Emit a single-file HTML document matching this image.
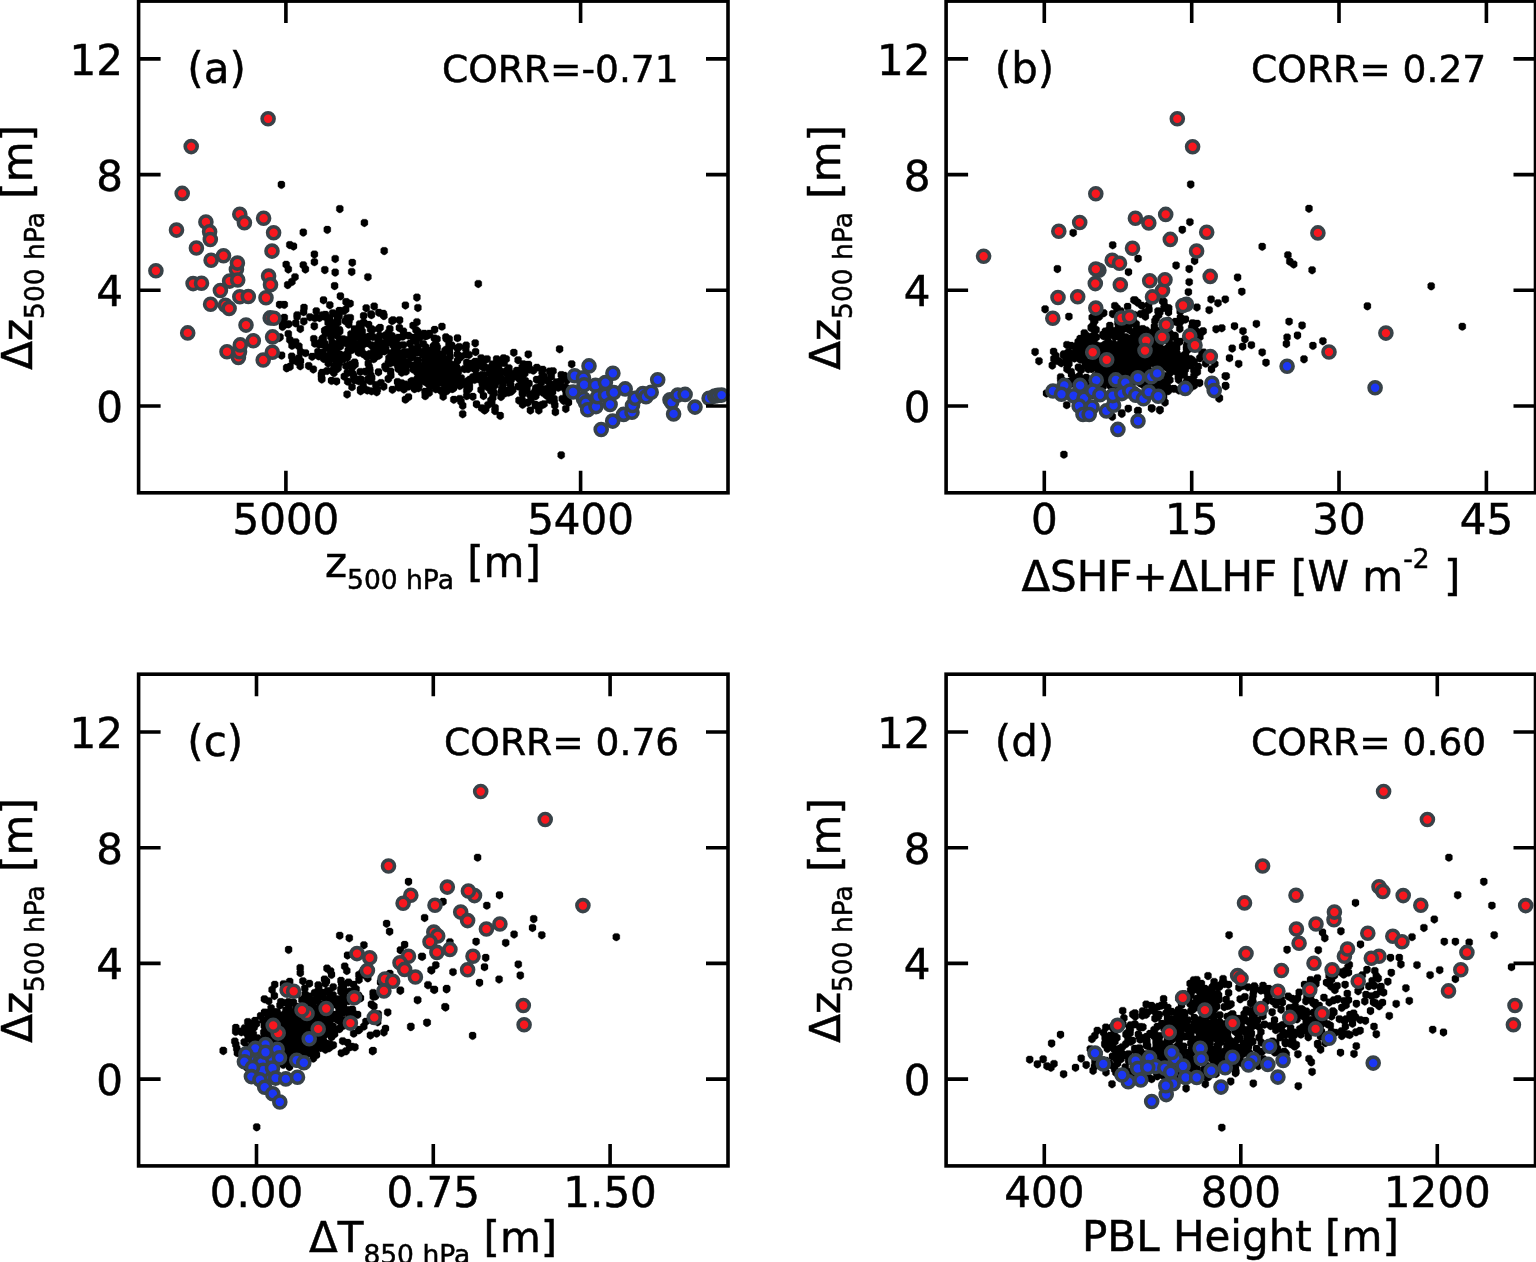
<!DOCTYPE html>
<html lang="en"><head><meta charset="utf-8"><title>Scatter panels</title>
<style>
html,body{margin:0;padding:0;background:#fff;}
body{width:1536px;height:1262px;overflow:hidden;}
svg{display:block;}
text{font-family:"DejaVu Sans","Liberation Sans",sans-serif;fill:#000;stroke:#000;stroke-width:0.5px;}
.t{font-size:42px;}
.s{font-size:26.5px;}
.c{font-size:37.6px;}
.k{fill:#000;stroke:#000;stroke-width:0.3;stroke-linejoin:round;}
.r circle{fill:#f8171e;stroke:#384248;stroke-width:3.6;}
.b circle{fill:#1b36f5;stroke:#384248;stroke-width:3.6;}
.ax{stroke:#000;stroke-width:3.6;fill:none;}
</style></head><body>
<svg width="1536" height="1262" viewBox="0 0 1536 1262">
<rect width="1536" height="1262" fill="#fff"/>

<g id="panel-a">
<path class="k" d="M333.3 325.4h3.6l1.7 1.5v4l-1.9 1.6-1.6.6-1.6-.6-1.9-1.6v-4zM444.1 333.6h3.6l1.7 1.5v4l-1.9 1.6-1.6.6-1.6-.6-1.9-1.6v-4zM383.9 345.5h3.6l1.7 1.5v4l-1.9 1.6-1.6.6-1.6-.6-1.9-1.6v-4zM347.2 316.9h3.6l1.7 1.5v4l-1.9 1.6-1.6.6-1.6-.6-1.9-1.6v-4zM396.7 381.9h3.6l1.7 1.5v4l-1.9 1.6-1.6.6-1.6-.6-1.9-1.6v-4zM344.9 298.9h3.6l1.7 1.5v4l-1.9 1.6-1.6.6-1.6-.6-1.9-1.6v-4zM494.8 355.5h3.6l1.7 1.5v4l-1.9 1.6-1.6.6-1.6-.6-1.9-1.6v-4zM431.7 368.6h3.6l1.7 1.5v4l-1.9 1.6-1.6.6-1.6-.6-1.9-1.6v-4zM493.3 404.2h3.6l1.7 1.5v4l-1.9 1.6-1.6.6-1.6-.6-1.9-1.6v-4zM346.5 347.3h3.6l1.7 1.5v4l-1.9 1.6-1.6.6-1.6-.6-1.9-1.6v-4zM424.3 332.3h3.6l1.7 1.5v4l-1.9 1.6-1.6.6-1.6-.6-1.9-1.6v-4zM449.7 342.6h3.6l1.7 1.5v4l-1.9 1.6-1.6.6-1.6-.6-1.9-1.6v-4zM322 355.2h3.6l1.7 1.5v4l-1.9 1.6-1.6.6-1.6-.6-1.9-1.6v-4zM414.2 326.4h3.6l1.7 1.5v4l-1.9 1.6-1.6.6-1.6-.6-1.9-1.6v-4zM535 384.3h3.6l1.7 1.5v4l-1.9 1.6-1.6.6-1.6-.6-1.9-1.6v-4zM521 388.7h3.6l1.7 1.5v4l-1.9 1.6-1.6.6-1.6-.6-1.9-1.6v-4zM433.7 364.2h3.6l1.7 1.5v4l-1.9 1.6-1.6.6-1.6-.6-1.9-1.6v-4zM395.6 349.3h3.6l1.7 1.5v4l-1.9 1.6-1.6.6-1.6-.6-1.9-1.6v-4zM456.4 374.3h3.6l1.7 1.5v4l-1.9 1.6-1.6.6-1.6-.6-1.9-1.6v-4zM358.7 385.7h3.6l1.7 1.5v4l-1.9 1.6-1.6.6-1.6-.6-1.9-1.6v-4zM346.9 320.8h3.6l1.7 1.5v4l-1.9 1.6-1.6.6-1.6-.6-1.9-1.6v-4zM423.4 392.4h3.6l1.7 1.5v4l-1.9 1.6-1.6.6-1.6-.6-1.9-1.6v-4zM479.8 360.9h3.6l1.7 1.5v4l-1.9 1.6-1.6.6-1.6-.6-1.9-1.6v-4zM417.6 362.3h3.6l1.7 1.5v4l-1.9 1.6-1.6.6-1.6-.6-1.9-1.6v-4zM282.5 301.1h3.6l1.7 1.5v4l-1.9 1.6-1.6.6-1.6-.6-1.9-1.6v-4zM433.3 383.4h3.6l1.7 1.5v4l-1.9 1.6-1.6.6-1.6-.6-1.9-1.6v-4zM355.3 329.9h3.6l1.7 1.5v4l-1.9 1.6-1.6.6-1.6-.6-1.9-1.6v-4zM490.9 360.7h3.6l1.7 1.5v4l-1.9 1.6-1.6.6-1.6-.6-1.9-1.6v-4zM423.3 355.8h3.6l1.7 1.5v4l-1.9 1.6-1.6.6-1.6-.6-1.9-1.6v-4zM427.4 389.1h3.6l1.7 1.5v4l-1.9 1.6-1.6.6-1.6-.6-1.9-1.6v-4zM332.3 362.2h3.6l1.7 1.5v4l-1.9 1.6-1.6.6-1.6-.6-1.9-1.6v-4zM520.2 370.4h3.6l1.7 1.5v4l-1.9 1.6-1.6.6-1.6-.6-1.9-1.6v-4zM533.6 401.1h3.6l1.7 1.5v4l-1.9 1.6-1.6.6-1.6-.6-1.9-1.6v-4zM540.3 373.5h3.6l1.7 1.5v4l-1.9 1.6-1.6.6-1.6-.6-1.9-1.6v-4zM332.2 347.7h3.6l1.7 1.5v4l-1.9 1.6-1.6.6-1.6-.6-1.9-1.6v-4zM502.3 359.2h3.6l1.7 1.5v4l-1.9 1.6-1.6.6-1.6-.6-1.9-1.6v-4zM293.9 319.6h3.6l1.7 1.5v4l-1.9 1.6-1.6.6-1.6-.6-1.9-1.6v-4zM317.2 340.8h3.6l1.7 1.5v4l-1.9 1.6-1.6.6-1.6-.6-1.9-1.6v-4zM403.2 380.7h3.6l1.7 1.5v4l-1.9 1.6-1.6.6-1.6-.6-1.9-1.6v-4zM313 314.4h3.6l1.7 1.5v4l-1.9 1.6-1.6.6-1.6-.6-1.9-1.6v-4zM322.9 326.9h3.6l1.7 1.5v4l-1.9 1.6-1.6.6-1.6-.6-1.9-1.6v-4zM277.2 334.2h3.6l1.7 1.5v4l-1.9 1.6-1.6.6-1.6-.6-1.9-1.6v-4zM428.4 374.6h3.6l1.7 1.5v4l-1.9 1.6-1.6.6-1.6-.6-1.9-1.6v-4zM546.8 389.3h3.6l1.7 1.5v4l-1.9 1.6-1.6.6-1.6-.6-1.9-1.6v-4zM359.5 345.2h3.6l1.7 1.5v4l-1.9 1.6-1.6.6-1.6-.6-1.9-1.6v-4zM454.7 363.7h3.6l1.7 1.5v4l-1.9 1.6-1.6.6-1.6-.6-1.9-1.6v-4zM421.5 340.2h3.6l1.7 1.5v4l-1.9 1.6-1.6.6-1.6-.6-1.9-1.6v-4zM337.3 312.6h3.6l1.7 1.5v4l-1.9 1.6-1.6.6-1.6-.6-1.9-1.6v-4zM338.5 354.4h3.6l1.7 1.5v4l-1.9 1.6-1.6.6-1.6-.6-1.9-1.6v-4zM298.5 325.2h3.6l1.7 1.5v4l-1.9 1.6-1.6.6-1.6-.6-1.9-1.6v-4zM568.2 385.3h3.6l1.7 1.5v4l-1.9 1.6-1.6.6-1.6-.6-1.9-1.6v-4zM437.8 379.2h3.6l1.7 1.5v4l-1.9 1.6-1.6.6-1.6-.6-1.9-1.6v-4zM409.5 381.6h3.6l1.7 1.5v4l-1.9 1.6-1.6.6-1.6-.6-1.9-1.6v-4zM350.2 383.4h3.6l1.7 1.5v4l-1.9 1.6-1.6.6-1.6-.6-1.9-1.6v-4zM408.2 340.1h3.6l1.7 1.5v4l-1.9 1.6-1.6.6-1.6-.6-1.9-1.6v-4zM446.8 344.8h3.6l1.7 1.5v4l-1.9 1.6-1.6.6-1.6-.6-1.9-1.6v-4zM349.2 330.6h3.6l1.7 1.5v4l-1.9 1.6-1.6.6-1.6-.6-1.9-1.6v-4zM434.1 376.5h3.6l1.7 1.5v4l-1.9 1.6-1.6.6-1.6-.6-1.9-1.6v-4zM335.9 316.9h3.6l1.7 1.5v4l-1.9 1.6-1.6.6-1.6-.6-1.9-1.6v-4zM321.7 296.5h3.6l1.7 1.5v4l-1.9 1.6-1.6.6-1.6-.6-1.9-1.6v-4zM335.6 315.5h3.6l1.7 1.5v4l-1.9 1.6-1.6.6-1.6-.6-1.9-1.6v-4zM444.3 346.2h3.6l1.7 1.5v4l-1.9 1.6-1.6.6-1.6-.6-1.9-1.6v-4zM345.5 369.3h3.6l1.7 1.5v4l-1.9 1.6-1.6.6-1.6-.6-1.9-1.6v-4zM282.5 313.9h3.6l1.7 1.5v4l-1.9 1.6-1.6.6-1.6-.6-1.9-1.6v-4zM431.6 342.7h3.6l1.7 1.5v4l-1.9 1.6-1.6.6-1.6-.6-1.9-1.6v-4zM417.4 366.4h3.6l1.7 1.5v4l-1.9 1.6-1.6.6-1.6-.6-1.9-1.6v-4zM433.9 356.2h3.6l1.7 1.5v4l-1.9 1.6-1.6.6-1.6-.6-1.9-1.6v-4zM501.1 368.5h3.6l1.7 1.5v4l-1.9 1.6-1.6.6-1.6-.6-1.9-1.6v-4zM509 381.9h3.6l1.7 1.5v4l-1.9 1.6-1.6.6-1.6-.6-1.9-1.6v-4zM302 317.7h3.6l1.7 1.5v4l-1.9 1.6-1.6.6-1.6-.6-1.9-1.6v-4zM290.8 356.9h3.6l1.7 1.5v4l-1.9 1.6-1.6.6-1.6-.6-1.9-1.6v-4zM330.4 367.2h3.6l1.7 1.5v4l-1.9 1.6-1.6.6-1.6-.6-1.9-1.6v-4zM336.7 343.7h3.6l1.7 1.5v4l-1.9 1.6-1.6.6-1.6-.6-1.9-1.6v-4zM494.6 361.8h3.6l1.7 1.5v4l-1.9 1.6-1.6.6-1.6-.6-1.9-1.6v-4zM467.2 351.2h3.6l1.7 1.5v4l-1.9 1.6-1.6.6-1.6-.6-1.9-1.6v-4zM508 380.5h3.6l1.7 1.5v4l-1.9 1.6-1.6.6-1.6-.6-1.9-1.6v-4zM455.4 370.1h3.6l1.7 1.5v4l-1.9 1.6-1.6.6-1.6-.6-1.9-1.6v-4zM420.4 350.6h3.6l1.7 1.5v4l-1.9 1.6-1.6.6-1.6-.6-1.9-1.6v-4zM308.1 313.5h3.6l1.7 1.5v4l-1.9 1.6-1.6.6-1.6-.6-1.9-1.6v-4zM316.1 348.3h3.6l1.7 1.5v4l-1.9 1.6-1.6.6-1.6-.6-1.9-1.6v-4zM326.3 319h3.6l1.7 1.5v4l-1.9 1.6-1.6.6-1.6-.6-1.9-1.6v-4zM520.4 363.7h3.6l1.7 1.5v4l-1.9 1.6-1.6.6-1.6-.6-1.9-1.6v-4zM422.4 329.9h3.6l1.7 1.5v4l-1.9 1.6-1.6.6-1.6-.6-1.9-1.6v-4zM377 340.4h3.6l1.7 1.5v4l-1.9 1.6-1.6.6-1.6-.6-1.9-1.6v-4zM540.3 368.6h3.6l1.7 1.5v4l-1.9 1.6-1.6.6-1.6-.6-1.9-1.6v-4zM464 345.5h3.6l1.7 1.5v4l-1.9 1.6-1.6.6-1.6-.6-1.9-1.6v-4zM520.8 401h3.6l1.7 1.5v4l-1.9 1.6-1.6.6-1.6-.6-1.9-1.6v-4zM434.1 362.5h3.6l1.7 1.5v4l-1.9 1.6-1.6.6-1.6-.6-1.9-1.6v-4zM416 328.3h3.6l1.7 1.5v4l-1.9 1.6-1.6.6-1.6-.6-1.9-1.6v-4zM562.4 371.9h3.6l1.7 1.5v4l-1.9 1.6-1.6.6-1.6-.6-1.9-1.6v-4zM459.2 398.1h3.6l1.7 1.5v4l-1.9 1.6-1.6.6-1.6-.6-1.9-1.6v-4zM551.2 367.5h3.6l1.7 1.5v4l-1.9 1.6-1.6.6-1.6-.6-1.9-1.6v-4zM358.5 368.2h3.6l1.7 1.5v4l-1.9 1.6-1.6.6-1.6-.6-1.9-1.6v-4zM527.2 379.9h3.6l1.7 1.5v4l-1.9 1.6-1.6.6-1.6-.6-1.9-1.6v-4zM456.4 375.5h3.6l1.7 1.5v4l-1.9 1.6-1.6.6-1.6-.6-1.9-1.6v-4zM369.9 374.1h3.6l1.7 1.5v4l-1.9 1.6-1.6.6-1.6-.6-1.9-1.6v-4zM396.9 383.9h3.6l1.7 1.5v4l-1.9 1.6-1.6.6-1.6-.6-1.9-1.6v-4zM325.7 343.8h3.6l1.7 1.5v4l-1.9 1.6-1.6.6-1.6-.6-1.9-1.6v-4zM396.7 381.8h3.6l1.7 1.5v4l-1.9 1.6-1.6.6-1.6-.6-1.9-1.6v-4zM566.7 398.9h3.6l1.7 1.5v4l-1.9 1.6-1.6.6-1.6-.6-1.9-1.6v-4zM395.2 358h3.6l1.7 1.5v4l-1.9 1.6-1.6.6-1.6-.6-1.9-1.6v-4zM466.8 385.6h3.6l1.7 1.5v4l-1.9 1.6-1.6.6-1.6-.6-1.9-1.6v-4zM486.1 401.4h3.6l1.7 1.5v4l-1.9 1.6-1.6.6-1.6-.6-1.9-1.6v-4zM290.2 342h3.6l1.7 1.5v4l-1.9 1.6-1.6.6-1.6-.6-1.9-1.6v-4zM286.5 330.3h3.6l1.7 1.5v4l-1.9 1.6-1.6.6-1.6-.6-1.9-1.6v-4zM343.6 317.5h3.6l1.7 1.5v4l-1.9 1.6-1.6.6-1.6-.6-1.9-1.6v-4zM496.7 363h3.6l1.7 1.5v4l-1.9 1.6-1.6.6-1.6-.6-1.9-1.6v-4zM377 336.4h3.6l1.7 1.5v4l-1.9 1.6-1.6.6-1.6-.6-1.9-1.6v-4zM429.1 378.4h3.6l1.7 1.5v4l-1.9 1.6-1.6.6-1.6-.6-1.9-1.6v-4zM432.9 341.4h3.6l1.7 1.5v4l-1.9 1.6-1.6.6-1.6-.6-1.9-1.6v-4zM527.9 365.8h3.6l1.7 1.5v4l-1.9 1.6-1.6.6-1.6-.6-1.9-1.6v-4zM355.9 333.1h3.6l1.7 1.5v4l-1.9 1.6-1.6.6-1.6-.6-1.9-1.6v-4zM297 354.5h3.6l1.7 1.5v4l-1.9 1.6-1.6.6-1.6-.6-1.9-1.6v-4zM483.9 405.6h3.6l1.7 1.5v4l-1.9 1.6-1.6.6-1.6-.6-1.9-1.6v-4zM395.7 378.2h3.6l1.7 1.5v4l-1.9 1.6-1.6.6-1.6-.6-1.9-1.6v-4zM343.9 305.9h3.6l1.7 1.5v4l-1.9 1.6-1.6.6-1.6-.6-1.9-1.6v-4zM327.2 352.5h3.6l1.7 1.5v4l-1.9 1.6-1.6.6-1.6-.6-1.9-1.6v-4zM346.7 346.6h3.6l1.7 1.5v4l-1.9 1.6-1.6.6-1.6-.6-1.9-1.6v-4zM436.3 371.6h3.6l1.7 1.5v4l-1.9 1.6-1.6.6-1.6-.6-1.9-1.6v-4zM323.6 313.3h3.6l1.7 1.5v4l-1.9 1.6-1.6.6-1.6-.6-1.9-1.6v-4zM337.5 359.4h3.6l1.7 1.5v4l-1.9 1.6-1.6.6-1.6-.6-1.9-1.6v-4zM449.8 341.7h3.6l1.7 1.5v4l-1.9 1.6-1.6.6-1.6-.6-1.9-1.6v-4zM399.5 363.4h3.6l1.7 1.5v4l-1.9 1.6-1.6.6-1.6-.6-1.9-1.6v-4zM344.7 336.3h3.6l1.7 1.5v4l-1.9 1.6-1.6.6-1.6-.6-1.9-1.6v-4zM441.7 379.1h3.6l1.7 1.5v4l-1.9 1.6-1.6.6-1.6-.6-1.9-1.6v-4zM427.6 329.9h3.6l1.7 1.5v4l-1.9 1.6-1.6.6-1.6-.6-1.9-1.6v-4zM298.7 357.5h3.6l1.7 1.5v4l-1.9 1.6-1.6.6-1.6-.6-1.9-1.6v-4zM301.8 308.4h3.6l1.7 1.5v4l-1.9 1.6-1.6.6-1.6-.6-1.9-1.6v-4zM376.7 368.5h3.6l1.7 1.5v4l-1.9 1.6-1.6.6-1.6-.6-1.9-1.6v-4zM352 375.8h3.6l1.7 1.5v4l-1.9 1.6-1.6.6-1.6-.6-1.9-1.6v-4zM474.7 400.6h3.6l1.7 1.5v4l-1.9 1.6-1.6.6-1.6-.6-1.9-1.6v-4zM503 389.7h3.6l1.7 1.5v4l-1.9 1.6-1.6.6-1.6-.6-1.9-1.6v-4zM472.8 376.1h3.6l1.7 1.5v4l-1.9 1.6-1.6.6-1.6-.6-1.9-1.6v-4zM534.8 376h3.6l1.7 1.5v4l-1.9 1.6-1.6.6-1.6-.6-1.9-1.6v-4zM479.4 354.4h3.6l1.7 1.5v4l-1.9 1.6-1.6.6-1.6-.6-1.9-1.6v-4zM378.3 324.1h3.6l1.7 1.5v4l-1.9 1.6-1.6.6-1.6-.6-1.9-1.6v-4zM542.7 388.9h3.6l1.7 1.5v4l-1.9 1.6-1.6.6-1.6-.6-1.9-1.6v-4zM319.6 371.1h3.6l1.7 1.5v4l-1.9 1.6-1.6.6-1.6-.6-1.9-1.6v-4zM348.3 299.9h3.6l1.7 1.5v4l-1.9 1.6-1.6.6-1.6-.6-1.9-1.6v-4zM360.4 331.6h3.6l1.7 1.5v4l-1.9 1.6-1.6.6-1.6-.6-1.9-1.6v-4zM429.8 381.7h3.6l1.7 1.5v4l-1.9 1.6-1.6.6-1.6-.6-1.9-1.6v-4zM459.5 352.7h3.6l1.7 1.5v4l-1.9 1.6-1.6.6-1.6-.6-1.9-1.6v-4zM328 301.5h3.6l1.7 1.5v4l-1.9 1.6-1.6.6-1.6-.6-1.9-1.6v-4zM387.6 331.8h3.6l1.7 1.5v4l-1.9 1.6-1.6.6-1.6-.6-1.9-1.6v-4zM312.5 322.6h3.6l1.7 1.5v4l-1.9 1.6-1.6.6-1.6-.6-1.9-1.6v-4zM313 339.9h3.6l1.7 1.5v4l-1.9 1.6-1.6.6-1.6-.6-1.9-1.6v-4zM421.1 348.3h3.6l1.7 1.5v4l-1.9 1.6-1.6.6-1.6-.6-1.9-1.6v-4zM406.8 382.8h3.6l1.7 1.5v4l-1.9 1.6-1.6.6-1.6-.6-1.9-1.6v-4zM491.2 361.3h3.6l1.7 1.5v4l-1.9 1.6-1.6.6-1.6-.6-1.9-1.6v-4zM559.2 376.9h3.6l1.7 1.5v4l-1.9 1.6-1.6.6-1.6-.6-1.9-1.6v-4zM471 393h3.6l1.7 1.5v4l-1.9 1.6-1.6.6-1.6-.6-1.9-1.6v-4zM443.4 363.9h3.6l1.7 1.5v4l-1.9 1.6-1.6.6-1.6-.6-1.9-1.6v-4zM337.9 338.5h3.6l1.7 1.5v4l-1.9 1.6-1.6.6-1.6-.6-1.9-1.6v-4zM485.3 355.4h3.6l1.7 1.5v4l-1.9 1.6-1.6.6-1.6-.6-1.9-1.6v-4zM381.5 309.9h3.6l1.7 1.5v4l-1.9 1.6-1.6.6-1.6-.6-1.9-1.6v-4zM525.1 385.6h3.6l1.7 1.5v4l-1.9 1.6-1.6.6-1.6-.6-1.9-1.6v-4zM526.1 399h3.6l1.7 1.5v4l-1.9 1.6-1.6.6-1.6-.6-1.9-1.6v-4zM535.5 387.6h3.6l1.7 1.5v4l-1.9 1.6-1.6.6-1.6-.6-1.9-1.6v-4zM334.7 377.7h3.6l1.7 1.5v4l-1.9 1.6-1.6.6-1.6-.6-1.9-1.6v-4zM500 385.7h3.6l1.7 1.5v4l-1.9 1.6-1.6.6-1.6-.6-1.9-1.6v-4zM411.3 322h3.6l1.7 1.5v4l-1.9 1.6-1.6.6-1.6-.6-1.9-1.6v-4zM280.7 319.6h3.6l1.7 1.5v4l-1.9 1.6-1.6.6-1.6-.6-1.9-1.6v-4zM390.6 386h3.6l1.7 1.5v4l-1.9 1.6-1.6.6-1.6-.6-1.9-1.6v-4zM338.6 292.6h3.6l1.7 1.5v4l-1.9 1.6-1.6.6-1.6-.6-1.9-1.6v-4zM457.4 343.3h3.6l1.7 1.5v4l-1.9 1.6-1.6.6-1.6-.6-1.9-1.6v-4zM332.1 369.3h3.6l1.7 1.5v4l-1.9 1.6-1.6.6-1.6-.6-1.9-1.6v-4zM421.5 375.2h3.6l1.7 1.5v4l-1.9 1.6-1.6.6-1.6-.6-1.9-1.6v-4zM426.5 380.3h3.6l1.7 1.5v4l-1.9 1.6-1.6.6-1.6-.6-1.9-1.6v-4zM402.1 385.7h3.6l1.7 1.5v4l-1.9 1.6-1.6.6-1.6-.6-1.9-1.6v-4zM448.1 360.2h3.6l1.7 1.5v4l-1.9 1.6-1.6.6-1.6-.6-1.9-1.6v-4zM319.7 339.6h3.6l1.7 1.5v4l-1.9 1.6-1.6.6-1.6-.6-1.9-1.6v-4zM375 346.9h3.6l1.7 1.5v4l-1.9 1.6-1.6.6-1.6-.6-1.9-1.6v-4zM492.5 389.4h3.6l1.7 1.5v4l-1.9 1.6-1.6.6-1.6-.6-1.9-1.6v-4zM436 363.4h3.6l1.7 1.5v4l-1.9 1.6-1.6.6-1.6-.6-1.9-1.6v-4zM401.5 341.4h3.6l1.7 1.5v4l-1.9 1.6-1.6.6-1.6-.6-1.9-1.6v-4zM475.9 358.3h3.6l1.7 1.5v4l-1.9 1.6-1.6.6-1.6-.6-1.9-1.6v-4zM489.4 363.6h3.6l1.7 1.5v4l-1.9 1.6-1.6.6-1.6-.6-1.9-1.6v-4zM537.1 384h3.6l1.7 1.5v4l-1.9 1.6-1.6.6-1.6-.6-1.9-1.6v-4zM554.8 378.6h3.6l1.7 1.5v4l-1.9 1.6-1.6.6-1.6-.6-1.9-1.6v-4zM515 369.6h3.6l1.7 1.5v4l-1.9 1.6-1.6.6-1.6-.6-1.9-1.6v-4zM381.4 311.3h3.6l1.7 1.5v4l-1.9 1.6-1.6.6-1.6-.6-1.9-1.6v-4zM433 362.6h3.6l1.7 1.5v4l-1.9 1.6-1.6.6-1.6-.6-1.9-1.6v-4zM397.3 341.8h3.6l1.7 1.5v4l-1.9 1.6-1.6.6-1.6-.6-1.9-1.6v-4zM361.8 312.3h3.6l1.7 1.5v4l-1.9 1.6-1.6.6-1.6-.6-1.9-1.6v-4zM398.9 361.3h3.6l1.7 1.5v4l-1.9 1.6-1.6.6-1.6-.6-1.9-1.6v-4zM465.7 377.8h3.6l1.7 1.5v4l-1.9 1.6-1.6.6-1.6-.6-1.9-1.6v-4zM397.8 316.6h3.6l1.7 1.5v4l-1.9 1.6-1.6.6-1.6-.6-1.9-1.6v-4zM446.2 373.7h3.6l1.7 1.5v4l-1.9 1.6-1.6.6-1.6-.6-1.9-1.6v-4zM370.5 326.3h3.6l1.7 1.5v4l-1.9 1.6-1.6.6-1.6-.6-1.9-1.6v-4zM472.7 364.6h3.6l1.7 1.5v4l-1.9 1.6-1.6.6-1.6-.6-1.9-1.6v-4zM362.8 385.4h3.6l1.7 1.5v4l-1.9 1.6-1.6.6-1.6-.6-1.9-1.6v-4zM425.6 362.3h3.6l1.7 1.5v4l-1.9 1.6-1.6.6-1.6-.6-1.9-1.6v-4zM455.4 371.1h3.6l1.7 1.5v4l-1.9 1.6-1.6.6-1.6-.6-1.9-1.6v-4zM365.3 353.4h3.6l1.7 1.5v4l-1.9 1.6-1.6.6-1.6-.6-1.9-1.6v-4zM452 396h3.6l1.7 1.5v4l-1.9 1.6-1.6.6-1.6-.6-1.9-1.6v-4zM483.1 363.5h3.6l1.7 1.5v4l-1.9 1.6-1.6.6-1.6-.6-1.9-1.6v-4zM429.8 354.8h3.6l1.7 1.5v4l-1.9 1.6-1.6.6-1.6-.6-1.9-1.6v-4zM443.8 383.3h3.6l1.7 1.5v4l-1.9 1.6-1.6.6-1.6-.6-1.9-1.6v-4zM505.1 376.2h3.6l1.7 1.5v4l-1.9 1.6-1.6.6-1.6-.6-1.9-1.6v-4zM292.3 340.5h3.6l1.7 1.5v4l-1.9 1.6-1.6.6-1.6-.6-1.9-1.6v-4zM327.8 314.6h3.6l1.7 1.5v4l-1.9 1.6-1.6.6-1.6-.6-1.9-1.6v-4zM370.4 351.5h3.6l1.7 1.5v4l-1.9 1.6-1.6.6-1.6-.6-1.9-1.6v-4zM401 332.9h3.6l1.7 1.5v4l-1.9 1.6-1.6.6-1.6-.6-1.9-1.6v-4zM474.4 371.5h3.6l1.7 1.5v4l-1.9 1.6-1.6.6-1.6-.6-1.9-1.6v-4zM361.8 318.8h3.6l1.7 1.5v4l-1.9 1.6-1.6.6-1.6-.6-1.9-1.6v-4zM320.3 369h3.6l1.7 1.5v4l-1.9 1.6-1.6.6-1.6-.6-1.9-1.6v-4zM417.7 362.8h3.6l1.7 1.5v4l-1.9 1.6-1.6.6-1.6-.6-1.9-1.6v-4zM516.3 356.5h3.6l1.7 1.5v4l-1.9 1.6-1.6.6-1.6-.6-1.9-1.6v-4zM326.4 359.6h3.6l1.7 1.5v4l-1.9 1.6-1.6.6-1.6-.6-1.9-1.6v-4zM377 309h3.6l1.7 1.5v4l-1.9 1.6-1.6.6-1.6-.6-1.9-1.6v-4zM277.8 301h3.6l1.7 1.5v4l-1.9 1.6-1.6.6-1.6-.6-1.9-1.6v-4zM391.3 316.6h3.6l1.7 1.5v4l-1.9 1.6-1.6.6-1.6-.6-1.9-1.6v-4zM479.8 404.4h3.6l1.7 1.5v4l-1.9 1.6-1.6.6-1.6-.6-1.9-1.6v-4zM371.1 333.2h3.6l1.7 1.5v4l-1.9 1.6-1.6.6-1.6-.6-1.9-1.6v-4zM375.5 386.3h3.6l1.7 1.5v4l-1.9 1.6-1.6.6-1.6-.6-1.9-1.6v-4zM402.8 367h3.6l1.7 1.5v4l-1.9 1.6-1.6.6-1.6-.6-1.9-1.6v-4zM295.2 358h3.6l1.7 1.5v4l-1.9 1.6-1.6.6-1.6-.6-1.9-1.6v-4zM423.6 378.3h3.6l1.7 1.5v4l-1.9 1.6-1.6.6-1.6-.6-1.9-1.6v-4zM366.5 375.5h3.6l1.7 1.5v4l-1.9 1.6-1.6.6-1.6-.6-1.9-1.6v-4zM376.3 338.2h3.6l1.7 1.5v4l-1.9 1.6-1.6.6-1.6-.6-1.9-1.6v-4zM540.9 365.9h3.6l1.7 1.5v4l-1.9 1.6-1.6.6-1.6-.6-1.9-1.6v-4zM455.7 344.7h3.6l1.7 1.5v4l-1.9 1.6-1.6.6-1.6-.6-1.9-1.6v-4zM381.8 339.5h3.6l1.7 1.5v4l-1.9 1.6-1.6.6-1.6-.6-1.9-1.6v-4zM521.4 360.5h3.6l1.7 1.5v4l-1.9 1.6-1.6.6-1.6-.6-1.9-1.6v-4zM351 370.3h3.6l1.7 1.5v4l-1.9 1.6-1.6.6-1.6-.6-1.9-1.6v-4zM509.7 370.9h3.6l1.7 1.5v4l-1.9 1.6-1.6.6-1.6-.6-1.9-1.6v-4zM380.4 340.1h3.6l1.7 1.5v4l-1.9 1.6-1.6.6-1.6-.6-1.9-1.6v-4zM280.7 323.1h3.6l1.7 1.5v4l-1.9 1.6-1.6.6-1.6-.6-1.9-1.6v-4zM418.1 333.7h3.6l1.7 1.5v4l-1.9 1.6-1.6.6-1.6-.6-1.9-1.6v-4zM546.6 378h3.6l1.7 1.5v4l-1.9 1.6-1.6.6-1.6-.6-1.9-1.6v-4zM342.2 307.2h3.6l1.7 1.5v4l-1.9 1.6-1.6.6-1.6-.6-1.9-1.6v-4zM489.6 380.9h3.6l1.7 1.5v4l-1.9 1.6-1.6.6-1.6-.6-1.9-1.6v-4zM559.5 371.3h3.6l1.7 1.5v4l-1.9 1.6-1.6.6-1.6-.6-1.9-1.6v-4zM434.5 341.9h3.6l1.7 1.5v4l-1.9 1.6-1.6.6-1.6-.6-1.9-1.6v-4zM411.3 365.7h3.6l1.7 1.5v4l-1.9 1.6-1.6.6-1.6-.6-1.9-1.6v-4zM439 387.1h3.6l1.7 1.5v4l-1.9 1.6-1.6.6-1.6-.6-1.9-1.6v-4zM322.8 339.9h3.6l1.7 1.5v4l-1.9 1.6-1.6.6-1.6-.6-1.9-1.6v-4zM423.2 332.3h3.6l1.7 1.5v4l-1.9 1.6-1.6.6-1.6-.6-1.9-1.6v-4zM523.9 379.9h3.6l1.7 1.5v4l-1.9 1.6-1.6.6-1.6-.6-1.9-1.6v-4zM424.6 374.7h3.6l1.7 1.5v4l-1.9 1.6-1.6.6-1.6-.6-1.9-1.6v-4zM480.5 380h3.6l1.7 1.5v4l-1.9 1.6-1.6.6-1.6-.6-1.9-1.6v-4zM501.8 354.6h3.6l1.7 1.5v4l-1.9 1.6-1.6.6-1.6-.6-1.9-1.6v-4zM417.2 381.8h3.6l1.7 1.5v4l-1.9 1.6-1.6.6-1.6-.6-1.9-1.6v-4zM374 381.2h3.6l1.7 1.5v4l-1.9 1.6-1.6.6-1.6-.6-1.9-1.6v-4zM317.7 314.2h3.6l1.7 1.5v4l-1.9 1.6-1.6.6-1.6-.6-1.9-1.6v-4zM390.2 317.2h3.6l1.7 1.5v4l-1.9 1.6-1.6.6-1.6-.6-1.9-1.6v-4zM284.7 320.4h3.6l1.7 1.5v4l-1.9 1.6-1.6.6-1.6-.6-1.9-1.6v-4zM311.5 365.7h3.6l1.7 1.5v4l-1.9 1.6-1.6.6-1.6-.6-1.9-1.6v-4zM420.8 375.4h3.6l1.7 1.5v4l-1.9 1.6-1.6.6-1.6-.6-1.9-1.6v-4zM278.2 333.6h3.6l1.7 1.5v4l-1.9 1.6-1.6.6-1.6-.6-1.9-1.6v-4zM382.1 312.3h3.6l1.7 1.5v4l-1.9 1.6-1.6.6-1.6-.6-1.9-1.6v-4zM326.1 327.2h3.6l1.7 1.5v4l-1.9 1.6-1.6.6-1.6-.6-1.9-1.6v-4zM473.8 348.3h3.6l1.7 1.5v4l-1.9 1.6-1.6.6-1.6-.6-1.9-1.6v-4zM435.1 345.2h3.6l1.7 1.5v4l-1.9 1.6-1.6.6-1.6-.6-1.9-1.6v-4zM411.4 333.9h3.6l1.7 1.5v4l-1.9 1.6-1.6.6-1.6-.6-1.9-1.6v-4zM411 379.7h3.6l1.7 1.5v4l-1.9 1.6-1.6.6-1.6-.6-1.9-1.6v-4zM336.6 310.3h3.6l1.7 1.5v4l-1.9 1.6-1.6.6-1.6-.6-1.9-1.6v-4zM369.6 311.4h3.6l1.7 1.5v4l-1.9 1.6-1.6.6-1.6-.6-1.9-1.6v-4zM399.7 379.4h3.6l1.7 1.5v4l-1.9 1.6-1.6.6-1.6-.6-1.9-1.6v-4zM344.6 351.1h3.6l1.7 1.5v4l-1.9 1.6-1.6.6-1.6-.6-1.9-1.6v-4zM384.2 339.8h3.6l1.7 1.5v4l-1.9 1.6-1.6.6-1.6-.6-1.9-1.6v-4zM326.4 326h3.6l1.7 1.5v4l-1.9 1.6-1.6.6-1.6-.6-1.9-1.6v-4zM481.3 357.7h3.6l1.7 1.5v4l-1.9 1.6-1.6.6-1.6-.6-1.9-1.6v-4zM359.6 347.7h3.6l1.7 1.5v4l-1.9 1.6-1.6.6-1.6-.6-1.9-1.6v-4zM344.3 298.3h3.6l1.7 1.5v4l-1.9 1.6-1.6.6-1.6-.6-1.9-1.6v-4zM455.6 350.8h3.6l1.7 1.5v4l-1.9 1.6-1.6.6-1.6-.6-1.9-1.6v-4zM488 369.8h3.6l1.7 1.5v4l-1.9 1.6-1.6.6-1.6-.6-1.9-1.6v-4zM433.9 350.8h3.6l1.7 1.5v4l-1.9 1.6-1.6.6-1.6-.6-1.9-1.6v-4zM416.6 384.5h3.6l1.7 1.5v4l-1.9 1.6-1.6.6-1.6-.6-1.9-1.6v-4zM288 336.3h3.6l1.7 1.5v4l-1.9 1.6-1.6.6-1.6-.6-1.9-1.6v-4zM375.6 341.1h3.6l1.7 1.5v4l-1.9 1.6-1.6.6-1.6-.6-1.9-1.6v-4zM549.5 372.9h3.6l1.7 1.5v4l-1.9 1.6-1.6.6-1.6-.6-1.9-1.6v-4zM441.4 393h3.6l1.7 1.5v4l-1.9 1.6-1.6.6-1.6-.6-1.9-1.6v-4zM302.2 303.9h3.6l1.7 1.5v4l-1.9 1.6-1.6.6-1.6-.6-1.9-1.6v-4zM451.8 361.9h3.6l1.7 1.5v4l-1.9 1.6-1.6.6-1.6-.6-1.9-1.6v-4zM286.8 320.6h3.6l1.7 1.5v4l-1.9 1.6-1.6.6-1.6-.6-1.9-1.6v-4zM441.2 360.6h3.6l1.7 1.5v4l-1.9 1.6-1.6.6-1.6-.6-1.9-1.6v-4zM288.2 363.1h3.6l1.7 1.5v4l-1.9 1.6-1.6.6-1.6-.6-1.9-1.6v-4zM425.6 331.8h3.6l1.7 1.5v4l-1.9 1.6-1.6.6-1.6-.6-1.9-1.6v-4zM444.5 335.1h3.6l1.7 1.5v4l-1.9 1.6-1.6.6-1.6-.6-1.9-1.6v-4zM391.5 335.5h3.6l1.7 1.5v4l-1.9 1.6-1.6.6-1.6-.6-1.9-1.6v-4zM430.8 369h3.6l1.7 1.5v4l-1.9 1.6-1.6.6-1.6-.6-1.9-1.6v-4zM310.3 353h3.6l1.7 1.5v4l-1.9 1.6-1.6.6-1.6-.6-1.9-1.6v-4zM498.7 359.6h3.6l1.7 1.5v4l-1.9 1.6-1.6.6-1.6-.6-1.9-1.6v-4zM390.9 337.6h3.6l1.7 1.5v4l-1.9 1.6-1.6.6-1.6-.6-1.9-1.6v-4zM397.6 324.3h3.6l1.7 1.5v4l-1.9 1.6-1.6.6-1.6-.6-1.9-1.6v-4zM410.5 361.8h3.6l1.7 1.5v4l-1.9 1.6-1.6.6-1.6-.6-1.9-1.6v-4zM457.9 395.2h3.6l1.7 1.5v4l-1.9 1.6-1.6.6-1.6-.6-1.9-1.6v-4zM497.5 366.8h3.6l1.7 1.5v4l-1.9 1.6-1.6.6-1.6-.6-1.9-1.6v-4zM383.2 332.2h3.6l1.7 1.5v4l-1.9 1.6-1.6.6-1.6-.6-1.9-1.6v-4zM333 341h3.6l1.7 1.5v4l-1.9 1.6-1.6.6-1.6-.6-1.9-1.6v-4zM511 386.3h3.6l1.7 1.5v4l-1.9 1.6-1.6.6-1.6-.6-1.9-1.6v-4zM369 371.9h3.6l1.7 1.5v4l-1.9 1.6-1.6.6-1.6-.6-1.9-1.6v-4zM547.9 367.8h3.6l1.7 1.5v4l-1.9 1.6-1.6.6-1.6-.6-1.9-1.6v-4zM295.3 313.1h3.6l1.7 1.5v4l-1.9 1.6-1.6.6-1.6-.6-1.9-1.6v-4zM324.8 325.9h3.6l1.7 1.5v4l-1.9 1.6-1.6.6-1.6-.6-1.9-1.6v-4zM335.9 312.8h3.6l1.7 1.5v4l-1.9 1.6-1.6.6-1.6-.6-1.9-1.6v-4zM535 363.9h3.6l1.7 1.5v4l-1.9 1.6-1.6.6-1.6-.6-1.9-1.6v-4zM434.4 363.5h3.6l1.7 1.5v4l-1.9 1.6-1.6.6-1.6-.6-1.9-1.6v-4zM279.8 351.8h3.6l1.7 1.5v4l-1.9 1.6-1.6.6-1.6-.6-1.9-1.6v-4zM368.2 377.4h3.6l1.7 1.5v4l-1.9 1.6-1.6.6-1.6-.6-1.9-1.6v-4zM417.3 378.4h3.6l1.7 1.5v4l-1.9 1.6-1.6.6-1.6-.6-1.9-1.6v-4zM448.1 364.7h3.6l1.7 1.5v4l-1.9 1.6-1.6.6-1.6-.6-1.9-1.6v-4zM427.7 372.1h3.6l1.7 1.5v4l-1.9 1.6-1.6.6-1.6-.6-1.9-1.6v-4zM515 366.9h3.6l1.7 1.5v4l-1.9 1.6-1.6.6-1.6-.6-1.9-1.6v-4zM431.7 381.8h3.6l1.7 1.5v4l-1.9 1.6-1.6.6-1.6-.6-1.9-1.6v-4zM541.6 385.8h3.6l1.7 1.5v4l-1.9 1.6-1.6.6-1.6-.6-1.9-1.6v-4zM379.2 379.3h3.6l1.7 1.5v4l-1.9 1.6-1.6.6-1.6-.6-1.9-1.6v-4zM401.6 327.7h3.6l1.7 1.5v4l-1.9 1.6-1.6.6-1.6-.6-1.9-1.6v-4zM491.1 385h3.6l1.7 1.5v4l-1.9 1.6-1.6.6-1.6-.6-1.9-1.6v-4zM352.7 325.5h3.6l1.7 1.5v4l-1.9 1.6-1.6.6-1.6-.6-1.9-1.6v-4zM303.7 349.4h3.6l1.7 1.5v4l-1.9 1.6-1.6.6-1.6-.6-1.9-1.6v-4zM369.5 377h3.6l1.7 1.5v4l-1.9 1.6-1.6.6-1.6-.6-1.9-1.6v-4zM414.4 347.2h3.6l1.7 1.5v4l-1.9 1.6-1.6.6-1.6-.6-1.9-1.6v-4zM405.1 348.6h3.6l1.7 1.5v4l-1.9 1.6-1.6.6-1.6-.6-1.9-1.6v-4zM506.7 388.9h3.6l1.7 1.5v4l-1.9 1.6-1.6.6-1.6-.6-1.9-1.6v-4zM489.1 397.1h3.6l1.7 1.5v4l-1.9 1.6-1.6.6-1.6-.6-1.9-1.6v-4zM452.2 372.8h3.6l1.7 1.5v4l-1.9 1.6-1.6.6-1.6-.6-1.9-1.6v-4zM435.4 343.7h3.6l1.7 1.5v4l-1.9 1.6-1.6.6-1.6-.6-1.9-1.6v-4zM388 325.3h3.6l1.7 1.5v4l-1.9 1.6-1.6.6-1.6-.6-1.9-1.6v-4zM295.4 311.4h3.6l1.7 1.5v4l-1.9 1.6-1.6.6-1.6-.6-1.9-1.6v-4zM319.1 338.8h3.6l1.7 1.5v4l-1.9 1.6-1.6.6-1.6-.6-1.9-1.6v-4zM353.2 361h3.6l1.7 1.5v4l-1.9 1.6-1.6.6-1.6-.6-1.9-1.6v-4zM312 335.3h3.6l1.7 1.5v4l-1.9 1.6-1.6.6-1.6-.6-1.9-1.6v-4zM359.4 376h3.6l1.7 1.5v4l-1.9 1.6-1.6.6-1.6-.6-1.9-1.6v-4zM306.9 362.3h3.6l1.7 1.5v4l-1.9 1.6-1.6.6-1.6-.6-1.9-1.6v-4zM450.5 378.2h3.6l1.7 1.5v4l-1.9 1.6-1.6.6-1.6-.6-1.9-1.6v-4zM342.5 372.9h3.6l1.7 1.5v4l-1.9 1.6-1.6.6-1.6-.6-1.9-1.6v-4zM447.2 341.1h3.6l1.7 1.5v4l-1.9 1.6-1.6.6-1.6-.6-1.9-1.6v-4zM410.7 353.4h3.6l1.7 1.5v4l-1.9 1.6-1.6.6-1.6-.6-1.9-1.6v-4zM498.9 377.6h3.6l1.7 1.5v4l-1.9 1.6-1.6.6-1.6-.6-1.9-1.6v-4zM540.2 401.3h3.6l1.7 1.5v4l-1.9 1.6-1.6.6-1.6-.6-1.9-1.6v-4zM441.6 357.9h3.6l1.7 1.5v4l-1.9 1.6-1.6.6-1.6-.6-1.9-1.6v-4zM509.4 370.4h3.6l1.7 1.5v4l-1.9 1.6-1.6.6-1.6-.6-1.9-1.6v-4zM316.9 352.6h3.6l1.7 1.5v4l-1.9 1.6-1.6.6-1.6-.6-1.9-1.6v-4zM504.4 355.5h3.6l1.7 1.5v4l-1.9 1.6-1.6.6-1.6-.6-1.9-1.6v-4zM297.1 342.7h3.6l1.7 1.5v4l-1.9 1.6-1.6.6-1.6-.6-1.9-1.6v-4zM523.5 377.2h3.6l1.7 1.5v4l-1.9 1.6-1.6.6-1.6-.6-1.9-1.6v-4zM365.5 386.7h3.6l1.7 1.5v4l-1.9 1.6-1.6.6-1.6-.6-1.9-1.6v-4zM368 367.3h3.6l1.7 1.5v4l-1.9 1.6-1.6.6-1.6-.6-1.9-1.6v-4zM435.2 335.6h3.6l1.7 1.5v4l-1.9 1.6-1.6.6-1.6-.6-1.9-1.6v-4zM389 372h3.6l1.7 1.5v4l-1.9 1.6-1.6.6-1.6-.6-1.9-1.6v-4zM542.9 375.7h3.6l1.7 1.5v4l-1.9 1.6-1.6.6-1.6-.6-1.9-1.6v-4zM374.9 388.5h3.6l1.7 1.5v4l-1.9 1.6-1.6.6-1.6-.6-1.9-1.6v-4zM463.4 379.4h3.6l1.7 1.5v4l-1.9 1.6-1.6.6-1.6-.6-1.9-1.6v-4zM542.2 400.5h3.6l1.7 1.5v4l-1.9 1.6-1.6.6-1.6-.6-1.9-1.6v-4zM494.6 377.4h3.6l1.7 1.5v4l-1.9 1.6-1.6.6-1.6-.6-1.9-1.6v-4zM293.9 338.4h3.6l1.7 1.5v4l-1.9 1.6-1.6.6-1.6-.6-1.9-1.6v-4zM432.6 334.7h3.6l1.7 1.5v4l-1.9 1.6-1.6.6-1.6-.6-1.9-1.6v-4zM289.9 352.8h3.6l1.7 1.5v4l-1.9 1.6-1.6.6-1.6-.6-1.9-1.6v-4zM431.7 367.7h3.6l1.7 1.5v4l-1.9 1.6-1.6.6-1.6-.6-1.9-1.6v-4zM406.6 331.9h3.6l1.7 1.5v4l-1.9 1.6-1.6.6-1.6-.6-1.9-1.6v-4zM467.6 380.7h3.6l1.7 1.5v4l-1.9 1.6-1.6.6-1.6-.6-1.9-1.6v-4zM337.5 307.1h3.6l1.7 1.5v4l-1.9 1.6-1.6.6-1.6-.6-1.9-1.6v-4zM516.7 382.8h3.6l1.7 1.5v4l-1.9 1.6-1.6.6-1.6-.6-1.9-1.6v-4zM531.5 366.9h3.6l1.7 1.5v4l-1.9 1.6-1.6.6-1.6-.6-1.9-1.6v-4zM391.1 341.5h3.6l1.7 1.5v4l-1.9 1.6-1.6.6-1.6-.6-1.9-1.6v-4zM441.9 375.4h3.6l1.7 1.5v4l-1.9 1.6-1.6.6-1.6-.6-1.9-1.6v-4zM393.3 359h3.6l1.7 1.5v4l-1.9 1.6-1.6.6-1.6-.6-1.9-1.6v-4zM298.8 348.3h3.6l1.7 1.5v4l-1.9 1.6-1.6.6-1.6-.6-1.9-1.6v-4zM535.7 402.9h3.6l1.7 1.5v4l-1.9 1.6-1.6.6-1.6-.6-1.9-1.6v-4zM526.7 360.9h3.6l1.7 1.5v4l-1.9 1.6-1.6.6-1.6-.6-1.9-1.6v-4zM381.9 383h3.6l1.7 1.5v4l-1.9 1.6-1.6.6-1.6-.6-1.9-1.6v-4zM527.2 364.7h3.6l1.7 1.5v4l-1.9 1.6-1.6.6-1.6-.6-1.9-1.6v-4zM314.5 307.6h3.6l1.7 1.5v4l-1.9 1.6-1.6.6-1.6-.6-1.9-1.6v-4zM397.7 355.6h3.6l1.7 1.5v4l-1.9 1.6-1.6.6-1.6-.6-1.9-1.6v-4zM542.3 373.3h3.6l1.7 1.5v4l-1.9 1.6-1.6.6-1.6-.6-1.9-1.6v-4zM330.9 309.6h3.6l1.7 1.5v4l-1.9 1.6-1.6.6-1.6-.6-1.9-1.6v-4zM336.3 364.5h3.6l1.7 1.5v4l-1.9 1.6-1.6.6-1.6-.6-1.9-1.6v-4zM388.8 367.8h3.6l1.7 1.5v4l-1.9 1.6-1.6.6-1.6-.6-1.9-1.6v-4zM416 378.3h3.6l1.7 1.5v4l-1.9 1.6-1.6.6-1.6-.6-1.9-1.6v-4zM320 375.7h3.6l1.7 1.5v4l-1.9 1.6-1.6.6-1.6-.6-1.9-1.6v-4zM469.5 359.9h3.6l1.7 1.5v4l-1.9 1.6-1.6.6-1.6-.6-1.9-1.6v-4zM426.9 373.9h3.6l1.7 1.5v4l-1.9 1.6-1.6.6-1.6-.6-1.9-1.6v-4zM443.2 347.2h3.6l1.7 1.5v4l-1.9 1.6-1.6.6-1.6-.6-1.9-1.6v-4zM369.2 310.4h3.6l1.7 1.5v4l-1.9 1.6-1.6.6-1.6-.6-1.9-1.6v-4zM364.4 304.5h3.6l1.7 1.5v4l-1.9 1.6-1.6.6-1.6-.6-1.9-1.6v-4zM323.6 329.6h3.6l1.7 1.5v4l-1.9 1.6-1.6.6-1.6-.6-1.9-1.6v-4zM450.4 385.3h3.6l1.7 1.5v4l-1.9 1.6-1.6.6-1.6-.6-1.9-1.6v-4zM565.3 376.6h3.6l1.7 1.5v4l-1.9 1.6-1.6.6-1.6-.6-1.9-1.6v-4zM563.8 386.3h3.6l1.7 1.5v4l-1.9 1.6-1.6.6-1.6-.6-1.9-1.6v-4zM347.7 338h3.6l1.7 1.5v4l-1.9 1.6-1.6.6-1.6-.6-1.9-1.6v-4zM330.5 329.1h3.6l1.7 1.5v4l-1.9 1.6-1.6.6-1.6-.6-1.9-1.6v-4zM377 325.3h3.6l1.7 1.5v4l-1.9 1.6-1.6.6-1.6-.6-1.9-1.6v-4zM563 383.2h3.6l1.7 1.5v4l-1.9 1.6-1.6.6-1.6-.6-1.9-1.6v-4zM538 384.6h3.6l1.7 1.5v4l-1.9 1.6-1.6.6-1.6-.6-1.9-1.6v-4zM386.9 328.7h3.6l1.7 1.5v4l-1.9 1.6-1.6.6-1.6-.6-1.9-1.6v-4zM450.5 365.9h3.6l1.7 1.5v4l-1.9 1.6-1.6.6-1.6-.6-1.9-1.6v-4zM387.8 358.2h3.6l1.7 1.5v4l-1.9 1.6-1.6.6-1.6-.6-1.9-1.6v-4zM519.9 379.6h3.6l1.7 1.5v4l-1.9 1.6-1.6.6-1.6-.6-1.9-1.6v-4zM418.2 366.1h3.6l1.7 1.5v4l-1.9 1.6-1.6.6-1.6-.6-1.9-1.6v-4zM396.1 361.9h3.6l1.7 1.5v4l-1.9 1.6-1.6.6-1.6-.6-1.9-1.6v-4zM554 380.6h3.6l1.7 1.5v4l-1.9 1.6-1.6.6-1.6-.6-1.9-1.6v-4zM386.5 375.3h3.6l1.7 1.5v4l-1.9 1.6-1.6.6-1.6-.6-1.9-1.6v-4zM320.5 335.5h3.6l1.7 1.5v4l-1.9 1.6-1.6.6-1.6-.6-1.9-1.6v-4zM491 394.2h3.6l1.7 1.5v4l-1.9 1.6-1.6.6-1.6-.6-1.9-1.6v-4zM421.6 362.7h3.6l1.7 1.5v4l-1.9 1.6-1.6.6-1.6-.6-1.9-1.6v-4zM399.9 369h3.6l1.7 1.5v4l-1.9 1.6-1.6.6-1.6-.6-1.9-1.6v-4zM366.8 321.1h3.6l1.7 1.5v4l-1.9 1.6-1.6.6-1.6-.6-1.9-1.6v-4zM509.1 376.6h3.6l1.7 1.5v4l-1.9 1.6-1.6.6-1.6-.6-1.9-1.6v-4zM359.3 328.9h3.6l1.7 1.5v4l-1.9 1.6-1.6.6-1.6-.6-1.9-1.6v-4zM353 341.8h3.6l1.7 1.5v4l-1.9 1.6-1.6.6-1.6-.6-1.9-1.6v-4zM448.2 368.6h3.6l1.7 1.5v4l-1.9 1.6-1.6.6-1.6-.6-1.9-1.6v-4zM416.3 364.6h3.6l1.7 1.5v4l-1.9 1.6-1.6.6-1.6-.6-1.9-1.6v-4zM350.6 363.4h3.6l1.7 1.5v4l-1.9 1.6-1.6.6-1.6-.6-1.9-1.6v-4zM544.8 385.3h3.6l1.7 1.5v4l-1.9 1.6-1.6.6-1.6-.6-1.9-1.6v-4zM445 387.3h3.6l1.7 1.5v4l-1.9 1.6-1.6.6-1.6-.6-1.9-1.6v-4zM463.6 381h3.6l1.7 1.5v4l-1.9 1.6-1.6.6-1.6-.6-1.9-1.6v-4zM321.4 335.8h3.6l1.7 1.5v4l-1.9 1.6-1.6.6-1.6-.6-1.9-1.6v-4zM552.2 395.2h3.6l1.7 1.5v4l-1.9 1.6-1.6.6-1.6-.6-1.9-1.6v-4zM369.5 341.6h3.6l1.7 1.5v4l-1.9 1.6-1.6.6-1.6-.6-1.9-1.6v-4zM328.2 345.7h3.6l1.7 1.5v4l-1.9 1.6-1.6.6-1.6-.6-1.9-1.6v-4zM432.8 367.3h3.6l1.7 1.5v4l-1.9 1.6-1.6.6-1.6-.6-1.9-1.6v-4zM417.4 364.9h3.6l1.7 1.5v4l-1.9 1.6-1.6.6-1.6-.6-1.9-1.6v-4zM395.3 357.7h3.6l1.7 1.5v4l-1.9 1.6-1.6.6-1.6-.6-1.9-1.6v-4zM348.5 314.2h3.6l1.7 1.5v4l-1.9 1.6-1.6.6-1.6-.6-1.9-1.6v-4zM490.8 374.4h3.6l1.7 1.5v4l-1.9 1.6-1.6.6-1.6-.6-1.9-1.6v-4zM452.6 379.5h3.6l1.7 1.5v4l-1.9 1.6-1.6.6-1.6-.6-1.9-1.6v-4zM442.1 369.3h3.6l1.7 1.5v4l-1.9 1.6-1.6.6-1.6-.6-1.9-1.6v-4zM346.4 338h3.6l1.7 1.5v4l-1.9 1.6-1.6.6-1.6-.6-1.9-1.6v-4zM534 384.8h3.6l1.7 1.5v4l-1.9 1.6-1.6.6-1.6-.6-1.9-1.6v-4zM415.1 349.1h3.6l1.7 1.5v4l-1.9 1.6-1.6.6-1.6-.6-1.9-1.6v-4zM334.1 318.8h3.6l1.7 1.5v4l-1.9 1.6-1.6.6-1.6-.6-1.9-1.6v-4zM406.5 359.1h3.6l1.7 1.5v4l-1.9 1.6-1.6.6-1.6-.6-1.9-1.6v-4zM399.6 353.9h3.6l1.7 1.5v4l-1.9 1.6-1.6.6-1.6-.6-1.9-1.6v-4zM493.3 366.4h3.6l1.7 1.5v4l-1.9 1.6-1.6.6-1.6-.6-1.9-1.6v-4zM443.7 357.9h3.6l1.7 1.5v4l-1.9 1.6-1.6.6-1.6-.6-1.9-1.6v-4zM356.6 348.7h3.6l1.7 1.5v4l-1.9 1.6-1.6.6-1.6-.6-1.9-1.6v-4zM356.7 347.8h3.6l1.7 1.5v4l-1.9 1.6-1.6.6-1.6-.6-1.9-1.6v-4zM366.8 352.5h3.6l1.7 1.5v4l-1.9 1.6-1.6.6-1.6-.6-1.9-1.6v-4zM539.4 379.1h3.6l1.7 1.5v4l-1.9 1.6-1.6.6-1.6-.6-1.9-1.6v-4zM392.9 349.7h3.6l1.7 1.5v4l-1.9 1.6-1.6.6-1.6-.6-1.9-1.6v-4zM424.1 346.8h3.6l1.7 1.5v4l-1.9 1.6-1.6.6-1.6-.6-1.9-1.6v-4zM491.1 380.2h3.6l1.7 1.5v4l-1.9 1.6-1.6.6-1.6-.6-1.9-1.6v-4zM464.9 392.3h3.6l1.7 1.5v4l-1.9 1.6-1.6.6-1.6-.6-1.9-1.6v-4zM352.4 343.7h3.6l1.7 1.5v4l-1.9 1.6-1.6.6-1.6-.6-1.9-1.6v-4zM439.6 366.2h3.6l1.7 1.5v4l-1.9 1.6-1.6.6-1.6-.6-1.9-1.6v-4zM455.6 365.3h3.6l1.7 1.5v4l-1.9 1.6-1.6.6-1.6-.6-1.9-1.6v-4zM563.9 384.3h3.6l1.7 1.5v4l-1.9 1.6-1.6.6-1.6-.6-1.9-1.6v-4zM538.2 402h3.6l1.7 1.5v4l-1.9 1.6-1.6.6-1.6-.6-1.9-1.6v-4zM338.4 336.1h3.6l1.7 1.5v4l-1.9 1.6-1.6.6-1.6-.6-1.9-1.6v-4zM510 374.4h3.6l1.7 1.5v4l-1.9 1.6-1.6.6-1.6-.6-1.9-1.6v-4zM336.8 327h3.6l1.7 1.5v4l-1.9 1.6-1.6.6-1.6-.6-1.9-1.6v-4zM362.4 339.9h3.6l1.7 1.5v4l-1.9 1.6-1.6.6-1.6-.6-1.9-1.6v-4zM374.8 344.6h3.6l1.7 1.5v4l-1.9 1.6-1.6.6-1.6-.6-1.9-1.6v-4zM341.9 355.2h3.6l1.7 1.5v4l-1.9 1.6-1.6.6-1.6-.6-1.9-1.6v-4zM462.7 365.3h3.6l1.7 1.5v4l-1.9 1.6-1.6.6-1.6-.6-1.9-1.6v-4zM328.7 355.3h3.6l1.7 1.5v4l-1.9 1.6-1.6.6-1.6-.6-1.9-1.6v-4zM451.3 362.9h3.6l1.7 1.5v4l-1.9 1.6-1.6.6-1.6-.6-1.9-1.6v-4zM474.1 365.6h3.6l1.7 1.5v4l-1.9 1.6-1.6.6-1.6-.6-1.9-1.6v-4zM368.2 350.2h3.6l1.7 1.5v4l-1.9 1.6-1.6.6-1.6-.6-1.9-1.6v-4zM335.5 332.1h3.6l1.7 1.5v4l-1.9 1.6-1.6.6-1.6-.6-1.9-1.6v-4zM371.9 355.4h3.6l1.7 1.5v4l-1.9 1.6-1.6.6-1.6-.6-1.9-1.6v-4zM357.9 320.4h3.6l1.7 1.5v4l-1.9 1.6-1.6.6-1.6-.6-1.9-1.6v-4zM424 369.8h3.6l1.7 1.5v4l-1.9 1.6-1.6.6-1.6-.6-1.9-1.6v-4zM377.3 351.7h3.6l1.7 1.5v4l-1.9 1.6-1.6.6-1.6-.6-1.9-1.6v-4zM415.2 361.3h3.6l1.7 1.5v4l-1.9 1.6-1.6.6-1.6-.6-1.9-1.6v-4zM480.3 371.3h3.6l1.7 1.5v4l-1.9 1.6-1.6.6-1.6-.6-1.9-1.6v-4zM344.2 362.5h3.6l1.7 1.5v4l-1.9 1.6-1.6.6-1.6-.6-1.9-1.6v-4zM338.5 342.7h3.6l1.7 1.5v4l-1.9 1.6-1.6.6-1.6-.6-1.9-1.6v-4zM377.9 332.2h3.6l1.7 1.5v4l-1.9 1.6-1.6.6-1.6-.6-1.9-1.6v-4zM499.2 393.2h3.6l1.7 1.5v4l-1.9 1.6-1.6.6-1.6-.6-1.9-1.6v-4zM408.7 350.7h3.6l1.7 1.5v4l-1.9 1.6-1.6.6-1.6-.6-1.9-1.6v-4zM434.1 373.5h3.6l1.7 1.5v4l-1.9 1.6-1.6.6-1.6-.6-1.9-1.6v-4zM341.3 335.4h3.6l1.7 1.5v4l-1.9 1.6-1.6.6-1.6-.6-1.9-1.6v-4zM521.3 384.1h3.6l1.7 1.5v4l-1.9 1.6-1.6.6-1.6-.6-1.9-1.6v-4zM439.1 367h3.6l1.7 1.5v4l-1.9 1.6-1.6.6-1.6-.6-1.9-1.6v-4zM419.2 367.4h3.6l1.7 1.5v4l-1.9 1.6-1.6.6-1.6-.6-1.9-1.6v-4zM436.8 366.7h3.6l1.7 1.5v4l-1.9 1.6-1.6.6-1.6-.6-1.9-1.6v-4zM435.3 351.4h3.6l1.7 1.5v4l-1.9 1.6-1.6.6-1.6-.6-1.9-1.6v-4zM320.9 311.4h3.6l1.7 1.5v4l-1.9 1.6-1.6.6-1.6-.6-1.9-1.6v-4zM393.7 344.8h3.6l1.7 1.5v4l-1.9 1.6-1.6.6-1.6-.6-1.9-1.6v-4zM534.8 389h3.6l1.7 1.5v4l-1.9 1.6-1.6.6-1.6-.6-1.9-1.6v-4zM367.8 365.4h3.6l1.7 1.5v4l-1.9 1.6-1.6.6-1.6-.6-1.9-1.6v-4zM498 376.3h3.6l1.7 1.5v4l-1.9 1.6-1.6.6-1.6-.6-1.9-1.6v-4zM357.7 323h3.6l1.7 1.5v4l-1.9 1.6-1.6.6-1.6-.6-1.9-1.6v-4zM394.7 340.8h3.6l1.7 1.5v4l-1.9 1.6-1.6.6-1.6-.6-1.9-1.6v-4zM365.2 351.3h3.6l1.7 1.5v4l-1.9 1.6-1.6.6-1.6-.6-1.9-1.6v-4zM490 398.8h3.6l1.7 1.5v4l-1.9 1.6-1.6.6-1.6-.6-1.9-1.6v-4zM336 318.9h3.6l1.7 1.5v4l-1.9 1.6-1.6.6-1.6-.6-1.9-1.6v-4zM413.4 366.6h3.6l1.7 1.5v4l-1.9 1.6-1.6.6-1.6-.6-1.9-1.6v-4zM532.2 389.4h3.6l1.7 1.5v4l-1.9 1.6-1.6.6-1.6-.6-1.9-1.6v-4zM520.3 396.4h3.6l1.7 1.5v4l-1.9 1.6-1.6.6-1.6-.6-1.9-1.6v-4zM396.6 333.9h3.6l1.7 1.5v4l-1.9 1.6-1.6.6-1.6-.6-1.9-1.6v-4zM395.8 343.1h3.6l1.7 1.5v4l-1.9 1.6-1.6.6-1.6-.6-1.9-1.6v-4zM512.2 370.2h3.6l1.7 1.5v4l-1.9 1.6-1.6.6-1.6-.6-1.9-1.6v-4zM446 381.6h3.6l1.7 1.5v4l-1.9 1.6-1.6.6-1.6-.6-1.9-1.6v-4zM349.4 368.6h3.6l1.7 1.5v4l-1.9 1.6-1.6.6-1.6-.6-1.9-1.6v-4zM337.9 337.1h3.6l1.7 1.5v4l-1.9 1.6-1.6.6-1.6-.6-1.9-1.6v-4zM440.7 354.1h3.6l1.7 1.5v4l-1.9 1.6-1.6.6-1.6-.6-1.9-1.6v-4zM383.2 362.7h3.6l1.7 1.5v4l-1.9 1.6-1.6.6-1.6-.6-1.9-1.6v-4zM413.1 379.1h3.6l1.7 1.5v4l-1.9 1.6-1.6.6-1.6-.6-1.9-1.6v-4zM446.1 355.7h3.6l1.7 1.5v4l-1.9 1.6-1.6.6-1.6-.6-1.9-1.6v-4zM490.1 372.7h3.6l1.7 1.5v4l-1.9 1.6-1.6.6-1.6-.6-1.9-1.6v-4zM372 346.6h3.6l1.7 1.5v4l-1.9 1.6-1.6.6-1.6-.6-1.9-1.6v-4zM343.9 339.4h3.6l1.7 1.5v4l-1.9 1.6-1.6.6-1.6-.6-1.9-1.6v-4zM433.7 356.6h3.6l1.7 1.5v4l-1.9 1.6-1.6.6-1.6-.6-1.9-1.6v-4zM481.8 371.3h3.6l1.7 1.5v4l-1.9 1.6-1.6.6-1.6-.6-1.9-1.6v-4zM505.7 369.7h3.6l1.7 1.5v4l-1.9 1.6-1.6.6-1.6-.6-1.9-1.6v-4zM471.6 364.7h3.6l1.7 1.5v4l-1.9 1.6-1.6.6-1.6-.6-1.9-1.6v-4zM493.4 381.5h3.6l1.7 1.5v4l-1.9 1.6-1.6.6-1.6-.6-1.9-1.6v-4zM350.1 335.5h3.6l1.7 1.5v4l-1.9 1.6-1.6.6-1.6-.6-1.9-1.6v-4zM451.7 384.6h3.6l1.7 1.5v4l-1.9 1.6-1.6.6-1.6-.6-1.9-1.6v-4zM415.8 374.8h3.6l1.7 1.5v4l-1.9 1.6-1.6.6-1.6-.6-1.9-1.6v-4zM390.1 332.3h3.6l1.7 1.5v4l-1.9 1.6-1.6.6-1.6-.6-1.9-1.6v-4zM410.4 345.5h3.6l1.7 1.5v4l-1.9 1.6-1.6.6-1.6-.6-1.9-1.6v-4zM333.6 327.8h3.6l1.7 1.5v4l-1.9 1.6-1.6.6-1.6-.6-1.9-1.6v-4zM438.4 350.8h3.6l1.7 1.5v4l-1.9 1.6-1.6.6-1.6-.6-1.9-1.6v-4zM509.6 385.9h3.6l1.7 1.5v4l-1.9 1.6-1.6.6-1.6-.6-1.9-1.6v-4zM416.3 356.9h3.6l1.7 1.5v4l-1.9 1.6-1.6.6-1.6-.6-1.9-1.6v-4zM394.1 337.1h3.6l1.7 1.5v4l-1.9 1.6-1.6.6-1.6-.6-1.9-1.6v-4zM464.9 359.1h3.6l1.7 1.5v4l-1.9 1.6-1.6.6-1.6-.6-1.9-1.6v-4zM567.6 389.5h3.6l1.7 1.5v4l-1.9 1.6-1.6.6-1.6-.6-1.9-1.6v-4zM550.8 388.3h3.6l1.7 1.5v4l-1.9 1.6-1.6.6-1.6-.6-1.9-1.6v-4zM403.6 360.2h3.6l1.7 1.5v4l-1.9 1.6-1.6.6-1.6-.6-1.9-1.6v-4zM349.9 340h3.6l1.7 1.5v4l-1.9 1.6-1.6.6-1.6-.6-1.9-1.6v-4zM541.7 389.4h3.6l1.7 1.5v4l-1.9 1.6-1.6.6-1.6-.6-1.9-1.6v-4zM479.3 386.3h3.6l1.7 1.5v4l-1.9 1.6-1.6.6-1.6-.6-1.9-1.6v-4zM442.9 382.5h3.6l1.7 1.5v4l-1.9 1.6-1.6.6-1.6-.6-1.9-1.6v-4zM323.3 327.2h3.6l1.7 1.5v4l-1.9 1.6-1.6.6-1.6-.6-1.9-1.6v-4zM505.1 387h3.6l1.7 1.5v4l-1.9 1.6-1.6.6-1.6-.6-1.9-1.6v-4zM455.7 357.3h3.6l1.7 1.5v4l-1.9 1.6-1.6.6-1.6-.6-1.9-1.6v-4zM345.3 354h3.6l1.7 1.5v4l-1.9 1.6-1.6.6-1.6-.6-1.9-1.6v-4zM436.4 362.2h3.6l1.7 1.5v4l-1.9 1.6-1.6.6-1.6-.6-1.9-1.6v-4zM415.7 378.9h3.6l1.7 1.5v4l-1.9 1.6-1.6.6-1.6-.6-1.9-1.6v-4zM564.4 389.8h3.6l1.7 1.5v4l-1.9 1.6-1.6.6-1.6-.6-1.9-1.6v-4zM352.8 358.7h3.6l1.7 1.5v4l-1.9 1.6-1.6.6-1.6-.6-1.9-1.6v-4zM349.8 343.3h3.6l1.7 1.5v4l-1.9 1.6-1.6.6-1.6-.6-1.9-1.6v-4zM341 351.8h3.6l1.7 1.5v4l-1.9 1.6-1.6.6-1.6-.6-1.9-1.6v-4zM458 382.2h3.6l1.7 1.5v4l-1.9 1.6-1.6.6-1.6-.6-1.9-1.6v-4zM553 401.8h3.6l1.7 1.5v4l-1.9 1.6-1.6.6-1.6-.6-1.9-1.6v-4zM447.3 368h3.6l1.7 1.5v4l-1.9 1.6-1.6.6-1.6-.6-1.9-1.6v-4zM537.8 385.4h3.6l1.7 1.5v4l-1.9 1.6-1.6.6-1.6-.6-1.9-1.6v-4zM510.2 370.3h3.6l1.7 1.5v4l-1.9 1.6-1.6.6-1.6-.6-1.9-1.6v-4zM384 364.6h3.6l1.7 1.5v4l-1.9 1.6-1.6.6-1.6-.6-1.9-1.6v-4zM481.7 392.2h3.6l1.7 1.5v4l-1.9 1.6-1.6.6-1.6-.6-1.9-1.6v-4zM384.2 331.6h3.6l1.7 1.5v4l-1.9 1.6-1.6.6-1.6-.6-1.9-1.6v-4zM348.3 340.7h3.6l1.7 1.5v4l-1.9 1.6-1.6.6-1.6-.6-1.9-1.6v-4zM541.7 387.4h3.6l1.7 1.5v4l-1.9 1.6-1.6.6-1.6-.6-1.9-1.6v-4zM347.2 361.4h3.6l1.7 1.5v4l-1.9 1.6-1.6.6-1.6-.6-1.9-1.6v-4zM430.7 368.7h3.6l1.7 1.5v4l-1.9 1.6-1.6.6-1.6-.6-1.9-1.6v-4zM436.4 363.3h3.6l1.7 1.5v4l-1.9 1.6-1.6.6-1.6-.6-1.9-1.6v-4zM467.6 384.3h3.6l1.7 1.5v4l-1.9 1.6-1.6.6-1.6-.6-1.9-1.6v-4zM414.4 337.9h3.6l1.7 1.5v4l-1.9 1.6-1.6.6-1.6-.6-1.9-1.6v-4zM331.3 350.8h3.6l1.7 1.5v4l-1.9 1.6-1.6.6-1.6-.6-1.9-1.6v-4zM384.4 339.9h3.6l1.7 1.5v4l-1.9 1.6-1.6.6-1.6-.6-1.9-1.6v-4zM361.3 381h3.6l1.7 1.5v4l-1.9 1.6-1.6.6-1.6-.6-1.9-1.6v-4zM364.3 335.3h3.6l1.7 1.5v4l-1.9 1.6-1.6.6-1.6-.6-1.9-1.6v-4zM335.1 365.5h3.6l1.7 1.5v4l-1.9 1.6-1.6.6-1.6-.6-1.9-1.6v-4zM367 333.1h3.6l1.7 1.5v4l-1.9 1.6-1.6.6-1.6-.6-1.9-1.6v-4zM437 373.3h3.6l1.7 1.5v4l-1.9 1.6-1.6.6-1.6-.6-1.9-1.6v-4zM403.1 351.3h3.6l1.7 1.5v4l-1.9 1.6-1.6.6-1.6-.6-1.9-1.6v-4zM448.4 377.2h3.6l1.7 1.5v4l-1.9 1.6-1.6.6-1.6-.6-1.9-1.6v-4zM450.6 380h3.6l1.7 1.5v4l-1.9 1.6-1.6.6-1.6-.6-1.9-1.6v-4zM322.7 352.9h3.6l1.7 1.5v4l-1.9 1.6-1.6.6-1.6-.6-1.9-1.6v-4zM439.7 376.2h3.6l1.7 1.5v4l-1.9 1.6-1.6.6-1.6-.6-1.9-1.6v-4zM356.7 377.4h3.6l1.7 1.5v4l-1.9 1.6-1.6.6-1.6-.6-1.9-1.6v-4zM500.8 388.4h3.6l1.7 1.5v4l-1.9 1.6-1.6.6-1.6-.6-1.9-1.6v-4zM439.1 368.7h3.6l1.7 1.5v4l-1.9 1.6-1.6.6-1.6-.6-1.9-1.6v-4zM505.8 372.8h3.6l1.7 1.5v4l-1.9 1.6-1.6.6-1.6-.6-1.9-1.6v-4zM559.6 382.8h3.6l1.7 1.5v4l-1.9 1.6-1.6.6-1.6-.6-1.9-1.6v-4zM334.5 356.5h3.6l1.7 1.5v4l-1.9 1.6-1.6.6-1.6-.6-1.9-1.6v-4zM567.2 390.2h3.6l1.7 1.5v4l-1.9 1.6-1.6.6-1.6-.6-1.9-1.6v-4zM442.5 364.7h3.6l1.7 1.5v4l-1.9 1.6-1.6.6-1.6-.6-1.9-1.6v-4zM443 380.5h3.6l1.7 1.5v4l-1.9 1.6-1.6.6-1.6-.6-1.9-1.6v-4zM562 397.2h3.6l1.7 1.5v4l-1.9 1.6-1.6.6-1.6-.6-1.9-1.6v-4zM567 391.8h3.6l1.7 1.5v4l-1.9 1.6-1.6.6-1.6-.6-1.9-1.6v-4zM552.5 398.9h3.6l1.7 1.5v4l-1.9 1.6-1.6.6-1.6-.6-1.9-1.6v-4zM327.9 322.4h3.6l1.7 1.5v4l-1.9 1.6-1.6.6-1.6-.6-1.9-1.6v-4zM364.5 336h3.6l1.7 1.5v4l-1.9 1.6-1.6.6-1.6-.6-1.9-1.6v-4zM470.5 362h3.6l1.7 1.5v4l-1.9 1.6-1.6.6-1.6-.6-1.9-1.6v-4zM432.1 374.6h3.6l1.7 1.5v4l-1.9 1.6-1.6.6-1.6-.6-1.9-1.6v-4zM350.2 346.2h3.6l1.7 1.5v4l-1.9 1.6-1.6.6-1.6-.6-1.9-1.6v-4zM517 374.8h3.6l1.7 1.5v4l-1.9 1.6-1.6.6-1.6-.6-1.9-1.6v-4zM509.4 387.8h3.6l1.7 1.5v4l-1.9 1.6-1.6.6-1.6-.6-1.9-1.6v-4zM500.8 382.3h3.6l1.7 1.5v4l-1.9 1.6-1.6.6-1.6-.6-1.9-1.6v-4zM357.3 348.9h3.6l1.7 1.5v4l-1.9 1.6-1.6.6-1.6-.6-1.9-1.6v-4zM489.2 387.5h3.6l1.7 1.5v4l-1.9 1.6-1.6.6-1.6-.6-1.9-1.6v-4zM487.1 384.4h3.6l1.7 1.5v4l-1.9 1.6-1.6.6-1.6-.6-1.9-1.6v-4zM477.2 372.7h3.6l1.7 1.5v4l-1.9 1.6-1.6.6-1.6-.6-1.9-1.6v-4zM359.3 323.2h3.6l1.7 1.5v4l-1.9 1.6-1.6.6-1.6-.6-1.9-1.6v-4zM357.7 376h3.6l1.7 1.5v4l-1.9 1.6-1.6.6-1.6-.6-1.9-1.6v-4zM407.9 351.9h3.6l1.7 1.5v4l-1.9 1.6-1.6.6-1.6-.6-1.9-1.6v-4zM338.2 351h3.6l1.7 1.5v4l-1.9 1.6-1.6.6-1.6-.6-1.9-1.6v-4zM332.6 349.5h3.6l1.7 1.5v4l-1.9 1.6-1.6.6-1.6-.6-1.9-1.6v-4zM471.1 373.4h3.6l1.7 1.5v4l-1.9 1.6-1.6.6-1.6-.6-1.9-1.6v-4zM401.4 362.5h3.6l1.7 1.5v4l-1.9 1.6-1.6.6-1.6-.6-1.9-1.6v-4zM427.1 347.1h3.6l1.7 1.5v4l-1.9 1.6-1.6.6-1.6-.6-1.9-1.6v-4zM321.7 341.4h3.6l1.7 1.5v4l-1.9 1.6-1.6.6-1.6-.6-1.9-1.6v-4zM519.4 377h3.6l1.7 1.5v4l-1.9 1.6-1.6.6-1.6-.6-1.9-1.6v-4zM389.3 354.6h3.6l1.7 1.5v4l-1.9 1.6-1.6.6-1.6-.6-1.9-1.6v-4zM321 334.8h3.6l1.7 1.5v4l-1.9 1.6-1.6.6-1.6-.6-1.9-1.6v-4zM357.1 329.5h3.6l1.7 1.5v4l-1.9 1.6-1.6.6-1.6-.6-1.9-1.6v-4zM496.9 367.9h3.6l1.7 1.5v4l-1.9 1.6-1.6.6-1.6-.6-1.9-1.6v-4zM360.4 327.9h3.6l1.7 1.5v4l-1.9 1.6-1.6.6-1.6-.6-1.9-1.6v-4zM368.8 325.8h3.6l1.7 1.5v4l-1.9 1.6-1.6.6-1.6-.6-1.9-1.6v-4zM426.6 356.5h3.6l1.7 1.5v4l-1.9 1.6-1.6.6-1.6-.6-1.9-1.6v-4zM331.4 331.3h3.6l1.7 1.5v4l-1.9 1.6-1.6.6-1.6-.6-1.9-1.6v-4zM523 369.8h3.6l1.7 1.5v4l-1.9 1.6-1.6.6-1.6-.6-1.9-1.6v-4zM330.3 338.8h3.6l1.7 1.5v4l-1.9 1.6-1.6.6-1.6-.6-1.9-1.6v-4zM396.9 353.2h3.6l1.7 1.5v4l-1.9 1.6-1.6.6-1.6-.6-1.9-1.6v-4zM481 363.5h3.6l1.7 1.5v4l-1.9 1.6-1.6.6-1.6-.6-1.9-1.6v-4zM549.8 384.2h3.6l1.7 1.5v4l-1.9 1.6-1.6.6-1.6-.6-1.9-1.6v-4zM391.5 353.2h3.6l1.7 1.5v4l-1.9 1.6-1.6.6-1.6-.6-1.9-1.6v-4zM426 354.3h3.6l1.7 1.5v4l-1.9 1.6-1.6.6-1.6-.6-1.9-1.6v-4zM438.6 377.6h3.6l1.7 1.5v4l-1.9 1.6-1.6.6-1.6-.6-1.9-1.6v-4zM361.7 350.6h3.6l1.7 1.5v4l-1.9 1.6-1.6.6-1.6-.6-1.9-1.6v-4zM351.9 372.5h3.6l1.7 1.5v4l-1.9 1.6-1.6.6-1.6-.6-1.9-1.6v-4zM401.6 350.4h3.6l1.7 1.5v4l-1.9 1.6-1.6.6-1.6-.6-1.9-1.6v-4zM415.4 357.9h3.6l1.7 1.5v4l-1.9 1.6-1.6.6-1.6-.6-1.9-1.6v-4zM447.7 348.7h3.6l1.7 1.5v4l-1.9 1.6-1.6.6-1.6-.6-1.9-1.6v-4zM375.9 352.2h3.6l1.7 1.5v4l-1.9 1.6-1.6.6-1.6-.6-1.9-1.6v-4zM467.9 375.9h3.6l1.7 1.5v4l-1.9 1.6-1.6.6-1.6-.6-1.9-1.6v-4zM466.3 365.3h3.6l1.7 1.5v4l-1.9 1.6-1.6.6-1.6-.6-1.9-1.6v-4zM448.9 360.9h3.6l1.7 1.5v4l-1.9 1.6-1.6.6-1.6-.6-1.9-1.6v-4zM495.9 376.9h3.6l1.7 1.5v4l-1.9 1.6-1.6.6-1.6-.6-1.9-1.6v-4zM482 374.2h3.6l1.7 1.5v4l-1.9 1.6-1.6.6-1.6-.6-1.9-1.6v-4zM547.9 396.2h3.6l1.7 1.5v4l-1.9 1.6-1.6.6-1.6-.6-1.9-1.6v-4zM473.4 358h3.6l1.7 1.5v4l-1.9 1.6-1.6.6-1.6-.6-1.9-1.6v-4zM345.9 377.9h3.6l1.7 1.5v4l-1.9 1.6-1.6.6-1.6-.6-1.9-1.6v-4zM435 353.4h3.6l1.7 1.5v4l-1.9 1.6-1.6.6-1.6-.6-1.9-1.6v-4zM448.2 353.1h3.6l1.7 1.5v4l-1.9 1.6-1.6.6-1.6-.6-1.9-1.6v-4zM418.9 371.5h3.6l1.7 1.5v4l-1.9 1.6-1.6.6-1.6-.6-1.9-1.6v-4zM423.7 358.3h3.6l1.7 1.5v4l-1.9 1.6-1.6.6-1.6-.6-1.9-1.6v-4zM528 390.9h3.6l1.7 1.5v4l-1.9 1.6-1.6.6-1.6-.6-1.9-1.6v-4zM382.6 347.6h3.6l1.7 1.5v4l-1.9 1.6-1.6.6-1.6-.6-1.9-1.6v-4zM350.7 343.4h3.6l1.7 1.5v4l-1.9 1.6-1.6.6-1.6-.6-1.9-1.6v-4zM430.7 349.5h3.6l1.7 1.5v4l-1.9 1.6-1.6.6-1.6-.6-1.9-1.6v-4zM330.9 350.4h3.6l1.7 1.5v4l-1.9 1.6-1.6.6-1.6-.6-1.9-1.6v-4zM366.5 359.9h3.6l1.7 1.5v4l-1.9 1.6-1.6.6-1.6-.6-1.9-1.6v-4zM409.4 378.1h3.6l1.7 1.5v4l-1.9 1.6-1.6.6-1.6-.6-1.9-1.6v-4zM445.3 379.5h3.6l1.7 1.5v4l-1.9 1.6-1.6.6-1.6-.6-1.9-1.6v-4zM487.8 367.3h3.6l1.7 1.5v4l-1.9 1.6-1.6.6-1.6-.6-1.9-1.6v-4zM365.7 339.2h3.6l1.7 1.5v4l-1.9 1.6-1.6.6-1.6-.6-1.9-1.6v-4zM327.9 318.2h3.6l1.7 1.5v4l-1.9 1.6-1.6.6-1.6-.6-1.9-1.6v-4zM456.5 367.9h3.6l1.7 1.5v4l-1.9 1.6-1.6.6-1.6-.6-1.9-1.6v-4zM328.5 350.9h3.6l1.7 1.5v4l-1.9 1.6-1.6.6-1.6-.6-1.9-1.6v-4zM546.5 390h3.6l1.7 1.5v4l-1.9 1.6-1.6.6-1.6-.6-1.9-1.6v-4zM378.9 348.1h3.6l1.7 1.5v4l-1.9 1.6-1.6.6-1.6-.6-1.9-1.6v-4zM548 383.1h3.6l1.7 1.5v4l-1.9 1.6-1.6.6-1.6-.6-1.9-1.6v-4zM492.9 378.1h3.6l1.7 1.5v4l-1.9 1.6-1.6.6-1.6-.6-1.9-1.6v-4zM401.2 355.4h3.6l1.7 1.5v4l-1.9 1.6-1.6.6-1.6-.6-1.9-1.6v-4zM419.5 368.9h3.6l1.7 1.5v4l-1.9 1.6-1.6.6-1.6-.6-1.9-1.6v-4zM509.1 374.6h3.6l1.7 1.5v4l-1.9 1.6-1.6.6-1.6-.6-1.9-1.6v-4zM441 367.9h3.6l1.7 1.5v4l-1.9 1.6-1.6.6-1.6-.6-1.9-1.6v-4zM437 361.8h3.6l1.7 1.5v4l-1.9 1.6-1.6.6-1.6-.6-1.9-1.6v-4zM410.8 377.2h3.6l1.7 1.5v4l-1.9 1.6-1.6.6-1.6-.6-1.9-1.6v-4zM498.7 374.4h3.6l1.7 1.5v4l-1.9 1.6-1.6.6-1.6-.6-1.9-1.6v-4zM387.2 334.6h3.6l1.7 1.5v4l-1.9 1.6-1.6.6-1.6-.6-1.9-1.6v-4zM416 343.8h3.6l1.7 1.5v4l-1.9 1.6-1.6.6-1.6-.6-1.9-1.6v-4zM392.8 346.9h3.6l1.7 1.5v4l-1.9 1.6-1.6.6-1.6-.6-1.9-1.6v-4zM457.9 354.2h3.6l1.7 1.5v4l-1.9 1.6-1.6.6-1.6-.6-1.9-1.6v-4zM387.2 354.4h3.6l1.7 1.5v4l-1.9 1.6-1.6.6-1.6-.6-1.9-1.6v-4zM372.9 346.8h3.6l1.7 1.5v4l-1.9 1.6-1.6.6-1.6-.6-1.9-1.6v-4zM396.7 365.4h3.6l1.7 1.5v4l-1.9 1.6-1.6.6-1.6-.6-1.9-1.6v-4zM346.1 352.2h3.6l1.7 1.5v4l-1.9 1.6-1.6.6-1.6-.6-1.9-1.6v-4zM452.2 361.2h3.6l1.7 1.5v4l-1.9 1.6-1.6.6-1.6-.6-1.9-1.6v-4zM352.6 376.3h3.6l1.7 1.5v4l-1.9 1.6-1.6.6-1.6-.6-1.9-1.6v-4zM480.7 372.9h3.6l1.7 1.5v4l-1.9 1.6-1.6.6-1.6-.6-1.9-1.6v-4zM431.5 375.9h3.6l1.7 1.5v4l-1.9 1.6-1.6.6-1.6-.6-1.9-1.6v-4zM465 387h3.6l1.7 1.5v4l-1.9 1.6-1.6.6-1.6-.6-1.9-1.6v-4zM549.1 381.1h3.6l1.7 1.5v4l-1.9 1.6-1.6.6-1.6-.6-1.9-1.6v-4zM424.5 372.7h3.6l1.7 1.5v4l-1.9 1.6-1.6.6-1.6-.6-1.9-1.6v-4zM321.3 349.1h3.6l1.7 1.5v4l-1.9 1.6-1.6.6-1.6-.6-1.9-1.6v-4zM428.2 353.6h3.6l1.7 1.5v4l-1.9 1.6-1.6.6-1.6-.6-1.9-1.6v-4zM493.9 375.2h3.6l1.7 1.5v4l-1.9 1.6-1.6.6-1.6-.6-1.9-1.6v-4zM425.8 353.7h3.6l1.7 1.5v4l-1.9 1.6-1.6.6-1.6-.6-1.9-1.6v-4zM431.5 361.8h3.6l1.7 1.5v4l-1.9 1.6-1.6.6-1.6-.6-1.9-1.6v-4zM337.9 327.8h3.6l1.7 1.5v4l-1.9 1.6-1.6.6-1.6-.6-1.9-1.6v-4zM459.4 374.4h3.6l1.7 1.5v4l-1.9 1.6-1.6.6-1.6-.6-1.9-1.6v-4zM369.7 325.4h3.6l1.7 1.5v4l-1.9 1.6-1.6.6-1.6-.6-1.9-1.6v-4zM507.1 364.4h3.6l1.7 1.5v4l-1.9 1.6-1.6.6-1.6-.6-1.9-1.6v-4zM499.7 388h3.6l1.7 1.5v4l-1.9 1.6-1.6.6-1.6-.6-1.9-1.6v-4zM345.2 314.4h3.6l1.7 1.5v4l-1.9 1.6-1.6.6-1.6-.6-1.9-1.6v-4zM428.2 383h3.6l1.7 1.5v4l-1.9 1.6-1.6.6-1.6-.6-1.9-1.6v-4zM564.4 384.5h3.6l1.7 1.5v4l-1.9 1.6-1.6.6-1.6-.6-1.9-1.6v-4zM433.7 350.6h3.6l1.7 1.5v4l-1.9 1.6-1.6.6-1.6-.6-1.9-1.6v-4zM427.2 371.6h3.6l1.7 1.5v4l-1.9 1.6-1.6.6-1.6-.6-1.9-1.6v-4zM386.5 359.3h3.6l1.7 1.5v4l-1.9 1.6-1.6.6-1.6-.6-1.9-1.6v-4zM424 343.7h3.6l1.7 1.5v4l-1.9 1.6-1.6.6-1.6-.6-1.9-1.6v-4zM337.6 326.3h3.6l1.7 1.5v4l-1.9 1.6-1.6.6-1.6-.6-1.9-1.6v-4zM423.6 349.6h3.6l1.7 1.5v4l-1.9 1.6-1.6.6-1.6-.6-1.9-1.6v-4zM517.2 396.8h3.6l1.7 1.5v4l-1.9 1.6-1.6.6-1.6-.6-1.9-1.6v-4zM505.1 367.1h3.6l1.7 1.5v4l-1.9 1.6-1.6.6-1.6-.6-1.9-1.6v-4zM448.5 373.1h3.6l1.7 1.5v4l-1.9 1.6-1.6.6-1.6-.6-1.9-1.6v-4zM349.6 360.7h3.6l1.7 1.5v4l-1.9 1.6-1.6.6-1.6-.6-1.9-1.6v-4zM417.3 376.4h3.6l1.7 1.5v4l-1.9 1.6-1.6.6-1.6-.6-1.9-1.6v-4zM516.5 370.7h3.6l1.7 1.5v4l-1.9 1.6-1.6.6-1.6-.6-1.9-1.6v-4zM440.3 360.4h3.6l1.7 1.5v4l-1.9 1.6-1.6.6-1.6-.6-1.9-1.6v-4zM452.2 381.3h3.6l1.7 1.5v4l-1.9 1.6-1.6.6-1.6-.6-1.9-1.6v-4zM457.9 378.5h3.6l1.7 1.5v4l-1.9 1.6-1.6.6-1.6-.6-1.9-1.6v-4zM490.1 370.8h3.6l1.7 1.5v4l-1.9 1.6-1.6.6-1.6-.6-1.9-1.6v-4zM481.4 378.4h3.6l1.7 1.5v4l-1.9 1.6-1.6.6-1.6-.6-1.9-1.6v-4zM404.2 367.8h3.6l1.7 1.5v4l-1.9 1.6-1.6.6-1.6-.6-1.9-1.6v-4zM323.6 311h3.6l1.7 1.5v4l-1.9 1.6-1.6.6-1.6-.6-1.9-1.6v-4zM484 382.2h3.6l1.7 1.5v4l-1.9 1.6-1.6.6-1.6-.6-1.9-1.6v-4zM329 323.9h3.6l1.7 1.5v4l-1.9 1.6-1.6.6-1.6-.6-1.9-1.6v-4zM351.5 336.1h3.6l1.7 1.5v4l-1.9 1.6-1.6.6-1.6-.6-1.9-1.6v-4zM396.5 364.8h3.6l1.7 1.5v4l-1.9 1.6-1.6.6-1.6-.6-1.9-1.6v-4zM352 334.1h3.6l1.7 1.5v4l-1.9 1.6-1.6.6-1.6-.6-1.9-1.6v-4zM419.9 362.6h3.6l1.7 1.5v4l-1.9 1.6-1.6.6-1.6-.6-1.9-1.6v-4zM440.8 352.9h3.6l1.7 1.5v4l-1.9 1.6-1.6.6-1.6-.6-1.9-1.6v-4zM556.5 384h3.6l1.7 1.5v4l-1.9 1.6-1.6.6-1.6-.6-1.9-1.6v-4zM329 333.3h3.6l1.7 1.5v4l-1.9 1.6-1.6.6-1.6-.6-1.9-1.6v-4zM328.3 344.9h3.6l1.7 1.5v4l-1.9 1.6-1.6.6-1.6-.6-1.9-1.6v-4zM325.3 367.2h3.6l1.7 1.5v4l-1.9 1.6-1.6.6-1.6-.6-1.9-1.6v-4zM445.3 356.3h3.6l1.7 1.5v4l-1.9 1.6-1.6.6-1.6-.6-1.9-1.6v-4zM453 363.4h3.6l1.7 1.5v4l-1.9 1.6-1.6.6-1.6-.6-1.9-1.6v-4zM403.9 363.5h3.6l1.7 1.5v4l-1.9 1.6-1.6.6-1.6-.6-1.9-1.6v-4zM492.9 372.7h3.6l1.7 1.5v4l-1.9 1.6-1.6.6-1.6-.6-1.9-1.6v-4zM533.9 392.5h3.6l1.7 1.5v4l-1.9 1.6-1.6.6-1.6-.6-1.9-1.6v-4zM355.9 340.7h3.6l1.7 1.5v4l-1.9 1.6-1.6.6-1.6-.6-1.9-1.6v-4zM402.1 349h3.6l1.7 1.5v4l-1.9 1.6-1.6.6-1.6-.6-1.9-1.6v-4zM533.6 387.3h3.6l1.7 1.5v4l-1.9 1.6-1.6.6-1.6-.6-1.9-1.6v-4zM434 385.5h3.6l1.7 1.5v4l-1.9 1.6-1.6.6-1.6-.6-1.9-1.6v-4zM379.6 342.3h3.6l1.7 1.5v4l-1.9 1.6-1.6.6-1.6-.6-1.9-1.6v-4zM406.8 351.6h3.6l1.7 1.5v4l-1.9 1.6-1.6.6-1.6-.6-1.9-1.6v-4zM382.1 340.1h3.6l1.7 1.5v4l-1.9 1.6-1.6.6-1.6-.6-1.9-1.6v-4zM397.9 349.5h3.6l1.7 1.5v4l-1.9 1.6-1.6.6-1.6-.6-1.9-1.6v-4zM367.4 363.3h3.6l1.7 1.5v4l-1.9 1.6-1.6.6-1.6-.6-1.9-1.6v-4zM567.2 393h3.6l1.7 1.5v4l-1.9 1.6-1.6.6-1.6-.6-1.9-1.6v-4zM476.8 375.5h3.6l1.7 1.5v4l-1.9 1.6-1.6.6-1.6-.6-1.9-1.6v-4zM529.2 396h3.6l1.7 1.5v4l-1.9 1.6-1.6.6-1.6-.6-1.9-1.6v-4zM363.5 368h3.6l1.7 1.5v4l-1.9 1.6-1.6.6-1.6-.6-1.9-1.6v-4zM544.9 392h3.6l1.7 1.5v4l-1.9 1.6-1.6.6-1.6-.6-1.9-1.6v-4zM435.4 355.4h3.6l1.7 1.5v4l-1.9 1.6-1.6.6-1.6-.6-1.9-1.6v-4zM520.6 389.5h3.6l1.7 1.5v4l-1.9 1.6-1.6.6-1.6-.6-1.9-1.6v-4zM421.1 365.3h3.6l1.7 1.5v4l-1.9 1.6-1.6.6-1.6-.6-1.9-1.6v-4zM388.8 359.3h3.6l1.7 1.5v4l-1.9 1.6-1.6.6-1.6-.6-1.9-1.6v-4zM427.7 369.6h3.6l1.7 1.5v4l-1.9 1.6-1.6.6-1.6-.6-1.9-1.6v-4zM520.9 390.6h3.6l1.7 1.5v4l-1.9 1.6-1.6.6-1.6-.6-1.9-1.6v-4zM381.2 341.7h3.6l1.7 1.5v4l-1.9 1.6-1.6.6-1.6-.6-1.9-1.6v-4zM439.1 363.5h3.6l1.7 1.5v4l-1.9 1.6-1.6.6-1.6-.6-1.9-1.6v-4zM404.8 348.6h3.6l1.7 1.5v4l-1.9 1.6-1.6.6-1.6-.6-1.9-1.6v-4zM487.3 381.1h3.6l1.7 1.5v4l-1.9 1.6-1.6.6-1.6-.6-1.9-1.6v-4zM493.2 380.3h3.6l1.7 1.5v4l-1.9 1.6-1.6.6-1.6-.6-1.9-1.6v-4zM485 379.7h3.6l1.7 1.5v4l-1.9 1.6-1.6.6-1.6-.6-1.9-1.6v-4zM523.6 364.7h3.6l1.7 1.5v4l-1.9 1.6-1.6.6-1.6-.6-1.9-1.6v-4zM508.9 387.9h3.6l1.7 1.5v4l-1.9 1.6-1.6.6-1.6-.6-1.9-1.6v-4zM415.5 369.1h3.6l1.7 1.5v4l-1.9 1.6-1.6.6-1.6-.6-1.9-1.6v-4zM367 374.9h3.6l1.7 1.5v4l-1.9 1.6-1.6.6-1.6-.6-1.9-1.6v-4zM335.7 340.7h3.6l1.7 1.5v4l-1.9 1.6-1.6.6-1.6-.6-1.9-1.6v-4zM534.4 390.2h3.6l1.7 1.5v4l-1.9 1.6-1.6.6-1.6-.6-1.9-1.6v-4zM429 363.9h3.6l1.7 1.5v4l-1.9 1.6-1.6.6-1.6-.6-1.9-1.6v-4zM390.8 351.1h3.6l1.7 1.5v4l-1.9 1.6-1.6.6-1.6-.6-1.9-1.6v-4zM487.8 376.4h3.6l1.7 1.5v4l-1.9 1.6-1.6.6-1.6-.6-1.9-1.6v-4zM548.4 393.6h3.6l1.7 1.5v4l-1.9 1.6-1.6.6-1.6-.6-1.9-1.6v-4zM560.4 395.2h3.6l1.7 1.5v4l-1.9 1.6-1.6.6-1.6-.6-1.9-1.6v-4zM442.9 362.6h3.6l1.7 1.5v4l-1.9 1.6-1.6.6-1.6-.6-1.9-1.6v-4zM548.6 387.7h3.6l1.7 1.5v4l-1.9 1.6-1.6.6-1.6-.6-1.9-1.6v-4zM423.2 387.9h3.6l1.7 1.5v4l-1.9 1.6-1.6.6-1.6-.6-1.9-1.6v-4zM336.3 361.1h3.6l1.7 1.5v4l-1.9 1.6-1.6.6-1.6-.6-1.9-1.6v-4zM331.8 330h3.6l1.7 1.5v4l-1.9 1.6-1.6.6-1.6-.6-1.9-1.6v-4zM358.9 339.1h3.6l1.7 1.5v4l-1.9 1.6-1.6.6-1.6-.6-1.9-1.6v-4zM396.3 352.7h3.6l1.7 1.5v4l-1.9 1.6-1.6.6-1.6-.6-1.9-1.6v-4zM354.8 376h3.6l1.7 1.5v4l-1.9 1.6-1.6.6-1.6-.6-1.9-1.6v-4zM412.7 385.3h3.6l1.7 1.5v4l-1.9 1.6-1.6.6-1.6-.6-1.9-1.6v-4zM389.1 349.4h3.6l1.7 1.5v4l-1.9 1.6-1.6.6-1.6-.6-1.9-1.6v-4zM363.4 339.7h3.6l1.7 1.5v4l-1.9 1.6-1.6.6-1.6-.6-1.9-1.6v-4zM414.2 364.9h3.6l1.7 1.5v4l-1.9 1.6-1.6.6-1.6-.6-1.9-1.6v-4zM279.6 181.1h3.6l1.7 1.5v4l-1.9 1.6-1.6.6-1.6-.6-1.9-1.6v-4zM285.1 364h3.6l1.7 1.5v4l-1.9 1.6-1.6.6-1.6-.6-1.9-1.6v-4zM362.6 219.2h3.6l1.7 1.5v4l-1.9 1.6-1.6.6-1.6-.6-1.9-1.6v-4zM301.5 228.8h3.6l1.7 1.5v4l-1.9 1.6-1.6.6-1.6-.6-1.9-1.6v-4zM325.5 226.1h3.6l1.7 1.5v4l-1.9 1.6-1.6.6-1.6-.6-1.9-1.6v-4zM288 241.3h3.6l1.7 1.5v4l-1.9 1.6-1.6.6-1.6-.6-1.9-1.6v-4zM291.7 242.7h3.6l1.7 1.5v4l-1.9 1.6-1.6.6-1.6-.6-1.9-1.6v-4zM382.4 247.3h3.6l1.7 1.5v4l-1.9 1.6-1.6.6-1.6-.6-1.9-1.6v-4zM312.6 250.7h3.6l1.7 1.5v4l-1.9 1.6-1.6.6-1.6-.6-1.9-1.6v-4zM312.6 258.4h3.6l1.7 1.5v4l-1.9 1.6-1.6.6-1.6-.6-1.9-1.6v-4zM333.4 255.2h3.6l1.7 1.5v4l-1.9 1.6-1.6.6-1.6-.6-1.9-1.6v-4zM350.5 259h3.6l1.7 1.5v4l-1.9 1.6-1.6.6-1.6-.6-1.9-1.6v-4zM284.4 260.9h3.6l1.7 1.5v4l-1.9 1.6-1.6.6-1.6-.6-1.9-1.6v-4zM286.5 265.7h3.6l1.7 1.5v4l-1.9 1.6-1.6.6-1.6-.6-1.9-1.6v-4zM301.5 261.5h3.6l1.7 1.5v4l-1.9 1.6-1.6.6-1.6-.6-1.9-1.6v-4zM303.6 265.7h3.6l1.7 1.5v4l-1.9 1.6-1.6.6-1.6-.6-1.9-1.6v-4zM323 266.3h3.6l1.7 1.5v4l-1.9 1.6-1.6.6-1.6-.6-1.9-1.6v-4zM333.4 268.8h3.6l1.7 1.5v4l-1.9 1.6-1.6.6-1.6-.6-1.9-1.6v-4zM349.9 268.2h3.6l1.7 1.5v4l-1.9 1.6-1.6.6-1.6-.6-1.9-1.6v-4zM366.1 273.4h3.6l1.7 1.5v4l-1.9 1.6-1.6.6-1.6-.6-1.9-1.6v-4zM293.2 273.4h3.6l1.7 1.5v4l-1.9 1.6-1.6.6-1.6-.6-1.9-1.6v-4zM290.1 278.2h3.6l1.7 1.5v4l-1.9 1.6-1.6.6-1.6-.6-1.9-1.6v-4zM285.9 281.3h3.6l1.7 1.5v4l-1.9 1.6-1.6.6-1.6-.6-1.9-1.6v-4zM332.8 282.3h3.6l1.7 1.5v4l-1.9 1.6-1.6.6-1.6-.6-1.9-1.6v-4zM476.5 280.2h3.6l1.7 1.5v4l-1.9 1.6-1.6.6-1.6-.6-1.9-1.6v-4zM415.1 293.8h3.6l1.7 1.5v4l-1.9 1.6-1.6.6-1.6-.6-1.9-1.6v-4zM416.1 304.2h3.6l1.7 1.5v4l-1.9 1.6-1.6.6-1.6-.6-1.9-1.6v-4zM403.6 301.7h3.6l1.7 1.5v4l-1.9 1.6-1.6.6-1.6-.6-1.9-1.6v-4zM372.4 302.7h3.6l1.7 1.5v4l-1.9 1.6-1.6.6-1.6-.6-1.9-1.6v-4zM557.8 345.5h3.6l1.7 1.5v4l-1.9 1.6-1.6.6-1.6-.6-1.9-1.6v-4zM526.5 350.7h3.6l1.7 1.5v4l-1.9 1.6-1.6.6-1.6-.6-1.9-1.6v-4zM512 349h3.6l1.7 1.5v4l-1.9 1.6-1.6.6-1.6-.6-1.9-1.6v-4zM569.9 360.5h3.6l1.7 1.5v4l-1.9 1.6-1.6.6-1.6-.6-1.9-1.6v-4zM473.4 339.6h3.6l1.7 1.5v4l-1.9 1.6-1.6.6-1.6-.6-1.9-1.6v-4zM464.4 341.7h3.6l1.7 1.5v4l-1.9 1.6-1.6.6-1.6-.6-1.9-1.6v-4zM464.4 350.7h3.6l1.7 1.5v4l-1.9 1.6-1.6.6-1.6-.6-1.9-1.6v-4zM455.7 334.4h3.6l1.7 1.5v4l-1.9 1.6-1.6.6-1.6-.6-1.9-1.6v-4zM447.4 335.5h3.6l1.7 1.5v4l-1.9 1.6-1.6.6-1.6-.6-1.9-1.6v-4zM440.1 322.9h3.6l1.7 1.5v4l-1.9 1.6-1.6.6-1.6-.6-1.9-1.6v-4zM432.8 326.1h3.6l1.7 1.5v4l-1.9 1.6-1.6.6-1.6-.6-1.9-1.6v-4zM427.6 330.9h3.6l1.7 1.5v4l-1.9 1.6-1.6.6-1.6-.6-1.9-1.6v-4zM415.1 318.4h3.6l1.7 1.5v4l-1.9 1.6-1.6.6-1.6-.6-1.9-1.6v-4zM284.9 364.6h3.6l1.7 1.5v4l-1.9 1.6-1.6.6-1.6-.6-1.9-1.6v-4zM298.4 362.5h3.6l1.7 1.5v4l-1.9 1.6-1.6.6-1.6-.6-1.9-1.6v-4zM319.7 374.4h3.6l1.7 1.5v4l-1.9 1.6-1.6.6-1.6-.6-1.9-1.6v-4zM329.7 377.1h3.6l1.7 1.5v4l-1.9 1.6-1.6.6-1.6-.6-1.9-1.6v-4zM345.3 390.7h3.6l1.7 1.5v4l-1.9 1.6-1.6.6-1.6-.6-1.9-1.6v-4zM358.8 387.5h3.6l1.7 1.5v4l-1.9 1.6-1.6.6-1.6-.6-1.9-1.6v-4zM369.7 387.5h3.6l1.7 1.5v4l-1.9 1.6-1.6.6-1.6-.6-1.9-1.6v-4zM403.6 395.9h3.6l1.7 1.5v4l-1.9 1.6-1.6.6-1.6-.6-1.9-1.6v-4zM406.7 393.4h3.6l1.7 1.5v4l-1.9 1.6-1.6.6-1.6-.6-1.9-1.6v-4zM460.9 402.1h3.6l1.7 1.5v4l-1.9 1.6-1.6.6-1.6-.6-1.9-1.6v-4zM460.9 410.5h3.6l1.7 1.5v4l-1.9 1.6-1.6.6-1.6-.6-1.9-1.6v-4zM498.4 412.1h3.6l1.7 1.5v4l-1.9 1.6-1.6.6-1.6-.6-1.9-1.6v-4zM493.2 407.3h3.6l1.7 1.5v4l-1.9 1.6-1.6.6-1.6-.6-1.9-1.6v-4zM482.8 406.7h3.6l1.7 1.5v4l-1.9 1.6-1.6.6-1.6-.6-1.9-1.6v-4zM528.6 406.7h3.6l1.7 1.5v4l-1.9 1.6-1.6.6-1.6-.6-1.9-1.6v-4zM537 406.7h3.6l1.7 1.5v4l-1.9 1.6-1.6.6-1.6-.6-1.9-1.6v-4zM553.6 408.4h3.6l1.7 1.5v4l-1.9 1.6-1.6.6-1.6-.6-1.9-1.6v-4zM564 405.2h3.6l1.7 1.5v4l-1.9 1.6-1.6.6-1.6-.6-1.9-1.6v-4zM559.4 451.5h3.6l1.7 1.5v4l-1.9 1.6-1.6.6-1.6-.6-1.9-1.6v-4zM338 205.3h3.6l1.7 1.5v4l-1.9 1.6-1.6.6-1.6-.6-1.9-1.6v-4z"/>
<g class="r"><circle cx="155.9" cy="270.7" r="6"/><circle cx="176.5" cy="230.1" r="6"/><circle cx="182.2" cy="193.4" r="6"/><circle cx="187.7" cy="332.9" r="6"/><circle cx="191.2" cy="146.6" r="6"/><circle cx="193.1" cy="283.6" r="6"/><circle cx="196.4" cy="248" r="6"/><circle cx="201.5" cy="283.2" r="6"/><circle cx="205.9" cy="222" r="6"/><circle cx="209.6" cy="231.7" r="6"/><circle cx="210.3" cy="239.5" r="6"/><circle cx="210.6" cy="304.3" r="6"/><circle cx="211.1" cy="260.3" r="6"/><circle cx="220.4" cy="290.5" r="6"/><circle cx="223.5" cy="255.8" r="6"/><circle cx="225.4" cy="305.3" r="6"/><circle cx="227" cy="351.7" r="6"/><circle cx="229.1" cy="308.4" r="6"/><circle cx="229.6" cy="281.1" r="6"/><circle cx="236.4" cy="269.4" r="6"/><circle cx="237.4" cy="263.1" r="6"/><circle cx="237.7" cy="280" r="6"/><circle cx="238.4" cy="357.4" r="6"/><circle cx="239.5" cy="351.7" r="6"/><circle cx="239.8" cy="214.2" r="6"/><circle cx="239.8" cy="296.8" r="6"/><circle cx="240.3" cy="344.9" r="6"/><circle cx="244.4" cy="222.8" r="6"/><circle cx="246" cy="325.1" r="6"/><circle cx="248.3" cy="296.5" r="6"/><circle cx="253.3" cy="340.7" r="6"/><circle cx="263.2" cy="360" r="6"/><circle cx="263.6" cy="218.3" r="6"/><circle cx="266" cy="297.8" r="6"/><circle cx="268.1" cy="118.8" r="6"/><circle cx="268.6" cy="276.1" r="6"/><circle cx="270.2" cy="317.9" r="6"/><circle cx="270.5" cy="284.8" r="6"/><circle cx="272" cy="251.1" r="6"/><circle cx="272.3" cy="352.2" r="6"/><circle cx="272.6" cy="336.9" r="6"/><circle cx="273.6" cy="232.7" r="6"/><circle cx="273.9" cy="318.3" r="6"/></g>
<g class="b"><circle cx="573.1" cy="392" r="6"/><circle cx="574.7" cy="375.8" r="6"/><circle cx="583.5" cy="377.9" r="6"/><circle cx="583.5" cy="398.8" r="6"/><circle cx="584.1" cy="384.7" r="6"/><circle cx="585.6" cy="402.9" r="6"/><circle cx="587.7" cy="409.7" r="6"/><circle cx="589" cy="365.9" r="6"/><circle cx="595.5" cy="385.2" r="6"/><circle cx="596" cy="406.6" r="6"/><circle cx="597.6" cy="396.7" r="6"/><circle cx="601.2" cy="429.5" r="6"/><circle cx="605.4" cy="382.6" r="6"/><circle cx="605.4" cy="395.1" r="6"/><circle cx="610.1" cy="404.5" r="6"/><circle cx="612.7" cy="421.1" r="6"/><circle cx="612.9" cy="373.2" r="6"/><circle cx="613.8" cy="392.5" r="6"/><circle cx="623.6" cy="414.4" r="6"/><circle cx="625.2" cy="388.9" r="6"/><circle cx="632" cy="412.3" r="6"/><circle cx="632.5" cy="405.5" r="6"/><circle cx="635.1" cy="398.2" r="6"/><circle cx="642.9" cy="393.5" r="6"/><circle cx="646" cy="396.7" r="6"/><circle cx="651.2" cy="392.3" r="6"/><circle cx="657.7" cy="379.8" r="6"/><circle cx="670" cy="399.8" r="6"/><circle cx="671.6" cy="402.4" r="6"/><circle cx="673.6" cy="413.9" r="6"/><circle cx="677.8" cy="395.1" r="6"/><circle cx="685.1" cy="394.4" r="6"/><circle cx="695" cy="407.1" r="6"/><circle cx="709.1" cy="398.2" r="6"/><circle cx="714.8" cy="396.1" r="6"/><circle cx="717.9" cy="395.4" r="6"/><circle cx="721.6" cy="395.1" r="6"/></g>
<path class="ax" d="M285.9 492.8V470.8M285.9 1.1V23.1M580.6 492.8V470.8M580.6 1.1V23.1M138.6 406H160.6M728 406H706M138.6 290.3H160.6M728 290.3H706M138.6 174.6H160.6M728 174.6H706M138.6 58.9H160.6M728 58.9H706"/>
<rect class="ax" x="138.6" y="1.1" width="589.4" height="491.7"/>
<text class="t" text-anchor="end" x="123" y="422">0</text>
<text class="t" text-anchor="end" x="123" y="306.3">4</text>
<text class="t" text-anchor="end" x="123" y="190.6">8</text>
<text class="t" text-anchor="end" x="123" y="74.9">12</text>
<text class="t" text-anchor="middle" x="285.9" y="533.7">5000</text>
<text class="t" text-anchor="middle" x="580.6" y="533.7">5400</text>
<text class="t" x="187.3" y="83.1">(a)</text>
<text class="c" x="441.9" y="81.8" xml:space="preserve">CORR=-0.71</text>
<text class="t" transform="translate(32 369.7) rotate(-90)" xml:space="preserve">Δz<tspan class="s" dy="12">500 hPa</tspan><tspan dy="-12"> [m]</tspan></text>
</g>
<g id="panel-b">
<path class="k" d="M1153.9 342.9h3.6l1.7 1.5v4l-1.9 1.6-1.6.6-1.6-.6-1.9-1.6v-4zM1174.3 368h3.6l1.7 1.5v4l-1.9 1.6-1.6.6-1.6-.6-1.9-1.6v-4zM1123.8 337.1h3.6l1.7 1.5v4l-1.9 1.6-1.6.6-1.6-.6-1.9-1.6v-4zM1192.1 372.2h3.6l1.7 1.5v4l-1.9 1.6-1.6.6-1.6-.6-1.9-1.6v-4zM1149.8 383.8h3.6l1.7 1.5v4l-1.9 1.6-1.6.6-1.6-.6-1.9-1.6v-4zM1144 360h3.6l1.7 1.5v4l-1.9 1.6-1.6.6-1.6-.6-1.9-1.6v-4zM1087.8 383.5h3.6l1.7 1.5v4l-1.9 1.6-1.6.6-1.6-.6-1.9-1.6v-4zM1149.4 330.4h3.6l1.7 1.5v4l-1.9 1.6-1.6.6-1.6-.6-1.9-1.6v-4zM1127.1 362.3h3.6l1.7 1.5v4l-1.9 1.6-1.6.6-1.6-.6-1.9-1.6v-4zM1172.1 366.1h3.6l1.7 1.5v4l-1.9 1.6-1.6.6-1.6-.6-1.9-1.6v-4zM1178.1 338h3.6l1.7 1.5v4l-1.9 1.6-1.6.6-1.6-.6-1.9-1.6v-4zM1158.1 339.6h3.6l1.7 1.5v4l-1.9 1.6-1.6.6-1.6-.6-1.9-1.6v-4zM1083.3 375.4h3.6l1.7 1.5v4l-1.9 1.6-1.6.6-1.6-.6-1.9-1.6v-4zM1154.4 336.3h3.6l1.7 1.5v4l-1.9 1.6-1.6.6-1.6-.6-1.9-1.6v-4zM1091.5 359.3h3.6l1.7 1.5v4l-1.9 1.6-1.6.6-1.6-.6-1.9-1.6v-4zM1105.9 357.8h3.6l1.7 1.5v4l-1.9 1.6-1.6.6-1.6-.6-1.9-1.6v-4zM1074.6 376.4h3.6l1.7 1.5v4l-1.9 1.6-1.6.6-1.6-.6-1.9-1.6v-4zM1148.4 353.7h3.6l1.7 1.5v4l-1.9 1.6-1.6.6-1.6-.6-1.9-1.6v-4zM1164.1 333h3.6l1.7 1.5v4l-1.9 1.6-1.6.6-1.6-.6-1.9-1.6v-4zM1160.9 360.6h3.6l1.7 1.5v4l-1.9 1.6-1.6.6-1.6-.6-1.9-1.6v-4zM1155.5 382.7h3.6l1.7 1.5v4l-1.9 1.6-1.6.6-1.6-.6-1.9-1.6v-4zM1168.3 369.3h3.6l1.7 1.5v4l-1.9 1.6-1.6.6-1.6-.6-1.9-1.6v-4zM1200.1 350.2h3.6l1.7 1.5v4l-1.9 1.6-1.6.6-1.6-.6-1.9-1.6v-4zM1114.1 327.4h3.6l1.7 1.5v4l-1.9 1.6-1.6.6-1.6-.6-1.9-1.6v-4zM1091.1 378.9h3.6l1.7 1.5v4l-1.9 1.6-1.6.6-1.6-.6-1.9-1.6v-4zM1196.5 363h3.6l1.7 1.5v4l-1.9 1.6-1.6.6-1.6-.6-1.9-1.6v-4zM1114 359.1h3.6l1.7 1.5v4l-1.9 1.6-1.6.6-1.6-.6-1.9-1.6v-4zM1175.5 359.5h3.6l1.7 1.5v4l-1.9 1.6-1.6.6-1.6-.6-1.9-1.6v-4zM1195.5 368.5h3.6l1.7 1.5v4l-1.9 1.6-1.6.6-1.6-.6-1.9-1.6v-4zM1192 366.7h3.6l1.7 1.5v4l-1.9 1.6-1.6.6-1.6-.6-1.9-1.6v-4zM1103.6 327.7h3.6l1.7 1.5v4l-1.9 1.6-1.6.6-1.6-.6-1.9-1.6v-4zM1085.8 385.1h3.6l1.7 1.5v4l-1.9 1.6-1.6.6-1.6-.6-1.9-1.6v-4zM1130 355.3h3.6l1.7 1.5v4l-1.9 1.6-1.6.6-1.6-.6-1.9-1.6v-4zM1096.8 385.7h3.6l1.7 1.5v4l-1.9 1.6-1.6.6-1.6-.6-1.9-1.6v-4zM1152.8 349h3.6l1.7 1.5v4l-1.9 1.6-1.6.6-1.6-.6-1.9-1.6v-4zM1115 342.5h3.6l1.7 1.5v4l-1.9 1.6-1.6.6-1.6-.6-1.9-1.6v-4zM1092.2 331.6h3.6l1.7 1.5v4l-1.9 1.6-1.6.6-1.6-.6-1.9-1.6v-4zM1147.4 351.8h3.6l1.7 1.5v4l-1.9 1.6-1.6.6-1.6-.6-1.9-1.6v-4zM1184.1 333.9h3.6l1.7 1.5v4l-1.9 1.6-1.6.6-1.6-.6-1.9-1.6v-4zM1185.3 377.5h3.6l1.7 1.5v4l-1.9 1.6-1.6.6-1.6-.6-1.9-1.6v-4zM1134.3 351.3h3.6l1.7 1.5v4l-1.9 1.6-1.6.6-1.6-.6-1.9-1.6v-4zM1148.3 352.8h3.6l1.7 1.5v4l-1.9 1.6-1.6.6-1.6-.6-1.9-1.6v-4zM1096.8 365.1h3.6l1.7 1.5v4l-1.9 1.6-1.6.6-1.6-.6-1.9-1.6v-4zM1113 347.2h3.6l1.7 1.5v4l-1.9 1.6-1.6.6-1.6-.6-1.9-1.6v-4zM1115.6 388.6h3.6l1.7 1.5v4l-1.9 1.6-1.6.6-1.6-.6-1.9-1.6v-4zM1076.6 363.8h3.6l1.7 1.5v4l-1.9 1.6-1.6.6-1.6-.6-1.9-1.6v-4zM1184.7 345.1h3.6l1.7 1.5v4l-1.9 1.6-1.6.6-1.6-.6-1.9-1.6v-4zM1181.9 364h3.6l1.7 1.5v4l-1.9 1.6-1.6.6-1.6-.6-1.9-1.6v-4zM1113.2 327.3h3.6l1.7 1.5v4l-1.9 1.6-1.6.6-1.6-.6-1.9-1.6v-4zM1115.2 348.9h3.6l1.7 1.5v4l-1.9 1.6-1.6.6-1.6-.6-1.9-1.6v-4zM1146.6 360.4h3.6l1.7 1.5v4l-1.9 1.6-1.6.6-1.6-.6-1.9-1.6v-4zM1129.9 343.7h3.6l1.7 1.5v4l-1.9 1.6-1.6.6-1.6-.6-1.9-1.6v-4zM1094.9 347.9h3.6l1.7 1.5v4l-1.9 1.6-1.6.6-1.6-.6-1.9-1.6v-4zM1189.7 357h3.6l1.7 1.5v4l-1.9 1.6-1.6.6-1.6-.6-1.9-1.6v-4zM1154.9 339.2h3.6l1.7 1.5v4l-1.9 1.6-1.6.6-1.6-.6-1.9-1.6v-4zM1098.9 380.9h3.6l1.7 1.5v4l-1.9 1.6-1.6.6-1.6-.6-1.9-1.6v-4zM1184.2 383h3.6l1.7 1.5v4l-1.9 1.6-1.6.6-1.6-.6-1.9-1.6v-4zM1118.7 373.5h3.6l1.7 1.5v4l-1.9 1.6-1.6.6-1.6-.6-1.9-1.6v-4zM1081 349h3.6l1.7 1.5v4l-1.9 1.6-1.6.6-1.6-.6-1.9-1.6v-4zM1164.4 361.3h3.6l1.7 1.5v4l-1.9 1.6-1.6.6-1.6-.6-1.9-1.6v-4zM1180.1 370.6h3.6l1.7 1.5v4l-1.9 1.6-1.6.6-1.6-.6-1.9-1.6v-4zM1188.3 355.3h3.6l1.7 1.5v4l-1.9 1.6-1.6.6-1.6-.6-1.9-1.6v-4zM1184.1 383h3.6l1.7 1.5v4l-1.9 1.6-1.6.6-1.6-.6-1.9-1.6v-4zM1099.7 384.7h3.6l1.7 1.5v4l-1.9 1.6-1.6.6-1.6-.6-1.9-1.6v-4zM1076.6 340h3.6l1.7 1.5v4l-1.9 1.6-1.6.6-1.6-.6-1.9-1.6v-4zM1117.4 381.4h3.6l1.7 1.5v4l-1.9 1.6-1.6.6-1.6-.6-1.9-1.6v-4zM1112.1 351.2h3.6l1.7 1.5v4l-1.9 1.6-1.6.6-1.6-.6-1.9-1.6v-4zM1113.5 346.4h3.6l1.7 1.5v4l-1.9 1.6-1.6.6-1.6-.6-1.9-1.6v-4zM1090.9 391h3.6l1.7 1.5v4l-1.9 1.6-1.6.6-1.6-.6-1.9-1.6v-4zM1112.8 333.1h3.6l1.7 1.5v4l-1.9 1.6-1.6.6-1.6-.6-1.9-1.6v-4zM1188.8 358.3h3.6l1.7 1.5v4l-1.9 1.6-1.6.6-1.6-.6-1.9-1.6v-4zM1122.4 362.3h3.6l1.7 1.5v4l-1.9 1.6-1.6.6-1.6-.6-1.9-1.6v-4zM1145 349.3h3.6l1.7 1.5v4l-1.9 1.6-1.6.6-1.6-.6-1.9-1.6v-4zM1135.8 331.2h3.6l1.7 1.5v4l-1.9 1.6-1.6.6-1.6-.6-1.9-1.6v-4zM1189.2 361.1h3.6l1.7 1.5v4l-1.9 1.6-1.6.6-1.6-.6-1.9-1.6v-4zM1114.2 364.6h3.6l1.7 1.5v4l-1.9 1.6-1.6.6-1.6-.6-1.9-1.6v-4zM1188 384.9h3.6l1.7 1.5v4l-1.9 1.6-1.6.6-1.6-.6-1.9-1.6v-4zM1162.5 357.8h3.6l1.7 1.5v4l-1.9 1.6-1.6.6-1.6-.6-1.9-1.6v-4zM1103.7 340.7h3.6l1.7 1.5v4l-1.9 1.6-1.6.6-1.6-.6-1.9-1.6v-4zM1184.8 342.8h3.6l1.7 1.5v4l-1.9 1.6-1.6.6-1.6-.6-1.9-1.6v-4zM1185.7 340.1h3.6l1.7 1.5v4l-1.9 1.6-1.6.6-1.6-.6-1.9-1.6v-4zM1177.6 359.6h3.6l1.7 1.5v4l-1.9 1.6-1.6.6-1.6-.6-1.9-1.6v-4zM1069 380.1h3.6l1.7 1.5v4l-1.9 1.6-1.6.6-1.6-.6-1.9-1.6v-4zM1153 372.6h3.6l1.7 1.5v4l-1.9 1.6-1.6.6-1.6-.6-1.9-1.6v-4zM1120.5 372.4h3.6l1.7 1.5v4l-1.9 1.6-1.6.6-1.6-.6-1.9-1.6v-4zM1101.5 365.7h3.6l1.7 1.5v4l-1.9 1.6-1.6.6-1.6-.6-1.9-1.6v-4zM1119 339.7h3.6l1.7 1.5v4l-1.9 1.6-1.6.6-1.6-.6-1.9-1.6v-4zM1184.6 379.1h3.6l1.7 1.5v4l-1.9 1.6-1.6.6-1.6-.6-1.9-1.6v-4zM1117.4 355h3.6l1.7 1.5v4l-1.9 1.6-1.6.6-1.6-.6-1.9-1.6v-4zM1167.5 336.7h3.6l1.7 1.5v4l-1.9 1.6-1.6.6-1.6-.6-1.9-1.6v-4zM1166.7 337.9h3.6l1.7 1.5v4l-1.9 1.6-1.6.6-1.6-.6-1.9-1.6v-4zM1140 351.9h3.6l1.7 1.5v4l-1.9 1.6-1.6.6-1.6-.6-1.9-1.6v-4zM1209.7 365.6h3.6l1.7 1.5v4l-1.9 1.6-1.6.6-1.6-.6-1.9-1.6v-4zM1166.3 354.4h3.6l1.7 1.5v4l-1.9 1.6-1.6.6-1.6-.6-1.9-1.6v-4zM1101.5 353.7h3.6l1.7 1.5v4l-1.9 1.6-1.6.6-1.6-.6-1.9-1.6v-4zM1137.8 366.7h3.6l1.7 1.5v4l-1.9 1.6-1.6.6-1.6-.6-1.9-1.6v-4zM1163 348.2h3.6l1.7 1.5v4l-1.9 1.6-1.6.6-1.6-.6-1.9-1.6v-4zM1096.9 360h3.6l1.7 1.5v4l-1.9 1.6-1.6.6-1.6-.6-1.9-1.6v-4zM1058.9 375.9h3.6l1.7 1.5v4l-1.9 1.6-1.6.6-1.6-.6-1.9-1.6v-4zM1154.9 358.3h3.6l1.7 1.5v4l-1.9 1.6-1.6.6-1.6-.6-1.9-1.6v-4zM1176.5 374h3.6l1.7 1.5v4l-1.9 1.6-1.6.6-1.6-.6-1.9-1.6v-4zM1145.3 361.7h3.6l1.7 1.5v4l-1.9 1.6-1.6.6-1.6-.6-1.9-1.6v-4zM1176.9 376.2h3.6l1.7 1.5v4l-1.9 1.6-1.6.6-1.6-.6-1.9-1.6v-4zM1083.3 352.6h3.6l1.7 1.5v4l-1.9 1.6-1.6.6-1.6-.6-1.9-1.6v-4zM1163.4 335.7h3.6l1.7 1.5v4l-1.9 1.6-1.6.6-1.6-.6-1.9-1.6v-4zM1105.7 368.3h3.6l1.7 1.5v4l-1.9 1.6-1.6.6-1.6-.6-1.9-1.6v-4zM1141.6 381.4h3.6l1.7 1.5v4l-1.9 1.6-1.6.6-1.6-.6-1.9-1.6v-4zM1084.5 373.9h3.6l1.7 1.5v4l-1.9 1.6-1.6.6-1.6-.6-1.9-1.6v-4zM1056.7 357.5h3.6l1.7 1.5v4l-1.9 1.6-1.6.6-1.6-.6-1.9-1.6v-4zM1150.9 348.3h3.6l1.7 1.5v4l-1.9 1.6-1.6.6-1.6-.6-1.9-1.6v-4zM1066.7 348.7h3.6l1.7 1.5v4l-1.9 1.6-1.6.6-1.6-.6-1.9-1.6v-4zM1144.3 326.7h3.6l1.7 1.5v4l-1.9 1.6-1.6.6-1.6-.6-1.9-1.6v-4zM1163.7 347.5h3.6l1.7 1.5v4l-1.9 1.6-1.6.6-1.6-.6-1.9-1.6v-4zM1144.7 370.3h3.6l1.7 1.5v4l-1.9 1.6-1.6.6-1.6-.6-1.9-1.6v-4zM1123.3 333.6h3.6l1.7 1.5v4l-1.9 1.6-1.6.6-1.6-.6-1.9-1.6v-4zM1175.2 339.2h3.6l1.7 1.5v4l-1.9 1.6-1.6.6-1.6-.6-1.9-1.6v-4zM1069.7 370.9h3.6l1.7 1.5v4l-1.9 1.6-1.6.6-1.6-.6-1.9-1.6v-4zM1126.9 325.7h3.6l1.7 1.5v4l-1.9 1.6-1.6.6-1.6-.6-1.9-1.6v-4zM1072.2 374.2h3.6l1.7 1.5v4l-1.9 1.6-1.6.6-1.6-.6-1.9-1.6v-4zM1150 346.9h3.6l1.7 1.5v4l-1.9 1.6-1.6.6-1.6-.6-1.9-1.6v-4zM1119.9 334h3.6l1.7 1.5v4l-1.9 1.6-1.6.6-1.6-.6-1.9-1.6v-4zM1120 357.4h3.6l1.7 1.5v4l-1.9 1.6-1.6.6-1.6-.6-1.9-1.6v-4zM1088.3 383.6h3.6l1.7 1.5v4l-1.9 1.6-1.6.6-1.6-.6-1.9-1.6v-4zM1169.4 341.7h3.6l1.7 1.5v4l-1.9 1.6-1.6.6-1.6-.6-1.9-1.6v-4zM1151.4 334.7h3.6l1.7 1.5v4l-1.9 1.6-1.6.6-1.6-.6-1.9-1.6v-4zM1142.2 344.9h3.6l1.7 1.5v4l-1.9 1.6-1.6.6-1.6-.6-1.9-1.6v-4zM1138.4 355h3.6l1.7 1.5v4l-1.9 1.6-1.6.6-1.6-.6-1.9-1.6v-4zM1110.9 374h3.6l1.7 1.5v4l-1.9 1.6-1.6.6-1.6-.6-1.9-1.6v-4zM1143.5 347.1h3.6l1.7 1.5v4l-1.9 1.6-1.6.6-1.6-.6-1.9-1.6v-4zM1154.7 327h3.6l1.7 1.5v4l-1.9 1.6-1.6.6-1.6-.6-1.9-1.6v-4zM1107.7 367.5h3.6l1.7 1.5v4l-1.9 1.6-1.6.6-1.6-.6-1.9-1.6v-4zM1102.1 351.4h3.6l1.7 1.5v4l-1.9 1.6-1.6.6-1.6-.6-1.9-1.6v-4zM1106.7 348h3.6l1.7 1.5v4l-1.9 1.6-1.6.6-1.6-.6-1.9-1.6v-4zM1126.5 345.5h3.6l1.7 1.5v4l-1.9 1.6-1.6.6-1.6-.6-1.9-1.6v-4zM1135 333.9h3.6l1.7 1.5v4l-1.9 1.6-1.6.6-1.6-.6-1.9-1.6v-4zM1186.6 361.8h3.6l1.7 1.5v4l-1.9 1.6-1.6.6-1.6-.6-1.9-1.6v-4zM1130.8 378.2h3.6l1.7 1.5v4l-1.9 1.6-1.6.6-1.6-.6-1.9-1.6v-4zM1066.4 349h3.6l1.7 1.5v4l-1.9 1.6-1.6.6-1.6-.6-1.9-1.6v-4zM1102.2 375.3h3.6l1.7 1.5v4l-1.9 1.6-1.6.6-1.6-.6-1.9-1.6v-4zM1165.3 376.9h3.6l1.7 1.5v4l-1.9 1.6-1.6.6-1.6-.6-1.9-1.6v-4zM1141 325.3h3.6l1.7 1.5v4l-1.9 1.6-1.6.6-1.6-.6-1.9-1.6v-4zM1190.7 380.8h3.6l1.7 1.5v4l-1.9 1.6-1.6.6-1.6-.6-1.9-1.6v-4zM1156.9 374.9h3.6l1.7 1.5v4l-1.9 1.6-1.6.6-1.6-.6-1.9-1.6v-4zM1069.3 368.2h3.6l1.7 1.5v4l-1.9 1.6-1.6.6-1.6-.6-1.9-1.6v-4zM1076.8 353.2h3.6l1.7 1.5v4l-1.9 1.6-1.6.6-1.6-.6-1.9-1.6v-4zM1136.9 363.6h3.6l1.7 1.5v4l-1.9 1.6-1.6.6-1.6-.6-1.9-1.6v-4zM1121.9 368.5h3.6l1.7 1.5v4l-1.9 1.6-1.6.6-1.6-.6-1.9-1.6v-4zM1159.4 331.1h3.6l1.7 1.5v4l-1.9 1.6-1.6.6-1.6-.6-1.9-1.6v-4zM1139.3 364.3h3.6l1.7 1.5v4l-1.9 1.6-1.6.6-1.6-.6-1.9-1.6v-4zM1088.5 359.1h3.6l1.7 1.5v4l-1.9 1.6-1.6.6-1.6-.6-1.9-1.6v-4zM1143.1 347h3.6l1.7 1.5v4l-1.9 1.6-1.6.6-1.6-.6-1.9-1.6v-4zM1071.8 379.8h3.6l1.7 1.5v4l-1.9 1.6-1.6.6-1.6-.6-1.9-1.6v-4zM1098.4 342.6h3.6l1.7 1.5v4l-1.9 1.6-1.6.6-1.6-.6-1.9-1.6v-4zM1149.3 370.1h3.6l1.7 1.5v4l-1.9 1.6-1.6.6-1.6-.6-1.9-1.6v-4zM1126.3 353.7h3.6l1.7 1.5v4l-1.9 1.6-1.6.6-1.6-.6-1.9-1.6v-4zM1158.3 386.4h3.6l1.7 1.5v4l-1.9 1.6-1.6.6-1.6-.6-1.9-1.6v-4zM1192.3 382h3.6l1.7 1.5v4l-1.9 1.6-1.6.6-1.6-.6-1.9-1.6v-4zM1142.4 330.3h3.6l1.7 1.5v4l-1.9 1.6-1.6.6-1.6-.6-1.9-1.6v-4zM1119 354.4h3.6l1.7 1.5v4l-1.9 1.6-1.6.6-1.6-.6-1.9-1.6v-4zM1146.3 361.3h3.6l1.7 1.5v4l-1.9 1.6-1.6.6-1.6-.6-1.9-1.6v-4zM1149.7 351h3.6l1.7 1.5v4l-1.9 1.6-1.6.6-1.6-.6-1.9-1.6v-4zM1106.9 376h3.6l1.7 1.5v4l-1.9 1.6-1.6.6-1.6-.6-1.9-1.6v-4zM1078.5 355.9h3.6l1.7 1.5v4l-1.9 1.6-1.6.6-1.6-.6-1.9-1.6v-4zM1094.5 333.7h3.6l1.7 1.5v4l-1.9 1.6-1.6.6-1.6-.6-1.9-1.6v-4zM1121.7 349.8h3.6l1.7 1.5v4l-1.9 1.6-1.6.6-1.6-.6-1.9-1.6v-4zM1130.5 366.1h3.6l1.7 1.5v4l-1.9 1.6-1.6.6-1.6-.6-1.9-1.6v-4zM1084.3 347.2h3.6l1.7 1.5v4l-1.9 1.6-1.6.6-1.6-.6-1.9-1.6v-4zM1154.4 386.8h3.6l1.7 1.5v4l-1.9 1.6-1.6.6-1.6-.6-1.9-1.6v-4zM1115.5 368.5h3.6l1.7 1.5v4l-1.9 1.6-1.6.6-1.6-.6-1.9-1.6v-4zM1138.6 354h3.6l1.7 1.5v4l-1.9 1.6-1.6.6-1.6-.6-1.9-1.6v-4zM1160.8 389h3.6l1.7 1.5v4l-1.9 1.6-1.6.6-1.6-.6-1.9-1.6v-4zM1182.2 381.7h3.6l1.7 1.5v4l-1.9 1.6-1.6.6-1.6-.6-1.9-1.6v-4zM1128.8 385.2h3.6l1.7 1.5v4l-1.9 1.6-1.6.6-1.6-.6-1.9-1.6v-4zM1112.7 363h3.6l1.7 1.5v4l-1.9 1.6-1.6.6-1.6-.6-1.9-1.6v-4zM1173.9 345.4h3.6l1.7 1.5v4l-1.9 1.6-1.6.6-1.6-.6-1.9-1.6v-4zM1099 370.6h3.6l1.7 1.5v4l-1.9 1.6-1.6.6-1.6-.6-1.9-1.6v-4zM1142.4 349.9h3.6l1.7 1.5v4l-1.9 1.6-1.6.6-1.6-.6-1.9-1.6v-4zM1121.9 386.1h3.6l1.7 1.5v4l-1.9 1.6-1.6.6-1.6-.6-1.9-1.6v-4zM1076.4 338.3h3.6l1.7 1.5v4l-1.9 1.6-1.6.6-1.6-.6-1.9-1.6v-4zM1062 350.6h3.6l1.7 1.5v4l-1.9 1.6-1.6.6-1.6-.6-1.9-1.6v-4zM1134.2 346.2h3.6l1.7 1.5v4l-1.9 1.6-1.6.6-1.6-.6-1.9-1.6v-4zM1157.8 370.5h3.6l1.7 1.5v4l-1.9 1.6-1.6.6-1.6-.6-1.9-1.6v-4zM1151 367.7h3.6l1.7 1.5v4l-1.9 1.6-1.6.6-1.6-.6-1.9-1.6v-4zM1122.1 368.9h3.6l1.7 1.5v4l-1.9 1.6-1.6.6-1.6-.6-1.9-1.6v-4zM1182.9 352.7h3.6l1.7 1.5v4l-1.9 1.6-1.6.6-1.6-.6-1.9-1.6v-4zM1133.8 345.6h3.6l1.7 1.5v4l-1.9 1.6-1.6.6-1.6-.6-1.9-1.6v-4zM1192.5 378.3h3.6l1.7 1.5v4l-1.9 1.6-1.6.6-1.6-.6-1.9-1.6v-4zM1140.4 372h3.6l1.7 1.5v4l-1.9 1.6-1.6.6-1.6-.6-1.9-1.6v-4zM1112.7 352.2h3.6l1.7 1.5v4l-1.9 1.6-1.6.6-1.6-.6-1.9-1.6v-4zM1095.4 365.1h3.6l1.7 1.5v4l-1.9 1.6-1.6.6-1.6-.6-1.9-1.6v-4zM1136.3 353.8h3.6l1.7 1.5v4l-1.9 1.6-1.6.6-1.6-.6-1.9-1.6v-4zM1206.6 354.7h3.6l1.7 1.5v4l-1.9 1.6-1.6.6-1.6-.6-1.9-1.6v-4zM1133.2 386.7h3.6l1.7 1.5v4l-1.9 1.6-1.6.6-1.6-.6-1.9-1.6v-4zM1133.6 359.4h3.6l1.7 1.5v4l-1.9 1.6-1.6.6-1.6-.6-1.9-1.6v-4zM1147.9 330.3h3.6l1.7 1.5v4l-1.9 1.6-1.6.6-1.6-.6-1.9-1.6v-4zM1126.2 345.3h3.6l1.7 1.5v4l-1.9 1.6-1.6.6-1.6-.6-1.9-1.6v-4zM1160.5 381.5h3.6l1.7 1.5v4l-1.9 1.6-1.6.6-1.6-.6-1.9-1.6v-4zM1077.5 372.6h3.6l1.7 1.5v4l-1.9 1.6-1.6.6-1.6-.6-1.9-1.6v-4zM1156.2 353.8h3.6l1.7 1.5v4l-1.9 1.6-1.6.6-1.6-.6-1.9-1.6v-4zM1111.8 384.7h3.6l1.7 1.5v4l-1.9 1.6-1.6.6-1.6-.6-1.9-1.6v-4zM1109.7 369.8h3.6l1.7 1.5v4l-1.9 1.6-1.6.6-1.6-.6-1.9-1.6v-4zM1129.9 379.4h3.6l1.7 1.5v4l-1.9 1.6-1.6.6-1.6-.6-1.9-1.6v-4zM1131 367h3.6l1.7 1.5v4l-1.9 1.6-1.6.6-1.6-.6-1.9-1.6v-4zM1180.5 353.7h3.6l1.7 1.5v4l-1.9 1.6-1.6.6-1.6-.6-1.9-1.6v-4zM1125.9 381.1h3.6l1.7 1.5v4l-1.9 1.6-1.6.6-1.6-.6-1.9-1.6v-4zM1128.7 362h3.6l1.7 1.5v4l-1.9 1.6-1.6.6-1.6-.6-1.9-1.6v-4zM1124.1 333.7h3.6l1.7 1.5v4l-1.9 1.6-1.6.6-1.6-.6-1.9-1.6v-4zM1089.2 361.6h3.6l1.7 1.5v4l-1.9 1.6-1.6.6-1.6-.6-1.9-1.6v-4zM1131.9 355.3h3.6l1.7 1.5v4l-1.9 1.6-1.6.6-1.6-.6-1.9-1.6v-4zM1203.8 359.9h3.6l1.7 1.5v4l-1.9 1.6-1.6.6-1.6-.6-1.9-1.6v-4zM1067.1 360.2h3.6l1.7 1.5v4l-1.9 1.6-1.6.6-1.6-.6-1.9-1.6v-4zM1181.6 358.7h3.6l1.7 1.5v4l-1.9 1.6-1.6.6-1.6-.6-1.9-1.6v-4zM1127.5 361.2h3.6l1.7 1.5v4l-1.9 1.6-1.6.6-1.6-.6-1.9-1.6v-4zM1052.1 355.2h3.6l1.7 1.5v4l-1.9 1.6-1.6.6-1.6-.6-1.9-1.6v-4zM1054 352.2h3.6l1.7 1.5v4l-1.9 1.6-1.6.6-1.6-.6-1.9-1.6v-4zM1138.3 367.3h3.6l1.7 1.5v4l-1.9 1.6-1.6.6-1.6-.6-1.9-1.6v-4zM1105.1 351.5h3.6l1.7 1.5v4l-1.9 1.6-1.6.6-1.6-.6-1.9-1.6v-4zM1138.7 352.7h3.6l1.7 1.5v4l-1.9 1.6-1.6.6-1.6-.6-1.9-1.6v-4zM1086.4 365.5h3.6l1.7 1.5v4l-1.9 1.6-1.6.6-1.6-.6-1.9-1.6v-4zM1165.1 357.7h3.6l1.7 1.5v4l-1.9 1.6-1.6.6-1.6-.6-1.9-1.6v-4zM1157.8 339.5h3.6l1.7 1.5v4l-1.9 1.6-1.6.6-1.6-.6-1.9-1.6v-4zM1101.9 362.6h3.6l1.7 1.5v4l-1.9 1.6-1.6.6-1.6-.6-1.9-1.6v-4zM1160.8 333.9h3.6l1.7 1.5v4l-1.9 1.6-1.6.6-1.6-.6-1.9-1.6v-4zM1144.9 330.8h3.6l1.7 1.5v4l-1.9 1.6-1.6.6-1.6-.6-1.9-1.6v-4zM1138.8 375.4h3.6l1.7 1.5v4l-1.9 1.6-1.6.6-1.6-.6-1.9-1.6v-4zM1121.7 374h3.6l1.7 1.5v4l-1.9 1.6-1.6.6-1.6-.6-1.9-1.6v-4zM1122 325.2h3.6l1.7 1.5v4l-1.9 1.6-1.6.6-1.6-.6-1.9-1.6v-4zM1153 360.5h3.6l1.7 1.5v4l-1.9 1.6-1.6.6-1.6-.6-1.9-1.6v-4zM1125.3 381.8h3.6l1.7 1.5v4l-1.9 1.6-1.6.6-1.6-.6-1.9-1.6v-4zM1188.7 344.3h3.6l1.7 1.5v4l-1.9 1.6-1.6.6-1.6-.6-1.9-1.6v-4zM1138.5 361.9h3.6l1.7 1.5v4l-1.9 1.6-1.6.6-1.6-.6-1.9-1.6v-4zM1151.4 381.7h3.6l1.7 1.5v4l-1.9 1.6-1.6.6-1.6-.6-1.9-1.6v-4zM1108.5 382.3h3.6l1.7 1.5v4l-1.9 1.6-1.6.6-1.6-.6-1.9-1.6v-4zM1137.3 391.5h3.6l1.7 1.5v4l-1.9 1.6-1.6.6-1.6-.6-1.9-1.6v-4zM1174.3 344.7h3.6l1.7 1.5v4l-1.9 1.6-1.6.6-1.6-.6-1.9-1.6v-4zM1167.9 332.1h3.6l1.7 1.5v4l-1.9 1.6-1.6.6-1.6-.6-1.9-1.6v-4zM1151.3 336.9h3.6l1.7 1.5v4l-1.9 1.6-1.6.6-1.6-.6-1.9-1.6v-4zM1090.9 382.3h3.6l1.7 1.5v4l-1.9 1.6-1.6.6-1.6-.6-1.9-1.6v-4zM1112.1 344.7h3.6l1.7 1.5v4l-1.9 1.6-1.6.6-1.6-.6-1.9-1.6v-4zM1053.3 357.4h3.6l1.7 1.5v4l-1.9 1.6-1.6.6-1.6-.6-1.9-1.6v-4zM1157.2 332h3.6l1.7 1.5v4l-1.9 1.6-1.6.6-1.6-.6-1.9-1.6v-4zM1194.5 366.8h3.6l1.7 1.5v4l-1.9 1.6-1.6.6-1.6-.6-1.9-1.6v-4zM1093.7 372.3h3.6l1.7 1.5v4l-1.9 1.6-1.6.6-1.6-.6-1.9-1.6v-4zM1119.3 339.9h3.6l1.7 1.5v4l-1.9 1.6-1.6.6-1.6-.6-1.9-1.6v-4zM1207.3 352.7h3.6l1.7 1.5v4l-1.9 1.6-1.6.6-1.6-.6-1.9-1.6v-4zM1137.2 326.5h3.6l1.7 1.5v4l-1.9 1.6-1.6.6-1.6-.6-1.9-1.6v-4zM1106.2 338.3h3.6l1.7 1.5v4l-1.9 1.6-1.6.6-1.6-.6-1.9-1.6v-4zM1126.7 363.3h3.6l1.7 1.5v4l-1.9 1.6-1.6.6-1.6-.6-1.9-1.6v-4zM1155.6 341.8h3.6l1.7 1.5v4l-1.9 1.6-1.6.6-1.6-.6-1.9-1.6v-4zM1184.5 386.3h3.6l1.7 1.5v4l-1.9 1.6-1.6.6-1.6-.6-1.9-1.6v-4zM1141.2 352h3.6l1.7 1.5v4l-1.9 1.6-1.6.6-1.6-.6-1.9-1.6v-4zM1078.2 354.7h3.6l1.7 1.5v4l-1.9 1.6-1.6.6-1.6-.6-1.9-1.6v-4zM1167.5 385.1h3.6l1.7 1.5v4l-1.9 1.6-1.6.6-1.6-.6-1.9-1.6v-4zM1089.1 338.5h3.6l1.7 1.5v4l-1.9 1.6-1.6.6-1.6-.6-1.9-1.6v-4zM1108.4 343.6h3.6l1.7 1.5v4l-1.9 1.6-1.6.6-1.6-.6-1.9-1.6v-4zM1168.1 376.4h3.6l1.7 1.5v4l-1.9 1.6-1.6.6-1.6-.6-1.9-1.6v-4zM1177.1 386.7h3.6l1.7 1.5v4l-1.9 1.6-1.6.6-1.6-.6-1.9-1.6v-4zM1105.6 333.7h3.6l1.7 1.5v4l-1.9 1.6-1.6.6-1.6-.6-1.9-1.6v-4zM1089.8 365.2h3.6l1.7 1.5v4l-1.9 1.6-1.6.6-1.6-.6-1.9-1.6v-4zM1096.7 366h3.6l1.7 1.5v4l-1.9 1.6-1.6.6-1.6-.6-1.9-1.6v-4zM1120.2 362.1h3.6l1.7 1.5v4l-1.9 1.6-1.6.6-1.6-.6-1.9-1.6v-4zM1164.6 331.6h3.6l1.7 1.5v4l-1.9 1.6-1.6.6-1.6-.6-1.9-1.6v-4zM1154.4 374.3h3.6l1.7 1.5v4l-1.9 1.6-1.6.6-1.6-.6-1.9-1.6v-4zM1116 345.2h3.6l1.7 1.5v4l-1.9 1.6-1.6.6-1.6-.6-1.9-1.6v-4zM1155.3 354.1h3.6l1.7 1.5v4l-1.9 1.6-1.6.6-1.6-.6-1.9-1.6v-4zM1135.7 375.7h3.6l1.7 1.5v4l-1.9 1.6-1.6.6-1.6-.6-1.9-1.6v-4zM1190.2 356.4h3.6l1.7 1.5v4l-1.9 1.6-1.6.6-1.6-.6-1.9-1.6v-4zM1123.4 341.3h3.6l1.7 1.5v4l-1.9 1.6-1.6.6-1.6-.6-1.9-1.6v-4zM1172.4 331.9h3.6l1.7 1.5v4l-1.9 1.6-1.6.6-1.6-.6-1.9-1.6v-4zM1087.2 389.7h3.6l1.7 1.5v4l-1.9 1.6-1.6.6-1.6-.6-1.9-1.6v-4zM1119.4 380.1h3.6l1.7 1.5v4l-1.9 1.6-1.6.6-1.6-.6-1.9-1.6v-4zM1118.9 371.6h3.6l1.7 1.5v4l-1.9 1.6-1.6.6-1.6-.6-1.9-1.6v-4zM1074.9 342.3h3.6l1.7 1.5v4l-1.9 1.6-1.6.6-1.6-.6-1.9-1.6v-4zM1158.4 383.3h3.6l1.7 1.5v4l-1.9 1.6-1.6.6-1.6-.6-1.9-1.6v-4zM1123 360.3h3.6l1.7 1.5v4l-1.9 1.6-1.6.6-1.6-.6-1.9-1.6v-4zM1164 353.8h3.6l1.7 1.5v4l-1.9 1.6-1.6.6-1.6-.6-1.9-1.6v-4zM1064 352.1h3.6l1.7 1.5v4l-1.9 1.6-1.6.6-1.6-.6-1.9-1.6v-4zM1152.6 359.1h3.6l1.7 1.5v4l-1.9 1.6-1.6.6-1.6-.6-1.9-1.6v-4zM1213 360.4h3.6l1.7 1.5v4l-1.9 1.6-1.6.6-1.6-.6-1.9-1.6v-4zM1050.5 361.8h3.6l1.7 1.5v4l-1.9 1.6-1.6.6-1.6-.6-1.9-1.6v-4zM1083 348.8h3.6l1.7 1.5v4l-1.9 1.6-1.6.6-1.6-.6-1.9-1.6v-4zM1104.7 378.8h3.6l1.7 1.5v4l-1.9 1.6-1.6.6-1.6-.6-1.9-1.6v-4zM1182.1 351.9h3.6l1.7 1.5v4l-1.9 1.6-1.6.6-1.6-.6-1.9-1.6v-4zM1077.6 351.4h3.6l1.7 1.5v4l-1.9 1.6-1.6.6-1.6-.6-1.9-1.6v-4zM1147.1 342.3h3.6l1.7 1.5v4l-1.9 1.6-1.6.6-1.6-.6-1.9-1.6v-4zM1158.6 358.6h3.6l1.7 1.5v4l-1.9 1.6-1.6.6-1.6-.6-1.9-1.6v-4zM1114.8 353.7h3.6l1.7 1.5v4l-1.9 1.6-1.6.6-1.6-.6-1.9-1.6v-4zM1140.3 347.3h3.6l1.7 1.5v4l-1.9 1.6-1.6.6-1.6-.6-1.9-1.6v-4zM1162.9 362.5h3.6l1.7 1.5v4l-1.9 1.6-1.6.6-1.6-.6-1.9-1.6v-4zM1084.4 387.8h3.6l1.7 1.5v4l-1.9 1.6-1.6.6-1.6-.6-1.9-1.6v-4zM1172.1 385.1h3.6l1.7 1.5v4l-1.9 1.6-1.6.6-1.6-.6-1.9-1.6v-4zM1164.4 329.9h3.6l1.7 1.5v4l-1.9 1.6-1.6.6-1.6-.6-1.9-1.6v-4zM1164.4 350.6h3.6l1.7 1.5v4l-1.9 1.6-1.6.6-1.6-.6-1.9-1.6v-4zM1166.2 344.3h3.6l1.7 1.5v4l-1.9 1.6-1.6.6-1.6-.6-1.9-1.6v-4zM1081 356h3.6l1.7 1.5v4l-1.9 1.6-1.6.6-1.6-.6-1.9-1.6v-4zM1143.9 394h3.6l1.7 1.5v4l-1.9 1.6-1.6.6-1.6-.6-1.9-1.6v-4zM1150.4 378h3.6l1.7 1.5v4l-1.9 1.6-1.6.6-1.6-.6-1.9-1.6v-4zM1187.5 342.2h3.6l1.7 1.5v4l-1.9 1.6-1.6.6-1.6-.6-1.9-1.6v-4zM1166.4 361.2h3.6l1.7 1.5v4l-1.9 1.6-1.6.6-1.6-.6-1.9-1.6v-4zM1119.1 343.6h3.6l1.7 1.5v4l-1.9 1.6-1.6.6-1.6-.6-1.9-1.6v-4zM1067.5 378.1h3.6l1.7 1.5v4l-1.9 1.6-1.6.6-1.6-.6-1.9-1.6v-4zM1116.2 359.8h3.6l1.7 1.5v4l-1.9 1.6-1.6.6-1.6-.6-1.9-1.6v-4zM1134.2 341.8h3.6l1.7 1.5v4l-1.9 1.6-1.6.6-1.6-.6-1.9-1.6v-4zM1073.5 349.9h3.6l1.7 1.5v4l-1.9 1.6-1.6.6-1.6-.6-1.9-1.6v-4zM1170.9 359.9h3.6l1.7 1.5v4l-1.9 1.6-1.6.6-1.6-.6-1.9-1.6v-4zM1134.8 369.1h3.6l1.7 1.5v4l-1.9 1.6-1.6.6-1.6-.6-1.9-1.6v-4zM1187.1 376.1h3.6l1.7 1.5v4l-1.9 1.6-1.6.6-1.6-.6-1.9-1.6v-4zM1137 351.6h3.6l1.7 1.5v4l-1.9 1.6-1.6.6-1.6-.6-1.9-1.6v-4zM1120.7 376.2h3.6l1.7 1.5v4l-1.9 1.6-1.6.6-1.6-.6-1.9-1.6v-4zM1108.1 346.5h3.6l1.7 1.5v4l-1.9 1.6-1.6.6-1.6-.6-1.9-1.6v-4zM1127.6 346.2h3.6l1.7 1.5v4l-1.9 1.6-1.6.6-1.6-.6-1.9-1.6v-4zM1197.8 379.3h3.6l1.7 1.5v4l-1.9 1.6-1.6.6-1.6-.6-1.9-1.6v-4zM1072.5 343h3.6l1.7 1.5v4l-1.9 1.6-1.6.6-1.6-.6-1.9-1.6v-4zM1139.6 395.2h3.6l1.7 1.5v4l-1.9 1.6-1.6.6-1.6-.6-1.9-1.6v-4zM1154 327.8h3.6l1.7 1.5v4l-1.9 1.6-1.6.6-1.6-.6-1.9-1.6v-4zM1138.3 379.6h3.6l1.7 1.5v4l-1.9 1.6-1.6.6-1.6-.6-1.9-1.6v-4zM1164.6 382h3.6l1.7 1.5v4l-1.9 1.6-1.6.6-1.6-.6-1.9-1.6v-4zM1133 371.8h3.6l1.7 1.5v4l-1.9 1.6-1.6.6-1.6-.6-1.9-1.6v-4zM1139.5 368h3.6l1.7 1.5v4l-1.9 1.6-1.6.6-1.6-.6-1.9-1.6v-4zM1185.3 378.7h3.6l1.7 1.5v4l-1.9 1.6-1.6.6-1.6-.6-1.9-1.6v-4zM1145.7 343.5h3.6l1.7 1.5v4l-1.9 1.6-1.6.6-1.6-.6-1.9-1.6v-4zM1080.1 340.9h3.6l1.7 1.5v4l-1.9 1.6-1.6.6-1.6-.6-1.9-1.6v-4zM1101.1 330.9h3.6l1.7 1.5v4l-1.9 1.6-1.6.6-1.6-.6-1.9-1.6v-4zM1145.8 359h3.6l1.7 1.5v4l-1.9 1.6-1.6.6-1.6-.6-1.9-1.6v-4zM1161.9 389.7h3.6l1.7 1.5v4l-1.9 1.6-1.6.6-1.6-.6-1.9-1.6v-4zM1091.3 391.4h3.6l1.7 1.5v4l-1.9 1.6-1.6.6-1.6-.6-1.9-1.6v-4zM1160.1 387.7h3.6l1.7 1.5v4l-1.9 1.6-1.6.6-1.6-.6-1.9-1.6v-4zM1111.4 331.7h3.6l1.7 1.5v4l-1.9 1.6-1.6.6-1.6-.6-1.9-1.6v-4zM1175.1 350.1h3.6l1.7 1.5v4l-1.9 1.6-1.6.6-1.6-.6-1.9-1.6v-4zM1094.5 341.7h3.6l1.7 1.5v4l-1.9 1.6-1.6.6-1.6-.6-1.9-1.6v-4zM1168.3 349.8h3.6l1.7 1.5v4l-1.9 1.6-1.6.6-1.6-.6-1.9-1.6v-4zM1060.5 377.1h3.6l1.7 1.5v4l-1.9 1.6-1.6.6-1.6-.6-1.9-1.6v-4zM1137.3 326.1h3.6l1.7 1.5v4l-1.9 1.6-1.6.6-1.6-.6-1.9-1.6v-4zM1099.9 344.5h3.6l1.7 1.5v4l-1.9 1.6-1.6.6-1.6-.6-1.9-1.6v-4zM1134.7 335h3.6l1.7 1.5v4l-1.9 1.6-1.6.6-1.6-.6-1.9-1.6v-4zM1072.9 349.4h3.6l1.7 1.5v4l-1.9 1.6-1.6.6-1.6-.6-1.9-1.6v-4zM1101 350.8h3.6l1.7 1.5v4l-1.9 1.6-1.6.6-1.6-.6-1.9-1.6v-4zM1070.9 350.9h3.6l1.7 1.5v4l-1.9 1.6-1.6.6-1.6-.6-1.9-1.6v-4zM1101.8 365h3.6l1.7 1.5v4l-1.9 1.6-1.6.6-1.6-.6-1.9-1.6v-4zM1165.3 379.3h3.6l1.7 1.5v4l-1.9 1.6-1.6.6-1.6-.6-1.9-1.6v-4zM1174.6 365.4h3.6l1.7 1.5v4l-1.9 1.6-1.6.6-1.6-.6-1.9-1.6v-4zM1135.7 342h3.6l1.7 1.5v4l-1.9 1.6-1.6.6-1.6-.6-1.9-1.6v-4zM1095.1 377h3.6l1.7 1.5v4l-1.9 1.6-1.6.6-1.6-.6-1.9-1.6v-4zM1065.2 365.5h3.6l1.7 1.5v4l-1.9 1.6-1.6.6-1.6-.6-1.9-1.6v-4zM1164.8 372.2h3.6l1.7 1.5v4l-1.9 1.6-1.6.6-1.6-.6-1.9-1.6v-4zM1106.5 339.4h3.6l1.7 1.5v4l-1.9 1.6-1.6.6-1.6-.6-1.9-1.6v-4zM1091.2 356.9h3.6l1.7 1.5v4l-1.9 1.6-1.6.6-1.6-.6-1.9-1.6v-4zM1106.8 352.5h3.6l1.7 1.5v4l-1.9 1.6-1.6.6-1.6-.6-1.9-1.6v-4zM1106 391.5h3.6l1.7 1.5v4l-1.9 1.6-1.6.6-1.6-.6-1.9-1.6v-4zM1152.8 333.3h3.6l1.7 1.5v4l-1.9 1.6-1.6.6-1.6-.6-1.9-1.6v-4zM1123.2 362.2h3.6l1.7 1.5v4l-1.9 1.6-1.6.6-1.6-.6-1.9-1.6v-4zM1094.4 390.8h3.6l1.7 1.5v4l-1.9 1.6-1.6.6-1.6-.6-1.9-1.6v-4zM1161.8 393.1h3.6l1.7 1.5v4l-1.9 1.6-1.6.6-1.6-.6-1.9-1.6v-4zM1117.9 359.7h3.6l1.7 1.5v4l-1.9 1.6-1.6.6-1.6-.6-1.9-1.6v-4zM1172.1 354h3.6l1.7 1.5v4l-1.9 1.6-1.6.6-1.6-.6-1.9-1.6v-4zM1131.2 388h3.6l1.7 1.5v4l-1.9 1.6-1.6.6-1.6-.6-1.9-1.6v-4zM1176.2 365.4h3.6l1.7 1.5v4l-1.9 1.6-1.6.6-1.6-.6-1.9-1.6v-4zM1189.9 359.4h3.6l1.7 1.5v4l-1.9 1.6-1.6.6-1.6-.6-1.9-1.6v-4zM1173.9 347.2h3.6l1.7 1.5v4l-1.9 1.6-1.6.6-1.6-.6-1.9-1.6v-4zM1188.3 344.2h3.6l1.7 1.5v4l-1.9 1.6-1.6.6-1.6-.6-1.9-1.6v-4zM1192.4 358.8h3.6l1.7 1.5v4l-1.9 1.6-1.6.6-1.6-.6-1.9-1.6v-4zM1064.1 357.7h3.6l1.7 1.5v4l-1.9 1.6-1.6.6-1.6-.6-1.9-1.6v-4zM1114.5 344.8h3.6l1.7 1.5v4l-1.9 1.6-1.6.6-1.6-.6-1.9-1.6v-4zM1101.2 382.9h3.6l1.7 1.5v4l-1.9 1.6-1.6.6-1.6-.6-1.9-1.6v-4zM1076 349.2h3.6l1.7 1.5v4l-1.9 1.6-1.6.6-1.6-.6-1.9-1.6v-4zM1142.2 375h3.6l1.7 1.5v4l-1.9 1.6-1.6.6-1.6-.6-1.9-1.6v-4zM1065.7 362.2h3.6l1.7 1.5v4l-1.9 1.6-1.6.6-1.6-.6-1.9-1.6v-4zM1186.9 359.2h3.6l1.7 1.5v4l-1.9 1.6-1.6.6-1.6-.6-1.9-1.6v-4zM1142 342.6h3.6l1.7 1.5v4l-1.9 1.6-1.6.6-1.6-.6-1.9-1.6v-4zM1147.1 329.9h3.6l1.7 1.5v4l-1.9 1.6-1.6.6-1.6-.6-1.9-1.6v-4zM1145.8 364.2h3.6l1.7 1.5v4l-1.9 1.6-1.6.6-1.6-.6-1.9-1.6v-4zM1154.4 330h3.6l1.7 1.5v4l-1.9 1.6-1.6.6-1.6-.6-1.9-1.6v-4zM1103.6 330h3.6l1.7 1.5v4l-1.9 1.6-1.6.6-1.6-.6-1.9-1.6v-4zM1169.8 354.4h3.6l1.7 1.5v4l-1.9 1.6-1.6.6-1.6-.6-1.9-1.6v-4zM1085.3 346.9h3.6l1.7 1.5v4l-1.9 1.6-1.6.6-1.6-.6-1.9-1.6v-4zM1079.3 366.4h3.6l1.7 1.5v4l-1.9 1.6-1.6.6-1.6-.6-1.9-1.6v-4zM1093.4 355.9h3.6l1.7 1.5v4l-1.9 1.6-1.6.6-1.6-.6-1.9-1.6v-4zM1109.9 352.5h3.6l1.7 1.5v4l-1.9 1.6-1.6.6-1.6-.6-1.9-1.6v-4zM1171.2 357.7h3.6l1.7 1.5v4l-1.9 1.6-1.6.6-1.6-.6-1.9-1.6v-4zM1121 368.2h3.6l1.7 1.5v4l-1.9 1.6-1.6.6-1.6-.6-1.9-1.6v-4zM1116 369.8h3.6l1.7 1.5v4l-1.9 1.6-1.6.6-1.6-.6-1.9-1.6v-4zM1058.9 373.4h3.6l1.7 1.5v4l-1.9 1.6-1.6.6-1.6-.6-1.9-1.6v-4zM1072.7 354.7h3.6l1.7 1.5v4l-1.9 1.6-1.6.6-1.6-.6-1.9-1.6v-4zM1129.7 369.3h3.6l1.7 1.5v4l-1.9 1.6-1.6.6-1.6-.6-1.9-1.6v-4zM1111.8 340.3h3.6l1.7 1.5v4l-1.9 1.6-1.6.6-1.6-.6-1.9-1.6v-4zM1138.7 334h3.6l1.7 1.5v4l-1.9 1.6-1.6.6-1.6-.6-1.9-1.6v-4zM1143.4 341.6h3.6l1.7 1.5v4l-1.9 1.6-1.6.6-1.6-.6-1.9-1.6v-4zM1182.5 371.1h3.6l1.7 1.5v4l-1.9 1.6-1.6.6-1.6-.6-1.9-1.6v-4zM1083.5 361.7h3.6l1.7 1.5v4l-1.9 1.6-1.6.6-1.6-.6-1.9-1.6v-4zM1136.2 345.5h3.6l1.7 1.5v4l-1.9 1.6-1.6.6-1.6-.6-1.9-1.6v-4zM1125.3 353.8h3.6l1.7 1.5v4l-1.9 1.6-1.6.6-1.6-.6-1.9-1.6v-4zM1065.1 341.2h3.6l1.7 1.5v4l-1.9 1.6-1.6.6-1.6-.6-1.9-1.6v-4zM1104.9 373.1h3.6l1.7 1.5v4l-1.9 1.6-1.6.6-1.6-.6-1.9-1.6v-4zM1061.8 351.6h3.6l1.7 1.5v4l-1.9 1.6-1.6.6-1.6-.6-1.9-1.6v-4zM1069.1 342.1h3.6l1.7 1.5v4l-1.9 1.6-1.6.6-1.6-.6-1.9-1.6v-4zM1059.5 359.5h3.6l1.7 1.5v4l-1.9 1.6-1.6.6-1.6-.6-1.9-1.6v-4zM1068.8 354.3h3.6l1.7 1.5v4l-1.9 1.6-1.6.6-1.6-.6-1.9-1.6v-4zM1158.2 384.1h3.6l1.7 1.5v4l-1.9 1.6-1.6.6-1.6-.6-1.9-1.6v-4zM1157.1 345.2h3.6l1.7 1.5v4l-1.9 1.6-1.6.6-1.6-.6-1.9-1.6v-4zM1086.1 381h3.6l1.7 1.5v4l-1.9 1.6-1.6.6-1.6-.6-1.9-1.6v-4zM1117.9 312.3h3.6l1.7 1.5v4l-1.9 1.6-1.6.6-1.6-.6-1.9-1.6v-4zM1189.9 323.9h3.6l1.7 1.5v4l-1.9 1.6-1.6.6-1.6-.6-1.9-1.6v-4zM1155.5 349.5h3.6l1.7 1.5v4l-1.9 1.6-1.6.6-1.6-.6-1.9-1.6v-4zM1163.5 321.9h3.6l1.7 1.5v4l-1.9 1.6-1.6.6-1.6-.6-1.9-1.6v-4zM1105.5 357.9h3.6l1.7 1.5v4l-1.9 1.6-1.6.6-1.6-.6-1.9-1.6v-4zM1174.8 344.5h3.6l1.7 1.5v4l-1.9 1.6-1.6.6-1.6-.6-1.9-1.6v-4zM1144.5 350.3h3.6l1.7 1.5v4l-1.9 1.6-1.6.6-1.6-.6-1.9-1.6v-4zM1147 357.7h3.6l1.7 1.5v4l-1.9 1.6-1.6.6-1.6-.6-1.9-1.6v-4zM1177.6 319.5h3.6l1.7 1.5v4l-1.9 1.6-1.6.6-1.6-.6-1.9-1.6v-4zM1131.3 362.2h3.6l1.7 1.5v4l-1.9 1.6-1.6.6-1.6-.6-1.9-1.6v-4zM1152.6 323.1h3.6l1.7 1.5v4l-1.9 1.6-1.6.6-1.6-.6-1.9-1.6v-4zM1125.7 347.6h3.6l1.7 1.5v4l-1.9 1.6-1.6.6-1.6-.6-1.9-1.6v-4zM1164.5 359.1h3.6l1.7 1.5v4l-1.9 1.6-1.6.6-1.6-.6-1.9-1.6v-4zM1152.7 379.8h3.6l1.7 1.5v4l-1.9 1.6-1.6.6-1.6-.6-1.9-1.6v-4zM1078.4 335.1h3.6l1.7 1.5v4l-1.9 1.6-1.6.6-1.6-.6-1.9-1.6v-4zM1115.3 304.7h3.6l1.7 1.5v4l-1.9 1.6-1.6.6-1.6-.6-1.9-1.6v-4zM1110.8 362.9h3.6l1.7 1.5v4l-1.9 1.6-1.6.6-1.6-.6-1.9-1.6v-4zM1155.5 346.7h3.6l1.7 1.5v4l-1.9 1.6-1.6.6-1.6-.6-1.9-1.6v-4zM1195.3 319.9h3.6l1.7 1.5v4l-1.9 1.6-1.6.6-1.6-.6-1.9-1.6v-4zM1121.1 362.6h3.6l1.7 1.5v4l-1.9 1.6-1.6.6-1.6-.6-1.9-1.6v-4zM1146.3 342.3h3.6l1.7 1.5v4l-1.9 1.6-1.6.6-1.6-.6-1.9-1.6v-4zM1162.2 353.3h3.6l1.7 1.5v4l-1.9 1.6-1.6.6-1.6-.6-1.9-1.6v-4zM1134.8 325.2h3.6l1.7 1.5v4l-1.9 1.6-1.6.6-1.6-.6-1.9-1.6v-4zM1201.8 349.8h3.6l1.7 1.5v4l-1.9 1.6-1.6.6-1.6-.6-1.9-1.6v-4zM1131.5 334.8h3.6l1.7 1.5v4l-1.9 1.6-1.6.6-1.6-.6-1.9-1.6v-4zM1125.8 303.1h3.6l1.7 1.5v4l-1.9 1.6-1.6.6-1.6-.6-1.9-1.6v-4zM1164.6 324h3.6l1.7 1.5v4l-1.9 1.6-1.6.6-1.6-.6-1.9-1.6v-4zM1142.2 357.5h3.6l1.7 1.5v4l-1.9 1.6-1.6.6-1.6-.6-1.9-1.6v-4zM1101 351.9h3.6l1.7 1.5v4l-1.9 1.6-1.6.6-1.6-.6-1.9-1.6v-4zM1108.4 362.3h3.6l1.7 1.5v4l-1.9 1.6-1.6.6-1.6-.6-1.9-1.6v-4zM1151.1 369.8h3.6l1.7 1.5v4l-1.9 1.6-1.6.6-1.6-.6-1.9-1.6v-4zM1154.2 355.2h3.6l1.7 1.5v4l-1.9 1.6-1.6.6-1.6-.6-1.9-1.6v-4zM1116.1 319.6h3.6l1.7 1.5v4l-1.9 1.6-1.6.6-1.6-.6-1.9-1.6v-4zM1128.2 314.1h3.6l1.7 1.5v4l-1.9 1.6-1.6.6-1.6-.6-1.9-1.6v-4zM1096.9 312.3h3.6l1.7 1.5v4l-1.9 1.6-1.6.6-1.6-.6-1.9-1.6v-4zM1131.7 317.7h3.6l1.7 1.5v4l-1.9 1.6-1.6.6-1.6-.6-1.9-1.6v-4zM1110.9 310.3h3.6l1.7 1.5v4l-1.9 1.6-1.6.6-1.6-.6-1.9-1.6v-4zM1201.3 327.6h3.6l1.7 1.5v4l-1.9 1.6-1.6.6-1.6-.6-1.9-1.6v-4zM1091.5 322h3.6l1.7 1.5v4l-1.9 1.6-1.6.6-1.6-.6-1.9-1.6v-4zM1109.5 355.6h3.6l1.7 1.5v4l-1.9 1.6-1.6.6-1.6-.6-1.9-1.6v-4zM1156.8 311.5h3.6l1.7 1.5v4l-1.9 1.6-1.6.6-1.6-.6-1.9-1.6v-4zM1178.8 367.2h3.6l1.7 1.5v4l-1.9 1.6-1.6.6-1.6-.6-1.9-1.6v-4zM1168.1 322h3.6l1.7 1.5v4l-1.9 1.6-1.6.6-1.6-.6-1.9-1.6v-4zM1132.1 296.5h3.6l1.7 1.5v4l-1.9 1.6-1.6.6-1.6-.6-1.9-1.6v-4zM1117 325.7h3.6l1.7 1.5v4l-1.9 1.6-1.6.6-1.6-.6-1.9-1.6v-4zM1113.4 342.7h3.6l1.7 1.5v4l-1.9 1.6-1.6.6-1.6-.6-1.9-1.6v-4zM1089.5 324.4h3.6l1.7 1.5v4l-1.9 1.6-1.6.6-1.6-.6-1.9-1.6v-4zM1137 357.5h3.6l1.7 1.5v4l-1.9 1.6-1.6.6-1.6-.6-1.9-1.6v-4zM1111.6 343.1h3.6l1.7 1.5v4l-1.9 1.6-1.6.6-1.6-.6-1.9-1.6v-4zM1201.7 348.7h3.6l1.7 1.5v4l-1.9 1.6-1.6.6-1.6-.6-1.9-1.6v-4zM1135.3 336.4h3.6l1.7 1.5v4l-1.9 1.6-1.6.6-1.6-.6-1.9-1.6v-4zM1154.3 343.7h3.6l1.7 1.5v4l-1.9 1.6-1.6.6-1.6-.6-1.9-1.6v-4zM1144.9 345.5h3.6l1.7 1.5v4l-1.9 1.6-1.6.6-1.6-.6-1.9-1.6v-4zM1165.6 363.8h3.6l1.7 1.5v4l-1.9 1.6-1.6.6-1.6-.6-1.9-1.6v-4zM1117.4 368.4h3.6l1.7 1.5v4l-1.9 1.6-1.6.6-1.6-.6-1.9-1.6v-4zM1161.7 353.5h3.6l1.7 1.5v4l-1.9 1.6-1.6.6-1.6-.6-1.9-1.6v-4zM1101.6 355.7h3.6l1.7 1.5v4l-1.9 1.6-1.6.6-1.6-.6-1.9-1.6v-4zM1158 348.4h3.6l1.7 1.5v4l-1.9 1.6-1.6.6-1.6-.6-1.9-1.6v-4zM1163.1 361.9h3.6l1.7 1.5v4l-1.9 1.6-1.6.6-1.6-.6-1.9-1.6v-4zM1143.5 308.4h3.6l1.7 1.5v4l-1.9 1.6-1.6.6-1.6-.6-1.9-1.6v-4zM1148.7 338.5h3.6l1.7 1.5v4l-1.9 1.6-1.6.6-1.6-.6-1.9-1.6v-4zM1081.7 354.7h3.6l1.7 1.5v4l-1.9 1.6-1.6.6-1.6-.6-1.9-1.6v-4zM1092.6 363.1h3.6l1.7 1.5v4l-1.9 1.6-1.6.6-1.6-.6-1.9-1.6v-4zM1168.2 355.4h3.6l1.7 1.5v4l-1.9 1.6-1.6.6-1.6-.6-1.9-1.6v-4zM1178 325.2h3.6l1.7 1.5v4l-1.9 1.6-1.6.6-1.6-.6-1.9-1.6v-4zM1114.6 357.2h3.6l1.7 1.5v4l-1.9 1.6-1.6.6-1.6-.6-1.9-1.6v-4zM1166.8 344.7h3.6l1.7 1.5v4l-1.9 1.6-1.6.6-1.6-.6-1.9-1.6v-4zM1143.9 365.7h3.6l1.7 1.5v4l-1.9 1.6-1.6.6-1.6-.6-1.9-1.6v-4zM1114.1 354.6h3.6l1.7 1.5v4l-1.9 1.6-1.6.6-1.6-.6-1.9-1.6v-4zM1132.8 369.7h3.6l1.7 1.5v4l-1.9 1.6-1.6.6-1.6-.6-1.9-1.6v-4zM1196.1 332.9h3.6l1.7 1.5v4l-1.9 1.6-1.6.6-1.6-.6-1.9-1.6v-4zM1131.9 365.7h3.6l1.7 1.5v4l-1.9 1.6-1.6.6-1.6-.6-1.9-1.6v-4zM1166.6 317.2h3.6l1.7 1.5v4l-1.9 1.6-1.6.6-1.6-.6-1.9-1.6v-4zM1136 299.1h3.6l1.7 1.5v4l-1.9 1.6-1.6.6-1.6-.6-1.9-1.6v-4zM1153.1 317.4h3.6l1.7 1.5v4l-1.9 1.6-1.6.6-1.6-.6-1.9-1.6v-4zM1089.9 364.6h3.6l1.7 1.5v4l-1.9 1.6-1.6.6-1.6-.6-1.9-1.6v-4zM1198.1 333.5h3.6l1.7 1.5v4l-1.9 1.6-1.6.6-1.6-.6-1.9-1.6v-4zM1175.1 339.9h3.6l1.7 1.5v4l-1.9 1.6-1.6.6-1.6-.6-1.9-1.6v-4zM1166.7 308.7h3.6l1.7 1.5v4l-1.9 1.6-1.6.6-1.6-.6-1.9-1.6v-4zM1180 370.5h3.6l1.7 1.5v4l-1.9 1.6-1.6.6-1.6-.6-1.9-1.6v-4zM1185 347h3.6l1.7 1.5v4l-1.9 1.6-1.6.6-1.6-.6-1.9-1.6v-4zM1132.3 311.2h3.6l1.7 1.5v4l-1.9 1.6-1.6.6-1.6-.6-1.9-1.6v-4zM1190.7 319.5h3.6l1.7 1.5v4l-1.9 1.6-1.6.6-1.6-.6-1.9-1.6v-4zM1172.7 349.2h3.6l1.7 1.5v4l-1.9 1.6-1.6.6-1.6-.6-1.9-1.6v-4zM1144.2 379.8h3.6l1.7 1.5v4l-1.9 1.6-1.6.6-1.6-.6-1.9-1.6v-4zM1155.3 353.9h3.6l1.7 1.5v4l-1.9 1.6-1.6.6-1.6-.6-1.9-1.6v-4zM1144.3 348.2h3.6l1.7 1.5v4l-1.9 1.6-1.6.6-1.6-.6-1.9-1.6v-4zM1194.8 328.1h3.6l1.7 1.5v4l-1.9 1.6-1.6.6-1.6-.6-1.9-1.6v-4zM1135.6 361.5h3.6l1.7 1.5v4l-1.9 1.6-1.6.6-1.6-.6-1.9-1.6v-4zM1152.5 342.4h3.6l1.7 1.5v4l-1.9 1.6-1.6.6-1.6-.6-1.9-1.6v-4zM1147.2 306.1h3.6l1.7 1.5v4l-1.9 1.6-1.6.6-1.6-.6-1.9-1.6v-4zM1118.3 356.2h3.6l1.7 1.5v4l-1.9 1.6-1.6.6-1.6-.6-1.9-1.6v-4zM1121.3 369.3h3.6l1.7 1.5v4l-1.9 1.6-1.6.6-1.6-.6-1.9-1.6v-4zM1153.5 356.4h3.6l1.7 1.5v4l-1.9 1.6-1.6.6-1.6-.6-1.9-1.6v-4zM1180.4 316.6h3.6l1.7 1.5v4l-1.9 1.6-1.6.6-1.6-.6-1.9-1.6v-4zM1090.4 313.9h3.6l1.7 1.5v4l-1.9 1.6-1.6.6-1.6-.6-1.9-1.6v-4zM1089 348.6h3.6l1.7 1.5v4l-1.9 1.6-1.6.6-1.6-.6-1.9-1.6v-4zM1156.2 307.5h3.6l1.7 1.5v4l-1.9 1.6-1.6.6-1.6-.6-1.9-1.6v-4zM1127.7 357.9h3.6l1.7 1.5v4l-1.9 1.6-1.6.6-1.6-.6-1.9-1.6v-4zM1088.9 351.4h3.6l1.7 1.5v4l-1.9 1.6-1.6.6-1.6-.6-1.9-1.6v-4zM1116.1 332.7h3.6l1.7 1.5v4l-1.9 1.6-1.6.6-1.6-.6-1.9-1.6v-4zM1136.5 358.3h3.6l1.7 1.5v4l-1.9 1.6-1.6.6-1.6-.6-1.9-1.6v-4zM1146.8 301.3h3.6l1.7 1.5v4l-1.9 1.6-1.6.6-1.6-.6-1.9-1.6v-4zM1191.7 321.2h3.6l1.7 1.5v4l-1.9 1.6-1.6.6-1.6-.6-1.9-1.6v-4zM1139.9 301.9h3.6l1.7 1.5v4l-1.9 1.6-1.6.6-1.6-.6-1.9-1.6v-4zM1127.6 320.1h3.6l1.7 1.5v4l-1.9 1.6-1.6.6-1.6-.6-1.9-1.6v-4zM1129.2 342.5h3.6l1.7 1.5v4l-1.9 1.6-1.6.6-1.6-.6-1.9-1.6v-4zM1178.6 314h3.6l1.7 1.5v4l-1.9 1.6-1.6.6-1.6-.6-1.9-1.6v-4zM1128.5 365.1h3.6l1.7 1.5v4l-1.9 1.6-1.6.6-1.6-.6-1.9-1.6v-4zM1139 310.3h3.6l1.7 1.5v4l-1.9 1.6-1.6.6-1.6-.6-1.9-1.6v-4zM1133.5 377.7h3.6l1.7 1.5v4l-1.9 1.6-1.6.6-1.6-.6-1.9-1.6v-4zM1154.4 314.9h3.6l1.7 1.5v4l-1.9 1.6-1.6.6-1.6-.6-1.9-1.6v-4zM1122.1 312.9h3.6l1.7 1.5v4l-1.9 1.6-1.6.6-1.6-.6-1.9-1.6v-4zM1080.5 341.7h3.6l1.7 1.5v4l-1.9 1.6-1.6.6-1.6-.6-1.9-1.6v-4zM1084 333.9h3.6l1.7 1.5v4l-1.9 1.6-1.6.6-1.6-.6-1.9-1.6v-4zM1116.7 324.1h3.6l1.7 1.5v4l-1.9 1.6-1.6.6-1.6-.6-1.9-1.6v-4zM1084.8 332.2h3.6l1.7 1.5v4l-1.9 1.6-1.6.6-1.6-.6-1.9-1.6v-4zM1183.7 315.7h3.6l1.7 1.5v4l-1.9 1.6-1.6.6-1.6-.6-1.9-1.6v-4zM1101.6 332.3h3.6l1.7 1.5v4l-1.9 1.6-1.6.6-1.6-.6-1.9-1.6v-4zM1135.6 325.9h3.6l1.7 1.5v4l-1.9 1.6-1.6.6-1.6-.6-1.9-1.6v-4zM1087.6 336.4h3.6l1.7 1.5v4l-1.9 1.6-1.6.6-1.6-.6-1.9-1.6v-4zM1183.4 350.9h3.6l1.7 1.5v4l-1.9 1.6-1.6.6-1.6-.6-1.9-1.6v-4zM1173.1 332.2h3.6l1.7 1.5v4l-1.9 1.6-1.6.6-1.6-.6-1.9-1.6v-4zM1093 317.2h3.6l1.7 1.5v4l-1.9 1.6-1.6.6-1.6-.6-1.9-1.6v-4zM1132 367.1h3.6l1.7 1.5v4l-1.9 1.6-1.6.6-1.6-.6-1.9-1.6v-4zM1183.7 351.6h3.6l1.7 1.5v4l-1.9 1.6-1.6.6-1.6-.6-1.9-1.6v-4zM1097.4 313.1h3.6l1.7 1.5v4l-1.9 1.6-1.6.6-1.6-.6-1.9-1.6v-4zM1150.2 372.4h3.6l1.7 1.5v4l-1.9 1.6-1.6.6-1.6-.6-1.9-1.6v-4zM1107.8 359.1h3.6l1.7 1.5v4l-1.9 1.6-1.6.6-1.6-.6-1.9-1.6v-4zM1123.5 320.5h3.6l1.7 1.5v4l-1.9 1.6-1.6.6-1.6-.6-1.9-1.6v-4zM1141.5 339h3.6l1.7 1.5v4l-1.9 1.6-1.6.6-1.6-.6-1.9-1.6v-4zM1119.2 329.5h3.6l1.7 1.5v4l-1.9 1.6-1.6.6-1.6-.6-1.9-1.6v-4zM1200.8 327.7h3.6l1.7 1.5v4l-1.9 1.6-1.6.6-1.6-.6-1.9-1.6v-4zM1129.6 319.7h3.6l1.7 1.5v4l-1.9 1.6-1.6.6-1.6-.6-1.9-1.6v-4zM1132 334.8h3.6l1.7 1.5v4l-1.9 1.6-1.6.6-1.6-.6-1.9-1.6v-4zM1124.9 346.1h3.6l1.7 1.5v4l-1.9 1.6-1.6.6-1.6-.6-1.9-1.6v-4zM1165.7 304.6h3.6l1.7 1.5v4l-1.9 1.6-1.6.6-1.6-.6-1.9-1.6v-4zM1160.8 297.7h3.6l1.7 1.5v4l-1.9 1.6-1.6.6-1.6-.6-1.9-1.6v-4zM1119.7 323.5h3.6l1.7 1.5v4l-1.9 1.6-1.6.6-1.6-.6-1.9-1.6v-4zM1130.6 328.2h3.6l1.7 1.5v4l-1.9 1.6-1.6.6-1.6-.6-1.9-1.6v-4zM1166.9 304.5h3.6l1.7 1.5v4l-1.9 1.6-1.6.6-1.6-.6-1.9-1.6v-4zM1114.9 366.7h3.6l1.7 1.5v4l-1.9 1.6-1.6.6-1.6-.6-1.9-1.6v-4zM1094.3 326.3h3.6l1.7 1.5v4l-1.9 1.6-1.6.6-1.6-.6-1.9-1.6v-4zM1177.4 319.8h3.6l1.7 1.5v4l-1.9 1.6-1.6.6-1.6-.6-1.9-1.6v-4zM1154.3 342.3h3.6l1.7 1.5v4l-1.9 1.6-1.6.6-1.6-.6-1.9-1.6v-4zM1130.1 366h3.6l1.7 1.5v4l-1.9 1.6-1.6.6-1.6-.6-1.9-1.6v-4zM1154 341.1h3.6l1.7 1.5v4l-1.9 1.6-1.6.6-1.6-.6-1.9-1.6v-4zM1082.5 329.4h3.6l1.7 1.5v4l-1.9 1.6-1.6.6-1.6-.6-1.9-1.6v-4zM1173.7 318h3.6l1.7 1.5v4l-1.9 1.6-1.6.6-1.6-.6-1.9-1.6v-4zM1170.5 362.3h3.6l1.7 1.5v4l-1.9 1.6-1.6.6-1.6-.6-1.9-1.6v-4zM1174.1 357.1h3.6l1.7 1.5v4l-1.9 1.6-1.6.6-1.6-.6-1.9-1.6v-4zM1091.8 338.3h3.6l1.7 1.5v4l-1.9 1.6-1.6.6-1.6-.6-1.9-1.6v-4zM1153.3 360.5h3.6l1.7 1.5v4l-1.9 1.6-1.6.6-1.6-.6-1.9-1.6v-4zM1195.5 332.3h3.6l1.7 1.5v4l-1.9 1.6-1.6.6-1.6-.6-1.9-1.6v-4zM1183.4 365.9h3.6l1.7 1.5v4l-1.9 1.6-1.6.6-1.6-.6-1.9-1.6v-4zM1140.9 332.1h3.6l1.7 1.5v4l-1.9 1.6-1.6.6-1.6-.6-1.9-1.6v-4zM1109.5 349.7h3.6l1.7 1.5v4l-1.9 1.6-1.6.6-1.6-.6-1.9-1.6v-4zM1159.7 378.3h3.6l1.7 1.5v4l-1.9 1.6-1.6.6-1.6-.6-1.9-1.6v-4zM1105.3 374.7h3.6l1.7 1.5v4l-1.9 1.6-1.6.6-1.6-.6-1.9-1.6v-4zM1178.4 307.9h3.6l1.7 1.5v4l-1.9 1.6-1.6.6-1.6-.6-1.9-1.6v-4zM1182 360.2h3.6l1.7 1.5v4l-1.9 1.6-1.6.6-1.6-.6-1.9-1.6v-4zM1087.3 359.1h3.6l1.7 1.5v4l-1.9 1.6-1.6.6-1.6-.6-1.9-1.6v-4zM1143.6 313h3.6l1.7 1.5v4l-1.9 1.6-1.6.6-1.6-.6-1.9-1.6v-4zM1158.1 353.9h3.6l1.7 1.5v4l-1.9 1.6-1.6.6-1.6-.6-1.9-1.6v-4zM1165.9 364.6h3.6l1.7 1.5v4l-1.9 1.6-1.6.6-1.6-.6-1.9-1.6v-4zM1118.8 354h3.6l1.7 1.5v4l-1.9 1.6-1.6.6-1.6-.6-1.9-1.6v-4zM1181.4 355.1h3.6l1.7 1.5v4l-1.9 1.6-1.6.6-1.6-.6-1.9-1.6v-4zM1172.4 355.1h3.6l1.7 1.5v4l-1.9 1.6-1.6.6-1.6-.6-1.9-1.6v-4zM1148.9 381.1h3.6l1.7 1.5v4l-1.9 1.6-1.6.6-1.6-.6-1.9-1.6v-4zM1085.7 359.2h3.6l1.7 1.5v4l-1.9 1.6-1.6.6-1.6-.6-1.9-1.6v-4zM1078.7 345.7h3.6l1.7 1.5v4l-1.9 1.6-1.6.6-1.6-.6-1.9-1.6v-4zM1169 332.5h3.6l1.7 1.5v4l-1.9 1.6-1.6.6-1.6-.6-1.9-1.6v-4zM1107.1 368.7h3.6l1.7 1.5v4l-1.9 1.6-1.6.6-1.6-.6-1.9-1.6v-4zM1123.4 336.9h3.6l1.7 1.5v4l-1.9 1.6-1.6.6-1.6-.6-1.9-1.6v-4zM1088.7 333.3h3.6l1.7 1.5v4l-1.9 1.6-1.6.6-1.6-.6-1.9-1.6v-4zM1159.7 356h3.6l1.7 1.5v4l-1.9 1.6-1.6.6-1.6-.6-1.9-1.6v-4zM1151.1 328.4h3.6l1.7 1.5v4l-1.9 1.6-1.6.6-1.6-.6-1.9-1.6v-4zM1127 381.7h3.6l1.7 1.5v4l-1.9 1.6-1.6.6-1.6-.6-1.9-1.6v-4zM1134.4 320.6h3.6l1.7 1.5v4l-1.9 1.6-1.6.6-1.6-.6-1.9-1.6v-4zM1140 377.5h3.6l1.7 1.5v4l-1.9 1.6-1.6.6-1.6-.6-1.9-1.6v-4zM1162 298.7h3.6l1.7 1.5v4l-1.9 1.6-1.6.6-1.6-.6-1.9-1.6v-4zM1183.3 365.8h3.6l1.7 1.5v4l-1.9 1.6-1.6.6-1.6-.6-1.9-1.6v-4zM1109.2 342.8h3.6l1.7 1.5v4l-1.9 1.6-1.6.6-1.6-.6-1.9-1.6v-4zM1123.2 351.9h3.6l1.7 1.5v4l-1.9 1.6-1.6.6-1.6-.6-1.9-1.6v-4zM1175.6 361.5h3.6l1.7 1.5v4l-1.9 1.6-1.6.6-1.6-.6-1.9-1.6v-4zM1089.5 323.7h3.6l1.7 1.5v4l-1.9 1.6-1.6.6-1.6-.6-1.9-1.6v-4zM1161.9 297.9h3.6l1.7 1.5v4l-1.9 1.6-1.6.6-1.6-.6-1.9-1.6v-4zM1133.2 296.6h3.6l1.7 1.5v4l-1.9 1.6-1.6.6-1.6-.6-1.9-1.6v-4zM1113 302.2h3.6l1.7 1.5v4l-1.9 1.6-1.6.6-1.6-.6-1.9-1.6v-4zM1137.4 369.2h3.6l1.7 1.5v4l-1.9 1.6-1.6.6-1.6-.6-1.9-1.6v-4zM1163.1 302.9h3.6l1.7 1.5v4l-1.9 1.6-1.6.6-1.6-.6-1.9-1.6v-4zM1101.2 309.4h3.6l1.7 1.5v4l-1.9 1.6-1.6.6-1.6-.6-1.9-1.6v-4zM1082.8 342.4h3.6l1.7 1.5v4l-1.9 1.6-1.6.6-1.6-.6-1.9-1.6v-4zM1118.9 307.5h3.6l1.7 1.5v4l-1.9 1.6-1.6.6-1.6-.6-1.9-1.6v-4zM1149.9 345.2h3.6l1.7 1.5v4l-1.9 1.6-1.6.6-1.6-.6-1.9-1.6v-4zM1101.9 309.5h3.6l1.7 1.5v4l-1.9 1.6-1.6.6-1.6-.6-1.9-1.6v-4zM1128 349.4h3.6l1.7 1.5v4l-1.9 1.6-1.6.6-1.6-.6-1.9-1.6v-4zM1170.3 359h3.6l1.7 1.5v4l-1.9 1.6-1.6.6-1.6-.6-1.9-1.6v-4zM1134.7 371.3h3.6l1.7 1.5v4l-1.9 1.6-1.6.6-1.6-.6-1.9-1.6v-4zM1158 308.7h3.6l1.7 1.5v4l-1.9 1.6-1.6.6-1.6-.6-1.9-1.6v-4zM1162 345.8h3.6l1.7 1.5v4l-1.9 1.6-1.6.6-1.6-.6-1.9-1.6v-4zM1092 318.5h3.6l1.7 1.5v4l-1.9 1.6-1.6.6-1.6-.6-1.9-1.6v-4zM1104.5 341.2h3.6l1.7 1.5v4l-1.9 1.6-1.6.6-1.6-.6-1.9-1.6v-4zM1191.3 343.7h3.6l1.7 1.5v4l-1.9 1.6-1.6.6-1.6-.6-1.9-1.6v-4zM1132.4 347.4h3.6l1.7 1.5v4l-1.9 1.6-1.6.6-1.6-.6-1.9-1.6v-4zM1201.6 350.6h3.6l1.7 1.5v4l-1.9 1.6-1.6.6-1.6-.6-1.9-1.6v-4zM1108 329.9h3.6l1.7 1.5v4l-1.9 1.6-1.6.6-1.6-.6-1.9-1.6v-4zM1139.3 352.7h3.6l1.7 1.5v4l-1.9 1.6-1.6.6-1.6-.6-1.9-1.6v-4zM1173.2 333.3h3.6l1.7 1.5v4l-1.9 1.6-1.6.6-1.6-.6-1.9-1.6v-4zM1118.6 368.3h3.6l1.7 1.5v4l-1.9 1.6-1.6.6-1.6-.6-1.9-1.6v-4zM1144.5 380.5h3.6l1.7 1.5v4l-1.9 1.6-1.6.6-1.6-.6-1.9-1.6v-4zM1168 333.8h3.6l1.7 1.5v4l-1.9 1.6-1.6.6-1.6-.6-1.9-1.6v-4zM1084.7 339.2h3.6l1.7 1.5v4l-1.9 1.6-1.6.6-1.6-.6-1.9-1.6v-4zM1091.8 336.5h3.6l1.7 1.5v4l-1.9 1.6-1.6.6-1.6-.6-1.9-1.6v-4zM1105.5 369.9h3.6l1.7 1.5v4l-1.9 1.6-1.6.6-1.6-.6-1.9-1.6v-4zM1115.9 358.5h3.6l1.7 1.5v4l-1.9 1.6-1.6.6-1.6-.6-1.9-1.6v-4zM1198 354.6h3.6l1.7 1.5v4l-1.9 1.6-1.6.6-1.6-.6-1.9-1.6v-4zM1106.9 326.6h3.6l1.7 1.5v4l-1.9 1.6-1.6.6-1.6-.6-1.9-1.6v-4zM1108 322h3.6l1.7 1.5v4l-1.9 1.6-1.6.6-1.6-.6-1.9-1.6v-4zM1149.5 340.2h3.6l1.7 1.5v4l-1.9 1.6-1.6.6-1.6-.6-1.9-1.6v-4zM1192.7 322.6h3.6l1.7 1.5v4l-1.9 1.6-1.6.6-1.6-.6-1.9-1.6v-4zM1167.9 329.5h3.6l1.7 1.5v4l-1.9 1.6-1.6.6-1.6-.6-1.9-1.6v-4zM1162.2 304.2h3.6l1.7 1.5v4l-1.9 1.6-1.6.6-1.6-.6-1.9-1.6v-4zM1145.4 331.8h3.6l1.7 1.5v4l-1.9 1.6-1.6.6-1.6-.6-1.9-1.6v-4zM1153.5 380.5h3.6l1.7 1.5v4l-1.9 1.6-1.6.6-1.6-.6-1.9-1.6v-4zM1177.2 352.8h3.6l1.7 1.5v4l-1.9 1.6-1.6.6-1.6-.6-1.9-1.6v-4zM1112.5 349.6h3.6l1.7 1.5v4l-1.9 1.6-1.6.6-1.6-.6-1.9-1.6v-4zM1149.5 355.2h3.6l1.7 1.5v4l-1.9 1.6-1.6.6-1.6-.6-1.9-1.6v-4zM1142.1 338.6h3.6l1.7 1.5v4l-1.9 1.6-1.6.6-1.6-.6-1.9-1.6v-4zM1127.8 341.8h3.6l1.7 1.5v4l-1.9 1.6-1.6.6-1.6-.6-1.9-1.6v-4zM1110.7 361.8h3.6l1.7 1.5v4l-1.9 1.6-1.6.6-1.6-.6-1.9-1.6v-4zM1127 373h3.6l1.7 1.5v4l-1.9 1.6-1.6.6-1.6-.6-1.9-1.6v-4zM1144.7 353.7h3.6l1.7 1.5v4l-1.9 1.6-1.6.6-1.6-.6-1.9-1.6v-4zM1148.9 355.6h3.6l1.7 1.5v4l-1.9 1.6-1.6.6-1.6-.6-1.9-1.6v-4zM1124.4 362.4h3.6l1.7 1.5v4l-1.9 1.6-1.6.6-1.6-.6-1.9-1.6v-4zM1142.6 352.8h3.6l1.7 1.5v4l-1.9 1.6-1.6.6-1.6-.6-1.9-1.6v-4zM1108.2 350.1h3.6l1.7 1.5v4l-1.9 1.6-1.6.6-1.6-.6-1.9-1.6v-4zM1165.7 353.8h3.6l1.7 1.5v4l-1.9 1.6-1.6.6-1.6-.6-1.9-1.6v-4zM1150.8 356.1h3.6l1.7 1.5v4l-1.9 1.6-1.6.6-1.6-.6-1.9-1.6v-4zM1123 338.3h3.6l1.7 1.5v4l-1.9 1.6-1.6.6-1.6-.6-1.9-1.6v-4zM1119.5 335.6h3.6l1.7 1.5v4l-1.9 1.6-1.6.6-1.6-.6-1.9-1.6v-4zM1142.5 360.8h3.6l1.7 1.5v4l-1.9 1.6-1.6.6-1.6-.6-1.9-1.6v-4zM1126.9 359.8h3.6l1.7 1.5v4l-1.9 1.6-1.6.6-1.6-.6-1.9-1.6v-4zM1113.7 373.1h3.6l1.7 1.5v4l-1.9 1.6-1.6.6-1.6-.6-1.9-1.6v-4zM1102.2 341.8h3.6l1.7 1.5v4l-1.9 1.6-1.6.6-1.6-.6-1.9-1.6v-4zM1112 367.7h3.6l1.7 1.5v4l-1.9 1.6-1.6.6-1.6-.6-1.9-1.6v-4zM1127 373.3h3.6l1.7 1.5v4l-1.9 1.6-1.6.6-1.6-.6-1.9-1.6v-4zM1121.9 362.2h3.6l1.7 1.5v4l-1.9 1.6-1.6.6-1.6-.6-1.9-1.6v-4zM1128.9 372.8h3.6l1.7 1.5v4l-1.9 1.6-1.6.6-1.6-.6-1.9-1.6v-4zM1142.1 360.7h3.6l1.7 1.5v4l-1.9 1.6-1.6.6-1.6-.6-1.9-1.6v-4zM1104.5 362h3.6l1.7 1.5v4l-1.9 1.6-1.6.6-1.6-.6-1.9-1.6v-4zM1147 359.2h3.6l1.7 1.5v4l-1.9 1.6-1.6.6-1.6-.6-1.9-1.6v-4zM1160.1 357.9h3.6l1.7 1.5v4l-1.9 1.6-1.6.6-1.6-.6-1.9-1.6v-4zM1132.7 372.1h3.6l1.7 1.5v4l-1.9 1.6-1.6.6-1.6-.6-1.9-1.6v-4zM1099.6 345.3h3.6l1.7 1.5v4l-1.9 1.6-1.6.6-1.6-.6-1.9-1.6v-4zM1156.2 348.2h3.6l1.7 1.5v4l-1.9 1.6-1.6.6-1.6-.6-1.9-1.6v-4zM1163.1 361.1h3.6l1.7 1.5v4l-1.9 1.6-1.6.6-1.6-.6-1.9-1.6v-4zM1108.2 348.5h3.6l1.7 1.5v4l-1.9 1.6-1.6.6-1.6-.6-1.9-1.6v-4zM1141.2 353.2h3.6l1.7 1.5v4l-1.9 1.6-1.6.6-1.6-.6-1.9-1.6v-4zM1136.5 343.9h3.6l1.7 1.5v4l-1.9 1.6-1.6.6-1.6-.6-1.9-1.6v-4zM1157.5 357.1h3.6l1.7 1.5v4l-1.9 1.6-1.6.6-1.6-.6-1.9-1.6v-4zM1130 355.9h3.6l1.7 1.5v4l-1.9 1.6-1.6.6-1.6-.6-1.9-1.6v-4zM1158.3 368.1h3.6l1.7 1.5v4l-1.9 1.6-1.6.6-1.6-.6-1.9-1.6v-4zM1164.9 353.8h3.6l1.7 1.5v4l-1.9 1.6-1.6.6-1.6-.6-1.9-1.6v-4zM1096.2 356.7h3.6l1.7 1.5v4l-1.9 1.6-1.6.6-1.6-.6-1.9-1.6v-4zM1128.5 374.8h3.6l1.7 1.5v4l-1.9 1.6-1.6.6-1.6-.6-1.9-1.6v-4zM1147 355.5h3.6l1.7 1.5v4l-1.9 1.6-1.6.6-1.6-.6-1.9-1.6v-4zM1106.7 343.3h3.6l1.7 1.5v4l-1.9 1.6-1.6.6-1.6-.6-1.9-1.6v-4zM1143.3 351.8h3.6l1.7 1.5v4l-1.9 1.6-1.6.6-1.6-.6-1.9-1.6v-4zM1104.9 367.9h3.6l1.7 1.5v4l-1.9 1.6-1.6.6-1.6-.6-1.9-1.6v-4zM1112.2 353.9h3.6l1.7 1.5v4l-1.9 1.6-1.6.6-1.6-.6-1.9-1.6v-4zM1141.3 365.6h3.6l1.7 1.5v4l-1.9 1.6-1.6.6-1.6-.6-1.9-1.6v-4zM1125 348.8h3.6l1.7 1.5v4l-1.9 1.6-1.6.6-1.6-.6-1.9-1.6v-4zM1140.3 346.7h3.6l1.7 1.5v4l-1.9 1.6-1.6.6-1.6-.6-1.9-1.6v-4zM1166.6 352.9h3.6l1.7 1.5v4l-1.9 1.6-1.6.6-1.6-.6-1.9-1.6v-4zM1137.4 357.2h3.6l1.7 1.5v4l-1.9 1.6-1.6.6-1.6-.6-1.9-1.6v-4zM1141.1 342.4h3.6l1.7 1.5v4l-1.9 1.6-1.6.6-1.6-.6-1.9-1.6v-4zM1140.3 339.4h3.6l1.7 1.5v4l-1.9 1.6-1.6.6-1.6-.6-1.9-1.6v-4zM1137.6 368.5h3.6l1.7 1.5v4l-1.9 1.6-1.6.6-1.6-.6-1.9-1.6v-4zM1105.4 358h3.6l1.7 1.5v4l-1.9 1.6-1.6.6-1.6-.6-1.9-1.6v-4zM1127.2 349h3.6l1.7 1.5v4l-1.9 1.6-1.6.6-1.6-.6-1.9-1.6v-4zM1148.2 352.9h3.6l1.7 1.5v4l-1.9 1.6-1.6.6-1.6-.6-1.9-1.6v-4zM1151 339.8h3.6l1.7 1.5v4l-1.9 1.6-1.6.6-1.6-.6-1.9-1.6v-4zM1147.4 358.1h3.6l1.7 1.5v4l-1.9 1.6-1.6.6-1.6-.6-1.9-1.6v-4zM1139.8 356.6h3.6l1.7 1.5v4l-1.9 1.6-1.6.6-1.6-.6-1.9-1.6v-4zM1145.8 348.8h3.6l1.7 1.5v4l-1.9 1.6-1.6.6-1.6-.6-1.9-1.6v-4zM1098.3 349.6h3.6l1.7 1.5v4l-1.9 1.6-1.6.6-1.6-.6-1.9-1.6v-4zM1107.5 346.4h3.6l1.7 1.5v4l-1.9 1.6-1.6.6-1.6-.6-1.9-1.6v-4zM1113 353.2h3.6l1.7 1.5v4l-1.9 1.6-1.6.6-1.6-.6-1.9-1.6v-4zM1141.9 359.5h3.6l1.7 1.5v4l-1.9 1.6-1.6.6-1.6-.6-1.9-1.6v-4zM1106.2 345.1h3.6l1.7 1.5v4l-1.9 1.6-1.6.6-1.6-.6-1.9-1.6v-4zM1124.4 340.5h3.6l1.7 1.5v4l-1.9 1.6-1.6.6-1.6-.6-1.9-1.6v-4zM1137.5 364.1h3.6l1.7 1.5v4l-1.9 1.6-1.6.6-1.6-.6-1.9-1.6v-4zM1152.4 346.1h3.6l1.7 1.5v4l-1.9 1.6-1.6.6-1.6-.6-1.9-1.6v-4zM1123.7 371.2h3.6l1.7 1.5v4l-1.9 1.6-1.6.6-1.6-.6-1.9-1.6v-4zM1142.5 351.4h3.6l1.7 1.5v4l-1.9 1.6-1.6.6-1.6-.6-1.9-1.6v-4zM1126.1 341.3h3.6l1.7 1.5v4l-1.9 1.6-1.6.6-1.6-.6-1.9-1.6v-4zM1160.3 351h3.6l1.7 1.5v4l-1.9 1.6-1.6.6-1.6-.6-1.9-1.6v-4zM1102.9 367.8h3.6l1.7 1.5v4l-1.9 1.6-1.6.6-1.6-.6-1.9-1.6v-4zM1133.2 338.2h3.6l1.7 1.5v4l-1.9 1.6-1.6.6-1.6-.6-1.9-1.6v-4zM1111.7 341.8h3.6l1.7 1.5v4l-1.9 1.6-1.6.6-1.6-.6-1.9-1.6v-4zM1164.6 350.7h3.6l1.7 1.5v4l-1.9 1.6-1.6.6-1.6-.6-1.9-1.6v-4zM1125.1 338.5h3.6l1.7 1.5v4l-1.9 1.6-1.6.6-1.6-.6-1.9-1.6v-4zM1150.6 357.1h3.6l1.7 1.5v4l-1.9 1.6-1.6.6-1.6-.6-1.9-1.6v-4zM1142.2 355.9h3.6l1.7 1.5v4l-1.9 1.6-1.6.6-1.6-.6-1.9-1.6v-4zM1123 372.3h3.6l1.7 1.5v4l-1.9 1.6-1.6.6-1.6-.6-1.9-1.6v-4zM1137.2 370.7h3.6l1.7 1.5v4l-1.9 1.6-1.6.6-1.6-.6-1.9-1.6v-4zM1127.6 351.5h3.6l1.7 1.5v4l-1.9 1.6-1.6.6-1.6-.6-1.9-1.6v-4zM1119.5 339.5h3.6l1.7 1.5v4l-1.9 1.6-1.6.6-1.6-.6-1.9-1.6v-4zM1098.9 361.3h3.6l1.7 1.5v4l-1.9 1.6-1.6.6-1.6-.6-1.9-1.6v-4zM1121.9 361.3h3.6l1.7 1.5v4l-1.9 1.6-1.6.6-1.6-.6-1.9-1.6v-4zM1107.2 370.2h3.6l1.7 1.5v4l-1.9 1.6-1.6.6-1.6-.6-1.9-1.6v-4zM1147 368h3.6l1.7 1.5v4l-1.9 1.6-1.6.6-1.6-.6-1.9-1.6v-4zM1128.5 334.9h3.6l1.7 1.5v4l-1.9 1.6-1.6.6-1.6-.6-1.9-1.6v-4zM1122.5 362.1h3.6l1.7 1.5v4l-1.9 1.6-1.6.6-1.6-.6-1.9-1.6v-4zM1144.9 369.8h3.6l1.7 1.5v4l-1.9 1.6-1.6.6-1.6-.6-1.9-1.6v-4zM1135.9 348.4h3.6l1.7 1.5v4l-1.9 1.6-1.6.6-1.6-.6-1.9-1.6v-4zM1113.9 363.4h3.6l1.7 1.5v4l-1.9 1.6-1.6.6-1.6-.6-1.9-1.6v-4zM1147.3 336.8h3.6l1.7 1.5v4l-1.9 1.6-1.6.6-1.6-.6-1.9-1.6v-4zM1102.8 353.7h3.6l1.7 1.5v4l-1.9 1.6-1.6.6-1.6-.6-1.9-1.6v-4zM1146.5 348.5h3.6l1.7 1.5v4l-1.9 1.6-1.6.6-1.6-.6-1.9-1.6v-4zM1126.1 365.9h3.6l1.7 1.5v4l-1.9 1.6-1.6.6-1.6-.6-1.9-1.6v-4zM1128.2 360.9h3.6l1.7 1.5v4l-1.9 1.6-1.6.6-1.6-.6-1.9-1.6v-4zM1146 369.2h3.6l1.7 1.5v4l-1.9 1.6-1.6.6-1.6-.6-1.9-1.6v-4zM1166.2 352.5h3.6l1.7 1.5v4l-1.9 1.6-1.6.6-1.6-.6-1.9-1.6v-4zM1131.6 367.4h3.6l1.7 1.5v4l-1.9 1.6-1.6.6-1.6-.6-1.9-1.6v-4zM1146 352.6h3.6l1.7 1.5v4l-1.9 1.6-1.6.6-1.6-.6-1.9-1.6v-4zM1140.5 358.8h3.6l1.7 1.5v4l-1.9 1.6-1.6.6-1.6-.6-1.9-1.6v-4zM1117.4 342h3.6l1.7 1.5v4l-1.9 1.6-1.6.6-1.6-.6-1.9-1.6v-4zM1096 358.6h3.6l1.7 1.5v4l-1.9 1.6-1.6.6-1.6-.6-1.9-1.6v-4zM1139.9 372.1h3.6l1.7 1.5v4l-1.9 1.6-1.6.6-1.6-.6-1.9-1.6v-4zM1129.3 342.8h3.6l1.7 1.5v4l-1.9 1.6-1.6.6-1.6-.6-1.9-1.6v-4zM1125.7 340.7h3.6l1.7 1.5v4l-1.9 1.6-1.6.6-1.6-.6-1.9-1.6v-4zM1165.4 348.9h3.6l1.7 1.5v4l-1.9 1.6-1.6.6-1.6-.6-1.9-1.6v-4zM1164.6 348.9h3.6l1.7 1.5v4l-1.9 1.6-1.6.6-1.6-.6-1.9-1.6v-4zM1142.3 350.6h3.6l1.7 1.5v4l-1.9 1.6-1.6.6-1.6-.6-1.9-1.6v-4zM1128.9 376.2h3.6l1.7 1.5v4l-1.9 1.6-1.6.6-1.6-.6-1.9-1.6v-4zM1137.9 359.7h3.6l1.7 1.5v4l-1.9 1.6-1.6.6-1.6-.6-1.9-1.6v-4zM1140.5 346.8h3.6l1.7 1.5v4l-1.9 1.6-1.6.6-1.6-.6-1.9-1.6v-4zM1123.7 349.6h3.6l1.7 1.5v4l-1.9 1.6-1.6.6-1.6-.6-1.9-1.6v-4zM1188.9 180.8h3.6l1.7 1.5v4l-1.9 1.6-1.6.6-1.6-.6-1.9-1.6v-4zM1307.2 205h3.6l1.7 1.5v4l-1.9 1.6-1.6.6-1.6-.6-1.9-1.6v-4zM1188.1 218.4h3.6l1.7 1.5v4l-1.9 1.6-1.6.6-1.6-.6-1.9-1.6v-4zM1180.5 226.1h3.6l1.7 1.5v4l-1.9 1.6-1.6.6-1.6-.6-1.9-1.6v-4zM1071.4 229.2h3.6l1.7 1.5v4l-1.9 1.6-1.6.6-1.6-.6-1.9-1.6v-4zM1110.9 241.5h3.6l1.7 1.5v4l-1.9 1.6-1.6.6-1.6-.6-1.9-1.6v-4zM1260.4 243h3.6l1.7 1.5v4l-1.9 1.6-1.6.6-1.6-.6-1.9-1.6v-4zM1136.3 254.9h3.6l1.7 1.5v4l-1.9 1.6-1.6.6-1.6-.6-1.9-1.6v-4zM1286.1 251.5h3.6l1.7 1.5v4l-1.9 1.6-1.6.6-1.6-.6-1.9-1.6v-4zM1288 258h3.6l1.7 1.5v4l-1.9 1.6-1.6.6-1.6-.6-1.9-1.6v-4zM1291.9 260.7h3.6l1.7 1.5v4l-1.9 1.6-1.6.6-1.6-.6-1.9-1.6v-4zM1174.3 261.8h3.6l1.7 1.5v4l-1.9 1.6-1.6.6-1.6-.6-1.9-1.6v-4zM1192.8 257.2h3.6l1.7 1.5v4l-1.9 1.6-1.6.6-1.6-.6-1.9-1.6v-4zM1055.6 265.3h3.6l1.7 1.5v4l-1.9 1.6-1.6.6-1.6-.6-1.9-1.6v-4zM1187.4 265.3h3.6l1.7 1.5v4l-1.9 1.6-1.6.6-1.6-.6-1.9-1.6v-4zM1310.3 266.5h3.6l1.7 1.5v4l-1.9 1.6-1.6.6-1.6-.6-1.9-1.6v-4zM1126.7 268.4h3.6l1.7 1.5v4l-1.9 1.6-1.6.6-1.6-.6-1.9-1.6v-4zM1235.8 273.8h3.6l1.7 1.5v4l-1.9 1.6-1.6.6-1.6-.6-1.9-1.6v-4zM1187.4 278.4h3.6l1.7 1.5v4l-1.9 1.6-1.6.6-1.6-.6-1.9-1.6v-4zM1429.4 282.6h3.6l1.7 1.5v4l-1.9 1.6-1.6.6-1.6-.6-1.9-1.6v-4zM1240 288h3.6l1.7 1.5v4l-1.9 1.6-1.6.6-1.6-.6-1.9-1.6v-4zM1186.6 288.4h3.6l1.7 1.5v4l-1.9 1.6-1.6.6-1.6-.6-1.9-1.6v-4zM1209.3 295.7h3.6l1.7 1.5v4l-1.9 1.6-1.6.6-1.6-.6-1.9-1.6v-4zM1216.2 299.5h3.6l1.7 1.5v4l-1.9 1.6-1.6.6-1.6-.6-1.9-1.6v-4zM1223.5 295.7h3.6l1.7 1.5v4l-1.9 1.6-1.6.6-1.6-.6-1.9-1.6v-4zM1365.6 302.6h3.6l1.7 1.5v4l-1.9 1.6-1.6.6-1.6-.6-1.9-1.6v-4zM1043.3 305.6h3.6l1.7 1.5v4l-1.9 1.6-1.6.6-1.6-.6-1.9-1.6v-4zM1067.1 312.9h3.6l1.7 1.5v4l-1.9 1.6-1.6.6-1.6-.6-1.9-1.6v-4zM1207.4 306.4h3.6l1.7 1.5v4l-1.9 1.6-1.6.6-1.6-.6-1.9-1.6v-4zM1195.1 303.7h3.6l1.7 1.5v4l-1.9 1.6-1.6.6-1.6-.6-1.9-1.6v-4zM1287.3 317.9h3.6l1.7 1.5v4l-1.9 1.6-1.6.6-1.6-.6-1.9-1.6v-4zM1300.3 321.8h3.6l1.7 1.5v4l-1.9 1.6-1.6.6-1.6-.6-1.9-1.6v-4zM1254.6 320.2h3.6l1.7 1.5v4l-1.9 1.6-1.6.6-1.6-.6-1.9-1.6v-4zM1232.7 322.5h3.6l1.7 1.5v4l-1.9 1.6-1.6.6-1.6-.6-1.9-1.6v-4zM1460.5 322.9h3.6l1.7 1.5v4l-1.9 1.6-1.6.6-1.6-.6-1.9-1.6v-4zM1241.2 327.5h3.6l1.7 1.5v4l-1.9 1.6-1.6.6-1.6-.6-1.9-1.6v-4zM1214.3 325.6h3.6l1.7 1.5v4l-1.9 1.6-1.6.6-1.6-.6-1.9-1.6v-4zM1220 324.5h3.6l1.7 1.5v4l-1.9 1.6-1.6.6-1.6-.6-1.9-1.6v-4zM1295.7 331.8h3.6l1.7 1.5v4l-1.9 1.6-1.6.6-1.6-.6-1.9-1.6v-4zM1285.3 333.7h3.6l1.7 1.5v4l-1.9 1.6-1.6.6-1.6-.6-1.9-1.6v-4zM1243.1 335.6h3.6l1.7 1.5v4l-1.9 1.6-1.6.6-1.6-.6-1.9-1.6v-4zM1321.1 337.5h3.6l1.7 1.5v4l-1.9 1.6-1.6.6-1.6-.6-1.9-1.6v-4zM1284.6 340.2h3.6l1.7 1.5v4l-1.9 1.6-1.6.6-1.6-.6-1.9-1.6v-4zM1311.1 342.1h3.6l1.7 1.5v4l-1.9 1.6-1.6.6-1.6-.6-1.9-1.6v-4zM1249.6 341.4h3.6l1.7 1.5v4l-1.9 1.6-1.6.6-1.6-.6-1.9-1.6v-4zM1240.8 342.9h3.6l1.7 1.5v4l-1.9 1.6-1.6.6-1.6-.6-1.9-1.6v-4zM1230.4 344.8h3.6l1.7 1.5v4l-1.9 1.6-1.6.6-1.6-.6-1.9-1.6v-4zM1033.3 348.3h3.6l1.7 1.5v4l-1.9 1.6-1.6.6-1.6-.6-1.9-1.6v-4zM1051.8 347.9h3.6l1.7 1.5v4l-1.9 1.6-1.6.6-1.6-.6-1.9-1.6v-4zM1260.4 348.7h3.6l1.7 1.5v4l-1.9 1.6-1.6.6-1.6-.6-1.9-1.6v-4zM1037.2 357.5h3.6l1.7 1.5v4l-1.9 1.6-1.6.6-1.6-.6-1.9-1.6v-4zM1302.2 355.6h3.6l1.7 1.5v4l-1.9 1.6-1.6.6-1.6-.6-1.9-1.6v-4zM1264.2 359h3.6l1.7 1.5v4l-1.9 1.6-1.6.6-1.6-.6-1.9-1.6v-4zM1236.9 360.2h3.6l1.7 1.5v4l-1.9 1.6-1.6.6-1.6-.6-1.9-1.6v-4zM1227.7 354.4h3.6l1.7 1.5v4l-1.9 1.6-1.6.6-1.6-.6-1.9-1.6v-4zM1223.5 372.5h3.6l1.7 1.5v4l-1.9 1.6-1.6.6-1.6-.6-1.9-1.6v-4zM1223.9 382.5h3.6l1.7 1.5v4l-1.9 1.6-1.6.6-1.6-.6-1.9-1.6v-4zM1217.3 394.8h3.6l1.7 1.5v4l-1.9 1.6-1.6.6-1.6-.6-1.9-1.6v-4zM1158.2 406.3h3.6l1.7 1.5v4l-1.9 1.6-1.6.6-1.6-.6-1.9-1.6v-4zM1150.1 404.8h3.6l1.7 1.5v4l-1.9 1.6-1.6.6-1.6-.6-1.9-1.6v-4zM1136.3 407.1h3.6l1.7 1.5v4l-1.9 1.6-1.6.6-1.6-.6-1.9-1.6v-4zM1119.8 409.4h3.6l1.7 1.5v4l-1.9 1.6-1.6.6-1.6-.6-1.9-1.6v-4zM1062.1 450.9h3.6l1.7 1.5v4l-1.9 1.6-1.6.6-1.6-.6-1.9-1.6v-4zM1126.5 404.9h3.6l1.7 1.5v4l-1.9 1.6-1.6.6-1.6-.6-1.9-1.6v-4zM1120 410.1h3.6l1.7 1.5v4l-1.9 1.6-1.6.6-1.6-.6-1.9-1.6v-4zM1135.9 407.2h3.6l1.7 1.5v4l-1.9 1.6-1.6.6-1.6-.6-1.9-1.6v-4zM1149.7 404.6h3.6l1.7 1.5v4l-1.9 1.6-1.6.6-1.6-.6-1.9-1.6v-4zM1158 406.6h3.6l1.7 1.5v4l-1.9 1.6-1.6.6-1.6-.6-1.9-1.6v-4zM1110.5 413.1h3.6l1.7 1.5v4l-1.9 1.6-1.6.6-1.6-.6-1.9-1.6v-4zM1064.9 401.4h3.6l1.7 1.5v4l-1.9 1.6-1.6.6-1.6-.6-1.9-1.6v-4zM1163.2 398.8h3.6l1.7 1.5v4l-1.9 1.6-1.6.6-1.6-.6-1.9-1.6v-4zM1166.5 387.3h3.6l1.7 1.5v4l-1.9 1.6-1.6.6-1.6-.6-1.9-1.6v-4zM1217.6 394.6h3.6l1.7 1.5v4l-1.9 1.6-1.6.6-1.6-.6-1.9-1.6v-4zM1223.7 382.1h3.6l1.7 1.5v4l-1.9 1.6-1.6.6-1.6-.6-1.9-1.6v-4zM1224.4 372.5h3.6l1.7 1.5v4l-1.9 1.6-1.6.6-1.6-.6-1.9-1.6v-4zM1044.7 389.7h3.6l1.7 1.5v4l-1.9 1.6-1.6.6-1.6-.6-1.9-1.6v-4z"/>
<g class="r"><circle cx="1058.8" cy="231.2" r="6"/><circle cx="1170.3" cy="239.4" r="6"/><circle cx="1206.7" cy="232.3" r="6"/><circle cx="1132.5" cy="248.3" r="6"/><circle cx="1196.6" cy="251.1" r="6"/><circle cx="1112.2" cy="260.2" r="6"/><circle cx="1119.5" cy="263.3" r="6"/><circle cx="1098.9" cy="270.2" r="6"/><circle cx="1095.8" cy="269.1" r="6"/><circle cx="1210.2" cy="276.4" r="6"/><circle cx="1095.3" cy="283.6" r="6"/><circle cx="1120.3" cy="284.7" r="6"/><circle cx="1149.7" cy="280.8" r="6"/><circle cx="1162.5" cy="290.6" r="6"/><circle cx="1165" cy="279.7" r="6"/><circle cx="1152.5" cy="296.9" r="6"/><circle cx="1058" cy="297.5" r="6"/><circle cx="1077.7" cy="296.7" r="6"/><circle cx="1186.4" cy="304.2" r="6"/><circle cx="1183" cy="305.5" r="6"/><circle cx="1095.8" cy="308.1" r="6"/><circle cx="1052.8" cy="318.3" r="6"/><circle cx="1121.6" cy="318" r="6"/><circle cx="1129.4" cy="316.7" r="6"/><circle cx="1166.1" cy="324.8" r="6"/><circle cx="1162.2" cy="337" r="6"/><circle cx="1146.2" cy="340.6" r="6"/><circle cx="1189.8" cy="335.9" r="6"/><circle cx="1195" cy="345.2" r="6"/><circle cx="1145" cy="350.6" r="6"/><circle cx="1092.7" cy="352.3" r="6"/><circle cx="1106.7" cy="359.7" r="6"/><circle cx="1210.3" cy="356.6" r="6"/><circle cx="1177.3" cy="118.8" r="6"/><circle cx="1192.6" cy="146.8" r="6"/><circle cx="1095.8" cy="193.7" r="6"/><circle cx="1165.7" cy="214.4" r="6"/><circle cx="1135.4" cy="218.3" r="6"/><circle cx="1148.8" cy="222.9" r="6"/><circle cx="1079.7" cy="222.5" r="6"/><circle cx="1317.9" cy="232.9" r="6"/><circle cx="983.6" cy="256.3" r="6"/><circle cx="1385.9" cy="333.1" r="6"/><circle cx="1329" cy="352" r="6"/></g>
<g class="b"><circle cx="1287.1" cy="366.2" r="6"/><circle cx="1375.1" cy="387.7" r="6"/><circle cx="1053" cy="391" r="6"/><circle cx="1064.3" cy="385.4" r="6"/><circle cx="1061.5" cy="394.3" r="6"/><circle cx="1073.6" cy="395.8" r="6"/><circle cx="1080.1" cy="385.4" r="6"/><circle cx="1084" cy="398.2" r="6"/><circle cx="1096.2" cy="380.3" r="6"/><circle cx="1092.7" cy="391" r="6"/><circle cx="1099.9" cy="394.7" r="6"/><circle cx="1079.1" cy="406" r="6"/><circle cx="1092.1" cy="407" r="6"/><circle cx="1083" cy="414.5" r="6"/><circle cx="1089.2" cy="414.5" r="6"/><circle cx="1106.4" cy="410.9" r="6"/><circle cx="1113.6" cy="405.3" r="6"/><circle cx="1112.7" cy="395.6" r="6"/><circle cx="1115.8" cy="379.9" r="6"/><circle cx="1125.3" cy="382.6" r="6"/><circle cx="1121.8" cy="393.6" r="6"/><circle cx="1129.8" cy="391" r="6"/><circle cx="1135.7" cy="395.2" r="6"/><circle cx="1137.9" cy="377.7" r="6"/><circle cx="1143.5" cy="398.8" r="6"/><circle cx="1148.7" cy="392.1" r="6"/><circle cx="1151.3" cy="376.7" r="6"/><circle cx="1157.2" cy="373.4" r="6"/><circle cx="1158.2" cy="396.2" r="6"/><circle cx="1185.2" cy="388.4" r="6"/><circle cx="1211.9" cy="383.2" r="6"/><circle cx="1214.2" cy="390.6" r="6"/><circle cx="1138" cy="421" r="6"/><circle cx="1117.9" cy="429.4" r="6"/></g>
<path class="ax" d="M1044.3 492.8V470.8M1044.3 1.1V23.1M1191.7 492.8V470.8M1191.7 1.1V23.1M1339 492.8V470.8M1339 1.1V23.1M1486.4 492.8V470.8M1486.4 1.1V23.1M946.1 406H968.1M1535.5 406H1513.5M946.1 290.3H968.1M1535.5 290.3H1513.5M946.1 174.6H968.1M1535.5 174.6H1513.5M946.1 58.9H968.1M1535.5 58.9H1513.5"/>
<rect class="ax" x="946.1" y="1.1" width="589.4" height="491.7"/>
<text class="t" text-anchor="end" x="930.5" y="422">0</text>
<text class="t" text-anchor="end" x="930.5" y="306.3">4</text>
<text class="t" text-anchor="end" x="930.5" y="190.6">8</text>
<text class="t" text-anchor="end" x="930.5" y="74.9">12</text>
<text class="t" text-anchor="middle" x="1044.3" y="533.7">0</text>
<text class="t" text-anchor="middle" x="1191.7" y="533.7">15</text>
<text class="t" text-anchor="middle" x="1339" y="533.7">30</text>
<text class="t" text-anchor="middle" x="1486.4" y="533.7">45</text>
<text class="t" x="994.8" y="83.1">(b)</text>
<text class="c" x="1251.1" y="81.8" xml:space="preserve">CORR= 0.27</text>
<text class="t" transform="translate(839.5 369.7) rotate(-90)" xml:space="preserve">Δz<tspan class="s" dy="12">500 hPa</tspan><tspan dy="-12"> [m]</tspan></text>
</g>
<g id="panel-c">
<path class="k" d="M281.3 1037.8h3.6l1.7 1.5v4l-1.9 1.6-1.6.6-1.6-.6-1.9-1.6v-4zM297.1 1036.4h3.6l1.7 1.5v4l-1.9 1.6-1.6.6-1.6-.6-1.9-1.6v-4zM292 1022.1h3.6l1.7 1.5v4l-1.9 1.6-1.6.6-1.6-.6-1.9-1.6v-4zM270.9 1048h3.6l1.7 1.5v4l-1.9 1.6-1.6.6-1.6-.6-1.9-1.6v-4zM250 1036.8h3.6l1.7 1.5v4l-1.9 1.6-1.6.6-1.6-.6-1.9-1.6v-4zM272.4 1037.1h3.6l1.7 1.5v4l-1.9 1.6-1.6.6-1.6-.6-1.9-1.6v-4zM281.7 1028.5h3.6l1.7 1.5v4l-1.9 1.6-1.6.6-1.6-.6-1.9-1.6v-4zM305.4 1020.3h3.6l1.7 1.5v4l-1.9 1.6-1.6.6-1.6-.6-1.9-1.6v-4zM270.4 1047.7h3.6l1.7 1.5v4l-1.9 1.6-1.6.6-1.6-.6-1.9-1.6v-4zM306.4 1039.3h3.6l1.7 1.5v4l-1.9 1.6-1.6.6-1.6-.6-1.9-1.6v-4zM300.8 1019.7h3.6l1.7 1.5v4l-1.9 1.6-1.6.6-1.6-.6-1.9-1.6v-4zM312.1 1020h3.6l1.7 1.5v4l-1.9 1.6-1.6.6-1.6-.6-1.9-1.6v-4zM294.3 1017.5h3.6l1.7 1.5v4l-1.9 1.6-1.6.6-1.6-.6-1.9-1.6v-4zM279.5 1039.2h3.6l1.7 1.5v4l-1.9 1.6-1.6.6-1.6-.6-1.9-1.6v-4zM303.3 1027.4h3.6l1.7 1.5v4l-1.9 1.6-1.6.6-1.6-.6-1.9-1.6v-4zM313.4 1023.1h3.6l1.7 1.5v4l-1.9 1.6-1.6.6-1.6-.6-1.9-1.6v-4zM253.6 1047.5h3.6l1.7 1.5v4l-1.9 1.6-1.6.6-1.6-.6-1.9-1.6v-4zM252.3 1023.8h3.6l1.7 1.5v4l-1.9 1.6-1.6.6-1.6-.6-1.9-1.6v-4zM283.4 1039h3.6l1.7 1.5v4l-1.9 1.6-1.6.6-1.6-.6-1.9-1.6v-4zM300.6 1024.8h3.6l1.7 1.5v4l-1.9 1.6-1.6.6-1.6-.6-1.9-1.6v-4zM297.5 1014.5h3.6l1.7 1.5v4l-1.9 1.6-1.6.6-1.6-.6-1.9-1.6v-4zM334.2 1015h3.6l1.7 1.5v4l-1.9 1.6-1.6.6-1.6-.6-1.9-1.6v-4zM288.6 1028.9h3.6l1.7 1.5v4l-1.9 1.6-1.6.6-1.6-.6-1.9-1.6v-4zM311.4 1026.5h3.6l1.7 1.5v4l-1.9 1.6-1.6.6-1.6-.6-1.9-1.6v-4zM294.3 1025.7h3.6l1.7 1.5v4l-1.9 1.6-1.6.6-1.6-.6-1.9-1.6v-4zM284.4 1034.9h3.6l1.7 1.5v4l-1.9 1.6-1.6.6-1.6-.6-1.9-1.6v-4zM290.5 1032h3.6l1.7 1.5v4l-1.9 1.6-1.6.6-1.6-.6-1.9-1.6v-4zM280.7 1045.6h3.6l1.7 1.5v4l-1.9 1.6-1.6.6-1.6-.6-1.9-1.6v-4zM300.8 1046.2h3.6l1.7 1.5v4l-1.9 1.6-1.6.6-1.6-.6-1.9-1.6v-4zM302.9 1029.8h3.6l1.7 1.5v4l-1.9 1.6-1.6.6-1.6-.6-1.9-1.6v-4zM290.3 1042.1h3.6l1.7 1.5v4l-1.9 1.6-1.6.6-1.6-.6-1.9-1.6v-4zM292.7 1020h3.6l1.7 1.5v4l-1.9 1.6-1.6.6-1.6-.6-1.9-1.6v-4zM277.4 1011.4h3.6l1.7 1.5v4l-1.9 1.6-1.6.6-1.6-.6-1.9-1.6v-4zM315.7 1039.5h3.6l1.7 1.5v4l-1.9 1.6-1.6.6-1.6-.6-1.9-1.6v-4zM267 1027.3h3.6l1.7 1.5v4l-1.9 1.6-1.6.6-1.6-.6-1.9-1.6v-4zM276.8 1027.9h3.6l1.7 1.5v4l-1.9 1.6-1.6.6-1.6-.6-1.9-1.6v-4zM299.4 1031.7h3.6l1.7 1.5v4l-1.9 1.6-1.6.6-1.6-.6-1.9-1.6v-4zM296.4 1035.3h3.6l1.7 1.5v4l-1.9 1.6-1.6.6-1.6-.6-1.9-1.6v-4zM298.7 1034.4h3.6l1.7 1.5v4l-1.9 1.6-1.6.6-1.6-.6-1.9-1.6v-4zM262.6 1032.2h3.6l1.7 1.5v4l-1.9 1.6-1.6.6-1.6-.6-1.9-1.6v-4zM301.5 1007.3h3.6l1.7 1.5v4l-1.9 1.6-1.6.6-1.6-.6-1.9-1.6v-4zM316 1037h3.6l1.7 1.5v4l-1.9 1.6-1.6.6-1.6-.6-1.9-1.6v-4zM293.9 1033.8h3.6l1.7 1.5v4l-1.9 1.6-1.6.6-1.6-.6-1.9-1.6v-4zM285.6 1046.6h3.6l1.7 1.5v4l-1.9 1.6-1.6.6-1.6-.6-1.9-1.6v-4zM303.2 1029.4h3.6l1.7 1.5v4l-1.9 1.6-1.6.6-1.6-.6-1.9-1.6v-4zM264.2 1050.9h3.6l1.7 1.5v4l-1.9 1.6-1.6.6-1.6-.6-1.9-1.6v-4zM276.2 1041.9h3.6l1.7 1.5v4l-1.9 1.6-1.6.6-1.6-.6-1.9-1.6v-4zM285.7 1035.9h3.6l1.7 1.5v4l-1.9 1.6-1.6.6-1.6-.6-1.9-1.6v-4zM320.8 1004.7h3.6l1.7 1.5v4l-1.9 1.6-1.6.6-1.6-.6-1.9-1.6v-4zM288 1020.7h3.6l1.7 1.5v4l-1.9 1.6-1.6.6-1.6-.6-1.9-1.6v-4zM276.6 1038.4h3.6l1.7 1.5v4l-1.9 1.6-1.6.6-1.6-.6-1.9-1.6v-4zM276.4 1021.9h3.6l1.7 1.5v4l-1.9 1.6-1.6.6-1.6-.6-1.9-1.6v-4zM277.6 1055.6h3.6l1.7 1.5v4l-1.9 1.6-1.6.6-1.6-.6-1.9-1.6v-4zM288.9 1023.8h3.6l1.7 1.5v4l-1.9 1.6-1.6.6-1.6-.6-1.9-1.6v-4zM301 1012.4h3.6l1.7 1.5v4l-1.9 1.6-1.6.6-1.6-.6-1.9-1.6v-4zM291.2 1039.9h3.6l1.7 1.5v4l-1.9 1.6-1.6.6-1.6-.6-1.9-1.6v-4zM291.3 1026.2h3.6l1.7 1.5v4l-1.9 1.6-1.6.6-1.6-.6-1.9-1.6v-4zM248.3 1054.4h3.6l1.7 1.5v4l-1.9 1.6-1.6.6-1.6-.6-1.9-1.6v-4zM290.4 1043.9h3.6l1.7 1.5v4l-1.9 1.6-1.6.6-1.6-.6-1.9-1.6v-4zM321.8 1009.2h3.6l1.7 1.5v4l-1.9 1.6-1.6.6-1.6-.6-1.9-1.6v-4zM296.5 1015.9h3.6l1.7 1.5v4l-1.9 1.6-1.6.6-1.6-.6-1.9-1.6v-4zM303.7 1023.3h3.6l1.7 1.5v4l-1.9 1.6-1.6.6-1.6-.6-1.9-1.6v-4zM304.8 1019h3.6l1.7 1.5v4l-1.9 1.6-1.6.6-1.6-.6-1.9-1.6v-4zM277.7 1022.1h3.6l1.7 1.5v4l-1.9 1.6-1.6.6-1.6-.6-1.9-1.6v-4zM285.7 1048.6h3.6l1.7 1.5v4l-1.9 1.6-1.6.6-1.6-.6-1.9-1.6v-4zM249 1023.5h3.6l1.7 1.5v4l-1.9 1.6-1.6.6-1.6-.6-1.9-1.6v-4zM281.5 1023.3h3.6l1.7 1.5v4l-1.9 1.6-1.6.6-1.6-.6-1.9-1.6v-4zM263.8 1054.7h3.6l1.7 1.5v4l-1.9 1.6-1.6.6-1.6-.6-1.9-1.6v-4zM276.1 1048.7h3.6l1.7 1.5v4l-1.9 1.6-1.6.6-1.6-.6-1.9-1.6v-4zM275.3 1008.8h3.6l1.7 1.5v4l-1.9 1.6-1.6.6-1.6-.6-1.9-1.6v-4zM300.5 1043.2h3.6l1.7 1.5v4l-1.9 1.6-1.6.6-1.6-.6-1.9-1.6v-4zM303.4 1040.9h3.6l1.7 1.5v4l-1.9 1.6-1.6.6-1.6-.6-1.9-1.6v-4zM274.9 1020.5h3.6l1.7 1.5v4l-1.9 1.6-1.6.6-1.6-.6-1.9-1.6v-4zM299.9 1022.1h3.6l1.7 1.5v4l-1.9 1.6-1.6.6-1.6-.6-1.9-1.6v-4zM301.8 1019.7h3.6l1.7 1.5v4l-1.9 1.6-1.6.6-1.6-.6-1.9-1.6v-4zM284.1 1036h3.6l1.7 1.5v4l-1.9 1.6-1.6.6-1.6-.6-1.9-1.6v-4zM290.3 1030.9h3.6l1.7 1.5v4l-1.9 1.6-1.6.6-1.6-.6-1.9-1.6v-4zM281.2 1049h3.6l1.7 1.5v4l-1.9 1.6-1.6.6-1.6-.6-1.9-1.6v-4zM291 1024.1h3.6l1.7 1.5v4l-1.9 1.6-1.6.6-1.6-.6-1.9-1.6v-4zM295.4 1017.8h3.6l1.7 1.5v4l-1.9 1.6-1.6.6-1.6-.6-1.9-1.6v-4zM299.5 1045.8h3.6l1.7 1.5v4l-1.9 1.6-1.6.6-1.6-.6-1.9-1.6v-4zM289.8 1018.8h3.6l1.7 1.5v4l-1.9 1.6-1.6.6-1.6-.6-1.9-1.6v-4zM266.6 1035.1h3.6l1.7 1.5v4l-1.9 1.6-1.6.6-1.6-.6-1.9-1.6v-4zM270.5 1023.1h3.6l1.7 1.5v4l-1.9 1.6-1.6.6-1.6-.6-1.9-1.6v-4zM292.6 1023h3.6l1.7 1.5v4l-1.9 1.6-1.6.6-1.6-.6-1.9-1.6v-4zM299.6 1028.8h3.6l1.7 1.5v4l-1.9 1.6-1.6.6-1.6-.6-1.9-1.6v-4zM282.8 1046.8h3.6l1.7 1.5v4l-1.9 1.6-1.6.6-1.6-.6-1.9-1.6v-4zM309.3 1022.5h3.6l1.7 1.5v4l-1.9 1.6-1.6.6-1.6-.6-1.9-1.6v-4zM275.6 1045.7h3.6l1.7 1.5v4l-1.9 1.6-1.6.6-1.6-.6-1.9-1.6v-4zM313.9 1019.2h3.6l1.7 1.5v4l-1.9 1.6-1.6.6-1.6-.6-1.9-1.6v-4zM282.7 1051h3.6l1.7 1.5v4l-1.9 1.6-1.6.6-1.6-.6-1.9-1.6v-4zM323.1 1020.1h3.6l1.7 1.5v4l-1.9 1.6-1.6.6-1.6-.6-1.9-1.6v-4zM282.3 1037.4h3.6l1.7 1.5v4l-1.9 1.6-1.6.6-1.6-.6-1.9-1.6v-4zM282 1034.9h3.6l1.7 1.5v4l-1.9 1.6-1.6.6-1.6-.6-1.9-1.6v-4zM304.5 1035.5h3.6l1.7 1.5v4l-1.9 1.6-1.6.6-1.6-.6-1.9-1.6v-4zM307.7 1011.9h3.6l1.7 1.5v4l-1.9 1.6-1.6.6-1.6-.6-1.9-1.6v-4zM252.3 1055.8h3.6l1.7 1.5v4l-1.9 1.6-1.6.6-1.6-.6-1.9-1.6v-4zM297.1 1036.5h3.6l1.7 1.5v4l-1.9 1.6-1.6.6-1.6-.6-1.9-1.6v-4zM287.7 1045.9h3.6l1.7 1.5v4l-1.9 1.6-1.6.6-1.6-.6-1.9-1.6v-4zM304.8 1019.7h3.6l1.7 1.5v4l-1.9 1.6-1.6.6-1.6-.6-1.9-1.6v-4zM310.8 1001.9h3.6l1.7 1.5v4l-1.9 1.6-1.6.6-1.6-.6-1.9-1.6v-4zM253.5 1045.1h3.6l1.7 1.5v4l-1.9 1.6-1.6.6-1.6-.6-1.9-1.6v-4zM306.9 1018h3.6l1.7 1.5v4l-1.9 1.6-1.6.6-1.6-.6-1.9-1.6v-4zM294.6 1033.5h3.6l1.7 1.5v4l-1.9 1.6-1.6.6-1.6-.6-1.9-1.6v-4zM292.5 1042.5h3.6l1.7 1.5v4l-1.9 1.6-1.6.6-1.6-.6-1.9-1.6v-4zM307.2 1026.8h3.6l1.7 1.5v4l-1.9 1.6-1.6.6-1.6-.6-1.9-1.6v-4zM274.9 1035.9h3.6l1.7 1.5v4l-1.9 1.6-1.6.6-1.6-.6-1.9-1.6v-4zM288.8 1017.2h3.6l1.7 1.5v4l-1.9 1.6-1.6.6-1.6-.6-1.9-1.6v-4zM266.2 1035h3.6l1.7 1.5v4l-1.9 1.6-1.6.6-1.6-.6-1.9-1.6v-4zM275.1 1029.9h3.6l1.7 1.5v4l-1.9 1.6-1.6.6-1.6-.6-1.9-1.6v-4zM303.3 1039.7h3.6l1.7 1.5v4l-1.9 1.6-1.6.6-1.6-.6-1.9-1.6v-4zM295.9 1030.2h3.6l1.7 1.5v4l-1.9 1.6-1.6.6-1.6-.6-1.9-1.6v-4zM284.1 1039.5h3.6l1.7 1.5v4l-1.9 1.6-1.6.6-1.6-.6-1.9-1.6v-4zM291.6 1024.1h3.6l1.7 1.5v4l-1.9 1.6-1.6.6-1.6-.6-1.9-1.6v-4zM265.4 1044.8h3.6l1.7 1.5v4l-1.9 1.6-1.6.6-1.6-.6-1.9-1.6v-4zM262.9 1049h3.6l1.7 1.5v4l-1.9 1.6-1.6.6-1.6-.6-1.9-1.6v-4zM299.4 1032.8h3.6l1.7 1.5v4l-1.9 1.6-1.6.6-1.6-.6-1.9-1.6v-4zM288.5 1041.9h3.6l1.7 1.5v4l-1.9 1.6-1.6.6-1.6-.6-1.9-1.6v-4zM280.1 1031.4h3.6l1.7 1.5v4l-1.9 1.6-1.6.6-1.6-.6-1.9-1.6v-4zM265.1 1032.3h3.6l1.7 1.5v4l-1.9 1.6-1.6.6-1.6-.6-1.9-1.6v-4zM272.2 1019.9h3.6l1.7 1.5v4l-1.9 1.6-1.6.6-1.6-.6-1.9-1.6v-4zM314.8 1031.7h3.6l1.7 1.5v4l-1.9 1.6-1.6.6-1.6-.6-1.9-1.6v-4zM285.9 1012h3.6l1.7 1.5v4l-1.9 1.6-1.6.6-1.6-.6-1.9-1.6v-4zM295.7 1033.1h3.6l1.7 1.5v4l-1.9 1.6-1.6.6-1.6-.6-1.9-1.6v-4zM292.7 1014.4h3.6l1.7 1.5v4l-1.9 1.6-1.6.6-1.6-.6-1.9-1.6v-4zM309.4 1044.5h3.6l1.7 1.5v4l-1.9 1.6-1.6.6-1.6-.6-1.9-1.6v-4zM286.1 1017.4h3.6l1.7 1.5v4l-1.9 1.6-1.6.6-1.6-.6-1.9-1.6v-4zM292.8 1015.1h3.6l1.7 1.5v4l-1.9 1.6-1.6.6-1.6-.6-1.9-1.6v-4zM288 1034.7h3.6l1.7 1.5v4l-1.9 1.6-1.6.6-1.6-.6-1.9-1.6v-4zM277.4 1047.7h3.6l1.7 1.5v4l-1.9 1.6-1.6.6-1.6-.6-1.9-1.6v-4zM295.5 1035.8h3.6l1.7 1.5v4l-1.9 1.6-1.6.6-1.6-.6-1.9-1.6v-4zM307.4 1034.1h3.6l1.7 1.5v4l-1.9 1.6-1.6.6-1.6-.6-1.9-1.6v-4zM319.7 1018.4h3.6l1.7 1.5v4l-1.9 1.6-1.6.6-1.6-.6-1.9-1.6v-4zM308.7 1026.3h3.6l1.7 1.5v4l-1.9 1.6-1.6.6-1.6-.6-1.9-1.6v-4zM287.8 1027.2h3.6l1.7 1.5v4l-1.9 1.6-1.6.6-1.6-.6-1.9-1.6v-4zM294.9 1021.9h3.6l1.7 1.5v4l-1.9 1.6-1.6.6-1.6-.6-1.9-1.6v-4zM261.2 1046.4h3.6l1.7 1.5v4l-1.9 1.6-1.6.6-1.6-.6-1.9-1.6v-4zM296.4 1026h3.6l1.7 1.5v4l-1.9 1.6-1.6.6-1.6-.6-1.9-1.6v-4zM306.3 1005.7h3.6l1.7 1.5v4l-1.9 1.6-1.6.6-1.6-.6-1.9-1.6v-4zM307.6 1009.7h3.6l1.7 1.5v4l-1.9 1.6-1.6.6-1.6-.6-1.9-1.6v-4zM280.3 1040.8h3.6l1.7 1.5v4l-1.9 1.6-1.6.6-1.6-.6-1.9-1.6v-4zM308.6 1028.6h3.6l1.7 1.5v4l-1.9 1.6-1.6.6-1.6-.6-1.9-1.6v-4zM287.9 1037.8h3.6l1.7 1.5v4l-1.9 1.6-1.6.6-1.6-.6-1.9-1.6v-4zM326 1012.4h3.6l1.7 1.5v4l-1.9 1.6-1.6.6-1.6-.6-1.9-1.6v-4zM296.7 1020.5h3.6l1.7 1.5v4l-1.9 1.6-1.6.6-1.6-.6-1.9-1.6v-4zM304.8 1034.8h3.6l1.7 1.5v4l-1.9 1.6-1.6.6-1.6-.6-1.9-1.6v-4zM306.3 1030.7h3.6l1.7 1.5v4l-1.9 1.6-1.6.6-1.6-.6-1.9-1.6v-4zM278.9 1028.4h3.6l1.7 1.5v4l-1.9 1.6-1.6.6-1.6-.6-1.9-1.6v-4zM283.1 1041.6h3.6l1.7 1.5v4l-1.9 1.6-1.6.6-1.6-.6-1.9-1.6v-4zM293.5 1027.5h3.6l1.7 1.5v4l-1.9 1.6-1.6.6-1.6-.6-1.9-1.6v-4zM300.9 1013.9h3.6l1.7 1.5v4l-1.9 1.6-1.6.6-1.6-.6-1.9-1.6v-4zM264.8 1033.6h3.6l1.7 1.5v4l-1.9 1.6-1.6.6-1.6-.6-1.9-1.6v-4zM326.9 1022.6h3.6l1.7 1.5v4l-1.9 1.6-1.6.6-1.6-.6-1.9-1.6v-4zM286.8 1042.8h3.6l1.7 1.5v4l-1.9 1.6-1.6.6-1.6-.6-1.9-1.6v-4zM252.6 1040.5h3.6l1.7 1.5v4l-1.9 1.6-1.6.6-1.6-.6-1.9-1.6v-4zM294.2 1043.1h3.6l1.7 1.5v4l-1.9 1.6-1.6.6-1.6-.6-1.9-1.6v-4zM303.6 1026.6h3.6l1.7 1.5v4l-1.9 1.6-1.6.6-1.6-.6-1.9-1.6v-4zM284.8 1027.4h3.6l1.7 1.5v4l-1.9 1.6-1.6.6-1.6-.6-1.9-1.6v-4zM273.7 1031.1h3.6l1.7 1.5v4l-1.9 1.6-1.6.6-1.6-.6-1.9-1.6v-4zM287.2 1030.8h3.6l1.7 1.5v4l-1.9 1.6-1.6.6-1.6-.6-1.9-1.6v-4zM302.7 1049.8h3.6l1.7 1.5v4l-1.9 1.6-1.6.6-1.6-.6-1.9-1.6v-4zM297.7 1037.2h3.6l1.7 1.5v4l-1.9 1.6-1.6.6-1.6-.6-1.9-1.6v-4zM305 1026h3.6l1.7 1.5v4l-1.9 1.6-1.6.6-1.6-.6-1.9-1.6v-4zM274.4 1030.1h3.6l1.7 1.5v4l-1.9 1.6-1.6.6-1.6-.6-1.9-1.6v-4zM317 1023.3h3.6l1.7 1.5v4l-1.9 1.6-1.6.6-1.6-.6-1.9-1.6v-4zM248.9 1042.9h3.6l1.7 1.5v4l-1.9 1.6-1.6.6-1.6-.6-1.9-1.6v-4zM298.2 1028h3.6l1.7 1.5v4l-1.9 1.6-1.6.6-1.6-.6-1.9-1.6v-4zM277.2 1029.6h3.6l1.7 1.5v4l-1.9 1.6-1.6.6-1.6-.6-1.9-1.6v-4zM318.3 1040.7h3.6l1.7 1.5v4l-1.9 1.6-1.6.6-1.6-.6-1.9-1.6v-4zM309.1 1032.4h3.6l1.7 1.5v4l-1.9 1.6-1.6.6-1.6-.6-1.9-1.6v-4zM293.8 1044.2h3.6l1.7 1.5v4l-1.9 1.6-1.6.6-1.6-.6-1.9-1.6v-4zM300.3 1048.8h3.6l1.7 1.5v4l-1.9 1.6-1.6.6-1.6-.6-1.9-1.6v-4zM280.1 1036.9h3.6l1.7 1.5v4l-1.9 1.6-1.6.6-1.6-.6-1.9-1.6v-4zM294.2 1024.2h3.6l1.7 1.5v4l-1.9 1.6-1.6.6-1.6-.6-1.9-1.6v-4zM290.2 1022.7h3.6l1.7 1.5v4l-1.9 1.6-1.6.6-1.6-.6-1.9-1.6v-4zM298.7 1021.3h3.6l1.7 1.5v4l-1.9 1.6-1.6.6-1.6-.6-1.9-1.6v-4zM275.6 1022h3.6l1.7 1.5v4l-1.9 1.6-1.6.6-1.6-.6-1.9-1.6v-4zM254.8 1041h3.6l1.7 1.5v4l-1.9 1.6-1.6.6-1.6-.6-1.9-1.6v-4zM278.5 1032.3h3.6l1.7 1.5v4l-1.9 1.6-1.6.6-1.6-.6-1.9-1.6v-4zM264.1 1036.3h3.6l1.7 1.5v4l-1.9 1.6-1.6.6-1.6-.6-1.9-1.6v-4zM271.9 1042.9h3.6l1.7 1.5v4l-1.9 1.6-1.6.6-1.6-.6-1.9-1.6v-4zM303.5 1030.7h3.6l1.7 1.5v4l-1.9 1.6-1.6.6-1.6-.6-1.9-1.6v-4zM292.9 1020.3h3.6l1.7 1.5v4l-1.9 1.6-1.6.6-1.6-.6-1.9-1.6v-4zM303.1 1045.2h3.6l1.7 1.5v4l-1.9 1.6-1.6.6-1.6-.6-1.9-1.6v-4zM296.1 1029.8h3.6l1.7 1.5v4l-1.9 1.6-1.6.6-1.6-.6-1.9-1.6v-4zM302 1030.2h3.6l1.7 1.5v4l-1.9 1.6-1.6.6-1.6-.6-1.9-1.6v-4zM305.5 1029.3h3.6l1.7 1.5v4l-1.9 1.6-1.6.6-1.6-.6-1.9-1.6v-4zM286.5 1056.9h3.6l1.7 1.5v4l-1.9 1.6-1.6.6-1.6-.6-1.9-1.6v-4zM290.5 1045.3h3.6l1.7 1.5v4l-1.9 1.6-1.6.6-1.6-.6-1.9-1.6v-4zM283.1 1050.1h3.6l1.7 1.5v4l-1.9 1.6-1.6.6-1.6-.6-1.9-1.6v-4zM303.7 1033.6h3.6l1.7 1.5v4l-1.9 1.6-1.6.6-1.6-.6-1.9-1.6v-4zM300.8 1035.1h3.6l1.7 1.5v4l-1.9 1.6-1.6.6-1.6-.6-1.9-1.6v-4zM289.9 1043.1h3.6l1.7 1.5v4l-1.9 1.6-1.6.6-1.6-.6-1.9-1.6v-4zM295.2 1028.6h3.6l1.7 1.5v4l-1.9 1.6-1.6.6-1.6-.6-1.9-1.6v-4zM294 1044.8h3.6l1.7 1.5v4l-1.9 1.6-1.6.6-1.6-.6-1.9-1.6v-4zM300.1 1018.8h3.6l1.7 1.5v4l-1.9 1.6-1.6.6-1.6-.6-1.9-1.6v-4zM281.3 1041.1h3.6l1.7 1.5v4l-1.9 1.6-1.6.6-1.6-.6-1.9-1.6v-4zM275.3 1045.1h3.6l1.7 1.5v4l-1.9 1.6-1.6.6-1.6-.6-1.9-1.6v-4zM291.9 1028.2h3.6l1.7 1.5v4l-1.9 1.6-1.6.6-1.6-.6-1.9-1.6v-4zM296.9 1036h3.6l1.7 1.5v4l-1.9 1.6-1.6.6-1.6-.6-1.9-1.6v-4zM269.1 1024.5h3.6l1.7 1.5v4l-1.9 1.6-1.6.6-1.6-.6-1.9-1.6v-4zM291.8 1030.7h3.6l1.7 1.5v4l-1.9 1.6-1.6.6-1.6-.6-1.9-1.6v-4zM305.7 1034.1h3.6l1.7 1.5v4l-1.9 1.6-1.6.6-1.6-.6-1.9-1.6v-4zM274 1008.3h3.6l1.7 1.5v4l-1.9 1.6-1.6.6-1.6-.6-1.9-1.6v-4zM278.3 1043h3.6l1.7 1.5v4l-1.9 1.6-1.6.6-1.6-.6-1.9-1.6v-4zM313.1 1010.9h3.6l1.7 1.5v4l-1.9 1.6-1.6.6-1.6-.6-1.9-1.6v-4zM302.8 1022.4h3.6l1.7 1.5v4l-1.9 1.6-1.6.6-1.6-.6-1.9-1.6v-4zM283.5 1013.6h3.6l1.7 1.5v4l-1.9 1.6-1.6.6-1.6-.6-1.9-1.6v-4zM289.2 1039.4h3.6l1.7 1.5v4l-1.9 1.6-1.6.6-1.6-.6-1.9-1.6v-4zM302.7 1024h3.6l1.7 1.5v4l-1.9 1.6-1.6.6-1.6-.6-1.9-1.6v-4zM287.4 1036.4h3.6l1.7 1.5v4l-1.9 1.6-1.6.6-1.6-.6-1.9-1.6v-4zM309.1 1014.6h3.6l1.7 1.5v4l-1.9 1.6-1.6.6-1.6-.6-1.9-1.6v-4zM292 1042.3h3.6l1.7 1.5v4l-1.9 1.6-1.6.6-1.6-.6-1.9-1.6v-4zM288.1 1032.3h3.6l1.7 1.5v4l-1.9 1.6-1.6.6-1.6-.6-1.9-1.6v-4zM290.9 1026.4h3.6l1.7 1.5v4l-1.9 1.6-1.6.6-1.6-.6-1.9-1.6v-4zM269.3 1049.3h3.6l1.7 1.5v4l-1.9 1.6-1.6.6-1.6-.6-1.9-1.6v-4zM285 1050.9h3.6l1.7 1.5v4l-1.9 1.6-1.6.6-1.6-.6-1.9-1.6v-4zM314.1 1013.9h3.6l1.7 1.5v4l-1.9 1.6-1.6.6-1.6-.6-1.9-1.6v-4zM254.2 1053.2h3.6l1.7 1.5v4l-1.9 1.6-1.6.6-1.6-.6-1.9-1.6v-4zM273.6 1027.6h3.6l1.7 1.5v4l-1.9 1.6-1.6.6-1.6-.6-1.9-1.6v-4zM297.1 1025.2h3.6l1.7 1.5v4l-1.9 1.6-1.6.6-1.6-.6-1.9-1.6v-4zM284.1 1051.3h3.6l1.7 1.5v4l-1.9 1.6-1.6.6-1.6-.6-1.9-1.6v-4zM328.5 1029.9h3.6l1.7 1.5v4l-1.9 1.6-1.6.6-1.6-.6-1.9-1.6v-4zM271.2 1040.4h3.6l1.7 1.5v4l-1.9 1.6-1.6.6-1.6-.6-1.9-1.6v-4zM298.8 1028.3h3.6l1.7 1.5v4l-1.9 1.6-1.6.6-1.6-.6-1.9-1.6v-4zM314.2 1025.6h3.6l1.7 1.5v4l-1.9 1.6-1.6.6-1.6-.6-1.9-1.6v-4zM267.4 1021.5h3.6l1.7 1.5v4l-1.9 1.6-1.6.6-1.6-.6-1.9-1.6v-4zM304.4 1048.1h3.6l1.7 1.5v4l-1.9 1.6-1.6.6-1.6-.6-1.9-1.6v-4zM278.2 1022.5h3.6l1.7 1.5v4l-1.9 1.6-1.6.6-1.6-.6-1.9-1.6v-4zM323.2 1023.5h3.6l1.7 1.5v4l-1.9 1.6-1.6.6-1.6-.6-1.9-1.6v-4zM296.5 1045.1h3.6l1.7 1.5v4l-1.9 1.6-1.6.6-1.6-.6-1.9-1.6v-4zM294.1 1029.8h3.6l1.7 1.5v4l-1.9 1.6-1.6.6-1.6-.6-1.9-1.6v-4zM252.8 1053.3h3.6l1.7 1.5v4l-1.9 1.6-1.6.6-1.6-.6-1.9-1.6v-4zM283.3 1053.5h3.6l1.7 1.5v4l-1.9 1.6-1.6.6-1.6-.6-1.9-1.6v-4zM302.8 1011.9h3.6l1.7 1.5v4l-1.9 1.6-1.6.6-1.6-.6-1.9-1.6v-4zM319.4 1022.1h3.6l1.7 1.5v4l-1.9 1.6-1.6.6-1.6-.6-1.9-1.6v-4zM318.6 1035.4h3.6l1.7 1.5v4l-1.9 1.6-1.6.6-1.6-.6-1.9-1.6v-4zM291.4 1019.8h3.6l1.7 1.5v4l-1.9 1.6-1.6.6-1.6-.6-1.9-1.6v-4zM302.9 1032.1h3.6l1.7 1.5v4l-1.9 1.6-1.6.6-1.6-.6-1.9-1.6v-4zM277.7 1033.4h3.6l1.7 1.5v4l-1.9 1.6-1.6.6-1.6-.6-1.9-1.6v-4zM301.7 1027h3.6l1.7 1.5v4l-1.9 1.6-1.6.6-1.6-.6-1.9-1.6v-4zM289.8 1036.7h3.6l1.7 1.5v4l-1.9 1.6-1.6.6-1.6-.6-1.9-1.6v-4zM290.9 1010.1h3.6l1.7 1.5v4l-1.9 1.6-1.6.6-1.6-.6-1.9-1.6v-4zM291.1 1041.7h3.6l1.7 1.5v4l-1.9 1.6-1.6.6-1.6-.6-1.9-1.6v-4zM309.8 1015.6h3.6l1.7 1.5v4l-1.9 1.6-1.6.6-1.6-.6-1.9-1.6v-4zM293.1 1020.8h3.6l1.7 1.5v4l-1.9 1.6-1.6.6-1.6-.6-1.9-1.6v-4zM271.1 1040.9h3.6l1.7 1.5v4l-1.9 1.6-1.6.6-1.6-.6-1.9-1.6v-4zM278 1025.5h3.6l1.7 1.5v4l-1.9 1.6-1.6.6-1.6-.6-1.9-1.6v-4zM300.7 1035.8h3.6l1.7 1.5v4l-1.9 1.6-1.6.6-1.6-.6-1.9-1.6v-4zM305.9 1035.7h3.6l1.7 1.5v4l-1.9 1.6-1.6.6-1.6-.6-1.9-1.6v-4zM272.7 1026.5h3.6l1.7 1.5v4l-1.9 1.6-1.6.6-1.6-.6-1.9-1.6v-4zM311.9 1030.5h3.6l1.7 1.5v4l-1.9 1.6-1.6.6-1.6-.6-1.9-1.6v-4zM295.8 1015.3h3.6l1.7 1.5v4l-1.9 1.6-1.6.6-1.6-.6-1.9-1.6v-4zM274.7 1052.1h3.6l1.7 1.5v4l-1.9 1.6-1.6.6-1.6-.6-1.9-1.6v-4zM265.4 1050h3.6l1.7 1.5v4l-1.9 1.6-1.6.6-1.6-.6-1.9-1.6v-4zM298.9 1028.7h3.6l1.7 1.5v4l-1.9 1.6-1.6.6-1.6-.6-1.9-1.6v-4zM283.9 1034.1h3.6l1.7 1.5v4l-1.9 1.6-1.6.6-1.6-.6-1.9-1.6v-4zM305.4 1050.5h3.6l1.7 1.5v4l-1.9 1.6-1.6.6-1.6-.6-1.9-1.6v-4zM293.7 1020.8h3.6l1.7 1.5v4l-1.9 1.6-1.6.6-1.6-.6-1.9-1.6v-4zM313.1 1035.9h3.6l1.7 1.5v4l-1.9 1.6-1.6.6-1.6-.6-1.9-1.6v-4zM288.3 1025h3.6l1.7 1.5v4l-1.9 1.6-1.6.6-1.6-.6-1.9-1.6v-4zM267 1032.6h3.6l1.7 1.5v4l-1.9 1.6-1.6.6-1.6-.6-1.9-1.6v-4zM298.6 1031.3h3.6l1.7 1.5v4l-1.9 1.6-1.6.6-1.6-.6-1.9-1.6v-4zM325.1 1023.8h3.6l1.7 1.5v4l-1.9 1.6-1.6.6-1.6-.6-1.9-1.6v-4zM286.4 1041.6h3.6l1.7 1.5v4l-1.9 1.6-1.6.6-1.6-.6-1.9-1.6v-4zM316.3 1027.4h3.6l1.7 1.5v4l-1.9 1.6-1.6.6-1.6-.6-1.9-1.6v-4zM291.2 1044.5h3.6l1.7 1.5v4l-1.9 1.6-1.6.6-1.6-.6-1.9-1.6v-4zM281.5 1041.9h3.6l1.7 1.5v4l-1.9 1.6-1.6.6-1.6-.6-1.9-1.6v-4zM306.6 1028.7h3.6l1.7 1.5v4l-1.9 1.6-1.6.6-1.6-.6-1.9-1.6v-4zM328 1005.9h3.6l1.7 1.5v4l-1.9 1.6-1.6.6-1.6-.6-1.9-1.6v-4zM321.3 1010.6h3.6l1.7 1.5v4l-1.9 1.6-1.6.6-1.6-.6-1.9-1.6v-4zM300.7 1013.5h3.6l1.7 1.5v4l-1.9 1.6-1.6.6-1.6-.6-1.9-1.6v-4zM268.5 1026.8h3.6l1.7 1.5v4l-1.9 1.6-1.6.6-1.6-.6-1.9-1.6v-4zM314.9 1019.9h3.6l1.7 1.5v4l-1.9 1.6-1.6.6-1.6-.6-1.9-1.6v-4zM264 1032.6h3.6l1.7 1.5v4l-1.9 1.6-1.6.6-1.6-.6-1.9-1.6v-4zM303.7 1015.7h3.6l1.7 1.5v4l-1.9 1.6-1.6.6-1.6-.6-1.9-1.6v-4zM315.6 1025.3h3.6l1.7 1.5v4l-1.9 1.6-1.6.6-1.6-.6-1.9-1.6v-4zM285.9 1037.1h3.6l1.7 1.5v4l-1.9 1.6-1.6.6-1.6-.6-1.9-1.6v-4zM312.5 1028.2h3.6l1.7 1.5v4l-1.9 1.6-1.6.6-1.6-.6-1.9-1.6v-4zM313.3 1020.2h3.6l1.7 1.5v4l-1.9 1.6-1.6.6-1.6-.6-1.9-1.6v-4zM296.8 1023.2h3.6l1.7 1.5v4l-1.9 1.6-1.6.6-1.6-.6-1.9-1.6v-4zM269.9 1061.2h3.6l1.7 1.5v4l-1.9 1.6-1.6.6-1.6-.6-1.9-1.6v-4zM280.3 1017.5h3.6l1.7 1.5v4l-1.9 1.6-1.6.6-1.6-.6-1.9-1.6v-4zM283.6 1048.6h3.6l1.7 1.5v4l-1.9 1.6-1.6.6-1.6-.6-1.9-1.6v-4zM284.6 1038.8h3.6l1.7 1.5v4l-1.9 1.6-1.6.6-1.6-.6-1.9-1.6v-4zM297.3 1034.6h3.6l1.7 1.5v4l-1.9 1.6-1.6.6-1.6-.6-1.9-1.6v-4zM306.2 1032.2h3.6l1.7 1.5v4l-1.9 1.6-1.6.6-1.6-.6-1.9-1.6v-4zM306.4 1015.9h3.6l1.7 1.5v4l-1.9 1.6-1.6.6-1.6-.6-1.9-1.6v-4zM273.2 1047.4h3.6l1.7 1.5v4l-1.9 1.6-1.6.6-1.6-.6-1.9-1.6v-4zM303.5 1023h3.6l1.7 1.5v4l-1.9 1.6-1.6.6-1.6-.6-1.9-1.6v-4zM335.6 1002.1h3.6l1.7 1.5v4l-1.9 1.6-1.6.6-1.6-.6-1.9-1.6v-4zM287.3 1035.1h3.6l1.7 1.5v4l-1.9 1.6-1.6.6-1.6-.6-1.9-1.6v-4zM274.3 1013.4h3.6l1.7 1.5v4l-1.9 1.6-1.6.6-1.6-.6-1.9-1.6v-4zM280.7 1040.9h3.6l1.7 1.5v4l-1.9 1.6-1.6.6-1.6-.6-1.9-1.6v-4zM292 1036.1h3.6l1.7 1.5v4l-1.9 1.6-1.6.6-1.6-.6-1.9-1.6v-4zM283.6 1025.2h3.6l1.7 1.5v4l-1.9 1.6-1.6.6-1.6-.6-1.9-1.6v-4zM308 1021.1h3.6l1.7 1.5v4l-1.9 1.6-1.6.6-1.6-.6-1.9-1.6v-4zM309.6 1037h3.6l1.7 1.5v4l-1.9 1.6-1.6.6-1.6-.6-1.9-1.6v-4zM300.6 1027.2h3.6l1.7 1.5v4l-1.9 1.6-1.6.6-1.6-.6-1.9-1.6v-4zM317.2 1019.9h3.6l1.7 1.5v4l-1.9 1.6-1.6.6-1.6-.6-1.9-1.6v-4zM296 1002.9h3.6l1.7 1.5v4l-1.9 1.6-1.6.6-1.6-.6-1.9-1.6v-4zM269.9 1033h3.6l1.7 1.5v4l-1.9 1.6-1.6.6-1.6-.6-1.9-1.6v-4zM302.8 1036.1h3.6l1.7 1.5v4l-1.9 1.6-1.6.6-1.6-.6-1.9-1.6v-4zM277.8 1031.9h3.6l1.7 1.5v4l-1.9 1.6-1.6.6-1.6-.6-1.9-1.6v-4zM275 1039.9h3.6l1.7 1.5v4l-1.9 1.6-1.6.6-1.6-.6-1.9-1.6v-4zM299.9 1019.5h3.6l1.7 1.5v4l-1.9 1.6-1.6.6-1.6-.6-1.9-1.6v-4zM301.5 1022.8h3.6l1.7 1.5v4l-1.9 1.6-1.6.6-1.6-.6-1.9-1.6v-4zM278.9 1023.9h3.6l1.7 1.5v4l-1.9 1.6-1.6.6-1.6-.6-1.9-1.6v-4zM281.2 1051.8h3.6l1.7 1.5v4l-1.9 1.6-1.6.6-1.6-.6-1.9-1.6v-4zM300.6 1027.5h3.6l1.7 1.5v4l-1.9 1.6-1.6.6-1.6-.6-1.9-1.6v-4zM293.8 1026h3.6l1.7 1.5v4l-1.9 1.6-1.6.6-1.6-.6-1.9-1.6v-4zM263.5 1060.8h3.6l1.7 1.5v4l-1.9 1.6-1.6.6-1.6-.6-1.9-1.6v-4zM331.4 1013.2h3.6l1.7 1.5v4l-1.9 1.6-1.6.6-1.6-.6-1.9-1.6v-4zM273 1050.4h3.6l1.7 1.5v4l-1.9 1.6-1.6.6-1.6-.6-1.9-1.6v-4zM297.7 1028.2h3.6l1.7 1.5v4l-1.9 1.6-1.6.6-1.6-.6-1.9-1.6v-4zM304.8 1011h3.6l1.7 1.5v4l-1.9 1.6-1.6.6-1.6-.6-1.9-1.6v-4zM309.1 1020.3h3.6l1.7 1.5v4l-1.9 1.6-1.6.6-1.6-.6-1.9-1.6v-4zM272.2 1021.8h3.6l1.7 1.5v4l-1.9 1.6-1.6.6-1.6-.6-1.9-1.6v-4zM262.6 1039.7h3.6l1.7 1.5v4l-1.9 1.6-1.6.6-1.6-.6-1.9-1.6v-4zM292.3 1033.6h3.6l1.7 1.5v4l-1.9 1.6-1.6.6-1.6-.6-1.9-1.6v-4zM300.9 1059.2h3.6l1.7 1.5v4l-1.9 1.6-1.6.6-1.6-.6-1.9-1.6v-4zM257 1050.6h3.6l1.7 1.5v4l-1.9 1.6-1.6.6-1.6-.6-1.9-1.6v-4zM330.6 1014.3h3.6l1.7 1.5v4l-1.9 1.6-1.6.6-1.6-.6-1.9-1.6v-4zM277.1 1032.2h3.6l1.7 1.5v4l-1.9 1.6-1.6.6-1.6-.6-1.9-1.6v-4zM267.3 1026h3.6l1.7 1.5v4l-1.9 1.6-1.6.6-1.6-.6-1.9-1.6v-4zM290.4 1028.2h3.6l1.7 1.5v4l-1.9 1.6-1.6.6-1.6-.6-1.9-1.6v-4zM295.5 1030.4h3.6l1.7 1.5v4l-1.9 1.6-1.6.6-1.6-.6-1.9-1.6v-4zM291.3 1041.7h3.6l1.7 1.5v4l-1.9 1.6-1.6.6-1.6-.6-1.9-1.6v-4zM270.2 1050.4h3.6l1.7 1.5v4l-1.9 1.6-1.6.6-1.6-.6-1.9-1.6v-4zM292.5 1021.3h3.6l1.7 1.5v4l-1.9 1.6-1.6.6-1.6-.6-1.9-1.6v-4zM269.2 1056.2h3.6l1.7 1.5v4l-1.9 1.6-1.6.6-1.6-.6-1.9-1.6v-4zM289.5 1028.6h3.6l1.7 1.5v4l-1.9 1.6-1.6.6-1.6-.6-1.9-1.6v-4zM275.1 1053.5h3.6l1.7 1.5v4l-1.9 1.6-1.6.6-1.6-.6-1.9-1.6v-4zM279.5 1032.6h3.6l1.7 1.5v4l-1.9 1.6-1.6.6-1.6-.6-1.9-1.6v-4zM267.9 1046.1h3.6l1.7 1.5v4l-1.9 1.6-1.6.6-1.6-.6-1.9-1.6v-4zM297.3 1036.4h3.6l1.7 1.5v4l-1.9 1.6-1.6.6-1.6-.6-1.9-1.6v-4zM300.9 1018.6h3.6l1.7 1.5v4l-1.9 1.6-1.6.6-1.6-.6-1.9-1.6v-4zM244.8 1062h3.6l1.7 1.5v4l-1.9 1.6-1.6.6-1.6-.6-1.9-1.6v-4zM306 1023.8h3.6l1.7 1.5v4l-1.9 1.6-1.6.6-1.6-.6-1.9-1.6v-4zM302.3 1027.4h3.6l1.7 1.5v4l-1.9 1.6-1.6.6-1.6-.6-1.9-1.6v-4zM318.9 1019.8h3.6l1.7 1.5v4l-1.9 1.6-1.6.6-1.6-.6-1.9-1.6v-4zM295.7 1053h3.6l1.7 1.5v4l-1.9 1.6-1.6.6-1.6-.6-1.9-1.6v-4zM311.5 1012.5h3.6l1.7 1.5v4l-1.9 1.6-1.6.6-1.6-.6-1.9-1.6v-4zM313.1 1025.6h3.6l1.7 1.5v4l-1.9 1.6-1.6.6-1.6-.6-1.9-1.6v-4zM293.6 1038.3h3.6l1.7 1.5v4l-1.9 1.6-1.6.6-1.6-.6-1.9-1.6v-4zM276.9 1041.9h3.6l1.7 1.5v4l-1.9 1.6-1.6.6-1.6-.6-1.9-1.6v-4zM304.2 1019.7h3.6l1.7 1.5v4l-1.9 1.6-1.6.6-1.6-.6-1.9-1.6v-4zM296.5 1034.6h3.6l1.7 1.5v4l-1.9 1.6-1.6.6-1.6-.6-1.9-1.6v-4zM277.1 1037h3.6l1.7 1.5v4l-1.9 1.6-1.6.6-1.6-.6-1.9-1.6v-4zM304.7 1013.5h3.6l1.7 1.5v4l-1.9 1.6-1.6.6-1.6-.6-1.9-1.6v-4zM289.9 1024.3h3.6l1.7 1.5v4l-1.9 1.6-1.6.6-1.6-.6-1.9-1.6v-4zM266 1031.4h3.6l1.7 1.5v4l-1.9 1.6-1.6.6-1.6-.6-1.9-1.6v-4zM308.5 1028.8h3.6l1.7 1.5v4l-1.9 1.6-1.6.6-1.6-.6-1.9-1.6v-4zM286.1 1026.7h3.6l1.7 1.5v4l-1.9 1.6-1.6.6-1.6-.6-1.9-1.6v-4zM303.2 1025.1h3.6l1.7 1.5v4l-1.9 1.6-1.6.6-1.6-.6-1.9-1.6v-4zM311.5 1035.9h3.6l1.7 1.5v4l-1.9 1.6-1.6.6-1.6-.6-1.9-1.6v-4zM322.1 1019.7h3.6l1.7 1.5v4l-1.9 1.6-1.6.6-1.6-.6-1.9-1.6v-4zM275.5 1033.5h3.6l1.7 1.5v4l-1.9 1.6-1.6.6-1.6-.6-1.9-1.6v-4zM292.6 1034.2h3.6l1.7 1.5v4l-1.9 1.6-1.6.6-1.6-.6-1.9-1.6v-4zM295.3 1044.7h3.6l1.7 1.5v4l-1.9 1.6-1.6.6-1.6-.6-1.9-1.6v-4zM298.7 1035.3h3.6l1.7 1.5v4l-1.9 1.6-1.6.6-1.6-.6-1.9-1.6v-4zM253.9 1056.9h3.6l1.7 1.5v4l-1.9 1.6-1.6.6-1.6-.6-1.9-1.6v-4zM285 1038.5h3.6l1.7 1.5v4l-1.9 1.6-1.6.6-1.6-.6-1.9-1.6v-4zM290 1026.5h3.6l1.7 1.5v4l-1.9 1.6-1.6.6-1.6-.6-1.9-1.6v-4zM278.9 1035.8h3.6l1.7 1.5v4l-1.9 1.6-1.6.6-1.6-.6-1.9-1.6v-4zM310.3 1023.2h3.6l1.7 1.5v4l-1.9 1.6-1.6.6-1.6-.6-1.9-1.6v-4zM246.2 1043.2h3.6l1.7 1.5v4l-1.9 1.6-1.6.6-1.6-.6-1.9-1.6v-4zM258.8 1012.3h3.6l1.7 1.5v4l-1.9 1.6-1.6.6-1.6-.6-1.9-1.6v-4zM258.3 1050.2h3.6l1.7 1.5v4l-1.9 1.6-1.6.6-1.6-.6-1.9-1.6v-4zM277.9 1038.2h3.6l1.7 1.5v4l-1.9 1.6-1.6.6-1.6-.6-1.9-1.6v-4zM315.6 1019.6h3.6l1.7 1.5v4l-1.9 1.6-1.6.6-1.6-.6-1.9-1.6v-4zM305.7 1037.5h3.6l1.7 1.5v4l-1.9 1.6-1.6.6-1.6-.6-1.9-1.6v-4zM287.7 1026.2h3.6l1.7 1.5v4l-1.9 1.6-1.6.6-1.6-.6-1.9-1.6v-4zM271.8 1037.8h3.6l1.7 1.5v4l-1.9 1.6-1.6.6-1.6-.6-1.9-1.6v-4zM302.4 1042.7h3.6l1.7 1.5v4l-1.9 1.6-1.6.6-1.6-.6-1.9-1.6v-4zM267.1 1039.1h3.6l1.7 1.5v4l-1.9 1.6-1.6.6-1.6-.6-1.9-1.6v-4zM267 1034.6h3.6l1.7 1.5v4l-1.9 1.6-1.6.6-1.6-.6-1.9-1.6v-4zM295 1017.1h3.6l1.7 1.5v4l-1.9 1.6-1.6.6-1.6-.6-1.9-1.6v-4zM329.1 1014.2h3.6l1.7 1.5v4l-1.9 1.6-1.6.6-1.6-.6-1.9-1.6v-4zM282.4 1034.9h3.6l1.7 1.5v4l-1.9 1.6-1.6.6-1.6-.6-1.9-1.6v-4zM273.6 1036.7h3.6l1.7 1.5v4l-1.9 1.6-1.6.6-1.6-.6-1.9-1.6v-4zM303.2 1021h3.6l1.7 1.5v4l-1.9 1.6-1.6.6-1.6-.6-1.9-1.6v-4zM302.2 1030.1h3.6l1.7 1.5v4l-1.9 1.6-1.6.6-1.6-.6-1.9-1.6v-4zM297.8 1024.8h3.6l1.7 1.5v4l-1.9 1.6-1.6.6-1.6-.6-1.9-1.6v-4zM307.3 1019.6h3.6l1.7 1.5v4l-1.9 1.6-1.6.6-1.6-.6-1.9-1.6v-4zM262 1034.8h3.6l1.7 1.5v4l-1.9 1.6-1.6.6-1.6-.6-1.9-1.6v-4zM297.1 1024.9h3.6l1.7 1.5v4l-1.9 1.6-1.6.6-1.6-.6-1.9-1.6v-4zM281.3 1029.9h3.6l1.7 1.5v4l-1.9 1.6-1.6.6-1.6-.6-1.9-1.6v-4zM320.9 1016.5h3.6l1.7 1.5v4l-1.9 1.6-1.6.6-1.6-.6-1.9-1.6v-4zM290.8 1041h3.6l1.7 1.5v4l-1.9 1.6-1.6.6-1.6-.6-1.9-1.6v-4zM336 1013.1h3.6l1.7 1.5v4l-1.9 1.6-1.6.6-1.6-.6-1.9-1.6v-4zM291.7 1027.5h3.6l1.7 1.5v4l-1.9 1.6-1.6.6-1.6-.6-1.9-1.6v-4zM295.8 1044h3.6l1.7 1.5v4l-1.9 1.6-1.6.6-1.6-.6-1.9-1.6v-4zM297 1041.7h3.6l1.7 1.5v4l-1.9 1.6-1.6.6-1.6-.6-1.9-1.6v-4zM311.2 1025.2h3.6l1.7 1.5v4l-1.9 1.6-1.6.6-1.6-.6-1.9-1.6v-4zM257.8 1043.8h3.6l1.7 1.5v4l-1.9 1.6-1.6.6-1.6-.6-1.9-1.6v-4zM269.1 1056.7h3.6l1.7 1.5v4l-1.9 1.6-1.6.6-1.6-.6-1.9-1.6v-4zM291.3 1032.7h3.6l1.7 1.5v4l-1.9 1.6-1.6.6-1.6-.6-1.9-1.6v-4zM280.8 1035.8h3.6l1.7 1.5v4l-1.9 1.6-1.6.6-1.6-.6-1.9-1.6v-4zM323.3 1015.4h3.6l1.7 1.5v4l-1.9 1.6-1.6.6-1.6-.6-1.9-1.6v-4zM326.4 1007.2h3.6l1.7 1.5v4l-1.9 1.6-1.6.6-1.6-.6-1.9-1.6v-4zM361.7 966.4h3.6l1.7 1.5v4l-1.9 1.6-1.6.6-1.6-.6-1.9-1.6v-4zM285.6 1037.9h3.6l1.7 1.5v4l-1.9 1.6-1.6.6-1.6-.6-1.9-1.6v-4zM286.9 1009.3h3.6l1.7 1.5v4l-1.9 1.6-1.6.6-1.6-.6-1.9-1.6v-4zM284.8 1057.8h3.6l1.7 1.5v4l-1.9 1.6-1.6.6-1.6-.6-1.9-1.6v-4zM298.3 1020h3.6l1.7 1.5v4l-1.9 1.6-1.6.6-1.6-.6-1.9-1.6v-4zM348.5 1010.4h3.6l1.7 1.5v4l-1.9 1.6-1.6.6-1.6-.6-1.9-1.6v-4zM317.5 1022h3.6l1.7 1.5v4l-1.9 1.6-1.6.6-1.6-.6-1.9-1.6v-4zM388 970h3.6l1.7 1.5v4l-1.9 1.6-1.6.6-1.6-.6-1.9-1.6v-4zM281.7 980.4h3.6l1.7 1.5v4l-1.9 1.6-1.6.6-1.6-.6-1.9-1.6v-4zM270.3 986.2h3.6l1.7 1.5v4l-1.9 1.6-1.6.6-1.6-.6-1.9-1.6v-4zM338.9 1009.3h3.6l1.7 1.5v4l-1.9 1.6-1.6.6-1.6-.6-1.9-1.6v-4zM279.3 1044.7h3.6l1.7 1.5v4l-1.9 1.6-1.6.6-1.6-.6-1.9-1.6v-4zM298.1 1042.3h3.6l1.7 1.5v4l-1.9 1.6-1.6.6-1.6-.6-1.9-1.6v-4zM298.5 969.3h3.6l1.7 1.5v4l-1.9 1.6-1.6.6-1.6-.6-1.9-1.6v-4zM335.5 999.7h3.6l1.7 1.5v4l-1.9 1.6-1.6.6-1.6-.6-1.9-1.6v-4zM280.2 1019.8h3.6l1.7 1.5v4l-1.9 1.6-1.6.6-1.6-.6-1.9-1.6v-4zM286.4 1025h3.6l1.7 1.5v4l-1.9 1.6-1.6.6-1.6-.6-1.9-1.6v-4zM235.6 1049.4h3.6l1.7 1.5v4l-1.9 1.6-1.6.6-1.6-.6-1.9-1.6v-4zM294.4 1014.7h3.6l1.7 1.5v4l-1.9 1.6-1.6.6-1.6-.6-1.9-1.6v-4zM276.6 1043.1h3.6l1.7 1.5v4l-1.9 1.6-1.6.6-1.6-.6-1.9-1.6v-4zM307.4 1036.1h3.6l1.7 1.5v4l-1.9 1.6-1.6.6-1.6-.6-1.9-1.6v-4zM327.5 989.1h3.6l1.7 1.5v4l-1.9 1.6-1.6.6-1.6-.6-1.9-1.6v-4zM314.7 996.4h3.6l1.7 1.5v4l-1.9 1.6-1.6.6-1.6-.6-1.9-1.6v-4zM304.7 1018.6h3.6l1.7 1.5v4l-1.9 1.6-1.6.6-1.6-.6-1.9-1.6v-4zM288.8 1038.4h3.6l1.7 1.5v4l-1.9 1.6-1.6.6-1.6-.6-1.9-1.6v-4zM295 1059.8h3.6l1.7 1.5v4l-1.9 1.6-1.6.6-1.6-.6-1.9-1.6v-4zM234 1024.1h3.6l1.7 1.5v4l-1.9 1.6-1.6.6-1.6-.6-1.9-1.6v-4zM315.6 1018.1h3.6l1.7 1.5v4l-1.9 1.6-1.6.6-1.6-.6-1.9-1.6v-4zM289.1 1027.8h3.6l1.7 1.5v4l-1.9 1.6-1.6.6-1.6-.6-1.9-1.6v-4zM293.9 1044.6h3.6l1.7 1.5v4l-1.9 1.6-1.6.6-1.6-.6-1.9-1.6v-4zM300.4 1041.5h3.6l1.7 1.5v4l-1.9 1.6-1.6.6-1.6-.6-1.9-1.6v-4zM304.2 1037.6h3.6l1.7 1.5v4l-1.9 1.6-1.6.6-1.6-.6-1.9-1.6v-4zM285.3 1032.1h3.6l1.7 1.5v4l-1.9 1.6-1.6.6-1.6-.6-1.9-1.6v-4zM246 1018.3h3.6l1.7 1.5v4l-1.9 1.6-1.6.6-1.6-.6-1.9-1.6v-4zM326.5 1041.2h3.6l1.7 1.5v4l-1.9 1.6-1.6.6-1.6-.6-1.9-1.6v-4zM289.2 1008.6h3.6l1.7 1.5v4l-1.9 1.6-1.6.6-1.6-.6-1.9-1.6v-4zM286.6 1035.2h3.6l1.7 1.5v4l-1.9 1.6-1.6.6-1.6-.6-1.9-1.6v-4zM306.6 1005.1h3.6l1.7 1.5v4l-1.9 1.6-1.6.6-1.6-.6-1.9-1.6v-4zM261.4 1047.4h3.6l1.7 1.5v4l-1.9 1.6-1.6.6-1.6-.6-1.9-1.6v-4zM332 994.7h3.6l1.7 1.5v4l-1.9 1.6-1.6.6-1.6-.6-1.9-1.6v-4zM311.5 1054.8h3.6l1.7 1.5v4l-1.9 1.6-1.6.6-1.6-.6-1.9-1.6v-4zM242.4 1038.6h3.6l1.7 1.5v4l-1.9 1.6-1.6.6-1.6-.6-1.9-1.6v-4zM307.8 1005.2h3.6l1.7 1.5v4l-1.9 1.6-1.6.6-1.6-.6-1.9-1.6v-4zM245.2 1030.1h3.6l1.7 1.5v4l-1.9 1.6-1.6.6-1.6-.6-1.9-1.6v-4zM318.4 1016.9h3.6l1.7 1.5v4l-1.9 1.6-1.6.6-1.6-.6-1.9-1.6v-4zM318.4 1017h3.6l1.7 1.5v4l-1.9 1.6-1.6.6-1.6-.6-1.9-1.6v-4zM316 1020.9h3.6l1.7 1.5v4l-1.9 1.6-1.6.6-1.6-.6-1.9-1.6v-4zM287.9 977.9h3.6l1.7 1.5v4l-1.9 1.6-1.6.6-1.6-.6-1.9-1.6v-4zM322.7 975.7h3.6l1.7 1.5v4l-1.9 1.6-1.6.6-1.6-.6-1.9-1.6v-4zM306.5 1006.8h3.6l1.7 1.5v4l-1.9 1.6-1.6.6-1.6-.6-1.9-1.6v-4zM293.3 1029.3h3.6l1.7 1.5v4l-1.9 1.6-1.6.6-1.6-.6-1.9-1.6v-4zM312.9 1031.1h3.6l1.7 1.5v4l-1.9 1.6-1.6.6-1.6-.6-1.9-1.6v-4zM266.8 1060.7h3.6l1.7 1.5v4l-1.9 1.6-1.6.6-1.6-.6-1.9-1.6v-4zM284.6 1012h3.6l1.7 1.5v4l-1.9 1.6-1.6.6-1.6-.6-1.9-1.6v-4zM327.8 1016.8h3.6l1.7 1.5v4l-1.9 1.6-1.6.6-1.6-.6-1.9-1.6v-4zM316.2 1042h3.6l1.7 1.5v4l-1.9 1.6-1.6.6-1.6-.6-1.9-1.6v-4zM279.9 1058.7h3.6l1.7 1.5v4l-1.9 1.6-1.6.6-1.6-.6-1.9-1.6v-4zM288.2 1019.7h3.6l1.7 1.5v4l-1.9 1.6-1.6.6-1.6-.6-1.9-1.6v-4zM327.3 995.3h3.6l1.7 1.5v4l-1.9 1.6-1.6.6-1.6-.6-1.9-1.6v-4zM304.6 1026.5h3.6l1.7 1.5v4l-1.9 1.6-1.6.6-1.6-.6-1.9-1.6v-4zM283.2 1029.7h3.6l1.7 1.5v4l-1.9 1.6-1.6.6-1.6-.6-1.9-1.6v-4zM302.7 1006.8h3.6l1.7 1.5v4l-1.9 1.6-1.6.6-1.6-.6-1.9-1.6v-4zM321.2 1035.4h3.6l1.7 1.5v4l-1.9 1.6-1.6.6-1.6-.6-1.9-1.6v-4zM375.9 1018.5h3.6l1.7 1.5v4l-1.9 1.6-1.6.6-1.6-.6-1.9-1.6v-4zM311.8 1011.3h3.6l1.7 1.5v4l-1.9 1.6-1.6.6-1.6-.6-1.9-1.6v-4zM307.5 992.8h3.6l1.7 1.5v4l-1.9 1.6-1.6.6-1.6-.6-1.9-1.6v-4zM284.1 1006.8h3.6l1.7 1.5v4l-1.9 1.6-1.6.6-1.6-.6-1.9-1.6v-4zM261.1 1016.8h3.6l1.7 1.5v4l-1.9 1.6-1.6.6-1.6-.6-1.9-1.6v-4zM298.4 964.3h3.6l1.7 1.5v4l-1.9 1.6-1.6.6-1.6-.6-1.9-1.6v-4zM282.3 1027.3h3.6l1.7 1.5v4l-1.9 1.6-1.6.6-1.6-.6-1.9-1.6v-4zM303 984.8h3.6l1.7 1.5v4l-1.9 1.6-1.6.6-1.6-.6-1.9-1.6v-4zM316 987.8h3.6l1.7 1.5v4l-1.9 1.6-1.6.6-1.6-.6-1.9-1.6v-4zM318.1 1023.6h3.6l1.7 1.5v4l-1.9 1.6-1.6.6-1.6-.6-1.9-1.6v-4zM339.1 985.6h3.6l1.7 1.5v4l-1.9 1.6-1.6.6-1.6-.6-1.9-1.6v-4zM315.4 1031.3h3.6l1.7 1.5v4l-1.9 1.6-1.6.6-1.6-.6-1.9-1.6v-4zM316.1 1008.8h3.6l1.7 1.5v4l-1.9 1.6-1.6.6-1.6-.6-1.9-1.6v-4zM247 1022h3.6l1.7 1.5v4l-1.9 1.6-1.6.6-1.6-.6-1.9-1.6v-4zM300.4 1026.2h3.6l1.7 1.5v4l-1.9 1.6-1.6.6-1.6-.6-1.9-1.6v-4zM259.7 1058.3h3.6l1.7 1.5v4l-1.9 1.6-1.6.6-1.6-.6-1.9-1.6v-4zM339.2 988.2h3.6l1.7 1.5v4l-1.9 1.6-1.6.6-1.6-.6-1.9-1.6v-4zM324.9 1020.2h3.6l1.7 1.5v4l-1.9 1.6-1.6.6-1.6-.6-1.9-1.6v-4zM273.3 1030.9h3.6l1.7 1.5v4l-1.9 1.6-1.6.6-1.6-.6-1.9-1.6v-4zM317 1026h3.6l1.7 1.5v4l-1.9 1.6-1.6.6-1.6-.6-1.9-1.6v-4zM308.9 999.3h3.6l1.7 1.5v4l-1.9 1.6-1.6.6-1.6-.6-1.9-1.6v-4zM270.7 1060.1h3.6l1.7 1.5v4l-1.9 1.6-1.6.6-1.6-.6-1.9-1.6v-4zM309.9 1036.2h3.6l1.7 1.5v4l-1.9 1.6-1.6.6-1.6-.6-1.9-1.6v-4zM310.1 1044.7h3.6l1.7 1.5v4l-1.9 1.6-1.6.6-1.6-.6-1.9-1.6v-4zM357.5 1026.1h3.6l1.7 1.5v4l-1.9 1.6-1.6.6-1.6-.6-1.9-1.6v-4zM295.9 1013.1h3.6l1.7 1.5v4l-1.9 1.6-1.6.6-1.6-.6-1.9-1.6v-4zM297 1040.2h3.6l1.7 1.5v4l-1.9 1.6-1.6.6-1.6-.6-1.9-1.6v-4zM378.7 978.7h3.6l1.7 1.5v4l-1.9 1.6-1.6.6-1.6-.6-1.9-1.6v-4zM313.8 1047.6h3.6l1.7 1.5v4l-1.9 1.6-1.6.6-1.6-.6-1.9-1.6v-4zM302.6 994.8h3.6l1.7 1.5v4l-1.9 1.6-1.6.6-1.6-.6-1.9-1.6v-4zM303.3 990.6h3.6l1.7 1.5v4l-1.9 1.6-1.6.6-1.6-.6-1.9-1.6v-4zM299.9 1032h3.6l1.7 1.5v4l-1.9 1.6-1.6.6-1.6-.6-1.9-1.6v-4zM267.2 1050.9h3.6l1.7 1.5v4l-1.9 1.6-1.6.6-1.6-.6-1.9-1.6v-4zM280.6 1023.1h3.6l1.7 1.5v4l-1.9 1.6-1.6.6-1.6-.6-1.9-1.6v-4zM286.8 1036.3h3.6l1.7 1.5v4l-1.9 1.6-1.6.6-1.6-.6-1.9-1.6v-4zM347.2 1010h3.6l1.7 1.5v4l-1.9 1.6-1.6.6-1.6-.6-1.9-1.6v-4zM250.7 1043.2h3.6l1.7 1.5v4l-1.9 1.6-1.6.6-1.6-.6-1.9-1.6v-4zM250.8 1052.8h3.6l1.7 1.5v4l-1.9 1.6-1.6.6-1.6-.6-1.9-1.6v-4zM338.1 1001.3h3.6l1.7 1.5v4l-1.9 1.6-1.6.6-1.6-.6-1.9-1.6v-4zM262.5 1022.2h3.6l1.7 1.5v4l-1.9 1.6-1.6.6-1.6-.6-1.9-1.6v-4zM299.3 1022.9h3.6l1.7 1.5v4l-1.9 1.6-1.6.6-1.6-.6-1.9-1.6v-4zM345.4 1021.1h3.6l1.7 1.5v4l-1.9 1.6-1.6.6-1.6-.6-1.9-1.6v-4zM271.2 1021.5h3.6l1.7 1.5v4l-1.9 1.6-1.6.6-1.6-.6-1.9-1.6v-4zM292.3 1033.7h3.6l1.7 1.5v4l-1.9 1.6-1.6.6-1.6-.6-1.9-1.6v-4zM278.2 1001.7h3.6l1.7 1.5v4l-1.9 1.6-1.6.6-1.6-.6-1.9-1.6v-4zM318.7 1024.8h3.6l1.7 1.5v4l-1.9 1.6-1.6.6-1.6-.6-1.9-1.6v-4zM303.4 1039.3h3.6l1.7 1.5v4l-1.9 1.6-1.6.6-1.6-.6-1.9-1.6v-4zM239.5 1028.5h3.6l1.7 1.5v4l-1.9 1.6-1.6.6-1.6-.6-1.9-1.6v-4zM240.8 1027.5h3.6l1.7 1.5v4l-1.9 1.6-1.6.6-1.6-.6-1.9-1.6v-4zM288.7 1046.6h3.6l1.7 1.5v4l-1.9 1.6-1.6.6-1.6-.6-1.9-1.6v-4zM266.9 997.4h3.6l1.7 1.5v4l-1.9 1.6-1.6.6-1.6-.6-1.9-1.6v-4zM354.3 985.5h3.6l1.7 1.5v4l-1.9 1.6-1.6.6-1.6-.6-1.9-1.6v-4zM324.8 1040.1h3.6l1.7 1.5v4l-1.9 1.6-1.6.6-1.6-.6-1.9-1.6v-4zM323.2 1021.4h3.6l1.7 1.5v4l-1.9 1.6-1.6.6-1.6-.6-1.9-1.6v-4zM253.2 1050.7h3.6l1.7 1.5v4l-1.9 1.6-1.6.6-1.6-.6-1.9-1.6v-4zM312.4 1040.6h3.6l1.7 1.5v4l-1.9 1.6-1.6.6-1.6-.6-1.9-1.6v-4zM296.8 1033.5h3.6l1.7 1.5v4l-1.9 1.6-1.6.6-1.6-.6-1.9-1.6v-4zM357.2 976.2h3.6l1.7 1.5v4l-1.9 1.6-1.6.6-1.6-.6-1.9-1.6v-4zM306.8 1008.1h3.6l1.7 1.5v4l-1.9 1.6-1.6.6-1.6-.6-1.9-1.6v-4zM342.9 962.7h3.6l1.7 1.5v4l-1.9 1.6-1.6.6-1.6-.6-1.9-1.6v-4zM328.2 1019.6h3.6l1.7 1.5v4l-1.9 1.6-1.6.6-1.6-.6-1.9-1.6v-4zM295.5 1038.2h3.6l1.7 1.5v4l-1.9 1.6-1.6.6-1.6-.6-1.9-1.6v-4zM244.9 1028.6h3.6l1.7 1.5v4l-1.9 1.6-1.6.6-1.6-.6-1.9-1.6v-4zM253.2 1017.1h3.6l1.7 1.5v4l-1.9 1.6-1.6.6-1.6-.6-1.9-1.6v-4zM242.8 1054h3.6l1.7 1.5v4l-1.9 1.6-1.6.6-1.6-.6-1.9-1.6v-4zM328.9 1031.5h3.6l1.7 1.5v4l-1.9 1.6-1.6.6-1.6-.6-1.9-1.6v-4zM301.6 1043.2h3.6l1.7 1.5v4l-1.9 1.6-1.6.6-1.6-.6-1.9-1.6v-4zM291.3 1031.5h3.6l1.7 1.5v4l-1.9 1.6-1.6.6-1.6-.6-1.9-1.6v-4zM276 1029.5h3.6l1.7 1.5v4l-1.9 1.6-1.6.6-1.6-.6-1.9-1.6v-4zM255.6 1034.6h3.6l1.7 1.5v4l-1.9 1.6-1.6.6-1.6-.6-1.9-1.6v-4zM246.4 1034.8h3.6l1.7 1.5v4l-1.9 1.6-1.6.6-1.6-.6-1.9-1.6v-4zM340 999.2h3.6l1.7 1.5v4l-1.9 1.6-1.6.6-1.6-.6-1.9-1.6v-4zM327.7 995.7h3.6l1.7 1.5v4l-1.9 1.6-1.6.6-1.6-.6-1.9-1.6v-4zM329.1 1014.1h3.6l1.7 1.5v4l-1.9 1.6-1.6.6-1.6-.6-1.9-1.6v-4zM302.8 1053.3h3.6l1.7 1.5v4l-1.9 1.6-1.6.6-1.6-.6-1.9-1.6v-4zM328.3 1040.6h3.6l1.7 1.5v4l-1.9 1.6-1.6.6-1.6-.6-1.9-1.6v-4zM280.9 1058.6h3.6l1.7 1.5v4l-1.9 1.6-1.6.6-1.6-.6-1.9-1.6v-4zM348.6 987.7h3.6l1.7 1.5v4l-1.9 1.6-1.6.6-1.6-.6-1.9-1.6v-4zM285.7 999.9h3.6l1.7 1.5v4l-1.9 1.6-1.6.6-1.6-.6-1.9-1.6v-4zM263.2 1024.3h3.6l1.7 1.5v4l-1.9 1.6-1.6.6-1.6-.6-1.9-1.6v-4zM303.3 998.6h3.6l1.7 1.5v4l-1.9 1.6-1.6.6-1.6-.6-1.9-1.6v-4zM245.4 1064.2h3.6l1.7 1.5v4l-1.9 1.6-1.6.6-1.6-.6-1.9-1.6v-4zM302.1 1018.6h3.6l1.7 1.5v4l-1.9 1.6-1.6.6-1.6-.6-1.9-1.6v-4zM288.9 1044.1h3.6l1.7 1.5v4l-1.9 1.6-1.6.6-1.6-.6-1.9-1.6v-4zM299.8 1033.7h3.6l1.7 1.5v4l-1.9 1.6-1.6.6-1.6-.6-1.9-1.6v-4zM260.7 1040.4h3.6l1.7 1.5v4l-1.9 1.6-1.6.6-1.6-.6-1.9-1.6v-4zM275.3 1015.7h3.6l1.7 1.5v4l-1.9 1.6-1.6.6-1.6-.6-1.9-1.6v-4zM316.4 981.5h3.6l1.7 1.5v4l-1.9 1.6-1.6.6-1.6-.6-1.9-1.6v-4zM310.5 1016.7h3.6l1.7 1.5v4l-1.9 1.6-1.6.6-1.6-.6-1.9-1.6v-4zM256.1 1035.7h3.6l1.7 1.5v4l-1.9 1.6-1.6.6-1.6-.6-1.9-1.6v-4zM329.9 1001.4h3.6l1.7 1.5v4l-1.9 1.6-1.6.6-1.6-.6-1.9-1.6v-4zM320.3 993.2h3.6l1.7 1.5v4l-1.9 1.6-1.6.6-1.6-.6-1.9-1.6v-4zM339.7 979.8h3.6l1.7 1.5v4l-1.9 1.6-1.6.6-1.6-.6-1.9-1.6v-4zM280.3 1031.5h3.6l1.7 1.5v4l-1.9 1.6-1.6.6-1.6-.6-1.9-1.6v-4zM289.5 1056.4h3.6l1.7 1.5v4l-1.9 1.6-1.6.6-1.6-.6-1.9-1.6v-4zM290.4 1038.5h3.6l1.7 1.5v4l-1.9 1.6-1.6.6-1.6-.6-1.9-1.6v-4zM297 1048.5h3.6l1.7 1.5v4l-1.9 1.6-1.6.6-1.6-.6-1.9-1.6v-4zM248.3 1023.4h3.6l1.7 1.5v4l-1.9 1.6-1.6.6-1.6-.6-1.9-1.6v-4zM352.3 1010.4h3.6l1.7 1.5v4l-1.9 1.6-1.6.6-1.6-.6-1.9-1.6v-4zM342.1 1021.8h3.6l1.7 1.5v4l-1.9 1.6-1.6.6-1.6-.6-1.9-1.6v-4zM314.7 1051.4h3.6l1.7 1.5v4l-1.9 1.6-1.6.6-1.6-.6-1.9-1.6v-4zM283.4 1030h3.6l1.7 1.5v4l-1.9 1.6-1.6.6-1.6-.6-1.9-1.6v-4zM260.5 1036.3h3.6l1.7 1.5v4l-1.9 1.6-1.6.6-1.6-.6-1.9-1.6v-4zM283 982.6h3.6l1.7 1.5v4l-1.9 1.6-1.6.6-1.6-.6-1.9-1.6v-4zM345.7 1016.2h3.6l1.7 1.5v4l-1.9 1.6-1.6.6-1.6-.6-1.9-1.6v-4zM316 1026.1h3.6l1.7 1.5v4l-1.9 1.6-1.6.6-1.6-.6-1.9-1.6v-4zM300.6 1042.6h3.6l1.7 1.5v4l-1.9 1.6-1.6.6-1.6-.6-1.9-1.6v-4zM315.6 996.9h3.6l1.7 1.5v4l-1.9 1.6-1.6.6-1.6-.6-1.9-1.6v-4zM233.9 1028.1h3.6l1.7 1.5v4l-1.9 1.6-1.6.6-1.6-.6-1.9-1.6v-4zM339 1023.5h3.6l1.7 1.5v4l-1.9 1.6-1.6.6-1.6-.6-1.9-1.6v-4zM262.7 1008.8h3.6l1.7 1.5v4l-1.9 1.6-1.6.6-1.6-.6-1.9-1.6v-4zM336.7 1016.5h3.6l1.7 1.5v4l-1.9 1.6-1.6.6-1.6-.6-1.9-1.6v-4zM290.1 1016.8h3.6l1.7 1.5v4l-1.9 1.6-1.6.6-1.6-.6-1.9-1.6v-4zM369.6 1000.8h3.6l1.7 1.5v4l-1.9 1.6-1.6.6-1.6-.6-1.9-1.6v-4zM332.8 1030.5h3.6l1.7 1.5v4l-1.9 1.6-1.6.6-1.6-.6-1.9-1.6v-4zM280 1049.2h3.6l1.7 1.5v4l-1.9 1.6-1.6.6-1.6-.6-1.9-1.6v-4zM339.2 977h3.6l1.7 1.5v4l-1.9 1.6-1.6.6-1.6-.6-1.9-1.6v-4zM288 985h3.6l1.7 1.5v4l-1.9 1.6-1.6.6-1.6-.6-1.9-1.6v-4zM346.7 978.7h3.6l1.7 1.5v4l-1.9 1.6-1.6.6-1.6-.6-1.9-1.6v-4zM347.7 1017.6h3.6l1.7 1.5v4l-1.9 1.6-1.6.6-1.6-.6-1.9-1.6v-4zM344.2 1047.6h3.6l1.7 1.5v4l-1.9 1.6-1.6.6-1.6-.6-1.9-1.6v-4zM307.6 979.9h3.6l1.7 1.5v4l-1.9 1.6-1.6.6-1.6-.6-1.9-1.6v-4zM265.3 1028.3h3.6l1.7 1.5v4l-1.9 1.6-1.6.6-1.6-.6-1.9-1.6v-4zM318.5 1007.9h3.6l1.7 1.5v4l-1.9 1.6-1.6.6-1.6-.6-1.9-1.6v-4zM351.2 1019.7h3.6l1.7 1.5v4l-1.9 1.6-1.6.6-1.6-.6-1.9-1.6v-4zM291.6 1051.8h3.6l1.7 1.5v4l-1.9 1.6-1.6.6-1.6-.6-1.9-1.6v-4zM271.6 1016.9h3.6l1.7 1.5v4l-1.9 1.6-1.6.6-1.6-.6-1.9-1.6v-4zM337.7 1025.3h3.6l1.7 1.5v4l-1.9 1.6-1.6.6-1.6-.6-1.9-1.6v-4zM337 995.6h3.6l1.7 1.5v4l-1.9 1.6-1.6.6-1.6-.6-1.9-1.6v-4zM313.7 1027.5h3.6l1.7 1.5v4l-1.9 1.6-1.6.6-1.6-.6-1.9-1.6v-4zM358.7 994.6h3.6l1.7 1.5v4l-1.9 1.6-1.6.6-1.6-.6-1.9-1.6v-4zM281.4 1052.3h3.6l1.7 1.5v4l-1.9 1.6-1.6.6-1.6-.6-1.9-1.6v-4zM332.2 995.6h3.6l1.7 1.5v4l-1.9 1.6-1.6.6-1.6-.6-1.9-1.6v-4zM264.8 1021.2h3.6l1.7 1.5v4l-1.9 1.6-1.6.6-1.6-.6-1.9-1.6v-4zM323.2 1043.5h3.6l1.7 1.5v4l-1.9 1.6-1.6.6-1.6-.6-1.9-1.6v-4zM273.1 1027.3h3.6l1.7 1.5v4l-1.9 1.6-1.6.6-1.6-.6-1.9-1.6v-4zM346 1006.3h3.6l1.7 1.5v4l-1.9 1.6-1.6.6-1.6-.6-1.9-1.6v-4zM266.8 1012.4h3.6l1.7 1.5v4l-1.9 1.6-1.6.6-1.6-.6-1.9-1.6v-4zM307.9 1025h3.6l1.7 1.5v4l-1.9 1.6-1.6.6-1.6-.6-1.9-1.6v-4zM327.1 998.8h3.6l1.7 1.5v4l-1.9 1.6-1.6.6-1.6-.6-1.9-1.6v-4zM277 1035.5h3.6l1.7 1.5v4l-1.9 1.6-1.6.6-1.6-.6-1.9-1.6v-4zM249.1 1020.8h3.6l1.7 1.5v4l-1.9 1.6-1.6.6-1.6-.6-1.9-1.6v-4zM271.5 1048.4h3.6l1.7 1.5v4l-1.9 1.6-1.6.6-1.6-.6-1.9-1.6v-4zM318.9 1044.2h3.6l1.7 1.5v4l-1.9 1.6-1.6.6-1.6-.6-1.9-1.6v-4zM303.3 1020.6h3.6l1.7 1.5v4l-1.9 1.6-1.6.6-1.6-.6-1.9-1.6v-4zM272.9 1021.4h3.6l1.7 1.5v4l-1.9 1.6-1.6.6-1.6-.6-1.9-1.6v-4zM301.6 1038.2h3.6l1.7 1.5v4l-1.9 1.6-1.6.6-1.6-.6-1.9-1.6v-4zM296.7 1032.7h3.6l1.7 1.5v4l-1.9 1.6-1.6.6-1.6-.6-1.9-1.6v-4zM310.7 1023.9h3.6l1.7 1.5v4l-1.9 1.6-1.6.6-1.6-.6-1.9-1.6v-4zM327.2 1044.5h3.6l1.7 1.5v4l-1.9 1.6-1.6.6-1.6-.6-1.9-1.6v-4zM327.2 1008.6h3.6l1.7 1.5v4l-1.9 1.6-1.6.6-1.6-.6-1.9-1.6v-4zM249.4 1022.3h3.6l1.7 1.5v4l-1.9 1.6-1.6.6-1.6-.6-1.9-1.6v-4zM311.6 1018.5h3.6l1.7 1.5v4l-1.9 1.6-1.6.6-1.6-.6-1.9-1.6v-4zM275.5 1038.2h3.6l1.7 1.5v4l-1.9 1.6-1.6.6-1.6-.6-1.9-1.6v-4zM269.7 1052.8h3.6l1.7 1.5v4l-1.9 1.6-1.6.6-1.6-.6-1.9-1.6v-4zM307.2 1003.6h3.6l1.7 1.5v4l-1.9 1.6-1.6.6-1.6-.6-1.9-1.6v-4zM318.6 1001.1h3.6l1.7 1.5v4l-1.9 1.6-1.6.6-1.6-.6-1.9-1.6v-4zM262.6 995.5h3.6l1.7 1.5v4l-1.9 1.6-1.6.6-1.6-.6-1.9-1.6v-4zM374.8 1029.8h3.6l1.7 1.5v4l-1.9 1.6-1.6.6-1.6-.6-1.9-1.6v-4zM317.9 1016.3h3.6l1.7 1.5v4l-1.9 1.6-1.6.6-1.6-.6-1.9-1.6v-4zM262 1016.8h3.6l1.7 1.5v4l-1.9 1.6-1.6.6-1.6-.6-1.9-1.6v-4zM350.8 988.5h3.6l1.7 1.5v4l-1.9 1.6-1.6.6-1.6-.6-1.9-1.6v-4zM321.8 1039.8h3.6l1.7 1.5v4l-1.9 1.6-1.6.6-1.6-.6-1.9-1.6v-4zM371.3 989.2h3.6l1.7 1.5v4l-1.9 1.6-1.6.6-1.6-.6-1.9-1.6v-4zM295.9 1007.6h3.6l1.7 1.5v4l-1.9 1.6-1.6.6-1.6-.6-1.9-1.6v-4zM255.4 1048.5h3.6l1.7 1.5v4l-1.9 1.6-1.6.6-1.6-.6-1.9-1.6v-4zM329.4 1028h3.6l1.7 1.5v4l-1.9 1.6-1.6.6-1.6-.6-1.9-1.6v-4zM266.8 1041h3.6l1.7 1.5v4l-1.9 1.6-1.6.6-1.6-.6-1.9-1.6v-4zM306.4 1003.3h3.6l1.7 1.5v4l-1.9 1.6-1.6.6-1.6-.6-1.9-1.6v-4zM265.3 1018.7h3.6l1.7 1.5v4l-1.9 1.6-1.6.6-1.6-.6-1.9-1.6v-4zM295.2 990.3h3.6l1.7 1.5v4l-1.9 1.6-1.6.6-1.6-.6-1.9-1.6v-4zM267.4 1027.2h3.6l1.7 1.5v4l-1.9 1.6-1.6.6-1.6-.6-1.9-1.6v-4zM253.4 1054.8h3.6l1.7 1.5v4l-1.9 1.6-1.6.6-1.6-.6-1.9-1.6v-4zM298 1049.8h3.6l1.7 1.5v4l-1.9 1.6-1.6.6-1.6-.6-1.9-1.6v-4zM292.1 1043.1h3.6l1.7 1.5v4l-1.9 1.6-1.6.6-1.6-.6-1.9-1.6v-4zM309 1032.3h3.6l1.7 1.5v4l-1.9 1.6-1.6.6-1.6-.6-1.9-1.6v-4zM312.2 1022.2h3.6l1.7 1.5v4l-1.9 1.6-1.6.6-1.6-.6-1.9-1.6v-4zM356.9 993.6h3.6l1.7 1.5v4l-1.9 1.6-1.6.6-1.6-.6-1.9-1.6v-4zM316.6 1039.2h3.6l1.7 1.5v4l-1.9 1.6-1.6.6-1.6-.6-1.9-1.6v-4zM312.8 1008.6h3.6l1.7 1.5v4l-1.9 1.6-1.6.6-1.6-.6-1.9-1.6v-4zM309.9 1027.9h3.6l1.7 1.5v4l-1.9 1.6-1.6.6-1.6-.6-1.9-1.6v-4zM261.2 1041.9h3.6l1.7 1.5v4l-1.9 1.6-1.6.6-1.6-.6-1.9-1.6v-4zM348.3 1014.9h3.6l1.7 1.5v4l-1.9 1.6-1.6.6-1.6-.6-1.9-1.6v-4zM252.3 1022.4h3.6l1.7 1.5v4l-1.9 1.6-1.6.6-1.6-.6-1.9-1.6v-4zM294.3 1020.8h3.6l1.7 1.5v4l-1.9 1.6-1.6.6-1.6-.6-1.9-1.6v-4zM343.5 1016.5h3.6l1.7 1.5v4l-1.9 1.6-1.6.6-1.6-.6-1.9-1.6v-4zM306 1039.1h3.6l1.7 1.5v4l-1.9 1.6-1.6.6-1.6-.6-1.9-1.6v-4zM279 998.3h3.6l1.7 1.5v4l-1.9 1.6-1.6.6-1.6-.6-1.9-1.6v-4zM316.3 1024.4h3.6l1.7 1.5v4l-1.9 1.6-1.6.6-1.6-.6-1.9-1.6v-4zM339.6 1049.4h3.6l1.7 1.5v4l-1.9 1.6-1.6.6-1.6-.6-1.9-1.6v-4zM249.8 1029.3h3.6l1.7 1.5v4l-1.9 1.6-1.6.6-1.6-.6-1.9-1.6v-4zM350.5 1005.8h3.6l1.7 1.5v4l-1.9 1.6-1.6.6-1.6-.6-1.9-1.6v-4zM331.3 991.5h3.6l1.7 1.5v4l-1.9 1.6-1.6.6-1.6-.6-1.9-1.6v-4zM294.1 1004.9h3.6l1.7 1.5v4l-1.9 1.6-1.6.6-1.6-.6-1.9-1.6v-4zM303 1016.4h3.6l1.7 1.5v4l-1.9 1.6-1.6.6-1.6-.6-1.9-1.6v-4zM292.3 1034.4h3.6l1.7 1.5v4l-1.9 1.6-1.6.6-1.6-.6-1.9-1.6v-4zM314.6 1037h3.6l1.7 1.5v4l-1.9 1.6-1.6.6-1.6-.6-1.9-1.6v-4zM343.1 987.6h3.6l1.7 1.5v4l-1.9 1.6-1.6.6-1.6-.6-1.9-1.6v-4zM285.4 1046.9h3.6l1.7 1.5v4l-1.9 1.6-1.6.6-1.6-.6-1.9-1.6v-4zM314.3 1011.3h3.6l1.7 1.5v4l-1.9 1.6-1.6.6-1.6-.6-1.9-1.6v-4zM288.3 1032.2h3.6l1.7 1.5v4l-1.9 1.6-1.6.6-1.6-.6-1.9-1.6v-4zM269.1 1015.9h3.6l1.7 1.5v4l-1.9 1.6-1.6.6-1.6-.6-1.9-1.6v-4zM285.5 1023.8h3.6l1.7 1.5v4l-1.9 1.6-1.6.6-1.6-.6-1.9-1.6v-4zM287.4 1038h3.6l1.7 1.5v4l-1.9 1.6-1.6.6-1.6-.6-1.9-1.6v-4zM341.5 998.5h3.6l1.7 1.5v4l-1.9 1.6-1.6.6-1.6-.6-1.9-1.6v-4zM324.5 1019.6h3.6l1.7 1.5v4l-1.9 1.6-1.6.6-1.6-.6-1.9-1.6v-4zM269.3 1036.5h3.6l1.7 1.5v4l-1.9 1.6-1.6.6-1.6-.6-1.9-1.6v-4zM255.6 1049.4h3.6l1.7 1.5v4l-1.9 1.6-1.6.6-1.6-.6-1.9-1.6v-4zM283.7 1025.6h3.6l1.7 1.5v4l-1.9 1.6-1.6.6-1.6-.6-1.9-1.6v-4zM275.4 1020.3h3.6l1.7 1.5v4l-1.9 1.6-1.6.6-1.6-.6-1.9-1.6v-4zM316.4 1016.7h3.6l1.7 1.5v4l-1.9 1.6-1.6.6-1.6-.6-1.9-1.6v-4zM342.2 1008.7h3.6l1.7 1.5v4l-1.9 1.6-1.6.6-1.6-.6-1.9-1.6v-4zM325.9 987.2h3.6l1.7 1.5v4l-1.9 1.6-1.6.6-1.6-.6-1.9-1.6v-4zM291.6 1016h3.6l1.7 1.5v4l-1.9 1.6-1.6.6-1.6-.6-1.9-1.6v-4zM274.7 1013.8h3.6l1.7 1.5v4l-1.9 1.6-1.6.6-1.6-.6-1.9-1.6v-4zM331.7 1028.4h3.6l1.7 1.5v4l-1.9 1.6-1.6.6-1.6-.6-1.9-1.6v-4zM331.4 983.4h3.6l1.7 1.5v4l-1.9 1.6-1.6.6-1.6-.6-1.9-1.6v-4zM302.6 1020.7h3.6l1.7 1.5v4l-1.9 1.6-1.6.6-1.6-.6-1.9-1.6v-4zM324.7 1017.9h3.6l1.7 1.5v4l-1.9 1.6-1.6.6-1.6-.6-1.9-1.6v-4zM290.9 1030.5h3.6l1.7 1.5v4l-1.9 1.6-1.6.6-1.6-.6-1.9-1.6v-4zM266.9 1008.9h3.6l1.7 1.5v4l-1.9 1.6-1.6.6-1.6-.6-1.9-1.6v-4zM301.1 977.5h3.6l1.7 1.5v4l-1.9 1.6-1.6.6-1.6-.6-1.9-1.6v-4zM323.4 1025.9h3.6l1.7 1.5v4l-1.9 1.6-1.6.6-1.6-.6-1.9-1.6v-4zM336.4 1011.8h3.6l1.7 1.5v4l-1.9 1.6-1.6.6-1.6-.6-1.9-1.6v-4zM284.9 1009.6h3.6l1.7 1.5v4l-1.9 1.6-1.6.6-1.6-.6-1.9-1.6v-4zM254.4 1048h3.6l1.7 1.5v4l-1.9 1.6-1.6.6-1.6-.6-1.9-1.6v-4zM262 1028.8h3.6l1.7 1.5v4l-1.9 1.6-1.6.6-1.6-.6-1.9-1.6v-4zM331.2 1025.7h3.6l1.7 1.5v4l-1.9 1.6-1.6.6-1.6-.6-1.9-1.6v-4zM323.5 980h3.6l1.7 1.5v4l-1.9 1.6-1.6.6-1.6-.6-1.9-1.6v-4zM360.3 968.7h3.6l1.7 1.5v4l-1.9 1.6-1.6.6-1.6-.6-1.9-1.6v-4zM324.5 996.2h3.6l1.7 1.5v4l-1.9 1.6-1.6.6-1.6-.6-1.9-1.6v-4zM337.3 1007.4h3.6l1.7 1.5v4l-1.9 1.6-1.6.6-1.6-.6-1.9-1.6v-4zM291.6 1037.3h3.6l1.7 1.5v4l-1.9 1.6-1.6.6-1.6-.6-1.9-1.6v-4zM302.8 1055.4h3.6l1.7 1.5v4l-1.9 1.6-1.6.6-1.6-.6-1.9-1.6v-4zM304.8 1013.4h3.6l1.7 1.5v4l-1.9 1.6-1.6.6-1.6-.6-1.9-1.6v-4zM325.2 964.8h3.6l1.7 1.5v4l-1.9 1.6-1.6.6-1.6-.6-1.9-1.6v-4zM284.4 1024.4h3.6l1.7 1.5v4l-1.9 1.6-1.6.6-1.6-.6-1.9-1.6v-4zM269.8 1029.5h3.6l1.7 1.5v4l-1.9 1.6-1.6.6-1.6-.6-1.9-1.6v-4zM297.8 1021.5h3.6l1.7 1.5v4l-1.9 1.6-1.6.6-1.6-.6-1.9-1.6v-4zM337.8 1014.6h3.6l1.7 1.5v4l-1.9 1.6-1.6.6-1.6-.6-1.9-1.6v-4zM287.7 1063.3h3.6l1.7 1.5v4l-1.9 1.6-1.6.6-1.6-.6-1.9-1.6v-4zM320.7 1020.3h3.6l1.7 1.5v4l-1.9 1.6-1.6.6-1.6-.6-1.9-1.6v-4zM269.3 1004.5h3.6l1.7 1.5v4l-1.9 1.6-1.6.6-1.6-.6-1.9-1.6v-4zM356.6 991.8h3.6l1.7 1.5v4l-1.9 1.6-1.6.6-1.6-.6-1.9-1.6v-4zM312.1 1035.1h3.6l1.7 1.5v4l-1.9 1.6-1.6.6-1.6-.6-1.9-1.6v-4zM300.1 996.4h3.6l1.7 1.5v4l-1.9 1.6-1.6.6-1.6-.6-1.9-1.6v-4zM350.6 1007.2h3.6l1.7 1.5v4l-1.9 1.6-1.6.6-1.6-.6-1.9-1.6v-4zM251.2 1057.3h3.6l1.7 1.5v4l-1.9 1.6-1.6.6-1.6-.6-1.9-1.6v-4zM350.1 1009.6h3.6l1.7 1.5v4l-1.9 1.6-1.6.6-1.6-.6-1.9-1.6v-4zM342.9 993.7h3.6l1.7 1.5v4l-1.9 1.6-1.6.6-1.6-.6-1.9-1.6v-4zM282.8 1037.2h3.6l1.7 1.5v4l-1.9 1.6-1.6.6-1.6-.6-1.9-1.6v-4zM329.3 1029.7h3.6l1.7 1.5v4l-1.9 1.6-1.6.6-1.6-.6-1.9-1.6v-4zM260 1051.5h3.6l1.7 1.5v4l-1.9 1.6-1.6.6-1.6-.6-1.9-1.6v-4zM331.3 1023.1h3.6l1.7 1.5v4l-1.9 1.6-1.6.6-1.6-.6-1.9-1.6v-4zM311.8 1009.3h3.6l1.7 1.5v4l-1.9 1.6-1.6.6-1.6-.6-1.9-1.6v-4zM305 1042.7h3.6l1.7 1.5v4l-1.9 1.6-1.6.6-1.6-.6-1.9-1.6v-4zM335.2 997.4h3.6l1.7 1.5v4l-1.9 1.6-1.6.6-1.6-.6-1.9-1.6v-4zM255.9 1037.1h3.6l1.7 1.5v4l-1.9 1.6-1.6.6-1.6-.6-1.9-1.6v-4zM281.4 1061.1h3.6l1.7 1.5v4l-1.9 1.6-1.6.6-1.6-.6-1.9-1.6v-4zM355.8 1011.1h3.6l1.7 1.5v4l-1.9 1.6-1.6.6-1.6-.6-1.9-1.6v-4zM334.7 1014.4h3.6l1.7 1.5v4l-1.9 1.6-1.6.6-1.6-.6-1.9-1.6v-4zM312.8 1039.7h3.6l1.7 1.5v4l-1.9 1.6-1.6.6-1.6-.6-1.9-1.6v-4zM289.9 1028h3.6l1.7 1.5v4l-1.9 1.6-1.6.6-1.6-.6-1.9-1.6v-4zM287.8 1015.5h3.6l1.7 1.5v4l-1.9 1.6-1.6.6-1.6-.6-1.9-1.6v-4zM383.7 1024.9h3.6l1.7 1.5v4l-1.9 1.6-1.6.6-1.6-.6-1.9-1.6v-4zM341.5 996.7h3.6l1.7 1.5v4l-1.9 1.6-1.6.6-1.6-.6-1.9-1.6v-4zM303.8 1044.5h3.6l1.7 1.5v4l-1.9 1.6-1.6.6-1.6-.6-1.9-1.6v-4zM234.9 1044.9h3.6l1.7 1.5v4l-1.9 1.6-1.6.6-1.6-.6-1.9-1.6v-4zM303.9 1033.7h3.6l1.7 1.5v4l-1.9 1.6-1.6.6-1.6-.6-1.9-1.6v-4zM366 974.6h3.6l1.7 1.5v4l-1.9 1.6-1.6.6-1.6-.6-1.9-1.6v-4zM317 984h3.6l1.7 1.5v4l-1.9 1.6-1.6.6-1.6-.6-1.9-1.6v-4zM236.1 1047.4h3.6l1.7 1.5v4l-1.9 1.6-1.6.6-1.6-.6-1.9-1.6v-4zM357.1 971.3h3.6l1.7 1.5v4l-1.9 1.6-1.6.6-1.6-.6-1.9-1.6v-4zM325.4 1022.9h3.6l1.7 1.5v4l-1.9 1.6-1.6.6-1.6-.6-1.9-1.6v-4zM298 1054.7h3.6l1.7 1.5v4l-1.9 1.6-1.6.6-1.6-.6-1.9-1.6v-4zM372.1 1002.8h3.6l1.7 1.5v4l-1.9 1.6-1.6.6-1.6-.6-1.9-1.6v-4zM322 1003.2h3.6l1.7 1.5v4l-1.9 1.6-1.6.6-1.6-.6-1.9-1.6v-4zM277.7 1034h3.6l1.7 1.5v4l-1.9 1.6-1.6.6-1.6-.6-1.9-1.6v-4zM284.3 1030.3h3.6l1.7 1.5v4l-1.9 1.6-1.6.6-1.6-.6-1.9-1.6v-4zM291.6 998.8h3.6l1.7 1.5v4l-1.9 1.6-1.6.6-1.6-.6-1.9-1.6v-4zM316.6 1004.3h3.6l1.7 1.5v4l-1.9 1.6-1.6.6-1.6-.6-1.9-1.6v-4zM273.2 1049.3h3.6l1.7 1.5v4l-1.9 1.6-1.6.6-1.6-.6-1.9-1.6v-4zM322.1 1021.8h3.6l1.7 1.5v4l-1.9 1.6-1.6.6-1.6-.6-1.9-1.6v-4zM274.2 1064.1h3.6l1.7 1.5v4l-1.9 1.6-1.6.6-1.6-.6-1.9-1.6v-4zM276.1 1036.1h3.6l1.7 1.5v4l-1.9 1.6-1.6.6-1.6-.6-1.9-1.6v-4zM272.6 992.2h3.6l1.7 1.5v4l-1.9 1.6-1.6.6-1.6-.6-1.9-1.6v-4zM267.5 1041.8h3.6l1.7 1.5v4l-1.9 1.6-1.6.6-1.6-.6-1.9-1.6v-4zM294.8 1051.2h3.6l1.7 1.5v4l-1.9 1.6-1.6.6-1.6-.6-1.9-1.6v-4zM311.6 1024.4h3.6l1.7 1.5v4l-1.9 1.6-1.6.6-1.6-.6-1.9-1.6v-4zM292.1 1014.6h3.6l1.7 1.5v4l-1.9 1.6-1.6.6-1.6-.6-1.9-1.6v-4zM286.6 998.3h3.6l1.7 1.5v4l-1.9 1.6-1.6.6-1.6-.6-1.9-1.6v-4zM303.9 1000.9h3.6l1.7 1.5v4l-1.9 1.6-1.6.6-1.6-.6-1.9-1.6v-4zM314.3 1014h3.6l1.7 1.5v4l-1.9 1.6-1.6.6-1.6-.6-1.9-1.6v-4zM342.9 1019.7h3.6l1.7 1.5v4l-1.9 1.6-1.6.6-1.6-.6-1.9-1.6v-4zM302.9 1027.8h3.6l1.7 1.5v4l-1.9 1.6-1.6.6-1.6-.6-1.9-1.6v-4zM268.4 1045.7h3.6l1.7 1.5v4l-1.9 1.6-1.6.6-1.6-.6-1.9-1.6v-4zM329.7 971.1h3.6l1.7 1.5v4l-1.9 1.6-1.6.6-1.6-.6-1.9-1.6v-4zM323.6 1046h3.6l1.7 1.5v4l-1.9 1.6-1.6.6-1.6-.6-1.9-1.6v-4zM285.6 1012.1h3.6l1.7 1.5v4l-1.9 1.6-1.6.6-1.6-.6-1.9-1.6v-4zM364.1 1018h3.6l1.7 1.5v4l-1.9 1.6-1.6.6-1.6-.6-1.9-1.6v-4zM311.7 1041.6h3.6l1.7 1.5v4l-1.9 1.6-1.6.6-1.6-.6-1.9-1.6v-4zM244.2 1053.8h3.6l1.7 1.5v4l-1.9 1.6-1.6.6-1.6-.6-1.9-1.6v-4zM247.3 1024.8h3.6l1.7 1.5v4l-1.9 1.6-1.6.6-1.6-.6-1.9-1.6v-4zM355.4 994.6h3.6l1.7 1.5v4l-1.9 1.6-1.6.6-1.6-.6-1.9-1.6v-4zM273.9 1046h3.6l1.7 1.5v4l-1.9 1.6-1.6.6-1.6-.6-1.9-1.6v-4zM294.3 1029.1h3.6l1.7 1.5v4l-1.9 1.6-1.6.6-1.6-.6-1.9-1.6v-4zM278.6 1036.4h3.6l1.7 1.5v4l-1.9 1.6-1.6.6-1.6-.6-1.9-1.6v-4zM296.5 1025.5h3.6l1.7 1.5v4l-1.9 1.6-1.6.6-1.6-.6-1.9-1.6v-4zM328.8 967.6h3.6l1.7 1.5v4l-1.9 1.6-1.6.6-1.6-.6-1.9-1.6v-4zM274.2 1016.3h3.6l1.7 1.5v4l-1.9 1.6-1.6.6-1.6-.6-1.9-1.6v-4zM318.9 1026.9h3.6l1.7 1.5v4l-1.9 1.6-1.6.6-1.6-.6-1.9-1.6v-4zM292.9 1019.1h3.6l1.7 1.5v4l-1.9 1.6-1.6.6-1.6-.6-1.9-1.6v-4zM373.7 992.6h3.6l1.7 1.5v4l-1.9 1.6-1.6.6-1.6-.6-1.9-1.6v-4zM268.1 1028.8h3.6l1.7 1.5v4l-1.9 1.6-1.6.6-1.6-.6-1.9-1.6v-4zM242.6 1049.3h3.6l1.7 1.5v4l-1.9 1.6-1.6.6-1.6-.6-1.9-1.6v-4zM353.1 1043.6h3.6l1.7 1.5v4l-1.9 1.6-1.6.6-1.6-.6-1.9-1.6v-4zM301.5 1002.5h3.6l1.7 1.5v4l-1.9 1.6-1.6.6-1.6-.6-1.9-1.6v-4zM320 1002.9h3.6l1.7 1.5v4l-1.9 1.6-1.6.6-1.6-.6-1.9-1.6v-4zM327.5 1025h3.6l1.7 1.5v4l-1.9 1.6-1.6.6-1.6-.6-1.9-1.6v-4zM293.8 1031.2h3.6l1.7 1.5v4l-1.9 1.6-1.6.6-1.6-.6-1.9-1.6v-4zM345 967.2h3.6l1.7 1.5v4l-1.9 1.6-1.6.6-1.6-.6-1.9-1.6v-4zM332.2 1011.1h3.6l1.7 1.5v4l-1.9 1.6-1.6.6-1.6-.6-1.9-1.6v-4zM272.5 1015h3.6l1.7 1.5v4l-1.9 1.6-1.6.6-1.6-.6-1.9-1.6v-4zM252.7 1048.7h3.6l1.7 1.5v4l-1.9 1.6-1.6.6-1.6-.6-1.9-1.6v-4zM305.6 1005.4h3.6l1.7 1.5v4l-1.9 1.6-1.6.6-1.6-.6-1.9-1.6v-4zM272.9 980.9h3.6l1.7 1.5v4l-1.9 1.6-1.6.6-1.6-.6-1.9-1.6v-4zM335.6 1016.2h3.6l1.7 1.5v4l-1.9 1.6-1.6.6-1.6-.6-1.9-1.6v-4zM317.1 1030.8h3.6l1.7 1.5v4l-1.9 1.6-1.6.6-1.6-.6-1.9-1.6v-4zM256.7 1040.8h3.6l1.7 1.5v4l-1.9 1.6-1.6.6-1.6-.6-1.9-1.6v-4zM272.3 1010.6h3.6l1.7 1.5v4l-1.9 1.6-1.6.6-1.6-.6-1.9-1.6v-4zM376.4 1010.5h3.6l1.7 1.5v4l-1.9 1.6-1.6.6-1.6-.6-1.9-1.6v-4zM283 1054.2h3.6l1.7 1.5v4l-1.9 1.6-1.6.6-1.6-.6-1.9-1.6v-4zM331.5 1041.6h3.6l1.7 1.5v4l-1.9 1.6-1.6.6-1.6-.6-1.9-1.6v-4zM314 1050.5h3.6l1.7 1.5v4l-1.9 1.6-1.6.6-1.6-.6-1.9-1.6v-4zM312.8 989.2h3.6l1.7 1.5v4l-1.9 1.6-1.6.6-1.6-.6-1.9-1.6v-4zM311.1 1016.6h3.6l1.7 1.5v4l-1.9 1.6-1.6.6-1.6-.6-1.9-1.6v-4zM324.7 977.7h3.6l1.7 1.5v4l-1.9 1.6-1.6.6-1.6-.6-1.9-1.6v-4zM317.1 991h3.6l1.7 1.5v4l-1.9 1.6-1.6.6-1.6-.6-1.9-1.6v-4zM323.9 1030.7h3.6l1.7 1.5v4l-1.9 1.6-1.6.6-1.6-.6-1.9-1.6v-4zM280.7 998.9h3.6l1.7 1.5v4l-1.9 1.6-1.6.6-1.6-.6-1.9-1.6v-4zM309.9 1022h3.6l1.7 1.5v4l-1.9 1.6-1.6.6-1.6-.6-1.9-1.6v-4zM351.9 1029.9h3.6l1.7 1.5v4l-1.9 1.6-1.6.6-1.6-.6-1.9-1.6v-4zM317.9 1017.7h3.6l1.7 1.5v4l-1.9 1.6-1.6.6-1.6-.6-1.9-1.6v-4zM312.2 1022.2h3.6l1.7 1.5v4l-1.9 1.6-1.6.6-1.6-.6-1.9-1.6v-4zM356.8 1026.6h3.6l1.7 1.5v4l-1.9 1.6-1.6.6-1.6-.6-1.9-1.6v-4zM371.5 993h3.6l1.7 1.5v4l-1.9 1.6-1.6.6-1.6-.6-1.9-1.6v-4zM308.6 1039.4h3.6l1.7 1.5v4l-1.9 1.6-1.6.6-1.6-.6-1.9-1.6v-4zM347.7 1043.7h3.6l1.7 1.5v4l-1.9 1.6-1.6.6-1.6-.6-1.9-1.6v-4zM294.5 1039.5h3.6l1.7 1.5v4l-1.9 1.6-1.6.6-1.6-.6-1.9-1.6v-4zM328.6 1043.1h3.6l1.7 1.5v4l-1.9 1.6-1.6.6-1.6-.6-1.9-1.6v-4zM328.6 992.9h3.6l1.7 1.5v4l-1.9 1.6-1.6.6-1.6-.6-1.9-1.6v-4zM297.6 1019h3.6l1.7 1.5v4l-1.9 1.6-1.6.6-1.6-.6-1.9-1.6v-4zM309.8 1008.8h3.6l1.7 1.5v4l-1.9 1.6-1.6.6-1.6-.6-1.9-1.6v-4zM322.6 989.1h3.6l1.7 1.5v4l-1.9 1.6-1.6.6-1.6-.6-1.9-1.6v-4zM351.8 981h3.6l1.7 1.5v4l-1.9 1.6-1.6.6-1.6-.6-1.9-1.6v-4zM279.4 1049h3.6l1.7 1.5v4l-1.9 1.6-1.6.6-1.6-.6-1.9-1.6v-4zM296.6 1009.8h3.6l1.7 1.5v4l-1.9 1.6-1.6.6-1.6-.6-1.9-1.6v-4zM362 1022.9h3.6l1.7 1.5v4l-1.9 1.6-1.6.6-1.6-.6-1.9-1.6v-4zM322.3 1038.8h3.6l1.7 1.5v4l-1.9 1.6-1.6.6-1.6-.6-1.9-1.6v-4zM282.9 1010.6h3.6l1.7 1.5v4l-1.9 1.6-1.6.6-1.6-.6-1.9-1.6v-4zM286.8 1054.6h3.6l1.7 1.5v4l-1.9 1.6-1.6.6-1.6-.6-1.9-1.6v-4zM300.2 1020.4h3.6l1.7 1.5v4l-1.9 1.6-1.6.6-1.6-.6-1.9-1.6v-4zM312 1049.7h3.6l1.7 1.5v4l-1.9 1.6-1.6.6-1.6-.6-1.9-1.6v-4zM254.6 1020.2h3.6l1.7 1.5v4l-1.9 1.6-1.6.6-1.6-.6-1.9-1.6v-4zM288.2 1020.5h3.6l1.7 1.5v4l-1.9 1.6-1.6.6-1.6-.6-1.9-1.6v-4zM257.6 1041.2h3.6l1.7 1.5v4l-1.9 1.6-1.6.6-1.6-.6-1.9-1.6v-4zM280 1051.7h3.6l1.7 1.5v4l-1.9 1.6-1.6.6-1.6-.6-1.9-1.6v-4zM247.5 1031.3h3.6l1.7 1.5v4l-1.9 1.6-1.6.6-1.6-.6-1.9-1.6v-4zM301.3 1037.2h3.6l1.7 1.5v4l-1.9 1.6-1.6.6-1.6-.6-1.9-1.6v-4zM322.8 1002.6h3.6l1.7 1.5v4l-1.9 1.6-1.6.6-1.6-.6-1.9-1.6v-4zM271.1 1017.7h3.6l1.7 1.5v4l-1.9 1.6-1.6.6-1.6-.6-1.9-1.6v-4zM263.7 1036.5h3.6l1.7 1.5v4l-1.9 1.6-1.6.6-1.6-.6-1.9-1.6v-4zM307.1 1019.4h3.6l1.7 1.5v4l-1.9 1.6-1.6.6-1.6-.6-1.9-1.6v-4zM321.5 1026.3h3.6l1.7 1.5v4l-1.9 1.6-1.6.6-1.6-.6-1.9-1.6v-4zM247.9 1029.6h3.6l1.7 1.5v4l-1.9 1.6-1.6.6-1.6-.6-1.9-1.6v-4zM273.1 1030.8h3.6l1.7 1.5v4l-1.9 1.6-1.6.6-1.6-.6-1.9-1.6v-4zM362.9 971.5h3.6l1.7 1.5v4l-1.9 1.6-1.6.6-1.6-.6-1.9-1.6v-4zM385.7 978.8h3.6l1.7 1.5v4l-1.9 1.6-1.6.6-1.6-.6-1.9-1.6v-4zM341.9 981.8h3.6l1.7 1.5v4l-1.9 1.6-1.6.6-1.6-.6-1.9-1.6v-4zM325.9 1008.8h3.6l1.7 1.5v4l-1.9 1.6-1.6.6-1.6-.6-1.9-1.6v-4zM345.8 1039.1h3.6l1.7 1.5v4l-1.9 1.6-1.6.6-1.6-.6-1.9-1.6v-4zM346.8 997.3h3.6l1.7 1.5v4l-1.9 1.6-1.6.6-1.6-.6-1.9-1.6v-4zM251.5 1030.4h3.6l1.7 1.5v4l-1.9 1.6-1.6.6-1.6-.6-1.9-1.6v-4zM286.9 1004.7h3.6l1.7 1.5v4l-1.9 1.6-1.6.6-1.6-.6-1.9-1.6v-4zM319.6 1024.7h3.6l1.7 1.5v4l-1.9 1.6-1.6.6-1.6-.6-1.9-1.6v-4zM285.2 1031.3h3.6l1.7 1.5v4l-1.9 1.6-1.6.6-1.6-.6-1.9-1.6v-4zM349.9 1016.1h3.6l1.7 1.5v4l-1.9 1.6-1.6.6-1.6-.6-1.9-1.6v-4zM338.7 1001.4h3.6l1.7 1.5v4l-1.9 1.6-1.6.6-1.6-.6-1.9-1.6v-4zM315.3 990.3h3.6l1.7 1.5v4l-1.9 1.6-1.6.6-1.6-.6-1.9-1.6v-4zM256.3 1048.8h3.6l1.7 1.5v4l-1.9 1.6-1.6.6-1.6-.6-1.9-1.6v-4zM321.3 1014.9h3.6l1.7 1.5v4l-1.9 1.6-1.6.6-1.6-.6-1.9-1.6v-4zM274.5 1024.4h3.6l1.7 1.5v4l-1.9 1.6-1.6.6-1.6-.6-1.9-1.6v-4zM248.9 1020h3.6l1.7 1.5v4l-1.9 1.6-1.6.6-1.6-.6-1.9-1.6v-4zM288.7 1041.3h3.6l1.7 1.5v4l-1.9 1.6-1.6.6-1.6-.6-1.9-1.6v-4zM297.5 1027.2h3.6l1.7 1.5v4l-1.9 1.6-1.6.6-1.6-.6-1.9-1.6v-4zM287 1014.6h3.6l1.7 1.5v4l-1.9 1.6-1.6.6-1.6-.6-1.9-1.6v-4zM319.7 1028.7h3.6l1.7 1.5v4l-1.9 1.6-1.6.6-1.6-.6-1.9-1.6v-4zM327.5 998.8h3.6l1.7 1.5v4l-1.9 1.6-1.6.6-1.6-.6-1.9-1.6v-4zM320.8 1006h3.6l1.7 1.5v4l-1.9 1.6-1.6.6-1.6-.6-1.9-1.6v-4zM329.9 1028h3.6l1.7 1.5v4l-1.9 1.6-1.6.6-1.6-.6-1.9-1.6v-4zM312.4 996.5h3.6l1.7 1.5v4l-1.9 1.6-1.6.6-1.6-.6-1.9-1.6v-4zM301.7 1023.1h3.6l1.7 1.5v4l-1.9 1.6-1.6.6-1.6-.6-1.9-1.6v-4zM295.7 1030.8h3.6l1.7 1.5v4l-1.9 1.6-1.6.6-1.6-.6-1.9-1.6v-4zM299.3 1026.6h3.6l1.7 1.5v4l-1.9 1.6-1.6.6-1.6-.6-1.9-1.6v-4zM321.8 1038h3.6l1.7 1.5v4l-1.9 1.6-1.6.6-1.6-.6-1.9-1.6v-4zM278.1 1030.3h3.6l1.7 1.5v4l-1.9 1.6-1.6.6-1.6-.6-1.9-1.6v-4zM317.8 1036h3.6l1.7 1.5v4l-1.9 1.6-1.6.6-1.6-.6-1.9-1.6v-4zM312 1005.5h3.6l1.7 1.5v4l-1.9 1.6-1.6.6-1.6-.6-1.9-1.6v-4zM342.8 997.1h3.6l1.7 1.5v4l-1.9 1.6-1.6.6-1.6-.6-1.9-1.6v-4zM329.7 1033.5h3.6l1.7 1.5v4l-1.9 1.6-1.6.6-1.6-.6-1.9-1.6v-4zM233 1037.7h3.6l1.7 1.5v4l-1.9 1.6-1.6.6-1.6-.6-1.9-1.6v-4zM341.7 1002.5h3.6l1.7 1.5v4l-1.9 1.6-1.6.6-1.6-.6-1.9-1.6v-4zM325.8 1008.1h3.6l1.7 1.5v4l-1.9 1.6-1.6.6-1.6-.6-1.9-1.6v-4zM340.9 1037.4h3.6l1.7 1.5v4l-1.9 1.6-1.6.6-1.6-.6-1.9-1.6v-4zM285.3 1023.2h3.6l1.7 1.5v4l-1.9 1.6-1.6.6-1.6-.6-1.9-1.6v-4zM274.5 1030.3h3.6l1.7 1.5v4l-1.9 1.6-1.6.6-1.6-.6-1.9-1.6v-4zM475.8 853.9h3.6l1.7 1.5v4l-1.9 1.6-1.6.6-1.6-.6-1.9-1.6v-4zM406.7 878.1h3.6l1.7 1.5v4l-1.9 1.6-1.6.6-1.6-.6-1.9-1.6v-4zM497.7 891.5h3.6l1.7 1.5v4l-1.9 1.6-1.6.6-1.6-.6-1.9-1.6v-4zM485 901.9h3.6l1.7 1.5v4l-1.9 1.6-1.6.6-1.6-.6-1.9-1.6v-4zM441.2 898.1h3.6l1.7 1.5v4l-1.9 1.6-1.6.6-1.6-.6-1.9-1.6v-4zM422.8 914.2h3.6l1.7 1.5v4l-1.9 1.6-1.6.6-1.6-.6-1.9-1.6v-4zM384.8 920h3.6l1.7 1.5v4l-1.9 1.6-1.6.6-1.6-.6-1.9-1.6v-4zM531.9 915.3h3.6l1.7 1.5v4l-1.9 1.6-1.6.6-1.6-.6-1.9-1.6v-4zM530.7 924.2h3.6l1.7 1.5v4l-1.9 1.6-1.6.6-1.6-.6-1.9-1.6v-4zM387.8 928h3.6l1.7 1.5v4l-1.9 1.6-1.6.6-1.6-.6-1.9-1.6v-4zM512.3 930.7h3.6l1.7 1.5v4l-1.9 1.6-1.6.6-1.6-.6-1.9-1.6v-4zM540 931.5h3.6l1.7 1.5v4l-1.9 1.6-1.6.6-1.6-.6-1.9-1.6v-4zM337.9 931.9h3.6l1.7 1.5v4l-1.9 1.6-1.6.6-1.6-.6-1.9-1.6v-4zM347.5 934.5h3.6l1.7 1.5v4l-1.9 1.6-1.6.6-1.6-.6-1.9-1.6v-4zM614.5 933.4h3.6l1.7 1.5v4l-1.9 1.6-1.6.6-1.6-.6-1.9-1.6v-4zM474.3 938h3.6l1.7 1.5v4l-1.9 1.6-1.6.6-1.6-.6-1.9-1.6v-4zM503.9 939.2h3.6l1.7 1.5v4l-1.9 1.6-1.6.6-1.6-.6-1.9-1.6v-4zM448.1 938.4h3.6l1.7 1.5v4l-1.9 1.6-1.6.6-1.6-.6-1.9-1.6v-4zM402.8 941.1h3.6l1.7 1.5v4l-1.9 1.6-1.6.6-1.6-.6-1.9-1.6v-4zM362.1 941.5h3.6l1.7 1.5v4l-1.9 1.6-1.6.6-1.6-.6-1.9-1.6v-4zM286.8 946.1h3.6l1.7 1.5v4l-1.9 1.6-1.6.6-1.6-.6-1.9-1.6v-4zM398.6 946.5h3.6l1.7 1.5v4l-1.9 1.6-1.6.6-1.6-.6-1.9-1.6v-4zM420.5 953h3.6l1.7 1.5v4l-1.9 1.6-1.6.6-1.6-.6-1.9-1.6v-4zM483.9 954.1h3.6l1.7 1.5v4l-1.9 1.6-1.6.6-1.6-.6-1.9-1.6v-4zM516.5 960.7h3.6l1.7 1.5v4l-1.9 1.6-1.6.6-1.6-.6-1.9-1.6v-4zM482.7 963.4h3.6l1.7 1.5v4l-1.9 1.6-1.6.6-1.6-.6-1.9-1.6v-4zM429.3 966.4h3.6l1.7 1.5v4l-1.9 1.6-1.6.6-1.6-.6-1.9-1.6v-4zM451.2 968.4h3.6l1.7 1.5v4l-1.9 1.6-1.6.6-1.6-.6-1.9-1.6v-4zM518.5 971.8h3.6l1.7 1.5v4l-1.9 1.6-1.6.6-1.6-.6-1.9-1.6v-4zM497.3 975.7h3.6l1.7 1.5v4l-1.9 1.6-1.6.6-1.6-.6-1.9-1.6v-4zM477.7 979.1h3.6l1.7 1.5v4l-1.9 1.6-1.6.6-1.6-.6-1.9-1.6v-4zM426.2 981.4h3.6l1.7 1.5v4l-1.9 1.6-1.6.6-1.6-.6-1.9-1.6v-4zM432 986h3.6l1.7 1.5v4l-1.9 1.6-1.6.6-1.6-.6-1.9-1.6v-4zM444.7 985.6h3.6l1.7 1.5v4l-1.9 1.6-1.6.6-1.6-.6-1.9-1.6v-4zM398.6 986.8h3.6l1.7 1.5v4l-1.9 1.6-1.6.6-1.6-.6-1.9-1.6v-4zM415.9 996.4h3.6l1.7 1.5v4l-1.9 1.6-1.6.6-1.6-.6-1.9-1.6v-4zM443.2 1003.3h3.6l1.7 1.5v4l-1.9 1.6-1.6.6-1.6-.6-1.9-1.6v-4zM385.9 1008.7h3.6l1.7 1.5v4l-1.9 1.6-1.6.6-1.6-.6-1.9-1.6v-4zM409 1022.9h3.6l1.7 1.5v4l-1.9 1.6-1.6.6-1.6-.6-1.9-1.6v-4zM425.1 1019.1h3.6l1.7 1.5v4l-1.9 1.6-1.6.6-1.6-.6-1.9-1.6v-4zM470.8 1032.1h3.6l1.7 1.5v4l-1.9 1.6-1.6.6-1.6-.6-1.9-1.6v-4zM371.3 1047.1h3.6l1.7 1.5v4l-1.9 1.6-1.6.6-1.6-.6-1.9-1.6v-4zM221.5 1047.1h3.6l1.7 1.5v4l-1.9 1.6-1.6.6-1.6-.6-1.9-1.6v-4zM254.9 1123.6h3.6l1.7 1.5v4l-1.9 1.6-1.6.6-1.6-.6-1.9-1.6v-4zM349.8 1042.9h3.6l1.7 1.5v4l-1.9 1.6-1.6.6-1.6-.6-1.9-1.6v-4zM382.1 1028.7h3.6l1.7 1.5v4l-1.9 1.6-1.6.6-1.6-.6-1.9-1.6v-4zM368.6 1031.7h3.6l1.7 1.5v4l-1.9 1.6-1.6.6-1.6-.6-1.9-1.6v-4zM221.5 1047.2h3.6l1.7 1.5v4l-1.9 1.6-1.6.6-1.6-.6-1.9-1.6v-4zM234 1040.9h3.6l1.7 1.5v4l-1.9 1.6-1.6.6-1.6-.6-1.9-1.6v-4zM234.8 1026.7h3.6l1.7 1.5v4l-1.9 1.6-1.6.6-1.6-.6-1.9-1.6v-4zM242.9 1024.4h3.6l1.7 1.5v4l-1.9 1.6-1.6.6-1.6-.6-1.9-1.6v-4zM370.7 1047.5h3.6l1.7 1.5v4l-1.9 1.6-1.6.6-1.6-.6-1.9-1.6v-4zM409 1023.3h3.6l1.7 1.5v4l-1.9 1.6-1.6.6-1.6-.6-1.9-1.6v-4zM425.4 1018.9h3.6l1.7 1.5v4l-1.9 1.6-1.6.6-1.6-.6-1.9-1.6v-4zM415.7 996.4h3.6l1.7 1.5v4l-1.9 1.6-1.6.6-1.6-.6-1.9-1.6v-4zM443.8 1003.7h3.6l1.7 1.5v4l-1.9 1.6-1.6.6-1.6-.6-1.9-1.6v-4zM398.5 987h3.6l1.7 1.5v4l-1.9 1.6-1.6.6-1.6-.6-1.9-1.6v-4zM426.2 981.4h3.6l1.7 1.5v4l-1.9 1.6-1.6.6-1.6-.6-1.9-1.6v-4zM432.7 986.1h3.6l1.7 1.5v4l-1.9 1.6-1.6.6-1.6-.6-1.9-1.6v-4zM444.9 985h3.6l1.7 1.5v4l-1.9 1.6-1.6.6-1.6-.6-1.9-1.6v-4zM419.9 952.9h3.6l1.7 1.5v4l-1.9 1.6-1.6.6-1.6-.6-1.9-1.6v-4zM429.8 966.7h3.6l1.7 1.5v4l-1.9 1.6-1.6.6-1.6-.6-1.9-1.6v-4zM434 961.5h3.6l1.7 1.5v4l-1.9 1.6-1.6.6-1.6-.6-1.9-1.6v-4zM345.7 951.7h3.6l1.7 1.5v4l-1.9 1.6-1.6.6-1.6-.6-1.9-1.6v-4z"/>
<g class="r"><circle cx="480.7" cy="791.5" r="6"/><circle cx="545.2" cy="819.5" r="6"/><circle cx="388.5" cy="866" r="6"/><circle cx="447.3" cy="887.1" r="6"/><circle cx="410.8" cy="895.2" r="6"/><circle cx="474.5" cy="895.6" r="6"/><circle cx="468.4" cy="891" r="6"/><circle cx="403.1" cy="903.3" r="6"/><circle cx="435" cy="905.2" r="6"/><circle cx="582.9" cy="905.6" r="6"/><circle cx="460.7" cy="912.1" r="6"/><circle cx="467.6" cy="920.6" r="6"/><circle cx="499.9" cy="924" r="6"/><circle cx="486.4" cy="929" r="6"/><circle cx="433.8" cy="932.1" r="6"/><circle cx="437.7" cy="935.9" r="6"/><circle cx="430" cy="941.7" r="6"/><circle cx="449.9" cy="949.4" r="6"/><circle cx="436.9" cy="952.4" r="6"/><circle cx="357" cy="953.6" r="6"/><circle cx="408.5" cy="956.3" r="6"/><circle cx="473" cy="956.3" r="6"/><circle cx="369.7" cy="957.8" r="6"/><circle cx="400" cy="962.8" r="6"/><circle cx="404.6" cy="969.4" r="6"/><circle cx="367.4" cy="970.5" r="6"/><circle cx="467.6" cy="969.7" r="6"/><circle cx="415.4" cy="977" r="6"/><circle cx="385" cy="979" r="6"/><circle cx="392.7" cy="981.3" r="6"/><circle cx="287.1" cy="990.1" r="6"/><circle cx="293.6" cy="991.2" r="6"/><circle cx="383.9" cy="990.9" r="6"/><circle cx="354.3" cy="997.8" r="6"/><circle cx="523.3" cy="1005.5" r="6"/><circle cx="307" cy="1013.5" r="6"/><circle cx="302" cy="1010.1" r="6"/><circle cx="326.2" cy="1008.5" r="6"/><circle cx="374.3" cy="1017.4" r="6"/><circle cx="350.4" cy="1023.1" r="6"/><circle cx="524.1" cy="1024.7" r="6"/><circle cx="278.2" cy="1033.1" r="6"/><circle cx="273.2" cy="1025.4" r="6"/><circle cx="318.2" cy="1028.9" r="6"/></g>
<g class="b"><circle cx="256.9" cy="1059.4" r="6"/><circle cx="269.4" cy="1059.4" r="6"/><circle cx="261.6" cy="1062.5" r="6"/><circle cx="258.4" cy="1071.9" r="6"/><circle cx="267.8" cy="1075" r="6"/><circle cx="249.1" cy="1057.8" r="6"/><circle cx="265.5" cy="1044.5" r="6"/><circle cx="255.3" cy="1048.4" r="6"/><circle cx="277.2" cy="1049.2" r="6"/><circle cx="265.5" cy="1052.3" r="6"/><circle cx="279.5" cy="1057.8" r="6"/><circle cx="245.9" cy="1053.9" r="6"/><circle cx="244.4" cy="1061.7" r="6"/><circle cx="296.7" cy="1060.2" r="6"/><circle cx="303.8" cy="1062.8" r="6"/><circle cx="263.1" cy="1070.3" r="6"/><circle cx="272.5" cy="1068" r="6"/><circle cx="252.5" cy="1067.5" r="6"/><circle cx="251.4" cy="1076.6" r="6"/><circle cx="275.6" cy="1078.1" r="6"/><circle cx="285.8" cy="1078.9" r="6"/><circle cx="297.5" cy="1077.3" r="6"/><circle cx="260" cy="1079.7" r="6"/><circle cx="264.7" cy="1087.2" r="6"/><circle cx="272.8" cy="1093.8" r="6"/><circle cx="279.8" cy="1102" r="6"/><circle cx="309.2" cy="1038.8" r="6"/></g>
<path class="ax" d="M256.5 1165.9V1143.9M256.5 674.2V696.2M433.3 1165.9V1143.9M433.3 674.2V696.2M610.1 1165.9V1143.9M610.1 674.2V696.2M138.6 1079.1H160.6M728 1079.1H706M138.6 963.4H160.6M728 963.4H706M138.6 847.7H160.6M728 847.7H706M138.6 732H160.6M728 732H706"/>
<rect class="ax" x="138.6" y="674.2" width="589.4" height="491.7"/>
<text class="t" text-anchor="end" x="123" y="1095.1">0</text>
<text class="t" text-anchor="end" x="123" y="979.4">4</text>
<text class="t" text-anchor="end" x="123" y="863.7">8</text>
<text class="t" text-anchor="end" x="123" y="748">12</text>
<text class="t" text-anchor="middle" x="256.5" y="1206.8">0.00</text>
<text class="t" text-anchor="middle" x="433.3" y="1206.8">0.75</text>
<text class="t" text-anchor="middle" x="610.1" y="1206.8">1.50</text>
<text class="t" x="187.3" y="756.2">(c)</text>
<text class="c" x="444.1" y="754.9" xml:space="preserve">CORR= 0.76</text>
<text class="t" transform="translate(32 1042.8) rotate(-90)" xml:space="preserve">Δz<tspan class="s" dy="12">500 hPa</tspan><tspan dy="-12"> [m]</tspan></text>
</g>
<g id="panel-d">
<path class="k" d="M1166.7 1038h3.6l1.7 1.5v4l-1.9 1.6-1.6.6-1.6-.6-1.9-1.6v-4zM1177.1 995h3.6l1.7 1.5v4l-1.9 1.6-1.6.6-1.6-.6-1.9-1.6v-4zM1114.6 1055.8h3.6l1.7 1.5v4l-1.9 1.6-1.6.6-1.6-.6-1.9-1.6v-4zM1103.3 1033.8h3.6l1.7 1.5v4l-1.9 1.6-1.6.6-1.6-.6-1.9-1.6v-4zM1177.6 1035.3h3.6l1.7 1.5v4l-1.9 1.6-1.6.6-1.6-.6-1.9-1.6v-4zM1224.8 1022.8h3.6l1.7 1.5v4l-1.9 1.6-1.6.6-1.6-.6-1.9-1.6v-4zM1146.7 1073.8h3.6l1.7 1.5v4l-1.9 1.6-1.6.6-1.6-.6-1.9-1.6v-4zM1212.1 1004.6h3.6l1.7 1.5v4l-1.9 1.6-1.6.6-1.6-.6-1.9-1.6v-4zM1226.2 1042.6h3.6l1.7 1.5v4l-1.9 1.6-1.6.6-1.6-.6-1.9-1.6v-4zM1178.7 1046.6h3.6l1.7 1.5v4l-1.9 1.6-1.6.6-1.6-.6-1.9-1.6v-4zM1293.6 1009.3h3.6l1.7 1.5v4l-1.9 1.6-1.6.6-1.6-.6-1.9-1.6v-4zM1252.7 1017.4h3.6l1.7 1.5v4l-1.9 1.6-1.6.6-1.6-.6-1.9-1.6v-4zM1274.2 1000.9h3.6l1.7 1.5v4l-1.9 1.6-1.6.6-1.6-.6-1.9-1.6v-4zM1261.5 1055.4h3.6l1.7 1.5v4l-1.9 1.6-1.6.6-1.6-.6-1.9-1.6v-4zM1271 1045h3.6l1.7 1.5v4l-1.9 1.6-1.6.6-1.6-.6-1.9-1.6v-4zM1200.1 1030.9h3.6l1.7 1.5v4l-1.9 1.6-1.6.6-1.6-.6-1.9-1.6v-4zM1111.7 1025.1h3.6l1.7 1.5v4l-1.9 1.6-1.6.6-1.6-.6-1.9-1.6v-4zM1230.6 1010.4h3.6l1.7 1.5v4l-1.9 1.6-1.6.6-1.6-.6-1.9-1.6v-4zM1214.2 1070.2h3.6l1.7 1.5v4l-1.9 1.6-1.6.6-1.6-.6-1.9-1.6v-4zM1156.4 1013.2h3.6l1.7 1.5v4l-1.9 1.6-1.6.6-1.6-.6-1.9-1.6v-4zM1283.2 1048.9h3.6l1.7 1.5v4l-1.9 1.6-1.6.6-1.6-.6-1.9-1.6v-4zM1288.3 1011.5h3.6l1.7 1.5v4l-1.9 1.6-1.6.6-1.6-.6-1.9-1.6v-4zM1187 997.7h3.6l1.7 1.5v4l-1.9 1.6-1.6.6-1.6-.6-1.9-1.6v-4zM1103 1040.2h3.6l1.7 1.5v4l-1.9 1.6-1.6.6-1.6-.6-1.9-1.6v-4zM1155.5 1023.1h3.6l1.7 1.5v4l-1.9 1.6-1.6.6-1.6-.6-1.9-1.6v-4zM1159.6 1060.9h3.6l1.7 1.5v4l-1.9 1.6-1.6.6-1.6-.6-1.9-1.6v-4zM1134.8 1069.1h3.6l1.7 1.5v4l-1.9 1.6-1.6.6-1.6-.6-1.9-1.6v-4zM1210.9 998.1h3.6l1.7 1.5v4l-1.9 1.6-1.6.6-1.6-.6-1.9-1.6v-4zM1286.4 992.7h3.6l1.7 1.5v4l-1.9 1.6-1.6.6-1.6-.6-1.9-1.6v-4zM1203.7 1064.3h3.6l1.7 1.5v4l-1.9 1.6-1.6.6-1.6-.6-1.9-1.6v-4zM1295.8 994.8h3.6l1.7 1.5v4l-1.9 1.6-1.6.6-1.6-.6-1.9-1.6v-4zM1215.6 990.3h3.6l1.7 1.5v4l-1.9 1.6-1.6.6-1.6-.6-1.9-1.6v-4zM1124 1040.5h3.6l1.7 1.5v4l-1.9 1.6-1.6.6-1.6-.6-1.9-1.6v-4zM1257.7 1048.4h3.6l1.7 1.5v4l-1.9 1.6-1.6.6-1.6-.6-1.9-1.6v-4zM1266.2 993.1h3.6l1.7 1.5v4l-1.9 1.6-1.6.6-1.6-.6-1.9-1.6v-4zM1206.2 1012.2h3.6l1.7 1.5v4l-1.9 1.6-1.6.6-1.6-.6-1.9-1.6v-4zM1275.6 1045.1h3.6l1.7 1.5v4l-1.9 1.6-1.6.6-1.6-.6-1.9-1.6v-4zM1186.8 1026.3h3.6l1.7 1.5v4l-1.9 1.6-1.6.6-1.6-.6-1.9-1.6v-4zM1186.7 1049h3.6l1.7 1.5v4l-1.9 1.6-1.6.6-1.6-.6-1.9-1.6v-4zM1152.5 1007.6h3.6l1.7 1.5v4l-1.9 1.6-1.6.6-1.6-.6-1.9-1.6v-4zM1113.9 1024.7h3.6l1.7 1.5v4l-1.9 1.6-1.6.6-1.6-.6-1.9-1.6v-4zM1268.8 1022.3h3.6l1.7 1.5v4l-1.9 1.6-1.6.6-1.6-.6-1.9-1.6v-4zM1217.5 1039.6h3.6l1.7 1.5v4l-1.9 1.6-1.6.6-1.6-.6-1.9-1.6v-4zM1189.8 999.9h3.6l1.7 1.5v4l-1.9 1.6-1.6.6-1.6-.6-1.9-1.6v-4zM1167.4 1045.6h3.6l1.7 1.5v4l-1.9 1.6-1.6.6-1.6-.6-1.9-1.6v-4zM1112.9 1066.1h3.6l1.7 1.5v4l-1.9 1.6-1.6.6-1.6-.6-1.9-1.6v-4zM1133.4 1012.8h3.6l1.7 1.5v4l-1.9 1.6-1.6.6-1.6-.6-1.9-1.6v-4zM1112.7 1045.9h3.6l1.7 1.5v4l-1.9 1.6-1.6.6-1.6-.6-1.9-1.6v-4zM1179.7 1001.5h3.6l1.7 1.5v4l-1.9 1.6-1.6.6-1.6-.6-1.9-1.6v-4zM1218 1011.6h3.6l1.7 1.5v4l-1.9 1.6-1.6.6-1.6-.6-1.9-1.6v-4zM1309.8 1027.3h3.6l1.7 1.5v4l-1.9 1.6-1.6.6-1.6-.6-1.9-1.6v-4zM1205.6 1046.8h3.6l1.7 1.5v4l-1.9 1.6-1.6.6-1.6-.6-1.9-1.6v-4zM1225.3 1035.3h3.6l1.7 1.5v4l-1.9 1.6-1.6.6-1.6-.6-1.9-1.6v-4zM1271.1 1044.6h3.6l1.7 1.5v4l-1.9 1.6-1.6.6-1.6-.6-1.9-1.6v-4zM1229.6 1022.2h3.6l1.7 1.5v4l-1.9 1.6-1.6.6-1.6-.6-1.9-1.6v-4zM1136.6 1030.8h3.6l1.7 1.5v4l-1.9 1.6-1.6.6-1.6-.6-1.9-1.6v-4zM1162.1 1059h3.6l1.7 1.5v4l-1.9 1.6-1.6.6-1.6-.6-1.9-1.6v-4zM1231.3 1052.5h3.6l1.7 1.5v4l-1.9 1.6-1.6.6-1.6-.6-1.9-1.6v-4zM1204.5 1061.9h3.6l1.7 1.5v4l-1.9 1.6-1.6.6-1.6-.6-1.9-1.6v-4zM1215.5 1042.1h3.6l1.7 1.5v4l-1.9 1.6-1.6.6-1.6-.6-1.9-1.6v-4zM1270.3 1008.6h3.6l1.7 1.5v4l-1.9 1.6-1.6.6-1.6-.6-1.9-1.6v-4zM1293 1013.2h3.6l1.7 1.5v4l-1.9 1.6-1.6.6-1.6-.6-1.9-1.6v-4zM1200.5 1056.2h3.6l1.7 1.5v4l-1.9 1.6-1.6.6-1.6-.6-1.9-1.6v-4zM1240.8 1058.7h3.6l1.7 1.5v4l-1.9 1.6-1.6.6-1.6-.6-1.9-1.6v-4zM1114.1 1069.1h3.6l1.7 1.5v4l-1.9 1.6-1.6.6-1.6-.6-1.9-1.6v-4zM1197.6 1051.2h3.6l1.7 1.5v4l-1.9 1.6-1.6.6-1.6-.6-1.9-1.6v-4zM1261.1 1012.5h3.6l1.7 1.5v4l-1.9 1.6-1.6.6-1.6-.6-1.9-1.6v-4zM1095.5 1026.9h3.6l1.7 1.5v4l-1.9 1.6-1.6.6-1.6-.6-1.9-1.6v-4zM1257.2 1023.2h3.6l1.7 1.5v4l-1.9 1.6-1.6.6-1.6-.6-1.9-1.6v-4zM1196.7 1040.3h3.6l1.7 1.5v4l-1.9 1.6-1.6.6-1.6-.6-1.9-1.6v-4zM1140.6 1012h3.6l1.7 1.5v4l-1.9 1.6-1.6.6-1.6-.6-1.9-1.6v-4zM1251.8 985.5h3.6l1.7 1.5v4l-1.9 1.6-1.6.6-1.6-.6-1.9-1.6v-4zM1174.9 1010.4h3.6l1.7 1.5v4l-1.9 1.6-1.6.6-1.6-.6-1.9-1.6v-4zM1195 1001.7h3.6l1.7 1.5v4l-1.9 1.6-1.6.6-1.6-.6-1.9-1.6v-4zM1250.5 1020.2h3.6l1.7 1.5v4l-1.9 1.6-1.6.6-1.6-.6-1.9-1.6v-4zM1194.7 1026.4h3.6l1.7 1.5v4l-1.9 1.6-1.6.6-1.6-.6-1.9-1.6v-4zM1225.8 1002.2h3.6l1.7 1.5v4l-1.9 1.6-1.6.6-1.6-.6-1.9-1.6v-4zM1236 1015.1h3.6l1.7 1.5v4l-1.9 1.6-1.6.6-1.6-.6-1.9-1.6v-4zM1204.8 1027h3.6l1.7 1.5v4l-1.9 1.6-1.6.6-1.6-.6-1.9-1.6v-4zM1108.4 1039.6h3.6l1.7 1.5v4l-1.9 1.6-1.6.6-1.6-.6-1.9-1.6v-4zM1172.4 1044.4h3.6l1.7 1.5v4l-1.9 1.6-1.6.6-1.6-.6-1.9-1.6v-4zM1222.7 1054.3h3.6l1.7 1.5v4l-1.9 1.6-1.6.6-1.6-.6-1.9-1.6v-4zM1228.5 1012.1h3.6l1.7 1.5v4l-1.9 1.6-1.6.6-1.6-.6-1.9-1.6v-4zM1194.2 1062h3.6l1.7 1.5v4l-1.9 1.6-1.6.6-1.6-.6-1.9-1.6v-4zM1144.3 1011h3.6l1.7 1.5v4l-1.9 1.6-1.6.6-1.6-.6-1.9-1.6v-4zM1171.9 1025.6h3.6l1.7 1.5v4l-1.9 1.6-1.6.6-1.6-.6-1.9-1.6v-4zM1272.1 1041.4h3.6l1.7 1.5v4l-1.9 1.6-1.6.6-1.6-.6-1.9-1.6v-4zM1244.5 1006.2h3.6l1.7 1.5v4l-1.9 1.6-1.6.6-1.6-.6-1.9-1.6v-4zM1219.8 1059.5h3.6l1.7 1.5v4l-1.9 1.6-1.6.6-1.6-.6-1.9-1.6v-4zM1137.6 1044.4h3.6l1.7 1.5v4l-1.9 1.6-1.6.6-1.6-.6-1.9-1.6v-4zM1267.6 992.1h3.6l1.7 1.5v4l-1.9 1.6-1.6.6-1.6-.6-1.9-1.6v-4zM1234.1 1028.3h3.6l1.7 1.5v4l-1.9 1.6-1.6.6-1.6-.6-1.9-1.6v-4zM1279.3 1022.6h3.6l1.7 1.5v4l-1.9 1.6-1.6.6-1.6-.6-1.9-1.6v-4zM1237.7 1034.2h3.6l1.7 1.5v4l-1.9 1.6-1.6.6-1.6-.6-1.9-1.6v-4zM1183.8 1023.3h3.6l1.7 1.5v4l-1.9 1.6-1.6.6-1.6-.6-1.9-1.6v-4zM1176.3 1027.5h3.6l1.7 1.5v4l-1.9 1.6-1.6.6-1.6-.6-1.9-1.6v-4zM1278.7 1053.2h3.6l1.7 1.5v4l-1.9 1.6-1.6.6-1.6-.6-1.9-1.6v-4zM1117.9 1020.6h3.6l1.7 1.5v4l-1.9 1.6-1.6.6-1.6-.6-1.9-1.6v-4zM1246.8 1018.1h3.6l1.7 1.5v4l-1.9 1.6-1.6.6-1.6-.6-1.9-1.6v-4zM1133 1064.2h3.6l1.7 1.5v4l-1.9 1.6-1.6.6-1.6-.6-1.9-1.6v-4zM1292.8 1042.9h3.6l1.7 1.5v4l-1.9 1.6-1.6.6-1.6-.6-1.9-1.6v-4zM1263.7 987.1h3.6l1.7 1.5v4l-1.9 1.6-1.6.6-1.6-.6-1.9-1.6v-4zM1235.6 1017.9h3.6l1.7 1.5v4l-1.9 1.6-1.6.6-1.6-.6-1.9-1.6v-4zM1293.7 997.1h3.6l1.7 1.5v4l-1.9 1.6-1.6.6-1.6-.6-1.9-1.6v-4zM1201 1007.2h3.6l1.7 1.5v4l-1.9 1.6-1.6.6-1.6-.6-1.9-1.6v-4zM1145.8 1068.3h3.6l1.7 1.5v4l-1.9 1.6-1.6.6-1.6-.6-1.9-1.6v-4zM1223.2 1027h3.6l1.7 1.5v4l-1.9 1.6-1.6.6-1.6-.6-1.9-1.6v-4zM1128.2 1029.6h3.6l1.7 1.5v4l-1.9 1.6-1.6.6-1.6-.6-1.9-1.6v-4zM1180.2 1021.7h3.6l1.7 1.5v4l-1.9 1.6-1.6.6-1.6-.6-1.9-1.6v-4zM1182.9 1032.8h3.6l1.7 1.5v4l-1.9 1.6-1.6.6-1.6-.6-1.9-1.6v-4zM1228.5 1055.2h3.6l1.7 1.5v4l-1.9 1.6-1.6.6-1.6-.6-1.9-1.6v-4zM1222.8 1021.7h3.6l1.7 1.5v4l-1.9 1.6-1.6.6-1.6-.6-1.9-1.6v-4zM1113.4 1019h3.6l1.7 1.5v4l-1.9 1.6-1.6.6-1.6-.6-1.9-1.6v-4zM1189 1029.8h3.6l1.7 1.5v4l-1.9 1.6-1.6.6-1.6-.6-1.9-1.6v-4zM1217.5 983.3h3.6l1.7 1.5v4l-1.9 1.6-1.6.6-1.6-.6-1.9-1.6v-4zM1298 1025.6h3.6l1.7 1.5v4l-1.9 1.6-1.6.6-1.6-.6-1.9-1.6v-4zM1214.6 1060.4h3.6l1.7 1.5v4l-1.9 1.6-1.6.6-1.6-.6-1.9-1.6v-4zM1322 1016.6h3.6l1.7 1.5v4l-1.9 1.6-1.6.6-1.6-.6-1.9-1.6v-4zM1242.3 1010.6h3.6l1.7 1.5v4l-1.9 1.6-1.6.6-1.6-.6-1.9-1.6v-4zM1194.1 1043.2h3.6l1.7 1.5v4l-1.9 1.6-1.6.6-1.6-.6-1.9-1.6v-4zM1250 1007.2h3.6l1.7 1.5v4l-1.9 1.6-1.6.6-1.6-.6-1.9-1.6v-4zM1293.4 1002.4h3.6l1.7 1.5v4l-1.9 1.6-1.6.6-1.6-.6-1.9-1.6v-4zM1245 1032.9h3.6l1.7 1.5v4l-1.9 1.6-1.6.6-1.6-.6-1.9-1.6v-4zM1211.8 1003.2h3.6l1.7 1.5v4l-1.9 1.6-1.6.6-1.6-.6-1.9-1.6v-4zM1288 1004.3h3.6l1.7 1.5v4l-1.9 1.6-1.6.6-1.6-.6-1.9-1.6v-4zM1290.2 1036h3.6l1.7 1.5v4l-1.9 1.6-1.6.6-1.6-.6-1.9-1.6v-4zM1222.9 1049h3.6l1.7 1.5v4l-1.9 1.6-1.6.6-1.6-.6-1.9-1.6v-4zM1177 1013.8h3.6l1.7 1.5v4l-1.9 1.6-1.6.6-1.6-.6-1.9-1.6v-4zM1208.3 999.8h3.6l1.7 1.5v4l-1.9 1.6-1.6.6-1.6-.6-1.9-1.6v-4zM1215 1025h3.6l1.7 1.5v4l-1.9 1.6-1.6.6-1.6-.6-1.9-1.6v-4zM1203.2 1012.7h3.6l1.7 1.5v4l-1.9 1.6-1.6.6-1.6-.6-1.9-1.6v-4zM1308.8 1026h3.6l1.7 1.5v4l-1.9 1.6-1.6.6-1.6-.6-1.9-1.6v-4zM1287.9 1013h3.6l1.7 1.5v4l-1.9 1.6-1.6.6-1.6-.6-1.9-1.6v-4zM1197.7 1029.7h3.6l1.7 1.5v4l-1.9 1.6-1.6.6-1.6-.6-1.9-1.6v-4zM1151.4 1054.6h3.6l1.7 1.5v4l-1.9 1.6-1.6.6-1.6-.6-1.9-1.6v-4zM1225.2 1042.4h3.6l1.7 1.5v4l-1.9 1.6-1.6.6-1.6-.6-1.9-1.6v-4zM1216.6 1048.2h3.6l1.7 1.5v4l-1.9 1.6-1.6.6-1.6-.6-1.9-1.6v-4zM1253.7 1009.3h3.6l1.7 1.5v4l-1.9 1.6-1.6.6-1.6-.6-1.9-1.6v-4zM1198.1 1073.2h3.6l1.7 1.5v4l-1.9 1.6-1.6.6-1.6-.6-1.9-1.6v-4zM1203.6 1034.9h3.6l1.7 1.5v4l-1.9 1.6-1.6.6-1.6-.6-1.9-1.6v-4zM1253.7 1059.3h3.6l1.7 1.5v4l-1.9 1.6-1.6.6-1.6-.6-1.9-1.6v-4zM1283.4 1038.2h3.6l1.7 1.5v4l-1.9 1.6-1.6.6-1.6-.6-1.9-1.6v-4zM1237.1 1046.5h3.6l1.7 1.5v4l-1.9 1.6-1.6.6-1.6-.6-1.9-1.6v-4zM1143.5 1061.7h3.6l1.7 1.5v4l-1.9 1.6-1.6.6-1.6-.6-1.9-1.6v-4zM1103.6 1037.5h3.6l1.7 1.5v4l-1.9 1.6-1.6.6-1.6-.6-1.9-1.6v-4zM1275.6 1023.2h3.6l1.7 1.5v4l-1.9 1.6-1.6.6-1.6-.6-1.9-1.6v-4zM1308.9 1025.1h3.6l1.7 1.5v4l-1.9 1.6-1.6.6-1.6-.6-1.9-1.6v-4zM1284.9 1016h3.6l1.7 1.5v4l-1.9 1.6-1.6.6-1.6-.6-1.9-1.6v-4zM1141.5 1068.1h3.6l1.7 1.5v4l-1.9 1.6-1.6.6-1.6-.6-1.9-1.6v-4zM1199.3 1072.6h3.6l1.7 1.5v4l-1.9 1.6-1.6.6-1.6-.6-1.9-1.6v-4zM1127.7 1023.6h3.6l1.7 1.5v4l-1.9 1.6-1.6.6-1.6-.6-1.9-1.6v-4zM1181.6 1068.1h3.6l1.7 1.5v4l-1.9 1.6-1.6.6-1.6-.6-1.9-1.6v-4zM1173.4 1056.8h3.6l1.7 1.5v4l-1.9 1.6-1.6.6-1.6-.6-1.9-1.6v-4zM1196.7 987h3.6l1.7 1.5v4l-1.9 1.6-1.6.6-1.6-.6-1.9-1.6v-4zM1214.8 1003.1h3.6l1.7 1.5v4l-1.9 1.6-1.6.6-1.6-.6-1.9-1.6v-4zM1207 1062.8h3.6l1.7 1.5v4l-1.9 1.6-1.6.6-1.6-.6-1.9-1.6v-4zM1270.6 1037.8h3.6l1.7 1.5v4l-1.9 1.6-1.6.6-1.6-.6-1.9-1.6v-4zM1249 1031.8h3.6l1.7 1.5v4l-1.9 1.6-1.6.6-1.6-.6-1.9-1.6v-4zM1183.6 1024.2h3.6l1.7 1.5v4l-1.9 1.6-1.6.6-1.6-.6-1.9-1.6v-4zM1259.1 986.8h3.6l1.7 1.5v4l-1.9 1.6-1.6.6-1.6-.6-1.9-1.6v-4zM1252.9 1016.3h3.6l1.7 1.5v4l-1.9 1.6-1.6.6-1.6-.6-1.9-1.6v-4zM1182.2 1008.9h3.6l1.7 1.5v4l-1.9 1.6-1.6.6-1.6-.6-1.9-1.6v-4zM1117.9 1045.1h3.6l1.7 1.5v4l-1.9 1.6-1.6.6-1.6-.6-1.9-1.6v-4zM1279.4 995.9h3.6l1.7 1.5v4l-1.9 1.6-1.6.6-1.6-.6-1.9-1.6v-4zM1109 1039.1h3.6l1.7 1.5v4l-1.9 1.6-1.6.6-1.6-.6-1.9-1.6v-4zM1202.5 987.7h3.6l1.7 1.5v4l-1.9 1.6-1.6.6-1.6-.6-1.9-1.6v-4zM1272.7 1016.5h3.6l1.7 1.5v4l-1.9 1.6-1.6.6-1.6-.6-1.9-1.6v-4zM1274 1026.4h3.6l1.7 1.5v4l-1.9 1.6-1.6.6-1.6-.6-1.9-1.6v-4zM1313.4 999.1h3.6l1.7 1.5v4l-1.9 1.6-1.6.6-1.6-.6-1.9-1.6v-4zM1205.4 997h3.6l1.7 1.5v4l-1.9 1.6-1.6.6-1.6-.6-1.9-1.6v-4zM1283.6 1039.8h3.6l1.7 1.5v4l-1.9 1.6-1.6.6-1.6-.6-1.9-1.6v-4zM1133.1 1009.6h3.6l1.7 1.5v4l-1.9 1.6-1.6.6-1.6-.6-1.9-1.6v-4zM1090.5 1049.4h3.6l1.7 1.5v4l-1.9 1.6-1.6.6-1.6-.6-1.9-1.6v-4zM1212.3 1006h3.6l1.7 1.5v4l-1.9 1.6-1.6.6-1.6-.6-1.9-1.6v-4zM1264.2 997.9h3.6l1.7 1.5v4l-1.9 1.6-1.6.6-1.6-.6-1.9-1.6v-4zM1197.1 1022.7h3.6l1.7 1.5v4l-1.9 1.6-1.6.6-1.6-.6-1.9-1.6v-4zM1251.3 1061.6h3.6l1.7 1.5v4l-1.9 1.6-1.6.6-1.6-.6-1.9-1.6v-4zM1174.5 1033.4h3.6l1.7 1.5v4l-1.9 1.6-1.6.6-1.6-.6-1.9-1.6v-4zM1142.1 1010.8h3.6l1.7 1.5v4l-1.9 1.6-1.6.6-1.6-.6-1.9-1.6v-4zM1161.4 1061.1h3.6l1.7 1.5v4l-1.9 1.6-1.6.6-1.6-.6-1.9-1.6v-4zM1302.4 1013.3h3.6l1.7 1.5v4l-1.9 1.6-1.6.6-1.6-.6-1.9-1.6v-4zM1141.4 1055.8h3.6l1.7 1.5v4l-1.9 1.6-1.6.6-1.6-.6-1.9-1.6v-4zM1256.2 1061.8h3.6l1.7 1.5v4l-1.9 1.6-1.6.6-1.6-.6-1.9-1.6v-4zM1250.8 995.2h3.6l1.7 1.5v4l-1.9 1.6-1.6.6-1.6-.6-1.9-1.6v-4zM1203.8 989.4h3.6l1.7 1.5v4l-1.9 1.6-1.6.6-1.6-.6-1.9-1.6v-4zM1114.7 1051.7h3.6l1.7 1.5v4l-1.9 1.6-1.6.6-1.6-.6-1.9-1.6v-4zM1320.9 1014.1h3.6l1.7 1.5v4l-1.9 1.6-1.6.6-1.6-.6-1.9-1.6v-4zM1135.7 1046.2h3.6l1.7 1.5v4l-1.9 1.6-1.6.6-1.6-.6-1.9-1.6v-4zM1182.3 1068h3.6l1.7 1.5v4l-1.9 1.6-1.6.6-1.6-.6-1.9-1.6v-4zM1160.1 1040.4h3.6l1.7 1.5v4l-1.9 1.6-1.6.6-1.6-.6-1.9-1.6v-4zM1115.1 1034.2h3.6l1.7 1.5v4l-1.9 1.6-1.6.6-1.6-.6-1.9-1.6v-4zM1097.3 1049.8h3.6l1.7 1.5v4l-1.9 1.6-1.6.6-1.6-.6-1.9-1.6v-4zM1174.7 1018.2h3.6l1.7 1.5v4l-1.9 1.6-1.6.6-1.6-.6-1.9-1.6v-4zM1273.9 1023.9h3.6l1.7 1.5v4l-1.9 1.6-1.6.6-1.6-.6-1.9-1.6v-4zM1259.5 1038.9h3.6l1.7 1.5v4l-1.9 1.6-1.6.6-1.6-.6-1.9-1.6v-4zM1280.6 998.9h3.6l1.7 1.5v4l-1.9 1.6-1.6.6-1.6-.6-1.9-1.6v-4zM1300.8 1006.3h3.6l1.7 1.5v4l-1.9 1.6-1.6.6-1.6-.6-1.9-1.6v-4zM1225.5 1013h3.6l1.7 1.5v4l-1.9 1.6-1.6.6-1.6-.6-1.9-1.6v-4zM1211.4 1066.5h3.6l1.7 1.5v4l-1.9 1.6-1.6.6-1.6-.6-1.9-1.6v-4zM1241.3 1050.2h3.6l1.7 1.5v4l-1.9 1.6-1.6.6-1.6-.6-1.9-1.6v-4zM1144.8 1033h3.6l1.7 1.5v4l-1.9 1.6-1.6.6-1.6-.6-1.9-1.6v-4zM1151.9 1052.6h3.6l1.7 1.5v4l-1.9 1.6-1.6.6-1.6-.6-1.9-1.6v-4zM1162.1 1001h3.6l1.7 1.5v4l-1.9 1.6-1.6.6-1.6-.6-1.9-1.6v-4zM1173.3 1027.1h3.6l1.7 1.5v4l-1.9 1.6-1.6.6-1.6-.6-1.9-1.6v-4zM1305.6 1023.5h3.6l1.7 1.5v4l-1.9 1.6-1.6.6-1.6-.6-1.9-1.6v-4zM1304.6 1020.7h3.6l1.7 1.5v4l-1.9 1.6-1.6.6-1.6-.6-1.9-1.6v-4zM1151 1054.6h3.6l1.7 1.5v4l-1.9 1.6-1.6.6-1.6-.6-1.9-1.6v-4zM1217.1 1029.4h3.6l1.7 1.5v4l-1.9 1.6-1.6.6-1.6-.6-1.9-1.6v-4zM1195 1065.8h3.6l1.7 1.5v4l-1.9 1.6-1.6.6-1.6-.6-1.9-1.6v-4zM1247.8 1049.8h3.6l1.7 1.5v4l-1.9 1.6-1.6.6-1.6-.6-1.9-1.6v-4zM1287.7 1004.4h3.6l1.7 1.5v4l-1.9 1.6-1.6.6-1.6-.6-1.9-1.6v-4zM1137.8 1066h3.6l1.7 1.5v4l-1.9 1.6-1.6.6-1.6-.6-1.9-1.6v-4zM1137.4 1073h3.6l1.7 1.5v4l-1.9 1.6-1.6.6-1.6-.6-1.9-1.6v-4zM1154.3 1045.6h3.6l1.7 1.5v4l-1.9 1.6-1.6.6-1.6-.6-1.9-1.6v-4zM1116.5 1069.3h3.6l1.7 1.5v4l-1.9 1.6-1.6.6-1.6-.6-1.9-1.6v-4zM1148.2 1030.1h3.6l1.7 1.5v4l-1.9 1.6-1.6.6-1.6-.6-1.9-1.6v-4zM1210.2 993.2h3.6l1.7 1.5v4l-1.9 1.6-1.6.6-1.6-.6-1.9-1.6v-4zM1159.8 1001.8h3.6l1.7 1.5v4l-1.9 1.6-1.6.6-1.6-.6-1.9-1.6v-4zM1138.7 1047.7h3.6l1.7 1.5v4l-1.9 1.6-1.6.6-1.6-.6-1.9-1.6v-4zM1088.5 1045.4h3.6l1.7 1.5v4l-1.9 1.6-1.6.6-1.6-.6-1.9-1.6v-4zM1141.1 1066.9h3.6l1.7 1.5v4l-1.9 1.6-1.6.6-1.6-.6-1.9-1.6v-4zM1197.8 1032h3.6l1.7 1.5v4l-1.9 1.6-1.6.6-1.6-.6-1.9-1.6v-4zM1139.2 1055.8h3.6l1.7 1.5v4l-1.9 1.6-1.6.6-1.6-.6-1.9-1.6v-4zM1231.2 1041.2h3.6l1.7 1.5v4l-1.9 1.6-1.6.6-1.6-.6-1.9-1.6v-4zM1199.2 1021.4h3.6l1.7 1.5v4l-1.9 1.6-1.6.6-1.6-.6-1.9-1.6v-4zM1238.4 995.6h3.6l1.7 1.5v4l-1.9 1.6-1.6.6-1.6-.6-1.9-1.6v-4zM1207 987h3.6l1.7 1.5v4l-1.9 1.6-1.6.6-1.6-.6-1.9-1.6v-4zM1290.2 995h3.6l1.7 1.5v4l-1.9 1.6-1.6.6-1.6-.6-1.9-1.6v-4zM1253.1 983.8h3.6l1.7 1.5v4l-1.9 1.6-1.6.6-1.6-.6-1.9-1.6v-4zM1141 1071.6h3.6l1.7 1.5v4l-1.9 1.6-1.6.6-1.6-.6-1.9-1.6v-4zM1297.4 988.8h3.6l1.7 1.5v4l-1.9 1.6-1.6.6-1.6-.6-1.9-1.6v-4zM1266.6 988.2h3.6l1.7 1.5v4l-1.9 1.6-1.6.6-1.6-.6-1.9-1.6v-4zM1115.7 1023.1h3.6l1.7 1.5v4l-1.9 1.6-1.6.6-1.6-.6-1.9-1.6v-4zM1279.3 1006h3.6l1.7 1.5v4l-1.9 1.6-1.6.6-1.6-.6-1.9-1.6v-4zM1169.2 1015.7h3.6l1.7 1.5v4l-1.9 1.6-1.6.6-1.6-.6-1.9-1.6v-4zM1194.2 1073.2h3.6l1.7 1.5v4l-1.9 1.6-1.6.6-1.6-.6-1.9-1.6v-4zM1189.7 1045.5h3.6l1.7 1.5v4l-1.9 1.6-1.6.6-1.6-.6-1.9-1.6v-4zM1130.6 1037h3.6l1.7 1.5v4l-1.9 1.6-1.6.6-1.6-.6-1.9-1.6v-4zM1207.9 1048.2h3.6l1.7 1.5v4l-1.9 1.6-1.6.6-1.6-.6-1.9-1.6v-4zM1165.6 1036.6h3.6l1.7 1.5v4l-1.9 1.6-1.6.6-1.6-.6-1.9-1.6v-4zM1181.5 1043.8h3.6l1.7 1.5v4l-1.9 1.6-1.6.6-1.6-.6-1.9-1.6v-4zM1175.6 1020.1h3.6l1.7 1.5v4l-1.9 1.6-1.6.6-1.6-.6-1.9-1.6v-4zM1216.7 1061.4h3.6l1.7 1.5v4l-1.9 1.6-1.6.6-1.6-.6-1.9-1.6v-4zM1180 1075.9h3.6l1.7 1.5v4l-1.9 1.6-1.6.6-1.6-.6-1.9-1.6v-4zM1170.9 1073.7h3.6l1.7 1.5v4l-1.9 1.6-1.6.6-1.6-.6-1.9-1.6v-4zM1133.1 1020.6h3.6l1.7 1.5v4l-1.9 1.6-1.6.6-1.6-.6-1.9-1.6v-4zM1159.3 1062.8h3.6l1.7 1.5v4l-1.9 1.6-1.6.6-1.6-.6-1.9-1.6v-4zM1131 1010.8h3.6l1.7 1.5v4l-1.9 1.6-1.6.6-1.6-.6-1.9-1.6v-4zM1120.4 1043.4h3.6l1.7 1.5v4l-1.9 1.6-1.6.6-1.6-.6-1.9-1.6v-4zM1156.5 1047.2h3.6l1.7 1.5v4l-1.9 1.6-1.6.6-1.6-.6-1.9-1.6v-4zM1180.4 995.3h3.6l1.7 1.5v4l-1.9 1.6-1.6.6-1.6-.6-1.9-1.6v-4zM1188.9 986.4h3.6l1.7 1.5v4l-1.9 1.6-1.6.6-1.6-.6-1.9-1.6v-4zM1149.8 1075.4h3.6l1.7 1.5v4l-1.9 1.6-1.6.6-1.6-.6-1.9-1.6v-4zM1262.7 1020.8h3.6l1.7 1.5v4l-1.9 1.6-1.6.6-1.6-.6-1.9-1.6v-4zM1141.1 1023.6h3.6l1.7 1.5v4l-1.9 1.6-1.6.6-1.6-.6-1.9-1.6v-4zM1282.3 1048.1h3.6l1.7 1.5v4l-1.9 1.6-1.6.6-1.6-.6-1.9-1.6v-4zM1170.1 1036.1h3.6l1.7 1.5v4l-1.9 1.6-1.6.6-1.6-.6-1.9-1.6v-4zM1249.6 1029.8h3.6l1.7 1.5v4l-1.9 1.6-1.6.6-1.6-.6-1.9-1.6v-4zM1112.5 1029.1h3.6l1.7 1.5v4l-1.9 1.6-1.6.6-1.6-.6-1.9-1.6v-4zM1156.4 1012.9h3.6l1.7 1.5v4l-1.9 1.6-1.6.6-1.6-.6-1.9-1.6v-4zM1157 1049h3.6l1.7 1.5v4l-1.9 1.6-1.6.6-1.6-.6-1.9-1.6v-4zM1165.7 1014.6h3.6l1.7 1.5v4l-1.9 1.6-1.6.6-1.6-.6-1.9-1.6v-4zM1138 1023.7h3.6l1.7 1.5v4l-1.9 1.6-1.6.6-1.6-.6-1.9-1.6v-4zM1128.5 1025.2h3.6l1.7 1.5v4l-1.9 1.6-1.6.6-1.6-.6-1.9-1.6v-4zM1209.1 1020.4h3.6l1.7 1.5v4l-1.9 1.6-1.6.6-1.6-.6-1.9-1.6v-4zM1306.5 1033.6h3.6l1.7 1.5v4l-1.9 1.6-1.6.6-1.6-.6-1.9-1.6v-4zM1115.1 1024h3.6l1.7 1.5v4l-1.9 1.6-1.6.6-1.6-.6-1.9-1.6v-4zM1304.4 1019.6h3.6l1.7 1.5v4l-1.9 1.6-1.6.6-1.6-.6-1.9-1.6v-4zM1187.9 1029h3.6l1.7 1.5v4l-1.9 1.6-1.6.6-1.6-.6-1.9-1.6v-4zM1272.1 1039.8h3.6l1.7 1.5v4l-1.9 1.6-1.6.6-1.6-.6-1.9-1.6v-4zM1288.8 1040.4h3.6l1.7 1.5v4l-1.9 1.6-1.6.6-1.6-.6-1.9-1.6v-4zM1237.1 984.1h3.6l1.7 1.5v4l-1.9 1.6-1.6.6-1.6-.6-1.9-1.6v-4zM1266.1 991.3h3.6l1.7 1.5v4l-1.9 1.6-1.6.6-1.6-.6-1.9-1.6v-4zM1160 1020h3.6l1.7 1.5v4l-1.9 1.6-1.6.6-1.6-.6-1.9-1.6v-4zM1205.3 1023.3h3.6l1.7 1.5v4l-1.9 1.6-1.6.6-1.6-.6-1.9-1.6v-4zM1248.4 1028.5h3.6l1.7 1.5v4l-1.9 1.6-1.6.6-1.6-.6-1.9-1.6v-4zM1299.1 1030.9h3.6l1.7 1.5v4l-1.9 1.6-1.6.6-1.6-.6-1.9-1.6v-4zM1294.4 1008.3h3.6l1.7 1.5v4l-1.9 1.6-1.6.6-1.6-.6-1.9-1.6v-4zM1125.4 1029.6h3.6l1.7 1.5v4l-1.9 1.6-1.6.6-1.6-.6-1.9-1.6v-4zM1201 990.7h3.6l1.7 1.5v4l-1.9 1.6-1.6.6-1.6-.6-1.9-1.6v-4zM1281 1028.6h3.6l1.7 1.5v4l-1.9 1.6-1.6.6-1.6-.6-1.9-1.6v-4zM1189.3 986.6h3.6l1.7 1.5v4l-1.9 1.6-1.6.6-1.6-.6-1.9-1.6v-4zM1166.5 1007.9h3.6l1.7 1.5v4l-1.9 1.6-1.6.6-1.6-.6-1.9-1.6v-4zM1211.1 1048.6h3.6l1.7 1.5v4l-1.9 1.6-1.6.6-1.6-.6-1.9-1.6v-4zM1189.9 1035.1h3.6l1.7 1.5v4l-1.9 1.6-1.6.6-1.6-.6-1.9-1.6v-4zM1274 1039.3h3.6l1.7 1.5v4l-1.9 1.6-1.6.6-1.6-.6-1.9-1.6v-4zM1170.1 1044.5h3.6l1.7 1.5v4l-1.9 1.6-1.6.6-1.6-.6-1.9-1.6v-4zM1205.7 1028.2h3.6l1.7 1.5v4l-1.9 1.6-1.6.6-1.6-.6-1.9-1.6v-4zM1240.6 1015.1h3.6l1.7 1.5v4l-1.9 1.6-1.6.6-1.6-.6-1.9-1.6v-4zM1173.1 1063.4h3.6l1.7 1.5v4l-1.9 1.6-1.6.6-1.6-.6-1.9-1.6v-4zM1186.8 1023.6h3.6l1.7 1.5v4l-1.9 1.6-1.6.6-1.6-.6-1.9-1.6v-4zM1193.1 1038.3h3.6l1.7 1.5v4l-1.9 1.6-1.6.6-1.6-.6-1.9-1.6v-4zM1261.2 981.9h3.6l1.7 1.5v4l-1.9 1.6-1.6.6-1.6-.6-1.9-1.6v-4zM1121.1 1020.9h3.6l1.7 1.5v4l-1.9 1.6-1.6.6-1.6-.6-1.9-1.6v-4zM1202.2 994.7h3.6l1.7 1.5v4l-1.9 1.6-1.6.6-1.6-.6-1.9-1.6v-4zM1294.5 1041.3h3.6l1.7 1.5v4l-1.9 1.6-1.6.6-1.6-.6-1.9-1.6v-4zM1314.9 1008.1h3.6l1.7 1.5v4l-1.9 1.6-1.6.6-1.6-.6-1.9-1.6v-4zM1162.7 1063.3h3.6l1.7 1.5v4l-1.9 1.6-1.6.6-1.6-.6-1.9-1.6v-4zM1192.6 1037.5h3.6l1.7 1.5v4l-1.9 1.6-1.6.6-1.6-.6-1.9-1.6v-4zM1197.2 1023.5h3.6l1.7 1.5v4l-1.9 1.6-1.6.6-1.6-.6-1.9-1.6v-4zM1194.8 996.7h3.6l1.7 1.5v4l-1.9 1.6-1.6.6-1.6-.6-1.9-1.6v-4zM1161.8 1072.5h3.6l1.7 1.5v4l-1.9 1.6-1.6.6-1.6-.6-1.9-1.6v-4zM1198.5 991.4h3.6l1.7 1.5v4l-1.9 1.6-1.6.6-1.6-.6-1.9-1.6v-4zM1283.9 1030.9h3.6l1.7 1.5v4l-1.9 1.6-1.6.6-1.6-.6-1.9-1.6v-4zM1101.8 1029.2h3.6l1.7 1.5v4l-1.9 1.6-1.6.6-1.6-.6-1.9-1.6v-4zM1251.3 999.3h3.6l1.7 1.5v4l-1.9 1.6-1.6.6-1.6-.6-1.9-1.6v-4zM1239.7 1027.1h3.6l1.7 1.5v4l-1.9 1.6-1.6.6-1.6-.6-1.9-1.6v-4zM1185.2 996.3h3.6l1.7 1.5v4l-1.9 1.6-1.6.6-1.6-.6-1.9-1.6v-4zM1128 1027.5h3.6l1.7 1.5v4l-1.9 1.6-1.6.6-1.6-.6-1.9-1.6v-4zM1251.7 988h3.6l1.7 1.5v4l-1.9 1.6-1.6.6-1.6-.6-1.9-1.6v-4zM1195.3 994.9h3.6l1.7 1.5v4l-1.9 1.6-1.6.6-1.6-.6-1.9-1.6v-4zM1246.2 1049.9h3.6l1.7 1.5v4l-1.9 1.6-1.6.6-1.6-.6-1.9-1.6v-4zM1304.7 1027.5h3.6l1.7 1.5v4l-1.9 1.6-1.6.6-1.6-.6-1.9-1.6v-4zM1165.9 1026.6h3.6l1.7 1.5v4l-1.9 1.6-1.6.6-1.6-.6-1.9-1.6v-4zM1256.7 1005.5h3.6l1.7 1.5v4l-1.9 1.6-1.6.6-1.6-.6-1.9-1.6v-4zM1145.1 1037.7h3.6l1.7 1.5v4l-1.9 1.6-1.6.6-1.6-.6-1.9-1.6v-4zM1230.8 1010.6h3.6l1.7 1.5v4l-1.9 1.6-1.6.6-1.6-.6-1.9-1.6v-4zM1191.5 1005.6h3.6l1.7 1.5v4l-1.9 1.6-1.6.6-1.6-.6-1.9-1.6v-4zM1110.7 1052.7h3.6l1.7 1.5v4l-1.9 1.6-1.6.6-1.6-.6-1.9-1.6v-4zM1239.5 1021.3h3.6l1.7 1.5v4l-1.9 1.6-1.6.6-1.6-.6-1.9-1.6v-4zM1213.7 1021.3h3.6l1.7 1.5v4l-1.9 1.6-1.6.6-1.6-.6-1.9-1.6v-4zM1167.3 1040.5h3.6l1.7 1.5v4l-1.9 1.6-1.6.6-1.6-.6-1.9-1.6v-4zM1138.5 1050.4h3.6l1.7 1.5v4l-1.9 1.6-1.6.6-1.6-.6-1.9-1.6v-4zM1166 1003.9h3.6l1.7 1.5v4l-1.9 1.6-1.6.6-1.6-.6-1.9-1.6v-4zM1292 1032h3.6l1.7 1.5v4l-1.9 1.6-1.6.6-1.6-.6-1.9-1.6v-4zM1230.3 1049.4h3.6l1.7 1.5v4l-1.9 1.6-1.6.6-1.6-.6-1.9-1.6v-4zM1093 1032.2h3.6l1.7 1.5v4l-1.9 1.6-1.6.6-1.6-.6-1.9-1.6v-4zM1234.1 1068.3h3.6l1.7 1.5v4l-1.9 1.6-1.6.6-1.6-.6-1.9-1.6v-4zM1110.5 1036.3h3.6l1.7 1.5v4l-1.9 1.6-1.6.6-1.6-.6-1.9-1.6v-4zM1228.3 1048.2h3.6l1.7 1.5v4l-1.9 1.6-1.6.6-1.6-.6-1.9-1.6v-4zM1273.6 998.1h3.6l1.7 1.5v4l-1.9 1.6-1.6.6-1.6-.6-1.9-1.6v-4zM1126.2 1035.7h3.6l1.7 1.5v4l-1.9 1.6-1.6.6-1.6-.6-1.9-1.6v-4zM1198.6 1073.1h3.6l1.7 1.5v4l-1.9 1.6-1.6.6-1.6-.6-1.9-1.6v-4zM1253.9 1005.5h3.6l1.7 1.5v4l-1.9 1.6-1.6.6-1.6-.6-1.9-1.6v-4zM1233.1 1027.6h3.6l1.7 1.5v4l-1.9 1.6-1.6.6-1.6-.6-1.9-1.6v-4zM1112.1 1044.9h3.6l1.7 1.5v4l-1.9 1.6-1.6.6-1.6-.6-1.9-1.6v-4zM1104 1023.8h3.6l1.7 1.5v4l-1.9 1.6-1.6.6-1.6-.6-1.9-1.6v-4zM1175.1 1013.9h3.6l1.7 1.5v4l-1.9 1.6-1.6.6-1.6-.6-1.9-1.6v-4zM1153.2 1014.9h3.6l1.7 1.5v4l-1.9 1.6-1.6.6-1.6-.6-1.9-1.6v-4zM1249 1030.1h3.6l1.7 1.5v4l-1.9 1.6-1.6.6-1.6-.6-1.9-1.6v-4zM1266.8 985.1h3.6l1.7 1.5v4l-1.9 1.6-1.6.6-1.6-.6-1.9-1.6v-4zM1237.2 1034.2h3.6l1.7 1.5v4l-1.9 1.6-1.6.6-1.6-.6-1.9-1.6v-4zM1177.9 993.1h3.6l1.7 1.5v4l-1.9 1.6-1.6.6-1.6-.6-1.9-1.6v-4zM1248.9 999.6h3.6l1.7 1.5v4l-1.9 1.6-1.6.6-1.6-.6-1.9-1.6v-4zM1252.2 986.6h3.6l1.7 1.5v4l-1.9 1.6-1.6.6-1.6-.6-1.9-1.6v-4zM1246 983.5h3.6l1.7 1.5v4l-1.9 1.6-1.6.6-1.6-.6-1.9-1.6v-4zM1202.9 1027.9h3.6l1.7 1.5v4l-1.9 1.6-1.6.6-1.6-.6-1.9-1.6v-4zM1230 1018.1h3.6l1.7 1.5v4l-1.9 1.6-1.6.6-1.6-.6-1.9-1.6v-4zM1122.1 1014.5h3.6l1.7 1.5v4l-1.9 1.6-1.6.6-1.6-.6-1.9-1.6v-4zM1176.7 1006.3h3.6l1.7 1.5v4l-1.9 1.6-1.6.6-1.6-.6-1.9-1.6v-4zM1182.9 1010.5h3.6l1.7 1.5v4l-1.9 1.6-1.6.6-1.6-.6-1.9-1.6v-4zM1317.4 1024.6h3.6l1.7 1.5v4l-1.9 1.6-1.6.6-1.6-.6-1.9-1.6v-4zM1229.2 1000.6h3.6l1.7 1.5v4l-1.9 1.6-1.6.6-1.6-.6-1.9-1.6v-4zM1178.3 1046h3.6l1.7 1.5v4l-1.9 1.6-1.6.6-1.6-.6-1.9-1.6v-4zM1110.3 1023.6h3.6l1.7 1.5v4l-1.9 1.6-1.6.6-1.6-.6-1.9-1.6v-4zM1159.9 1047h3.6l1.7 1.5v4l-1.9 1.6-1.6.6-1.6-.6-1.9-1.6v-4zM1138.3 1035.9h3.6l1.7 1.5v4l-1.9 1.6-1.6.6-1.6-.6-1.9-1.6v-4zM1206.6 1073.3h3.6l1.7 1.5v4l-1.9 1.6-1.6.6-1.6-.6-1.9-1.6v-4zM1253.6 1007.2h3.6l1.7 1.5v4l-1.9 1.6-1.6.6-1.6-.6-1.9-1.6v-4zM1157.3 1011h3.6l1.7 1.5v4l-1.9 1.6-1.6.6-1.6-.6-1.9-1.6v-4zM1293.1 1041.8h3.6l1.7 1.5v4l-1.9 1.6-1.6.6-1.6-.6-1.9-1.6v-4zM1233.3 1038.3h3.6l1.7 1.5v4l-1.9 1.6-1.6.6-1.6-.6-1.9-1.6v-4zM1246.5 1029.9h3.6l1.7 1.5v4l-1.9 1.6-1.6.6-1.6-.6-1.9-1.6v-4zM1250.7 1012.7h3.6l1.7 1.5v4l-1.9 1.6-1.6.6-1.6-.6-1.9-1.6v-4zM1161.8 995.3h3.6l1.7 1.5v4l-1.9 1.6-1.6.6-1.6-.6-1.9-1.6v-4zM1203.2 997.9h3.6l1.7 1.5v4l-1.9 1.6-1.6.6-1.6-.6-1.9-1.6v-4zM1181.8 1074.7h3.6l1.7 1.5v4l-1.9 1.6-1.6.6-1.6-.6-1.9-1.6v-4zM1274.3 1046.8h3.6l1.7 1.5v4l-1.9 1.6-1.6.6-1.6-.6-1.9-1.6v-4zM1137.4 1033.2h3.6l1.7 1.5v4l-1.9 1.6-1.6.6-1.6-.6-1.9-1.6v-4zM1229.4 1059h3.6l1.7 1.5v4l-1.9 1.6-1.6.6-1.6-.6-1.9-1.6v-4zM1241 1047.8h3.6l1.7 1.5v4l-1.9 1.6-1.6.6-1.6-.6-1.9-1.6v-4zM1227.4 1001.8h3.6l1.7 1.5v4l-1.9 1.6-1.6.6-1.6-.6-1.9-1.6v-4zM1179.9 1049.8h3.6l1.7 1.5v4l-1.9 1.6-1.6.6-1.6-.6-1.9-1.6v-4zM1237.9 1055.9h3.6l1.7 1.5v4l-1.9 1.6-1.6.6-1.6-.6-1.9-1.6v-4zM1155.5 1072.6h3.6l1.7 1.5v4l-1.9 1.6-1.6.6-1.6-.6-1.9-1.6v-4zM1179.7 1052.8h3.6l1.7 1.5v4l-1.9 1.6-1.6.6-1.6-.6-1.9-1.6v-4zM1133.2 1047.1h3.6l1.7 1.5v4l-1.9 1.6-1.6.6-1.6-.6-1.9-1.6v-4zM1144 1050.5h3.6l1.7 1.5v4l-1.9 1.6-1.6.6-1.6-.6-1.9-1.6v-4zM1248.5 1030.2h3.6l1.7 1.5v4l-1.9 1.6-1.6.6-1.6-.6-1.9-1.6v-4zM1260.5 985.8h3.6l1.7 1.5v4l-1.9 1.6-1.6.6-1.6-.6-1.9-1.6v-4zM1105.6 1045.1h3.6l1.7 1.5v4l-1.9 1.6-1.6.6-1.6-.6-1.9-1.6v-4zM1284.4 1050.5h3.6l1.7 1.5v4l-1.9 1.6-1.6.6-1.6-.6-1.9-1.6v-4zM1225.3 1022.3h3.6l1.7 1.5v4l-1.9 1.6-1.6.6-1.6-.6-1.9-1.6v-4zM1124.2 1031h3.6l1.7 1.5v4l-1.9 1.6-1.6.6-1.6-.6-1.9-1.6v-4zM1188.4 1000.5h3.6l1.7 1.5v4l-1.9 1.6-1.6.6-1.6-.6-1.9-1.6v-4zM1200.2 993.7h3.6l1.7 1.5v4l-1.9 1.6-1.6.6-1.6-.6-1.9-1.6v-4zM1224.4 996.1h3.6l1.7 1.5v4l-1.9 1.6-1.6.6-1.6-.6-1.9-1.6v-4zM1251.4 991.6h3.6l1.7 1.5v4l-1.9 1.6-1.6.6-1.6-.6-1.9-1.6v-4zM1276.2 1047.5h3.6l1.7 1.5v4l-1.9 1.6-1.6.6-1.6-.6-1.9-1.6v-4zM1169.8 1008.1h3.6l1.7 1.5v4l-1.9 1.6-1.6.6-1.6-.6-1.9-1.6v-4zM1113.4 1053.5h3.6l1.7 1.5v4l-1.9 1.6-1.6.6-1.6-.6-1.9-1.6v-4zM1271.3 997.9h3.6l1.7 1.5v4l-1.9 1.6-1.6.6-1.6-.6-1.9-1.6v-4zM1199.3 1048.6h3.6l1.7 1.5v4l-1.9 1.6-1.6.6-1.6-.6-1.9-1.6v-4zM1241.5 1042.5h3.6l1.7 1.5v4l-1.9 1.6-1.6.6-1.6-.6-1.9-1.6v-4zM1128.8 1021.6h3.6l1.7 1.5v4l-1.9 1.6-1.6.6-1.6-.6-1.9-1.6v-4zM1090.1 1035.4h3.6l1.7 1.5v4l-1.9 1.6-1.6.6-1.6-.6-1.9-1.6v-4zM1247 1035.5h3.6l1.7 1.5v4l-1.9 1.6-1.6.6-1.6-.6-1.9-1.6v-4zM1260.3 1047.9h3.6l1.7 1.5v4l-1.9 1.6-1.6.6-1.6-.6-1.9-1.6v-4zM1168 1036.7h3.6l1.7 1.5v4l-1.9 1.6-1.6.6-1.6-.6-1.9-1.6v-4zM1177.7 1070.9h3.6l1.7 1.5v4l-1.9 1.6-1.6.6-1.6-.6-1.9-1.6v-4zM1259.1 1028.5h3.6l1.7 1.5v4l-1.9 1.6-1.6.6-1.6-.6-1.9-1.6v-4zM1241.2 982.1h3.6l1.7 1.5v4l-1.9 1.6-1.6.6-1.6-.6-1.9-1.6v-4zM1278.5 1033.5h3.6l1.7 1.5v4l-1.9 1.6-1.6.6-1.6-.6-1.9-1.6v-4zM1156.6 1002.9h3.6l1.7 1.5v4l-1.9 1.6-1.6.6-1.6-.6-1.9-1.6v-4zM1133.3 1055.3h3.6l1.7 1.5v4l-1.9 1.6-1.6.6-1.6-.6-1.9-1.6v-4zM1291 1038.2h3.6l1.7 1.5v4l-1.9 1.6-1.6.6-1.6-.6-1.9-1.6v-4zM1152.5 1027.3h3.6l1.7 1.5v4l-1.9 1.6-1.6.6-1.6-.6-1.9-1.6v-4zM1129 1038h3.6l1.7 1.5v4l-1.9 1.6-1.6.6-1.6-.6-1.9-1.6v-4zM1271.7 1040.6h3.6l1.7 1.5v4l-1.9 1.6-1.6.6-1.6-.6-1.9-1.6v-4zM1248.9 1023.5h3.6l1.7 1.5v4l-1.9 1.6-1.6.6-1.6-.6-1.9-1.6v-4zM1146.1 1008.5h3.6l1.7 1.5v4l-1.9 1.6-1.6.6-1.6-.6-1.9-1.6v-4zM1209.8 1032.8h3.6l1.7 1.5v4l-1.9 1.6-1.6.6-1.6-.6-1.9-1.6v-4zM1222.5 1003.3h3.6l1.7 1.5v4l-1.9 1.6-1.6.6-1.6-.6-1.9-1.6v-4zM1245.3 1058.4h3.6l1.7 1.5v4l-1.9 1.6-1.6.6-1.6-.6-1.9-1.6v-4zM1138.8 1023.2h3.6l1.7 1.5v4l-1.9 1.6-1.6.6-1.6-.6-1.9-1.6v-4zM1246.1 1059.7h3.6l1.7 1.5v4l-1.9 1.6-1.6.6-1.6-.6-1.9-1.6v-4zM1211.1 1009.5h3.6l1.7 1.5v4l-1.9 1.6-1.6.6-1.6-.6-1.9-1.6v-4zM1172.9 1067.5h3.6l1.7 1.5v4l-1.9 1.6-1.6.6-1.6-.6-1.9-1.6v-4zM1154.4 1042h3.6l1.7 1.5v4l-1.9 1.6-1.6.6-1.6-.6-1.9-1.6v-4zM1192.4 1025.5h3.6l1.7 1.5v4l-1.9 1.6-1.6.6-1.6-.6-1.9-1.6v-4zM1228.6 1064h3.6l1.7 1.5v4l-1.9 1.6-1.6.6-1.6-.6-1.9-1.6v-4zM1267.7 986.1h3.6l1.7 1.5v4l-1.9 1.6-1.6.6-1.6-.6-1.9-1.6v-4zM1206.4 1019.7h3.6l1.7 1.5v4l-1.9 1.6-1.6.6-1.6-.6-1.9-1.6v-4zM1120.4 1017.7h3.6l1.7 1.5v4l-1.9 1.6-1.6.6-1.6-.6-1.9-1.6v-4zM1154.2 1037.8h3.6l1.7 1.5v4l-1.9 1.6-1.6.6-1.6-.6-1.9-1.6v-4zM1252.5 982.4h3.6l1.7 1.5v4l-1.9 1.6-1.6.6-1.6-.6-1.9-1.6v-4zM1243.1 993.3h3.6l1.7 1.5v4l-1.9 1.6-1.6.6-1.6-.6-1.9-1.6v-4zM1254.7 1045h3.6l1.7 1.5v4l-1.9 1.6-1.6.6-1.6-.6-1.9-1.6v-4zM1231.6 1055.8h3.6l1.7 1.5v4l-1.9 1.6-1.6.6-1.6-.6-1.9-1.6v-4zM1257.3 1033.9h3.6l1.7 1.5v4l-1.9 1.6-1.6.6-1.6-.6-1.9-1.6v-4zM1217.1 996.1h3.6l1.7 1.5v4l-1.9 1.6-1.6.6-1.6-.6-1.9-1.6v-4zM1211 983h3.6l1.7 1.5v4l-1.9 1.6-1.6.6-1.6-.6-1.9-1.6v-4zM1212.7 990.5h3.6l1.7 1.5v4l-1.9 1.6-1.6.6-1.6-.6-1.9-1.6v-4zM1166 1020.7h3.6l1.7 1.5v4l-1.9 1.6-1.6.6-1.6-.6-1.9-1.6v-4zM1144.4 1000.7h3.6l1.7 1.5v4l-1.9 1.6-1.6.6-1.6-.6-1.9-1.6v-4zM1196.6 1003.6h3.6l1.7 1.5v4l-1.9 1.6-1.6.6-1.6-.6-1.9-1.6v-4zM1107.6 1060.7h3.6l1.7 1.5v4l-1.9 1.6-1.6.6-1.6-.6-1.9-1.6v-4zM1175.6 1048.5h3.6l1.7 1.5v4l-1.9 1.6-1.6.6-1.6-.6-1.9-1.6v-4zM1233.1 1061.2h3.6l1.7 1.5v4l-1.9 1.6-1.6.6-1.6-.6-1.9-1.6v-4zM1253.2 1018h3.6l1.7 1.5v4l-1.9 1.6-1.6.6-1.6-.6-1.9-1.6v-4zM1221.7 1031.3h3.6l1.7 1.5v4l-1.9 1.6-1.6.6-1.6-.6-1.9-1.6v-4zM1149.7 1002.1h3.6l1.7 1.5v4l-1.9 1.6-1.6.6-1.6-.6-1.9-1.6v-4zM1304.1 997.6h3.6l1.7 1.5v4l-1.9 1.6-1.6.6-1.6-.6-1.9-1.6v-4zM1201.1 1012h3.6l1.7 1.5v4l-1.9 1.6-1.6.6-1.6-.6-1.9-1.6v-4zM1178.6 1013.1h3.6l1.7 1.5v4l-1.9 1.6-1.6.6-1.6-.6-1.9-1.6v-4zM1207.6 1019.8h3.6l1.7 1.5v4l-1.9 1.6-1.6.6-1.6-.6-1.9-1.6v-4zM1177.2 1017.1h3.6l1.7 1.5v4l-1.9 1.6-1.6.6-1.6-.6-1.9-1.6v-4zM1164.3 1009.5h3.6l1.7 1.5v4l-1.9 1.6-1.6.6-1.6-.6-1.9-1.6v-4zM1275.6 1023.6h3.6l1.7 1.5v4l-1.9 1.6-1.6.6-1.6-.6-1.9-1.6v-4zM1203.1 1052h3.6l1.7 1.5v4l-1.9 1.6-1.6.6-1.6-.6-1.9-1.6v-4zM1318.3 1026.6h3.6l1.7 1.5v4l-1.9 1.6-1.6.6-1.6-.6-1.9-1.6v-4zM1273.1 1048.9h3.6l1.7 1.5v4l-1.9 1.6-1.6.6-1.6-.6-1.9-1.6v-4zM1189.1 1007.4h3.6l1.7 1.5v4l-1.9 1.6-1.6.6-1.6-.6-1.9-1.6v-4zM1288.8 1024.4h3.6l1.7 1.5v4l-1.9 1.6-1.6.6-1.6-.6-1.9-1.6v-4zM1188 1052.2h3.6l1.7 1.5v4l-1.9 1.6-1.6.6-1.6-.6-1.9-1.6v-4zM1113.1 1038h3.6l1.7 1.5v4l-1.9 1.6-1.6.6-1.6-.6-1.9-1.6v-4zM1281 1021.3h3.6l1.7 1.5v4l-1.9 1.6-1.6.6-1.6-.6-1.9-1.6v-4zM1132.9 1044.9h3.6l1.7 1.5v4l-1.9 1.6-1.6.6-1.6-.6-1.9-1.6v-4zM1168.7 1027.6h3.6l1.7 1.5v4l-1.9 1.6-1.6.6-1.6-.6-1.9-1.6v-4zM1175.7 1042.7h3.6l1.7 1.5v4l-1.9 1.6-1.6.6-1.6-.6-1.9-1.6v-4zM1181.8 1042.8h3.6l1.7 1.5v4l-1.9 1.6-1.6.6-1.6-.6-1.9-1.6v-4zM1177.5 1027.7h3.6l1.7 1.5v4l-1.9 1.6-1.6.6-1.6-.6-1.9-1.6v-4zM1287.8 1005.8h3.6l1.7 1.5v4l-1.9 1.6-1.6.6-1.6-.6-1.9-1.6v-4zM1251 1038.1h3.6l1.7 1.5v4l-1.9 1.6-1.6.6-1.6-.6-1.9-1.6v-4zM1199.3 1002.5h3.6l1.7 1.5v4l-1.9 1.6-1.6.6-1.6-.6-1.9-1.6v-4zM1255.8 1016.5h3.6l1.7 1.5v4l-1.9 1.6-1.6.6-1.6-.6-1.9-1.6v-4zM1170.4 1016.9h3.6l1.7 1.5v4l-1.9 1.6-1.6.6-1.6-.6-1.9-1.6v-4zM1175.3 1026.4h3.6l1.7 1.5v4l-1.9 1.6-1.6.6-1.6-.6-1.9-1.6v-4zM1103.4 1041.5h3.6l1.7 1.5v4l-1.9 1.6-1.6.6-1.6-.6-1.9-1.6v-4zM1152.3 1026.3h3.6l1.7 1.5v4l-1.9 1.6-1.6.6-1.6-.6-1.9-1.6v-4zM1194.5 1074.7h3.6l1.7 1.5v4l-1.9 1.6-1.6.6-1.6-.6-1.9-1.6v-4zM1108.4 1032h3.6l1.7 1.5v4l-1.9 1.6-1.6.6-1.6-.6-1.9-1.6v-4zM1187.4 1075.2h3.6l1.7 1.5v4l-1.9 1.6-1.6.6-1.6-.6-1.9-1.6v-4zM1310.8 1022.8h3.6l1.7 1.5v4l-1.9 1.6-1.6.6-1.6-.6-1.9-1.6v-4zM1313.7 1027.9h3.6l1.7 1.5v4l-1.9 1.6-1.6.6-1.6-.6-1.9-1.6v-4zM1214.7 1051.3h3.6l1.7 1.5v4l-1.9 1.6-1.6.6-1.6-.6-1.9-1.6v-4zM1247.8 1008.2h3.6l1.7 1.5v4l-1.9 1.6-1.6.6-1.6-.6-1.9-1.6v-4zM1162.3 1025h3.6l1.7 1.5v4l-1.9 1.6-1.6.6-1.6-.6-1.9-1.6v-4zM1288 1030.1h3.6l1.7 1.5v4l-1.9 1.6-1.6.6-1.6-.6-1.9-1.6v-4zM1304.5 1007.7h3.6l1.7 1.5v4l-1.9 1.6-1.6.6-1.6-.6-1.9-1.6v-4zM1343.6 1023h3.6l1.7 1.5v4l-1.9 1.6-1.6.6-1.6-.6-1.9-1.6v-4zM1311.5 999.7h3.6l1.7 1.5v4l-1.9 1.6-1.6.6-1.6-.6-1.9-1.6v-4zM1332.6 964.7h3.6l1.7 1.5v4l-1.9 1.6-1.6.6-1.6-.6-1.9-1.6v-4zM1348.2 1011.1h3.6l1.7 1.5v4l-1.9 1.6-1.6.6-1.6-.6-1.9-1.6v-4zM1291.8 1015.7h3.6l1.7 1.5v4l-1.9 1.6-1.6.6-1.6-.6-1.9-1.6v-4zM1343.3 981h3.6l1.7 1.5v4l-1.9 1.6-1.6.6-1.6-.6-1.9-1.6v-4zM1335.3 982.3h3.6l1.7 1.5v4l-1.9 1.6-1.6.6-1.6-.6-1.9-1.6v-4zM1343.4 967.2h3.6l1.7 1.5v4l-1.9 1.6-1.6.6-1.6-.6-1.9-1.6v-4zM1311.7 1009.1h3.6l1.7 1.5v4l-1.9 1.6-1.6.6-1.6-.6-1.9-1.6v-4zM1323.5 1039.3h3.6l1.7 1.5v4l-1.9 1.6-1.6.6-1.6-.6-1.9-1.6v-4zM1344.3 1001.4h3.6l1.7 1.5v4l-1.9 1.6-1.6.6-1.6-.6-1.9-1.6v-4zM1295.3 1015.6h3.6l1.7 1.5v4l-1.9 1.6-1.6.6-1.6-.6-1.9-1.6v-4zM1370.4 977.3h3.6l1.7 1.5v4l-1.9 1.6-1.6.6-1.6-.6-1.9-1.6v-4zM1301.1 1023.6h3.6l1.7 1.5v4l-1.9 1.6-1.6.6-1.6-.6-1.9-1.6v-4zM1315.6 974.4h3.6l1.7 1.5v4l-1.9 1.6-1.6.6-1.6-.6-1.9-1.6v-4zM1332.1 1008.8h3.6l1.7 1.5v4l-1.9 1.6-1.6.6-1.6-.6-1.9-1.6v-4zM1339.8 1027.5h3.6l1.7 1.5v4l-1.9 1.6-1.6.6-1.6-.6-1.9-1.6v-4zM1380.7 998.9h3.6l1.7 1.5v4l-1.9 1.6-1.6.6-1.6-.6-1.9-1.6v-4zM1376.4 974.8h3.6l1.7 1.5v4l-1.9 1.6-1.6.6-1.6-.6-1.9-1.6v-4zM1314.7 1023.4h3.6l1.7 1.5v4l-1.9 1.6-1.6.6-1.6-.6-1.9-1.6v-4zM1333.6 1028.9h3.6l1.7 1.5v4l-1.9 1.6-1.6.6-1.6-.6-1.9-1.6v-4zM1302.7 980.9h3.6l1.7 1.5v4l-1.9 1.6-1.6.6-1.6-.6-1.9-1.6v-4zM1329.7 1028.1h3.6l1.7 1.5v4l-1.9 1.6-1.6.6-1.6-.6-1.9-1.6v-4zM1305.1 992.9h3.6l1.7 1.5v4l-1.9 1.6-1.6.6-1.6-.6-1.9-1.6v-4zM1327.3 972.3h3.6l1.7 1.5v4l-1.9 1.6-1.6.6-1.6-.6-1.9-1.6v-4zM1368.7 1007.3h3.6l1.7 1.5v4l-1.9 1.6-1.6.6-1.6-.6-1.9-1.6v-4zM1308.3 1024.7h3.6l1.7 1.5v4l-1.9 1.6-1.6.6-1.6-.6-1.9-1.6v-4zM1340 1032.3h3.6l1.7 1.5v4l-1.9 1.6-1.6.6-1.6-.6-1.9-1.6v-4zM1328.5 1021.9h3.6l1.7 1.5v4l-1.9 1.6-1.6.6-1.6-.6-1.9-1.6v-4zM1356.3 987.5h3.6l1.7 1.5v4l-1.9 1.6-1.6.6-1.6-.6-1.9-1.6v-4zM1379.2 983h3.6l1.7 1.5v4l-1.9 1.6-1.6.6-1.6-.6-1.9-1.6v-4zM1308.3 1016.3h3.6l1.7 1.5v4l-1.9 1.6-1.6.6-1.6-.6-1.9-1.6v-4zM1327.4 998.7h3.6l1.7 1.5v4l-1.9 1.6-1.6.6-1.6-.6-1.9-1.6v-4zM1312.5 1025.4h3.6l1.7 1.5v4l-1.9 1.6-1.6.6-1.6-.6-1.9-1.6v-4zM1379.3 987.7h3.6l1.7 1.5v4l-1.9 1.6-1.6.6-1.6-.6-1.9-1.6v-4zM1332.6 971.8h3.6l1.7 1.5v4l-1.9 1.6-1.6.6-1.6-.6-1.9-1.6v-4zM1346.7 968.9h3.6l1.7 1.5v4l-1.9 1.6-1.6.6-1.6-.6-1.9-1.6v-4zM1367 982.6h3.6l1.7 1.5v4l-1.9 1.6-1.6.6-1.6-.6-1.9-1.6v-4zM1322.1 993.9h3.6l1.7 1.5v4l-1.9 1.6-1.6.6-1.6-.6-1.9-1.6v-4zM1319.7 1028h3.6l1.7 1.5v4l-1.9 1.6-1.6.6-1.6-.6-1.9-1.6v-4zM1371.7 998.7h3.6l1.7 1.5v4l-1.9 1.6-1.6.6-1.6-.6-1.9-1.6v-4zM1346.2 963.4h3.6l1.7 1.5v4l-1.9 1.6-1.6.6-1.6-.6-1.9-1.6v-4zM1345.5 990h3.6l1.7 1.5v4l-1.9 1.6-1.6.6-1.6-.6-1.9-1.6v-4zM1329.4 983h3.6l1.7 1.5v4l-1.9 1.6-1.6.6-1.6-.6-1.9-1.6v-4zM1336.1 995.3h3.6l1.7 1.5v4l-1.9 1.6-1.6.6-1.6-.6-1.9-1.6v-4zM1297.9 1029.8h3.6l1.7 1.5v4l-1.9 1.6-1.6.6-1.6-.6-1.9-1.6v-4zM1305.3 1009.4h3.6l1.7 1.5v4l-1.9 1.6-1.6.6-1.6-.6-1.9-1.6v-4zM1346.7 996.4h3.6l1.7 1.5v4l-1.9 1.6-1.6.6-1.6-.6-1.9-1.6v-4zM1309 991.6h3.6l1.7 1.5v4l-1.9 1.6-1.6.6-1.6-.6-1.9-1.6v-4zM1350.7 1020h3.6l1.7 1.5v4l-1.9 1.6-1.6.6-1.6-.6-1.9-1.6v-4zM1372.3 982.1h3.6l1.7 1.5v4l-1.9 1.6-1.6.6-1.6-.6-1.9-1.6v-4zM1286.9 1029.6h3.6l1.7 1.5v4l-1.9 1.6-1.6.6-1.6-.6-1.9-1.6v-4zM1364.2 991.1h3.6l1.7 1.5v4l-1.9 1.6-1.6.6-1.6-.6-1.9-1.6v-4zM1314 977.9h3.6l1.7 1.5v4l-1.9 1.6-1.6.6-1.6-.6-1.9-1.6v-4zM1360.5 971.6h3.6l1.7 1.5v4l-1.9 1.6-1.6.6-1.6-.6-1.9-1.6v-4zM1319 1021.5h3.6l1.7 1.5v4l-1.9 1.6-1.6.6-1.6-.6-1.9-1.6v-4zM1342.7 1017.3h3.6l1.7 1.5v4l-1.9 1.6-1.6.6-1.6-.6-1.9-1.6v-4zM1369.8 992.4h3.6l1.7 1.5v4l-1.9 1.6-1.6.6-1.6-.6-1.9-1.6v-4zM1323.6 1032.1h3.6l1.7 1.5v4l-1.9 1.6-1.6.6-1.6-.6-1.9-1.6v-4zM1350.5 1014.5h3.6l1.7 1.5v4l-1.9 1.6-1.6.6-1.6-.6-1.9-1.6v-4zM1345.9 1030.5h3.6l1.7 1.5v4l-1.9 1.6-1.6.6-1.6-.6-1.9-1.6v-4zM1335.8 995.6h3.6l1.7 1.5v4l-1.9 1.6-1.6.6-1.6-.6-1.9-1.6v-4zM1331.1 1007.5h3.6l1.7 1.5v4l-1.9 1.6-1.6.6-1.6-.6-1.9-1.6v-4zM1358.3 1027h3.6l1.7 1.5v4l-1.9 1.6-1.6.6-1.6-.6-1.9-1.6v-4zM1324.7 978.9h3.6l1.7 1.5v4l-1.9 1.6-1.6.6-1.6-.6-1.9-1.6v-4zM1298.4 1007.8h3.6l1.7 1.5v4l-1.9 1.6-1.6.6-1.6-.6-1.9-1.6v-4zM1373.6 999.6h3.6l1.7 1.5v4l-1.9 1.6-1.6.6-1.6-.6-1.9-1.6v-4zM1344.3 1015.6h3.6l1.7 1.5v4l-1.9 1.6-1.6.6-1.6-.6-1.9-1.6v-4zM1373 967.3h3.6l1.7 1.5v4l-1.9 1.6-1.6.6-1.6-.6-1.9-1.6v-4zM1314.6 1002.9h3.6l1.7 1.5v4l-1.9 1.6-1.6.6-1.6-.6-1.9-1.6v-4zM1293.1 1005.6h3.6l1.7 1.5v4l-1.9 1.6-1.6.6-1.6-.6-1.9-1.6v-4zM1338.5 968.4h3.6l1.7 1.5v4l-1.9 1.6-1.6.6-1.6-.6-1.9-1.6v-4zM1340 1004.1h3.6l1.7 1.5v4l-1.9 1.6-1.6.6-1.6-.6-1.9-1.6v-4zM1337.6 1015.4h3.6l1.7 1.5v4l-1.9 1.6-1.6.6-1.6-.6-1.9-1.6v-4zM1329.7 1012.7h3.6l1.7 1.5v4l-1.9 1.6-1.6.6-1.6-.6-1.9-1.6v-4zM1305.3 1019.2h3.6l1.7 1.5v4l-1.9 1.6-1.6.6-1.6-.6-1.9-1.6v-4zM1317.4 1002h3.6l1.7 1.5v4l-1.9 1.6-1.6.6-1.6-.6-1.9-1.6v-4zM1327.7 1031.8h3.6l1.7 1.5v4l-1.9 1.6-1.6.6-1.6-.6-1.9-1.6v-4zM1308.7 976.3h3.6l1.7 1.5v4l-1.9 1.6-1.6.6-1.6-.6-1.9-1.6v-4zM1285 1019.2h3.6l1.7 1.5v4l-1.9 1.6-1.6.6-1.6-.6-1.9-1.6v-4zM1306.1 985.1h3.6l1.7 1.5v4l-1.9 1.6-1.6.6-1.6-.6-1.9-1.6v-4zM1315.8 1040.1h3.6l1.7 1.5v4l-1.9 1.6-1.6.6-1.6-.6-1.9-1.6v-4zM1358.7 983.4h3.6l1.7 1.5v4l-1.9 1.6-1.6.6-1.6-.6-1.9-1.6v-4zM1314 1015.2h3.6l1.7 1.5v4l-1.9 1.6-1.6.6-1.6-.6-1.9-1.6v-4zM1354.6 1000.1h3.6l1.7 1.5v4l-1.9 1.6-1.6.6-1.6-.6-1.9-1.6v-4zM1381.8 988.9h3.6l1.7 1.5v4l-1.9 1.6-1.6.6-1.6-.6-1.9-1.6v-4zM1299.3 1005.3h3.6l1.7 1.5v4l-1.9 1.6-1.6.6-1.6-.6-1.9-1.6v-4zM1378.8 985.4h3.6l1.7 1.5v4l-1.9 1.6-1.6.6-1.6-.6-1.9-1.6v-4zM1292.2 1014.3h3.6l1.7 1.5v4l-1.9 1.6-1.6.6-1.6-.6-1.9-1.6v-4zM1348 1031.2h3.6l1.7 1.5v4l-1.9 1.6-1.6.6-1.6-.6-1.9-1.6v-4zM1318.7 1032.8h3.6l1.7 1.5v4l-1.9 1.6-1.6.6-1.6-.6-1.9-1.6v-4zM1377.3 1002.5h3.6l1.7 1.5v4l-1.9 1.6-1.6.6-1.6-.6-1.9-1.6v-4zM1328.8 1030.7h3.6l1.7 1.5v4l-1.9 1.6-1.6.6-1.6-.6-1.9-1.6v-4zM1354.2 1028.6h3.6l1.7 1.5v4l-1.9 1.6-1.6.6-1.6-.6-1.9-1.6v-4zM1374.4 990.9h3.6l1.7 1.5v4l-1.9 1.6-1.6.6-1.6-.6-1.9-1.6v-4zM1318.6 1017.9h3.6l1.7 1.5v4l-1.9 1.6-1.6.6-1.6-.6-1.9-1.6v-4zM1341.9 970.9h3.6l1.7 1.5v4l-1.9 1.6-1.6.6-1.6-.6-1.9-1.6v-4zM1353.6 1013.4h3.6l1.7 1.5v4l-1.9 1.6-1.6.6-1.6-.6-1.9-1.6v-4zM1351.8 1009.8h3.6l1.7 1.5v4l-1.9 1.6-1.6.6-1.6-.6-1.9-1.6v-4zM1292 1028.7h3.6l1.7 1.5v4l-1.9 1.6-1.6.6-1.6-.6-1.9-1.6v-4zM1326.9 980.2h3.6l1.7 1.5v4l-1.9 1.6-1.6.6-1.6-.6-1.9-1.6v-4zM1295.1 1012.9h3.6l1.7 1.5v4l-1.9 1.6-1.6.6-1.6-.6-1.9-1.6v-4zM1309.1 996.7h3.6l1.7 1.5v4l-1.9 1.6-1.6.6-1.6-.6-1.9-1.6v-4zM1332 996.6h3.6l1.7 1.5v4l-1.9 1.6-1.6.6-1.6-.6-1.9-1.6v-4zM1325.9 1020.6h3.6l1.7 1.5v4l-1.9 1.6-1.6.6-1.6-.6-1.9-1.6v-4zM1342.5 997.3h3.6l1.7 1.5v4l-1.9 1.6-1.6.6-1.6-.6-1.9-1.6v-4zM1363 997.7h3.6l1.7 1.5v4l-1.9 1.6-1.6.6-1.6-.6-1.9-1.6v-4zM1347.5 961.2h3.6l1.7 1.5v4l-1.9 1.6-1.6.6-1.6-.6-1.9-1.6v-4zM1363.6 1017.1h3.6l1.7 1.5v4l-1.9 1.6-1.6.6-1.6-.6-1.9-1.6v-4zM1333.1 986.4h3.6l1.7 1.5v4l-1.9 1.6-1.6.6-1.6-.6-1.9-1.6v-4zM1329.7 976h3.6l1.7 1.5v4l-1.9 1.6-1.6.6-1.6-.6-1.9-1.6v-4zM1314 980.4h3.6l1.7 1.5v4l-1.9 1.6-1.6.6-1.6-.6-1.9-1.6v-4zM1365.2 966.1h3.6l1.7 1.5v4l-1.9 1.6-1.6.6-1.6-.6-1.9-1.6v-4zM1358.4 1016.2h3.6l1.7 1.5v4l-1.9 1.6-1.6.6-1.6-.6-1.9-1.6v-4zM1299.2 1011.1h3.6l1.7 1.5v4l-1.9 1.6-1.6.6-1.6-.6-1.9-1.6v-4zM1233.9 1027.3h3.6l1.7 1.5v4l-1.9 1.6-1.6.6-1.6-.6-1.9-1.6v-4zM1226.7 1020.8h3.6l1.7 1.5v4l-1.9 1.6-1.6.6-1.6-.6-1.9-1.6v-4zM1210.5 1012.7h3.6l1.7 1.5v4l-1.9 1.6-1.6.6-1.6-.6-1.9-1.6v-4zM1185.6 1032.6h3.6l1.7 1.5v4l-1.9 1.6-1.6.6-1.6-.6-1.9-1.6v-4zM1194.3 1022.4h3.6l1.7 1.5v4l-1.9 1.6-1.6.6-1.6-.6-1.9-1.6v-4zM1215.1 1034.6h3.6l1.7 1.5v4l-1.9 1.6-1.6.6-1.6-.6-1.9-1.6v-4zM1168.5 1021.8h3.6l1.7 1.5v4l-1.9 1.6-1.6.6-1.6-.6-1.9-1.6v-4zM1235.9 1044.1h3.6l1.7 1.5v4l-1.9 1.6-1.6.6-1.6-.6-1.9-1.6v-4zM1235.8 1020.8h3.6l1.7 1.5v4l-1.9 1.6-1.6.6-1.6-.6-1.9-1.6v-4zM1142.1 1034.3h3.6l1.7 1.5v4l-1.9 1.6-1.6.6-1.6-.6-1.9-1.6v-4zM1223.9 1024.9h3.6l1.7 1.5v4l-1.9 1.6-1.6.6-1.6-.6-1.9-1.6v-4zM1211.6 1012.1h3.6l1.7 1.5v4l-1.9 1.6-1.6.6-1.6-.6-1.9-1.6v-4zM1229.8 1042.2h3.6l1.7 1.5v4l-1.9 1.6-1.6.6-1.6-.6-1.9-1.6v-4zM1197.5 1020.9h3.6l1.7 1.5v4l-1.9 1.6-1.6.6-1.6-.6-1.9-1.6v-4zM1178.8 1044.7h3.6l1.7 1.5v4l-1.9 1.6-1.6.6-1.6-.6-1.9-1.6v-4zM1203.9 1022.2h3.6l1.7 1.5v4l-1.9 1.6-1.6.6-1.6-.6-1.9-1.6v-4zM1167.1 1033h3.6l1.7 1.5v4l-1.9 1.6-1.6.6-1.6-.6-1.9-1.6v-4zM1225.7 1029.5h3.6l1.7 1.5v4l-1.9 1.6-1.6.6-1.6-.6-1.9-1.6v-4zM1210.7 1026.1h3.6l1.7 1.5v4l-1.9 1.6-1.6.6-1.6-.6-1.9-1.6v-4zM1192.3 1021.9h3.6l1.7 1.5v4l-1.9 1.6-1.6.6-1.6-.6-1.9-1.6v-4zM1246.1 1045.2h3.6l1.7 1.5v4l-1.9 1.6-1.6.6-1.6-.6-1.9-1.6v-4zM1206.2 1044.5h3.6l1.7 1.5v4l-1.9 1.6-1.6.6-1.6-.6-1.9-1.6v-4zM1197 1025.8h3.6l1.7 1.5v4l-1.9 1.6-1.6.6-1.6-.6-1.9-1.6v-4zM1167 1035.2h3.6l1.7 1.5v4l-1.9 1.6-1.6.6-1.6-.6-1.9-1.6v-4zM1177.3 1036.7h3.6l1.7 1.5v4l-1.9 1.6-1.6.6-1.6-.6-1.9-1.6v-4zM1192 1024h3.6l1.7 1.5v4l-1.9 1.6-1.6.6-1.6-.6-1.9-1.6v-4zM1225.5 1041.8h3.6l1.7 1.5v4l-1.9 1.6-1.6.6-1.6-.6-1.9-1.6v-4zM1198 1051.7h3.6l1.7 1.5v4l-1.9 1.6-1.6.6-1.6-.6-1.9-1.6v-4zM1192.2 1036.6h3.6l1.7 1.5v4l-1.9 1.6-1.6.6-1.6-.6-1.9-1.6v-4zM1199.6 1017.2h3.6l1.7 1.5v4l-1.9 1.6-1.6.6-1.6-.6-1.9-1.6v-4zM1248.1 1035.8h3.6l1.7 1.5v4l-1.9 1.6-1.6.6-1.6-.6-1.9-1.6v-4zM1178.6 1049.8h3.6l1.7 1.5v4l-1.9 1.6-1.6.6-1.6-.6-1.9-1.6v-4zM1164.1 1020.5h3.6l1.7 1.5v4l-1.9 1.6-1.6.6-1.6-.6-1.9-1.6v-4zM1171.7 1033.4h3.6l1.7 1.5v4l-1.9 1.6-1.6.6-1.6-.6-1.9-1.6v-4zM1171.8 1018.6h3.6l1.7 1.5v4l-1.9 1.6-1.6.6-1.6-.6-1.9-1.6v-4zM1153.3 1031.5h3.6l1.7 1.5v4l-1.9 1.6-1.6.6-1.6-.6-1.9-1.6v-4zM1243.6 1016.3h3.6l1.7 1.5v4l-1.9 1.6-1.6.6-1.6-.6-1.9-1.6v-4zM1235.4 1029.4h3.6l1.7 1.5v4l-1.9 1.6-1.6.6-1.6-.6-1.9-1.6v-4zM1152 1052.5h3.6l1.7 1.5v4l-1.9 1.6-1.6.6-1.6-.6-1.9-1.6v-4zM1235.9 1035.7h3.6l1.7 1.5v4l-1.9 1.6-1.6.6-1.6-.6-1.9-1.6v-4zM1240.9 1045.6h3.6l1.7 1.5v4l-1.9 1.6-1.6.6-1.6-.6-1.9-1.6v-4zM1224 1025.8h3.6l1.7 1.5v4l-1.9 1.6-1.6.6-1.6-.6-1.9-1.6v-4zM1215.7 1056h3.6l1.7 1.5v4l-1.9 1.6-1.6.6-1.6-.6-1.9-1.6v-4zM1172.6 1052h3.6l1.7 1.5v4l-1.9 1.6-1.6.6-1.6-.6-1.9-1.6v-4zM1145.8 1042.2h3.6l1.7 1.5v4l-1.9 1.6-1.6.6-1.6-.6-1.9-1.6v-4zM1180.9 1019.2h3.6l1.7 1.5v4l-1.9 1.6-1.6.6-1.6-.6-1.9-1.6v-4zM1165.7 1058.7h3.6l1.7 1.5v4l-1.9 1.6-1.6.6-1.6-.6-1.9-1.6v-4zM1196.3 1037.2h3.6l1.7 1.5v4l-1.9 1.6-1.6.6-1.6-.6-1.9-1.6v-4zM1203.1 1036.2h3.6l1.7 1.5v4l-1.9 1.6-1.6.6-1.6-.6-1.9-1.6v-4zM1197.6 1039.3h3.6l1.7 1.5v4l-1.9 1.6-1.6.6-1.6-.6-1.9-1.6v-4zM1232.7 1044.4h3.6l1.7 1.5v4l-1.9 1.6-1.6.6-1.6-.6-1.9-1.6v-4zM1205.8 1020.3h3.6l1.7 1.5v4l-1.9 1.6-1.6.6-1.6-.6-1.9-1.6v-4zM1167 1050.9h3.6l1.7 1.5v4l-1.9 1.6-1.6.6-1.6-.6-1.9-1.6v-4zM1238.6 1020.3h3.6l1.7 1.5v4l-1.9 1.6-1.6.6-1.6-.6-1.9-1.6v-4zM1147.5 1052h3.6l1.7 1.5v4l-1.9 1.6-1.6.6-1.6-.6-1.9-1.6v-4zM1186 1016.6h3.6l1.7 1.5v4l-1.9 1.6-1.6.6-1.6-.6-1.9-1.6v-4zM1208.6 1046.8h3.6l1.7 1.5v4l-1.9 1.6-1.6.6-1.6-.6-1.9-1.6v-4zM1245.7 1036.9h3.6l1.7 1.5v4l-1.9 1.6-1.6.6-1.6-.6-1.9-1.6v-4zM1206.7 1034.9h3.6l1.7 1.5v4l-1.9 1.6-1.6.6-1.6-.6-1.9-1.6v-4zM1163.9 1049.6h3.6l1.7 1.5v4l-1.9 1.6-1.6.6-1.6-.6-1.9-1.6v-4zM1210.4 1050h3.6l1.7 1.5v4l-1.9 1.6-1.6.6-1.6-.6-1.9-1.6v-4zM1178.9 1042.4h3.6l1.7 1.5v4l-1.9 1.6-1.6.6-1.6-.6-1.9-1.6v-4zM1232.2 1017.8h3.6l1.7 1.5v4l-1.9 1.6-1.6.6-1.6-.6-1.9-1.6v-4zM1190.5 1039.6h3.6l1.7 1.5v4l-1.9 1.6-1.6.6-1.6-.6-1.9-1.6v-4zM1144.1 1037h3.6l1.7 1.5v4l-1.9 1.6-1.6.6-1.6-.6-1.9-1.6v-4zM1150.4 1052.9h3.6l1.7 1.5v4l-1.9 1.6-1.6.6-1.6-.6-1.9-1.6v-4zM1230.5 1018.7h3.6l1.7 1.5v4l-1.9 1.6-1.6.6-1.6-.6-1.9-1.6v-4zM1227.9 1044.6h3.6l1.7 1.5v4l-1.9 1.6-1.6.6-1.6-.6-1.9-1.6v-4zM1205.7 1038.2h3.6l1.7 1.5v4l-1.9 1.6-1.6.6-1.6-.6-1.9-1.6v-4zM1241.3 1026.6h3.6l1.7 1.5v4l-1.9 1.6-1.6.6-1.6-.6-1.9-1.6v-4zM1176.3 1042.1h3.6l1.7 1.5v4l-1.9 1.6-1.6.6-1.6-.6-1.9-1.6v-4zM1195.3 1040.6h3.6l1.7 1.5v4l-1.9 1.6-1.6.6-1.6-.6-1.9-1.6v-4zM1226.2 1034.2h3.6l1.7 1.5v4l-1.9 1.6-1.6.6-1.6-.6-1.9-1.6v-4zM1212 1015.7h3.6l1.7 1.5v4l-1.9 1.6-1.6.6-1.6-.6-1.9-1.6v-4zM1224.5 1026.1h3.6l1.7 1.5v4l-1.9 1.6-1.6.6-1.6-.6-1.9-1.6v-4zM1233 1014.7h3.6l1.7 1.5v4l-1.9 1.6-1.6.6-1.6-.6-1.9-1.6v-4zM1181.2 1054.5h3.6l1.7 1.5v4l-1.9 1.6-1.6.6-1.6-.6-1.9-1.6v-4zM1168.1 1055.8h3.6l1.7 1.5v4l-1.9 1.6-1.6.6-1.6-.6-1.9-1.6v-4zM1248.1 1018.3h3.6l1.7 1.5v4l-1.9 1.6-1.6.6-1.6-.6-1.9-1.6v-4zM1219 1025.8h3.6l1.7 1.5v4l-1.9 1.6-1.6.6-1.6-.6-1.9-1.6v-4zM1192.6 1042.4h3.6l1.7 1.5v4l-1.9 1.6-1.6.6-1.6-.6-1.9-1.6v-4zM1224.6 1024.5h3.6l1.7 1.5v4l-1.9 1.6-1.6.6-1.6-.6-1.9-1.6v-4zM1171.1 1020.4h3.6l1.7 1.5v4l-1.9 1.6-1.6.6-1.6-.6-1.9-1.6v-4zM1144.6 1041.8h3.6l1.7 1.5v4l-1.9 1.6-1.6.6-1.6-.6-1.9-1.6v-4zM1216.5 1043.6h3.6l1.7 1.5v4l-1.9 1.6-1.6.6-1.6-.6-1.9-1.6v-4zM1158.2 1053h3.6l1.7 1.5v4l-1.9 1.6-1.6.6-1.6-.6-1.9-1.6v-4zM1207.9 1049.1h3.6l1.7 1.5v4l-1.9 1.6-1.6.6-1.6-.6-1.9-1.6v-4zM1218.4 1056.3h3.6l1.7 1.5v4l-1.9 1.6-1.6.6-1.6-.6-1.9-1.6v-4zM1193.9 1038h3.6l1.7 1.5v4l-1.9 1.6-1.6.6-1.6-.6-1.9-1.6v-4zM1190.9 1047h3.6l1.7 1.5v4l-1.9 1.6-1.6.6-1.6-.6-1.9-1.6v-4zM1204.5 1030.7h3.6l1.7 1.5v4l-1.9 1.6-1.6.6-1.6-.6-1.9-1.6v-4zM1200.3 1019.9h3.6l1.7 1.5v4l-1.9 1.6-1.6.6-1.6-.6-1.9-1.6v-4zM1241.5 1039.9h3.6l1.7 1.5v4l-1.9 1.6-1.6.6-1.6-.6-1.9-1.6v-4zM1182.8 1057.8h3.6l1.7 1.5v4l-1.9 1.6-1.6.6-1.6-.6-1.9-1.6v-4zM1156.2 1052.9h3.6l1.7 1.5v4l-1.9 1.6-1.6.6-1.6-.6-1.9-1.6v-4zM1228.4 1037.3h3.6l1.7 1.5v4l-1.9 1.6-1.6.6-1.6-.6-1.9-1.6v-4zM1208.3 1039.7h3.6l1.7 1.5v4l-1.9 1.6-1.6.6-1.6-.6-1.9-1.6v-4zM1224 1020.3h3.6l1.7 1.5v4l-1.9 1.6-1.6.6-1.6-.6-1.9-1.6v-4zM1208 1030.3h3.6l1.7 1.5v4l-1.9 1.6-1.6.6-1.6-.6-1.9-1.6v-4zM1221 1024.4h3.6l1.7 1.5v4l-1.9 1.6-1.6.6-1.6-.6-1.9-1.6v-4zM1214.5 1045.2h3.6l1.7 1.5v4l-1.9 1.6-1.6.6-1.6-.6-1.9-1.6v-4zM1217.6 1028.1h3.6l1.7 1.5v4l-1.9 1.6-1.6.6-1.6-.6-1.9-1.6v-4zM1249.8 1038.4h3.6l1.7 1.5v4l-1.9 1.6-1.6.6-1.6-.6-1.9-1.6v-4zM1173.1 1024.7h3.6l1.7 1.5v4l-1.9 1.6-1.6.6-1.6-.6-1.9-1.6v-4zM1158.1 1032.2h3.6l1.7 1.5v4l-1.9 1.6-1.6.6-1.6-.6-1.9-1.6v-4zM1232.1 1045.6h3.6l1.7 1.5v4l-1.9 1.6-1.6.6-1.6-.6-1.9-1.6v-4zM1214.4 1035.1h3.6l1.7 1.5v4l-1.9 1.6-1.6.6-1.6-.6-1.9-1.6v-4zM1190.5 1039.7h3.6l1.7 1.5v4l-1.9 1.6-1.6.6-1.6-.6-1.9-1.6v-4zM1213.6 1048.7h3.6l1.7 1.5v4l-1.9 1.6-1.6.6-1.6-.6-1.9-1.6v-4zM1151.9 1032.3h3.6l1.7 1.5v4l-1.9 1.6-1.6.6-1.6-.6-1.9-1.6v-4zM1195 1019h3.6l1.7 1.5v4l-1.9 1.6-1.6.6-1.6-.6-1.9-1.6v-4zM1237.6 1050.7h3.6l1.7 1.5v4l-1.9 1.6-1.6.6-1.6-.6-1.9-1.6v-4zM1177.7 1059.3h3.6l1.7 1.5v4l-1.9 1.6-1.6.6-1.6-.6-1.9-1.6v-4zM1157.4 1049.7h3.6l1.7 1.5v4l-1.9 1.6-1.6.6-1.6-.6-1.9-1.6v-4zM1251.8 1022h3.6l1.7 1.5v4l-1.9 1.6-1.6.6-1.6-.6-1.9-1.6v-4zM1219.1 1035.8h3.6l1.7 1.5v4l-1.9 1.6-1.6.6-1.6-.6-1.9-1.6v-4zM1163.1 1049.2h3.6l1.7 1.5v4l-1.9 1.6-1.6.6-1.6-.6-1.9-1.6v-4zM1177.1 1019h3.6l1.7 1.5v4l-1.9 1.6-1.6.6-1.6-.6-1.9-1.6v-4zM1182.1 1016.1h3.6l1.7 1.5v4l-1.9 1.6-1.6.6-1.6-.6-1.9-1.6v-4zM1244.9 1037h3.6l1.7 1.5v4l-1.9 1.6-1.6.6-1.6-.6-1.9-1.6v-4zM1192.4 1019.9h3.6l1.7 1.5v4l-1.9 1.6-1.6.6-1.6-.6-1.9-1.6v-4zM1197.9 1016.6h3.6l1.7 1.5v4l-1.9 1.6-1.6.6-1.6-.6-1.9-1.6v-4zM1241.3 1027.2h3.6l1.7 1.5v4l-1.9 1.6-1.6.6-1.6-.6-1.9-1.6v-4zM1244.7 1026.2h3.6l1.7 1.5v4l-1.9 1.6-1.6.6-1.6-.6-1.9-1.6v-4zM1246.7 1043h3.6l1.7 1.5v4l-1.9 1.6-1.6.6-1.6-.6-1.9-1.6v-4zM1236.3 1049.8h3.6l1.7 1.5v4l-1.9 1.6-1.6.6-1.6-.6-1.9-1.6v-4zM1235.8 1021.2h3.6l1.7 1.5v4l-1.9 1.6-1.6.6-1.6-.6-1.9-1.6v-4zM1179.2 1027.7h3.6l1.7 1.5v4l-1.9 1.6-1.6.6-1.6-.6-1.9-1.6v-4zM1217.9 1018.6h3.6l1.7 1.5v4l-1.9 1.6-1.6.6-1.6-.6-1.9-1.6v-4zM1210 1055.2h3.6l1.7 1.5v4l-1.9 1.6-1.6.6-1.6-.6-1.9-1.6v-4zM1203.5 1027.4h3.6l1.7 1.5v4l-1.9 1.6-1.6.6-1.6-.6-1.9-1.6v-4zM1211.5 1029.8h3.6l1.7 1.5v4l-1.9 1.6-1.6.6-1.6-.6-1.9-1.6v-4zM1193.5 1035.8h3.6l1.7 1.5v4l-1.9 1.6-1.6.6-1.6-.6-1.9-1.6v-4zM1240.3 1045.1h3.6l1.7 1.5v4l-1.9 1.6-1.6.6-1.6-.6-1.9-1.6v-4zM1157.2 1036.9h3.6l1.7 1.5v4l-1.9 1.6-1.6.6-1.6-.6-1.9-1.6v-4zM1167.5 1032h3.6l1.7 1.5v4l-1.9 1.6-1.6.6-1.6-.6-1.9-1.6v-4zM1219.4 1038.1h3.6l1.7 1.5v4l-1.9 1.6-1.6.6-1.6-.6-1.9-1.6v-4zM1198 1025.9h3.6l1.7 1.5v4l-1.9 1.6-1.6.6-1.6-.6-1.9-1.6v-4zM1191.9 1058.3h3.6l1.7 1.5v4l-1.9 1.6-1.6.6-1.6-.6-1.9-1.6v-4zM1188.9 1039.9h3.6l1.7 1.5v4l-1.9 1.6-1.6.6-1.6-.6-1.9-1.6v-4zM1245.6 1031.2h3.6l1.7 1.5v4l-1.9 1.6-1.6.6-1.6-.6-1.9-1.6v-4zM1163.4 1041.9h3.6l1.7 1.5v4l-1.9 1.6-1.6.6-1.6-.6-1.9-1.6v-4zM1237.3 1046.6h3.6l1.7 1.5v4l-1.9 1.6-1.6.6-1.6-.6-1.9-1.6v-4zM1250.9 1022.1h3.6l1.7 1.5v4l-1.9 1.6-1.6.6-1.6-.6-1.9-1.6v-4zM1152.4 1052.7h3.6l1.7 1.5v4l-1.9 1.6-1.6.6-1.6-.6-1.9-1.6v-4zM1170.7 1019.8h3.6l1.7 1.5v4l-1.9 1.6-1.6.6-1.6-.6-1.9-1.6v-4zM1180.9 1057.1h3.6l1.7 1.5v4l-1.9 1.6-1.6.6-1.6-.6-1.9-1.6v-4zM1192.5 1014.1h3.6l1.7 1.5v4l-1.9 1.6-1.6.6-1.6-.6-1.9-1.6v-4zM1203.8 1019.9h3.6l1.7 1.5v4l-1.9 1.6-1.6.6-1.6-.6-1.9-1.6v-4zM1222.3 1023.8h3.6l1.7 1.5v4l-1.9 1.6-1.6.6-1.6-.6-1.9-1.6v-4zM1126.8 1050.4h3.6l1.7 1.5v4l-1.9 1.6-1.6.6-1.6-.6-1.9-1.6v-4zM1111.3 1062.6h3.6l1.7 1.5v4l-1.9 1.6-1.6.6-1.6-.6-1.9-1.6v-4zM1107.5 1059.8h3.6l1.7 1.5v4l-1.9 1.6-1.6.6-1.6-.6-1.9-1.6v-4zM1181.9 1069.1h3.6l1.7 1.5v4l-1.9 1.6-1.6.6-1.6-.6-1.9-1.6v-4zM1116 1057.6h3.6l1.7 1.5v4l-1.9 1.6-1.6.6-1.6-.6-1.9-1.6v-4zM1237.7 1058.5h3.6l1.7 1.5v4l-1.9 1.6-1.6.6-1.6-.6-1.9-1.6v-4zM1191.1 1057.8h3.6l1.7 1.5v4l-1.9 1.6-1.6.6-1.6-.6-1.9-1.6v-4zM1143.1 1073.6h3.6l1.7 1.5v4l-1.9 1.6-1.6.6-1.6-.6-1.9-1.6v-4zM1152.2 1047.2h3.6l1.7 1.5v4l-1.9 1.6-1.6.6-1.6-.6-1.9-1.6v-4zM1150.5 1063.1h3.6l1.7 1.5v4l-1.9 1.6-1.6.6-1.6-.6-1.9-1.6v-4zM1164.6 1063.3h3.6l1.7 1.5v4l-1.9 1.6-1.6.6-1.6-.6-1.9-1.6v-4zM1167.9 1048.4h3.6l1.7 1.5v4l-1.9 1.6-1.6.6-1.6-.6-1.9-1.6v-4zM1113.4 1052.5h3.6l1.7 1.5v4l-1.9 1.6-1.6.6-1.6-.6-1.9-1.6v-4zM1104.2 1068.7h3.6l1.7 1.5v4l-1.9 1.6-1.6.6-1.6-.6-1.9-1.6v-4zM1217.4 1049.7h3.6l1.7 1.5v4l-1.9 1.6-1.6.6-1.6-.6-1.9-1.6v-4zM1223.6 1058.5h3.6l1.7 1.5v4l-1.9 1.6-1.6.6-1.6-.6-1.9-1.6v-4zM1161.3 1056h3.6l1.7 1.5v4l-1.9 1.6-1.6.6-1.6-.6-1.9-1.6v-4zM1195.8 1049h3.6l1.7 1.5v4l-1.9 1.6-1.6.6-1.6-.6-1.9-1.6v-4zM1154.8 1069.1h3.6l1.7 1.5v4l-1.9 1.6-1.6.6-1.6-.6-1.9-1.6v-4zM1240.4 1059.7h3.6l1.7 1.5v4l-1.9 1.6-1.6.6-1.6-.6-1.9-1.6v-4zM1210.8 1046h3.6l1.7 1.5v4l-1.9 1.6-1.6.6-1.6-.6-1.9-1.6v-4zM1102.3 1063h3.6l1.7 1.5v4l-1.9 1.6-1.6.6-1.6-.6-1.9-1.6v-4zM1212.1 1057.8h3.6l1.7 1.5v4l-1.9 1.6-1.6.6-1.6-.6-1.9-1.6v-4zM1188.4 1055.8h3.6l1.7 1.5v4l-1.9 1.6-1.6.6-1.6-.6-1.9-1.6v-4zM1136.6 1070.2h3.6l1.7 1.5v4l-1.9 1.6-1.6.6-1.6-.6-1.9-1.6v-4zM1120.8 1050.5h3.6l1.7 1.5v4l-1.9 1.6-1.6.6-1.6-.6-1.9-1.6v-4zM1188.3 1058.5h3.6l1.7 1.5v4l-1.9 1.6-1.6.6-1.6-.6-1.9-1.6v-4zM1135.7 1047.9h3.6l1.7 1.5v4l-1.9 1.6-1.6.6-1.6-.6-1.9-1.6v-4zM1173.6 1067.1h3.6l1.7 1.5v4l-1.9 1.6-1.6.6-1.6-.6-1.9-1.6v-4zM1194.6 1067.5h3.6l1.7 1.5v4l-1.9 1.6-1.6.6-1.6-.6-1.9-1.6v-4zM1225.5 1063.9h3.6l1.7 1.5v4l-1.9 1.6-1.6.6-1.6-.6-1.9-1.6v-4zM1209.9 1048.6h3.6l1.7 1.5v4l-1.9 1.6-1.6.6-1.6-.6-1.9-1.6v-4zM1189 1067.6h3.6l1.7 1.5v4l-1.9 1.6-1.6.6-1.6-.6-1.9-1.6v-4zM1233.7 1069.5h3.6l1.7 1.5v4l-1.9 1.6-1.6.6-1.6-.6-1.9-1.6v-4zM1123.5 1063.4h3.6l1.7 1.5v4l-1.9 1.6-1.6.6-1.6-.6-1.9-1.6v-4zM1173.4 1056.4h3.6l1.7 1.5v4l-1.9 1.6-1.6.6-1.6-.6-1.9-1.6v-4zM1192.8 1047.9h3.6l1.7 1.5v4l-1.9 1.6-1.6.6-1.6-.6-1.9-1.6v-4zM1209.7 1053h3.6l1.7 1.5v4l-1.9 1.6-1.6.6-1.6-.6-1.9-1.6v-4zM1174.8 1047.6h3.6l1.7 1.5v4l-1.9 1.6-1.6.6-1.6-.6-1.9-1.6v-4zM1141.9 1051.9h3.6l1.7 1.5v4l-1.9 1.6-1.6.6-1.6-.6-1.9-1.6v-4zM1138.2 1068.4h3.6l1.7 1.5v4l-1.9 1.6-1.6.6-1.6-.6-1.9-1.6v-4zM1172.1 1074.8h3.6l1.7 1.5v4l-1.9 1.6-1.6.6-1.6-.6-1.9-1.6v-4zM1202.2 1065.8h3.6l1.7 1.5v4l-1.9 1.6-1.6.6-1.6-.6-1.9-1.6v-4zM1175.8 1063h3.6l1.7 1.5v4l-1.9 1.6-1.6.6-1.6-.6-1.9-1.6v-4zM1188.7 1074h3.6l1.7 1.5v4l-1.9 1.6-1.6.6-1.6-.6-1.9-1.6v-4zM1115.9 1052.2h3.6l1.7 1.5v4l-1.9 1.6-1.6.6-1.6-.6-1.9-1.6v-4zM1143.4 1067.1h3.6l1.7 1.5v4l-1.9 1.6-1.6.6-1.6-.6-1.9-1.6v-4zM1126.3 1068.2h3.6l1.7 1.5v4l-1.9 1.6-1.6.6-1.6-.6-1.9-1.6v-4zM1117.1 1050.2h3.6l1.7 1.5v4l-1.9 1.6-1.6.6-1.6-.6-1.9-1.6v-4zM1187.6 1061.9h3.6l1.7 1.5v4l-1.9 1.6-1.6.6-1.6-.6-1.9-1.6v-4zM1256.6 1062.3h3.6l1.7 1.5v4l-1.9 1.6-1.6.6-1.6-.6-1.9-1.6v-4zM1151.4 1063h3.6l1.7 1.5v4l-1.9 1.6-1.6.6-1.6-.6-1.9-1.6v-4zM1129.9 1072.5h3.6l1.7 1.5v4l-1.9 1.6-1.6.6-1.6-.6-1.9-1.6v-4zM1188.9 1050.5h3.6l1.7 1.5v4l-1.9 1.6-1.6.6-1.6-.6-1.9-1.6v-4zM1190 1047.4h3.6l1.7 1.5v4l-1.9 1.6-1.6.6-1.6-.6-1.9-1.6v-4zM1190.7 1067.7h3.6l1.7 1.5v4l-1.9 1.6-1.6.6-1.6-.6-1.9-1.6v-4zM1179.4 1073.4h3.6l1.7 1.5v4l-1.9 1.6-1.6.6-1.6-.6-1.9-1.6v-4zM1207.5 1047.3h3.6l1.7 1.5v4l-1.9 1.6-1.6.6-1.6-.6-1.9-1.6v-4zM1130.5 1058.2h3.6l1.7 1.5v4l-1.9 1.6-1.6.6-1.6-.6-1.9-1.6v-4zM1144.2 1055.5h3.6l1.7 1.5v4l-1.9 1.6-1.6.6-1.6-.6-1.9-1.6v-4zM1163.5 1063.6h3.6l1.7 1.5v4l-1.9 1.6-1.6.6-1.6-.6-1.9-1.6v-4zM1149.6 1049.8h3.6l1.7 1.5v4l-1.9 1.6-1.6.6-1.6-.6-1.9-1.6v-4zM1119.1 1055.4h3.6l1.7 1.5v4l-1.9 1.6-1.6.6-1.6-.6-1.9-1.6v-4zM1244.8 1060.7h3.6l1.7 1.5v4l-1.9 1.6-1.6.6-1.6-.6-1.9-1.6v-4zM1257.2 1057.4h3.6l1.7 1.5v4l-1.9 1.6-1.6.6-1.6-.6-1.9-1.6v-4zM1237.7 1050.8h3.6l1.7 1.5v4l-1.9 1.6-1.6.6-1.6-.6-1.9-1.6v-4zM1204.2 1073.2h3.6l1.7 1.5v4l-1.9 1.6-1.6.6-1.6-.6-1.9-1.6v-4zM1215.4 1054.2h3.6l1.7 1.5v4l-1.9 1.6-1.6.6-1.6-.6-1.9-1.6v-4zM1174 1060.4h3.6l1.7 1.5v4l-1.9 1.6-1.6.6-1.6-.6-1.9-1.6v-4zM1135.7 1063.4h3.6l1.7 1.5v4l-1.9 1.6-1.6.6-1.6-.6-1.9-1.6v-4zM1131.4 1064.6h3.6l1.7 1.5v4l-1.9 1.6-1.6.6-1.6-.6-1.9-1.6v-4zM1150.1 1047.4h3.6l1.7 1.5v4l-1.9 1.6-1.6.6-1.6-.6-1.9-1.6v-4zM1235.7 1050.4h3.6l1.7 1.5v4l-1.9 1.6-1.6.6-1.6-.6-1.9-1.6v-4zM1233.7 1065h3.6l1.7 1.5v4l-1.9 1.6-1.6.6-1.6-.6-1.9-1.6v-4zM1155 1049.8h3.6l1.7 1.5v4l-1.9 1.6-1.6.6-1.6-.6-1.9-1.6v-4zM1176.5 1062h3.6l1.7 1.5v4l-1.9 1.6-1.6.6-1.6-.6-1.9-1.6v-4zM1100.9 1056.6h3.6l1.7 1.5v4l-1.9 1.6-1.6.6-1.6-.6-1.9-1.6v-4zM1161.2 1066.5h3.6l1.7 1.5v4l-1.9 1.6-1.6.6-1.6-.6-1.9-1.6v-4zM1225 1051.6h3.6l1.7 1.5v4l-1.9 1.6-1.6.6-1.6-.6-1.9-1.6v-4zM1158 1060.1h3.6l1.7 1.5v4l-1.9 1.6-1.6.6-1.6-.6-1.9-1.6v-4zM1204.2 1064.3h3.6l1.7 1.5v4l-1.9 1.6-1.6.6-1.6-.6-1.9-1.6v-4zM1162.9 1059.8h3.6l1.7 1.5v4l-1.9 1.6-1.6.6-1.6-.6-1.9-1.6v-4zM1207.7 1051.2h3.6l1.7 1.5v4l-1.9 1.6-1.6.6-1.6-.6-1.9-1.6v-4zM1194.8 1063.2h3.6l1.7 1.5v4l-1.9 1.6-1.6.6-1.6-.6-1.9-1.6v-4zM1136.4 1061.4h3.6l1.7 1.5v4l-1.9 1.6-1.6.6-1.6-.6-1.9-1.6v-4zM1126.8 1057.1h3.6l1.7 1.5v4l-1.9 1.6-1.6.6-1.6-.6-1.9-1.6v-4zM1222.6 1048.1h3.6l1.7 1.5v4l-1.9 1.6-1.6.6-1.6-.6-1.9-1.6v-4zM1164.9 1048.4h3.6l1.7 1.5v4l-1.9 1.6-1.6.6-1.6-.6-1.9-1.6v-4zM1123 1051.3h3.6l1.7 1.5v4l-1.9 1.6-1.6.6-1.6-.6-1.9-1.6v-4zM1120.2 1050.3h3.6l1.7 1.5v4l-1.9 1.6-1.6.6-1.6-.6-1.9-1.6v-4zM1092.7 1063h3.6l1.7 1.5v4l-1.9 1.6-1.6.6-1.6-.6-1.9-1.6v-4zM1206.9 1053.6h3.6l1.7 1.5v4l-1.9 1.6-1.6.6-1.6-.6-1.9-1.6v-4zM1137.8 1067.2h3.6l1.7 1.5v4l-1.9 1.6-1.6.6-1.6-.6-1.9-1.6v-4zM1137.4 1051.9h3.6l1.7 1.5v4l-1.9 1.6-1.6.6-1.6-.6-1.9-1.6v-4zM1173.1 1049.4h3.6l1.7 1.5v4l-1.9 1.6-1.6.6-1.6-.6-1.9-1.6v-4zM1206.8 1050.4h3.6l1.7 1.5v4l-1.9 1.6-1.6.6-1.6-.6-1.9-1.6v-4zM1190.8 1066.2h3.6l1.7 1.5v4l-1.9 1.6-1.6.6-1.6-.6-1.9-1.6v-4zM1134.9 1073.1h3.6l1.7 1.5v4l-1.9 1.6-1.6.6-1.6-.6-1.9-1.6v-4zM1135.9 1063.5h3.6l1.7 1.5v4l-1.9 1.6-1.6.6-1.6-.6-1.9-1.6v-4zM1181.9 1060.7h3.6l1.7 1.5v4l-1.9 1.6-1.6.6-1.6-.6-1.9-1.6v-4zM1222.3 1056.7h3.6l1.7 1.5v4l-1.9 1.6-1.6.6-1.6-.6-1.9-1.6v-4zM1115.7 1059.8h3.6l1.7 1.5v4l-1.9 1.6-1.6.6-1.6-.6-1.9-1.6v-4zM1159 1060.7h3.6l1.7 1.5v4l-1.9 1.6-1.6.6-1.6-.6-1.9-1.6v-4zM1117.4 1056.1h3.6l1.7 1.5v4l-1.9 1.6-1.6.6-1.6-.6-1.9-1.6v-4zM1196.5 1055.6h3.6l1.7 1.5v4l-1.9 1.6-1.6.6-1.6-.6-1.9-1.6v-4zM1209 1047.8h3.6l1.7 1.5v4l-1.9 1.6-1.6.6-1.6-.6-1.9-1.6v-4zM1187.5 1052.3h3.6l1.7 1.5v4l-1.9 1.6-1.6.6-1.6-.6-1.9-1.6v-4zM1194.2 1063.7h3.6l1.7 1.5v4l-1.9 1.6-1.6.6-1.6-.6-1.9-1.6v-4zM1241.7 1058.9h3.6l1.7 1.5v4l-1.9 1.6-1.6.6-1.6-.6-1.9-1.6v-4zM1187.6 1072.6h3.6l1.7 1.5v4l-1.9 1.6-1.6.6-1.6-.6-1.9-1.6v-4zM1137.6 1050.1h3.6l1.7 1.5v4l-1.9 1.6-1.6.6-1.6-.6-1.9-1.6v-4zM1174 1074.3h3.6l1.7 1.5v4l-1.9 1.6-1.6.6-1.6-.6-1.9-1.6v-4zM1093.1 1057.9h3.6l1.7 1.5v4l-1.9 1.6-1.6.6-1.6-.6-1.9-1.6v-4zM1192 1058.7h3.6l1.7 1.5v4l-1.9 1.6-1.6.6-1.6-.6-1.9-1.6v-4zM1233.7 1052h3.6l1.7 1.5v4l-1.9 1.6-1.6.6-1.6-.6-1.9-1.6v-4zM1168.8 1048.5h3.6l1.7 1.5v4l-1.9 1.6-1.6.6-1.6-.6-1.9-1.6v-4zM1230.6 1053.1h3.6l1.7 1.5v4l-1.9 1.6-1.6.6-1.6-.6-1.9-1.6v-4zM1104 1057h3.6l1.7 1.5v4l-1.9 1.6-1.6.6-1.6-.6-1.9-1.6v-4zM1182.4 1071.4h3.6l1.7 1.5v4l-1.9 1.6-1.6.6-1.6-.6-1.9-1.6v-4zM1216.4 1056.1h3.6l1.7 1.5v4l-1.9 1.6-1.6.6-1.6-.6-1.9-1.6v-4zM1206.1 993.9h3.6l1.7 1.5v4l-1.9 1.6-1.6.6-1.6-.6-1.9-1.6v-4zM1198.6 993.4h3.6l1.7 1.5v4l-1.9 1.6-1.6.6-1.6-.6-1.9-1.6v-4zM1188.3 980.1h3.6l1.7 1.5v4l-1.9 1.6-1.6.6-1.6-.6-1.9-1.6v-4zM1220.6 979.6h3.6l1.7 1.5v4l-1.9 1.6-1.6.6-1.6-.6-1.9-1.6v-4zM1191.9 980.7h3.6l1.7 1.5v4l-1.9 1.6-1.6.6-1.6-.6-1.9-1.6v-4zM1189.2 991.6h3.6l1.7 1.5v4l-1.9 1.6-1.6.6-1.6-.6-1.9-1.6v-4zM1182.3 990.5h3.6l1.7 1.5v4l-1.9 1.6-1.6.6-1.6-.6-1.9-1.6v-4zM1223 980.2h3.6l1.7 1.5v4l-1.9 1.6-1.6.6-1.6-.6-1.9-1.6v-4zM1190.1 979.6h3.6l1.7 1.5v4l-1.9 1.6-1.6.6-1.6-.6-1.9-1.6v-4zM1215.7 993.6h3.6l1.7 1.5v4l-1.9 1.6-1.6.6-1.6-.6-1.9-1.6v-4zM1215.6 982.9h3.6l1.7 1.5v4l-1.9 1.6-1.6.6-1.6-.6-1.9-1.6v-4zM1191.9 976.4h3.6l1.7 1.5v4l-1.9 1.6-1.6.6-1.6-.6-1.9-1.6v-4zM1199.6 979.9h3.6l1.7 1.5v4l-1.9 1.6-1.6.6-1.6-.6-1.9-1.6v-4zM1199.5 984.2h3.6l1.7 1.5v4l-1.9 1.6-1.6.6-1.6-.6-1.9-1.6v-4zM1226.7 981h3.6l1.7 1.5v4l-1.9 1.6-1.6.6-1.6-.6-1.9-1.6v-4zM1207 999.9h3.6l1.7 1.5v4l-1.9 1.6-1.6.6-1.6-.6-1.9-1.6v-4zM1204.6 996.3h3.6l1.7 1.5v4l-1.9 1.6-1.6.6-1.6-.6-1.9-1.6v-4zM1206.2 972.3h3.6l1.7 1.5v4l-1.9 1.6-1.6.6-1.6-.6-1.9-1.6v-4zM1192.4 1000.8h3.6l1.7 1.5v4l-1.9 1.6-1.6.6-1.6-.6-1.9-1.6v-4zM1212.3 978.2h3.6l1.7 1.5v4l-1.9 1.6-1.6.6-1.6-.6-1.9-1.6v-4zM1204.1 997.2h3.6l1.7 1.5v4l-1.9 1.6-1.6.6-1.6-.6-1.9-1.6v-4zM1210 987h3.6l1.7 1.5v4l-1.9 1.6-1.6.6-1.6-.6-1.9-1.6v-4zM1205 987.5h3.6l1.7 1.5v4l-1.9 1.6-1.6.6-1.6-.6-1.9-1.6v-4zM1194.1 983.1h3.6l1.7 1.5v4l-1.9 1.6-1.6.6-1.6-.6-1.9-1.6v-4zM1226.8 989.3h3.6l1.7 1.5v4l-1.9 1.6-1.6.6-1.6-.6-1.9-1.6v-4zM1207.7 986.6h3.6l1.7 1.5v4l-1.9 1.6-1.6.6-1.6-.6-1.9-1.6v-4zM1195 976.2h3.6l1.7 1.5v4l-1.9 1.6-1.6.6-1.6-.6-1.9-1.6v-4zM1190.8 987h3.6l1.7 1.5v4l-1.9 1.6-1.6.6-1.6-.6-1.9-1.6v-4zM1212.6 998.5h3.6l1.7 1.5v4l-1.9 1.6-1.6.6-1.6-.6-1.9-1.6v-4zM1212.3 999.1h3.6l1.7 1.5v4l-1.9 1.6-1.6.6-1.6-.6-1.9-1.6v-4zM1221.3 978h3.6l1.7 1.5v4l-1.9 1.6-1.6.6-1.6-.6-1.9-1.6v-4zM1203.6 989.3h3.6l1.7 1.5v4l-1.9 1.6-1.6.6-1.6-.6-1.9-1.6v-4zM1215.3 982.4h3.6l1.7 1.5v4l-1.9 1.6-1.6.6-1.6-.6-1.9-1.6v-4zM1210.4 983.9h3.6l1.7 1.5v4l-1.9 1.6-1.6.6-1.6-.6-1.9-1.6v-4zM1216.8 991.8h3.6l1.7 1.5v4l-1.9 1.6-1.6.6-1.6-.6-1.9-1.6v-4zM1200.7 999.9h3.6l1.7 1.5v4l-1.9 1.6-1.6.6-1.6-.6-1.9-1.6v-4zM1203.1 985.1h3.6l1.7 1.5v4l-1.9 1.6-1.6.6-1.6-.6-1.9-1.6v-4zM1218.1 981.9h3.6l1.7 1.5v4l-1.9 1.6-1.6.6-1.6-.6-1.9-1.6v-4zM1221.3 975.2h3.6l1.7 1.5v4l-1.9 1.6-1.6.6-1.6-.6-1.9-1.6v-4zM1201.5 988.2h3.6l1.7 1.5v4l-1.9 1.6-1.6.6-1.6-.6-1.9-1.6v-4zM1447.1 853.9h3.6l1.7 1.5v4l-1.9 1.6-1.6.6-1.6-.6-1.9-1.6v-4zM1482 878.1h3.6l1.7 1.5v4l-1.9 1.6-1.6.6-1.6-.6-1.9-1.6v-4zM1455.9 891.5h3.6l1.7 1.5v4l-1.9 1.6-1.6.6-1.6-.6-1.9-1.6v-4zM1353.7 899.2h3.6l1.7 1.5v4l-1.9 1.6-1.6.6-1.6-.6-1.9-1.6v-4zM1490.1 901.9h3.6l1.7 1.5v4l-1.9 1.6-1.6.6-1.6-.6-1.9-1.6v-4zM1432.5 915.7h3.6l1.7 1.5v4l-1.9 1.6-1.6.6-1.6-.6-1.9-1.6v-4zM1422.1 924.2h3.6l1.7 1.5v4l-1.9 1.6-1.6.6-1.6-.6-1.9-1.6v-4zM1227.3 931.5h3.6l1.7 1.5v4l-1.9 1.6-1.6.6-1.6-.6-1.9-1.6v-4zM1492.4 931.5h3.6l1.7 1.5v4l-1.9 1.6-1.6.6-1.6-.6-1.9-1.6v-4zM1410.2 933.4h3.6l1.7 1.5v4l-1.9 1.6-1.6.6-1.6-.6-1.9-1.6v-4zM1442.5 938h3.6l1.7 1.5v4l-1.9 1.6-1.6.6-1.6-.6-1.9-1.6v-4zM1453.6 938h3.6l1.7 1.5v4l-1.9 1.6-1.6.6-1.6-.6-1.9-1.6v-4zM1467.4 938.8h3.6l1.7 1.5v4l-1.9 1.6-1.6.6-1.6-.6-1.9-1.6v-4zM1323 934.5h3.6l1.7 1.5v4l-1.9 1.6-1.6.6-1.6-.6-1.9-1.6v-4zM1320.7 928.8h3.6l1.7 1.5v4l-1.9 1.6-1.6.6-1.6-.6-1.9-1.6v-4zM1339.1 927.6h3.6l1.7 1.5v4l-1.9 1.6-1.6.6-1.6-.6-1.9-1.6v-4zM1358.7 940.7h3.6l1.7 1.5v4l-1.9 1.6-1.6.6-1.6-.6-1.9-1.6v-4zM1316.5 946.5h3.6l1.7 1.5v4l-1.9 1.6-1.6.6-1.6-.6-1.9-1.6v-4zM1285.3 946.1h3.6l1.7 1.5v4l-1.9 1.6-1.6.6-1.6-.6-1.9-1.6v-4zM1388.7 954.1h3.6l1.7 1.5v4l-1.9 1.6-1.6.6-1.6-.6-1.9-1.6v-4zM1397.5 954.1h3.6l1.7 1.5v4l-1.9 1.6-1.6.6-1.6-.6-1.9-1.6v-4zM1399.1 960.7h3.6l1.7 1.5v4l-1.9 1.6-1.6.6-1.6-.6-1.9-1.6v-4zM1415.2 961.4h3.6l1.7 1.5v4l-1.9 1.6-1.6.6-1.6-.6-1.9-1.6v-4zM1509.7 963.4h3.6l1.7 1.5v4l-1.9 1.6-1.6.6-1.6-.6-1.9-1.6v-4zM1437.9 966.4h3.6l1.7 1.5v4l-1.9 1.6-1.6.6-1.6-.6-1.9-1.6v-4zM1428.3 971.4h3.6l1.7 1.5v4l-1.9 1.6-1.6.6-1.6-.6-1.9-1.6v-4zM1453.6 975.3h3.6l1.7 1.5v4l-1.9 1.6-1.6.6-1.6-.6-1.9-1.6v-4zM1389.5 969.1h3.6l1.7 1.5v4l-1.9 1.6-1.6.6-1.6-.6-1.9-1.6v-4zM1386 978h3.6l1.7 1.5v4l-1.9 1.6-1.6.6-1.6-.6-1.9-1.6v-4zM1374.5 972.6h3.6l1.7 1.5v4l-1.9 1.6-1.6.6-1.6-.6-1.9-1.6v-4zM1344.9 968.4h3.6l1.7 1.5v4l-1.9 1.6-1.6.6-1.6-.6-1.9-1.6v-4zM1404.1 984.5h3.6l1.7 1.5v4l-1.9 1.6-1.6.6-1.6-.6-1.9-1.6v-4zM1407.5 997.2h3.6l1.7 1.5v4l-1.9 1.6-1.6.6-1.6-.6-1.9-1.6v-4zM1394.4 1000.2h3.6l1.7 1.5v4l-1.9 1.6-1.6.6-1.6-.6-1.9-1.6v-4zM1387.5 1012.2h3.6l1.7 1.5v4l-1.9 1.6-1.6.6-1.6-.6-1.9-1.6v-4zM1430.9 1026h3.6l1.7 1.5v4l-1.9 1.6-1.6.6-1.6-.6-1.9-1.6v-4zM1441.7 1028.7h3.6l1.7 1.5v4l-1.9 1.6-1.6.6-1.6-.6-1.9-1.6v-4zM1296.5 1082.5h3.6l1.7 1.5v4l-1.9 1.6-1.6.6-1.6-.6-1.9-1.6v-4zM1220 1123.9h3.6l1.7 1.5v4l-1.9 1.6-1.6.6-1.6-.6-1.9-1.6v-4zM1058.7 1031h3.6l1.7 1.5v4l-1.9 1.6-1.6.6-1.6-.6-1.9-1.6v-4zM1049.8 1039.8h3.6l1.7 1.5v4l-1.9 1.6-1.6.6-1.6-.6-1.9-1.6v-4zM1027.9 1055.9h3.6l1.7 1.5v4l-1.9 1.6-1.6.6-1.6-.6-1.9-1.6v-4zM1035.6 1060.6h3.6l1.7 1.5v4l-1.9 1.6-1.6.6-1.6-.6-1.9-1.6v-4zM1041.4 1055.6h3.6l1.7 1.5v4l-1.9 1.6-1.6.6-1.6-.6-1.9-1.6v-4zM1045.2 1062.5h3.6l1.7 1.5v4l-1.9 1.6-1.6.6-1.6-.6-1.9-1.6v-4zM1049.1 1064h3.6l1.7 1.5v4l-1.9 1.6-1.6.6-1.6-.6-1.9-1.6v-4zM1052.2 1060.2h3.6l1.7 1.5v4l-1.9 1.6-1.6.6-1.6-.6-1.9-1.6v-4zM1061.8 1070.5h3.6l1.7 1.5v4l-1.9 1.6-1.6.6-1.6-.6-1.9-1.6v-4zM1073.7 1064h3.6l1.7 1.5v4l-1.9 1.6-1.6.6-1.6-.6-1.9-1.6v-4zM1079.4 1054.8h3.6l1.7 1.5v4l-1.9 1.6-1.6.6-1.6-.6-1.9-1.6v-4zM1084.4 1061.3h3.6l1.7 1.5v4l-1.9 1.6-1.6.6-1.6-.6-1.9-1.6v-4zM1091.3 1067.1h3.6l1.7 1.5v4l-1.9 1.6-1.6.6-1.6-.6-1.9-1.6v-4zM1110.2 1080.5h3.6l1.7 1.5v4l-1.9 1.6-1.6.6-1.6-.6-1.9-1.6v-4zM1120.9 1007.2h3.6l1.7 1.5v4l-1.9 1.6-1.6.6-1.6-.6-1.9-1.6v-4zM1140.9 1007.5h3.6l1.7 1.5v4l-1.9 1.6-1.6.6-1.6-.6-1.9-1.6v-4zM1184.3 1084.8h3.6l1.7 1.5v4l-1.9 1.6-1.6.6-1.6-.6-1.9-1.6v-4zM1203.5 1080.5h3.6l1.7 1.5v4l-1.9 1.6-1.6.6-1.6-.6-1.9-1.6v-4zM1228.9 1077.8h3.6l1.7 1.5v4l-1.9 1.6-1.6.6-1.6-.6-1.9-1.6v-4zM1251.5 1079.8h3.6l1.7 1.5v4l-1.9 1.6-1.6.6-1.6-.6-1.9-1.6v-4zM1310.3 1068.2h3.6l1.7 1.5v4l-1.9 1.6-1.6.6-1.6-.6-1.9-1.6v-4zM1309.5 1058.6h3.6l1.7 1.5v4l-1.9 1.6-1.6.6-1.6-.6-1.9-1.6v-4zM1307.2 1055.2h3.6l1.7 1.5v4l-1.9 1.6-1.6.6-1.6-.6-1.9-1.6v-4zM1296.1 1050.6h3.6l1.7 1.5v4l-1.9 1.6-1.6.6-1.6-.6-1.9-1.6v-4zM1338.7 1049h3.6l1.7 1.5v4l-1.9 1.6-1.6.6-1.6-.6-1.9-1.6v-4zM1352.2 1050.2h3.6l1.7 1.5v4l-1.9 1.6-1.6.6-1.6-.6-1.9-1.6v-4zM1354.5 1042.5h3.6l1.7 1.5v4l-1.9 1.6-1.6.6-1.6-.6-1.9-1.6v-4zM1316.1 1041.3h3.6l1.7 1.5v4l-1.9 1.6-1.6.6-1.6-.6-1.9-1.6v-4zM1318.8 1046h3.6l1.7 1.5v4l-1.9 1.6-1.6.6-1.6-.6-1.9-1.6v-4zM1374.5 1030.6h3.6l1.7 1.5v4l-1.9 1.6-1.6.6-1.6-.6-1.9-1.6v-4zM1372.2 1022.9h3.6l1.7 1.5v4l-1.9 1.6-1.6.6-1.6-.6-1.9-1.6v-4z"/>
<g class="r"><circle cx="1383.6" cy="791.5" r="6"/><circle cx="1427.4" cy="819.5" r="6"/><circle cx="1262.6" cy="866" r="6"/><circle cx="1379" cy="886.8" r="6"/><circle cx="1382.8" cy="891.4" r="6"/><circle cx="1296" cy="895.2" r="6"/><circle cx="1403.2" cy="895.6" r="6"/><circle cx="1244.5" cy="902.9" r="6"/><circle cx="1420.8" cy="905.2" r="6"/><circle cx="1525.7" cy="905.6" r="6"/><circle cx="1334" cy="919.8" r="6"/><circle cx="1334.4" cy="912.1" r="6"/><circle cx="1316" cy="924" r="6"/><circle cx="1296.4" cy="929" r="6"/><circle cx="1367.8" cy="933.2" r="6"/><circle cx="1392.8" cy="936.3" r="6"/><circle cx="1402" cy="941.7" r="6"/><circle cx="1299.1" cy="943.2" r="6"/><circle cx="1344.4" cy="956.3" r="6"/><circle cx="1347.5" cy="949" r="6"/><circle cx="1246" cy="953.6" r="6"/><circle cx="1466.9" cy="952.4" r="6"/><circle cx="1379" cy="956.3" r="6"/><circle cx="1371.3" cy="958.2" r="6"/><circle cx="1314" cy="963.2" r="6"/><circle cx="1332.1" cy="969.7" r="6"/><circle cx="1281.4" cy="970.5" r="6"/><circle cx="1460.8" cy="969.7" r="6"/><circle cx="1237.6" cy="975.5" r="6"/><circle cx="1241" cy="978.6" r="6"/><circle cx="1358.2" cy="981.3" r="6"/><circle cx="1309.8" cy="989.7" r="6"/><circle cx="1277.9" cy="991.2" r="6"/><circle cx="1448.5" cy="990.9" r="6"/><circle cx="1182.7" cy="997.8" r="6"/><circle cx="1515" cy="1005.5" r="6"/><circle cx="1204.9" cy="1010.1" r="6"/><circle cx="1261" cy="1008.5" r="6"/><circle cx="1322.1" cy="1013.5" r="6"/><circle cx="1289.8" cy="1017.4" r="6"/><circle cx="1232.6" cy="1023.1" r="6"/><circle cx="1117.7" cy="1025.4" r="6"/><circle cx="1513.4" cy="1024.7" r="6"/><circle cx="1315.6" cy="1028.9" r="6"/><circle cx="1169.2" cy="1032.4" r="6"/></g>
<g class="b"><circle cx="1373.2" cy="1063.1" r="6"/><circle cx="1095" cy="1053.1" r="6"/><circle cx="1103.3" cy="1064" r="6"/><circle cx="1135.6" cy="1060.8" r="6"/><circle cx="1149.6" cy="1057.7" r="6"/><circle cx="1128.3" cy="1081.7" r="6"/><circle cx="1122.1" cy="1075" r="6"/><circle cx="1137.7" cy="1068.5" r="6"/><circle cx="1140.8" cy="1080" r="6"/><circle cx="1155.4" cy="1066.5" r="6"/><circle cx="1147.7" cy="1067.5" r="6"/><circle cx="1164.8" cy="1068.1" r="6"/><circle cx="1175.2" cy="1058.8" r="6"/><circle cx="1171.7" cy="1052.5" r="6"/><circle cx="1170.6" cy="1072.3" r="6"/><circle cx="1183.1" cy="1066" r="6"/><circle cx="1185.6" cy="1077.5" r="6"/><circle cx="1196.7" cy="1077.5" r="6"/><circle cx="1173.1" cy="1083.8" r="6"/><circle cx="1166.2" cy="1094.6" r="6"/><circle cx="1165.8" cy="1085.8" r="6"/><circle cx="1151.7" cy="1101.5" r="6"/><circle cx="1200.2" cy="1048.3" r="6"/><circle cx="1201.2" cy="1058.8" r="6"/><circle cx="1211.2" cy="1070.8" r="6"/><circle cx="1225.2" cy="1067.7" r="6"/><circle cx="1232.5" cy="1057.3" r="6"/><circle cx="1221" cy="1087.1" r="6"/><circle cx="1253.3" cy="1059.4" r="6"/><circle cx="1248.5" cy="1065" r="6"/><circle cx="1267.9" cy="1064.4" r="6"/><circle cx="1269.6" cy="1046.2" r="6"/><circle cx="1283.1" cy="1060.4" r="6"/><circle cx="1277.9" cy="1077.1" r="6"/><circle cx="1329" cy="1038.3" r="6"/></g>
<path class="ax" d="M1044.3 1165.9V1143.9M1044.3 674.2V696.2M1240.8 1165.9V1143.9M1240.8 674.2V696.2M1437.3 1165.9V1143.9M1437.3 674.2V696.2M946.1 1079.1H968.1M1535.5 1079.1H1513.5M946.1 963.4H968.1M1535.5 963.4H1513.5M946.1 847.7H968.1M1535.5 847.7H1513.5M946.1 732H968.1M1535.5 732H1513.5"/>
<rect class="ax" x="946.1" y="674.2" width="589.4" height="491.7"/>
<text class="t" text-anchor="end" x="930.5" y="1095.1">0</text>
<text class="t" text-anchor="end" x="930.5" y="979.4">4</text>
<text class="t" text-anchor="end" x="930.5" y="863.7">8</text>
<text class="t" text-anchor="end" x="930.5" y="748">12</text>
<text class="t" text-anchor="middle" x="1044.3" y="1206.8">400</text>
<text class="t" text-anchor="middle" x="1240.8" y="1206.8">800</text>
<text class="t" text-anchor="middle" x="1437.3" y="1206.8">1200</text>
<text class="t" x="994.8" y="756.2">(d)</text>
<text class="c" x="1251.1" y="754.9" xml:space="preserve">CORR= 0.60</text>
<text class="t" transform="translate(839.5 1042.8) rotate(-90)" xml:space="preserve">Δz<tspan class="s" dy="12">500 hPa</tspan><tspan dy="-12"> [m]</tspan></text>
</g>
<text class="t" x="325" y="577.3" xml:space="preserve">z<tspan class="s" dy="12">500 hPa</tspan><tspan dy="-12"> [m]</tspan></text>
<text class="t" x="1021.4" y="591" xml:space="preserve">ΔSHF+<tspan dx="1.6">ΔLHF</tspan> <tspan dx="0.5">[W</tspan> m<tspan class="s" dy="-23.5">-2</tspan><tspan dy="23.5" dx="1"> ]</tspan></text>
<text class="t" x="309" y="1251.5" xml:space="preserve">ΔT<tspan class="s" dy="12">850 hPa</tspan><tspan dy="-12"> [m]</tspan></text>
<text class="t" x="1082" y="1251">PBL Height [m]</text>
</svg>
</body></html>
